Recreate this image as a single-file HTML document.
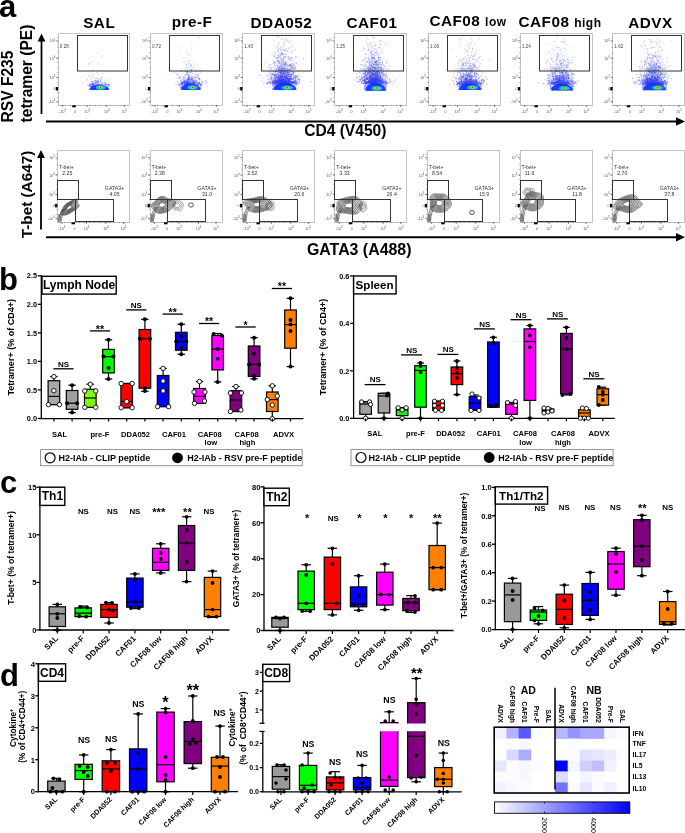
<!DOCTYPE html>
<html><head><meta charset="utf-8"><title>Figure</title>
<style>
html,body{margin:0;padding:0;background:#fff;}
svg{display:block;will-change:transform;}
text{font-family:"Liberation Sans",sans-serif;}
</style></head><body>
<svg width="685" height="833" viewBox="0 0 685 833">
<rect width="685" height="833" fill="#fff"/>
<text x="-1" y="17" font-size="31" text-anchor="start" font-weight="bold" fill="#000">a</text>
<text x="99.2" y="27.6" font-size="15.3" text-anchor="middle" font-weight="bold" fill="#000" letter-spacing="0.5">SAL</text>
<text x="192" y="27.4" font-size="15.3" text-anchor="middle" font-weight="bold" fill="#000" letter-spacing="0.5">pre-F</text>
<text x="281.4" y="27.6" font-size="15.3" text-anchor="middle" font-weight="bold" fill="#000" letter-spacing="0.5">DDA052</text>
<text x="372" y="27.6" font-size="15.3" text-anchor="middle" font-weight="bold" fill="#000" letter-spacing="0.5">CAF01</text>
<text x="468" y="26.2" font-size="15.3" text-anchor="middle" font-weight="bold" fill="#000" letter-spacing="0.5">CAF08 <tspan font-size="12">low</tspan></text>
<text x="560" y="26.5" font-size="15.3" text-anchor="middle" font-weight="bold" fill="#000" letter-spacing="0.5">CAF08 <tspan font-size="12">high</tspan></text>
<text x="650.5" y="27.8" font-size="15.3" text-anchor="middle" font-weight="bold" fill="#000" letter-spacing="0.5">ADVX</text>
<text transform="translate(13.3,86.5) rotate(-90)" font-size="15.6" font-weight="bold" text-anchor="middle">RSV F235</text>
<text transform="translate(31.8,73.5) rotate(-90)" font-size="15.6" font-weight="bold" text-anchor="middle">tetramer (PE)</text>
<text transform="translate(31.6,194.5) rotate(-90)" font-size="15.3" font-weight="bold" text-anchor="middle">T-bet (A647)</text>
<line x1="41.5" y1="40" x2="41.5" y2="114" stroke="#000" stroke-width="1.8"/>
<polygon points="37.6,41.5 45.4,41.5 41.5,33.5" fill="#000"/>
<line x1="46" y1="121.5" x2="678" y2="121.5" stroke="#000" stroke-width="2"/>
<polygon points="676,117.3 685,121.5 676,125.7" fill="#000"/>
<line x1="41" y1="157" x2="41" y2="229.5" stroke="#000" stroke-width="1.8"/>
<polygon points="37.1,158 44.9,158 41,150" fill="#000"/>
<line x1="46" y1="237.3" x2="678" y2="237.3" stroke="#000" stroke-width="2"/>
<polygon points="676,233.1 685,237.3 676,241.5" fill="#000"/>
<text x="345.3" y="136.2" font-size="15.6" text-anchor="middle" font-weight="bold" fill="#000">CD4 (V450)</text>
<text x="359.2" y="254.9" font-size="15.9" text-anchor="middle" font-weight="bold" fill="#000">GATA3 (A488)</text>
<defs><radialGradient id="hot"><stop offset="0" stop-color="#e00000"/><stop offset="0.14" stop-color="#ffb000"/><stop offset="0.26" stop-color="#40e040"/><stop offset="0.42" stop-color="#00c8ff"/><stop offset="0.62" stop-color="#0050ff"/><stop offset="0.85" stop-color="#1020f0" stop-opacity="0.85"/><stop offset="1" stop-color="#3040ff" stop-opacity="0"/></radialGradient><linearGradient id="cbar" x1="0" x2="1" y1="0" y2="0"><stop offset="0" stop-color="#ffffff"/><stop offset="1" stop-color="#0000ff"/></linearGradient></defs>
<defs><filter id="bl" x="-20%" y="-20%" width="140%" height="140%"><feGaussianBlur stdDeviation="0.55"/></filter><filter id="bl2" x="-20%" y="-20%" width="140%" height="140%"><feGaussianBlur stdDeviation="0.35"/></filter></defs>
<rect x="58.5" y="33.5" width="71" height="72" fill="none" stroke="#c4c4c4" stroke-width="1"/>
<line x1="56.2" y1="40.8" x2="58.2" y2="40.8" stroke="#333" stroke-width="0.6"/>
<text x="55.4" y="42.1" font-size="3.6" text-anchor="end" font-weight="normal" fill="#555">10<tspan dy="-1.6" font-size="2.8">5</tspan></text>
<line x1="56.2" y1="58.3" x2="58.2" y2="58.3" stroke="#333" stroke-width="0.6"/>
<text x="55.4" y="59.6" font-size="3.6" text-anchor="end" font-weight="normal" fill="#555">10<tspan dy="-1.6" font-size="2.8">4</tspan></text>
<line x1="56.2" y1="77.6" x2="58.2" y2="77.6" stroke="#333" stroke-width="0.6"/>
<text x="55.4" y="78.9" font-size="3.6" text-anchor="end" font-weight="normal" fill="#555">10<tspan dy="-1.6" font-size="2.8">3</tspan></text>
<line x1="56.2" y1="88.9" x2="58.2" y2="88.9" stroke="#333" stroke-width="0.6"/>
<text x="55.4" y="90.2" font-size="3.6" text-anchor="end" font-weight="normal" fill="#555">0</text>
<line x1="56.2" y1="101.4" x2="58.2" y2="101.4" stroke="#333" stroke-width="0.6"/>
<text x="55.4" y="102.7" font-size="3.6" text-anchor="end" font-weight="normal" fill="#555">-10<tspan dy="-1.6" font-size="2.8">3</tspan></text>
<line x1="57.2" y1="37.5" x2="58.2" y2="37.5" stroke="#555" stroke-width="0.5"/>
<line x1="57.2" y1="42.5" x2="58.2" y2="42.5" stroke="#555" stroke-width="0.5"/>
<line x1="57.2" y1="47.5" x2="58.2" y2="47.5" stroke="#555" stroke-width="0.5"/>
<line x1="57.2" y1="52.5" x2="58.2" y2="52.5" stroke="#555" stroke-width="0.5"/>
<line x1="57.2" y1="57.5" x2="58.2" y2="57.5" stroke="#555" stroke-width="0.5"/>
<line x1="57.2" y1="62.5" x2="58.2" y2="62.5" stroke="#555" stroke-width="0.5"/>
<line x1="57.2" y1="67.5" x2="58.2" y2="67.5" stroke="#555" stroke-width="0.5"/>
<line x1="57.2" y1="72.5" x2="58.2" y2="72.5" stroke="#555" stroke-width="0.5"/>
<line x1="57.2" y1="77.5" x2="58.2" y2="77.5" stroke="#555" stroke-width="0.5"/>
<line x1="57.2" y1="82.5" x2="58.2" y2="82.5" stroke="#555" stroke-width="0.5"/>
<line x1="57.2" y1="87.5" x2="58.2" y2="87.5" stroke="#555" stroke-width="0.5"/>
<line x1="57.2" y1="92.5" x2="58.2" y2="92.5" stroke="#555" stroke-width="0.5"/>
<line x1="57.2" y1="97.5" x2="58.2" y2="97.5" stroke="#555" stroke-width="0.5"/>
<line x1="57.2" y1="102.5" x2="58.2" y2="102.5" stroke="#555" stroke-width="0.5"/>
<rect x="55.8" y="87" width="2.2" height="3.5" fill="#000" stroke="none" stroke-width="0"/>
<line x1="62.7" y1="105" x2="62.7" y2="107" stroke="#333" stroke-width="0.6"/>
<text x="62.7" y="112.5" font-size="3.6" text-anchor="middle" font-weight="normal" fill="#555">-10<tspan dy="-1.6" font-size="2.8">3</tspan></text>
<line x1="75.2" y1="105" x2="75.2" y2="107" stroke="#333" stroke-width="0.6"/>
<text x="75.2" y="112.5" font-size="3.6" text-anchor="middle" font-weight="normal" fill="#555">0</text>
<line x1="87.2" y1="105" x2="87.2" y2="107" stroke="#333" stroke-width="0.6"/>
<text x="87.2" y="112.5" font-size="3.6" text-anchor="middle" font-weight="normal" fill="#555">10<tspan dy="-1.6" font-size="2.8">3</tspan></text>
<line x1="106.7" y1="105" x2="106.7" y2="107" stroke="#333" stroke-width="0.6"/>
<text x="106.7" y="112.5" font-size="3.6" text-anchor="middle" font-weight="normal" fill="#555">10<tspan dy="-1.6" font-size="2.8">4</tspan></text>
<line x1="124.2" y1="105" x2="124.2" y2="107" stroke="#333" stroke-width="0.6"/>
<text x="124.2" y="112.5" font-size="3.6" text-anchor="middle" font-weight="normal" fill="#555">10<tspan dy="-1.6" font-size="2.8">5</tspan></text>
<line x1="60.2" y1="105" x2="60.2" y2="106" stroke="#555" stroke-width="0.5"/>
<line x1="65.2" y1="105" x2="65.2" y2="106" stroke="#555" stroke-width="0.5"/>
<line x1="70.2" y1="105" x2="70.2" y2="106" stroke="#555" stroke-width="0.5"/>
<line x1="75.2" y1="105" x2="75.2" y2="106" stroke="#555" stroke-width="0.5"/>
<line x1="80.2" y1="105" x2="80.2" y2="106" stroke="#555" stroke-width="0.5"/>
<line x1="85.2" y1="105" x2="85.2" y2="106" stroke="#555" stroke-width="0.5"/>
<line x1="90.2" y1="105" x2="90.2" y2="106" stroke="#555" stroke-width="0.5"/>
<line x1="95.2" y1="105" x2="95.2" y2="106" stroke="#555" stroke-width="0.5"/>
<line x1="100.2" y1="105" x2="100.2" y2="106" stroke="#555" stroke-width="0.5"/>
<line x1="105.2" y1="105" x2="105.2" y2="106" stroke="#555" stroke-width="0.5"/>
<line x1="110.2" y1="105" x2="110.2" y2="106" stroke="#555" stroke-width="0.5"/>
<line x1="115.2" y1="105" x2="115.2" y2="106" stroke="#555" stroke-width="0.5"/>
<line x1="120.2" y1="105" x2="120.2" y2="106" stroke="#555" stroke-width="0.5"/>
<line x1="125.2" y1="105" x2="125.2" y2="106" stroke="#555" stroke-width="0.5"/>
<rect x="72.2" y="105.3" width="3.5" height="2" fill="#000" stroke="none" stroke-width="0"/>
<path d="M97.7 81.4h0M99.2 80.7h0M96.3 83.9h0M93.2 74.4h0M95.4 80.9h0M92.7 81.0h0M98.0 84.4h0M104.5 80.1h0M95.2 80.2h0M94.6 80.2h0M100.2 82.2h0M99.5 79.0h0M98.2 78.1h0M93.0 81.9h0M97.6 83.1h0M101.2 77.6h0M90.9 81.8h0M95.4 81.5h0M88.1 84.0h0M91.2 83.5h0M88.4 76.2h0M96.5 81.6h0M91.3 84.4h0M99.1 79.1h0M98.5 82.5h0M96.8 72.6h0M85.0 81.1h0M95.0 80.5h0M97.5 82.7h0M98.3 84.4h0M90.0 62.7h0M95.3 82.6h0M92.8 76.1h0M93.6 83.9h0M103.0 73.4h0M93.6 84.4h0M97.5 81.0h0M102.2 84.1h0M94.8 83.7h0M97.1 78.1h0M98.3 73.8h0M98.0 81.8h0M91.5 78.6h0M98.1 80.1h0M104.5 82.6h0M89.9 75.5h0M102.0 77.1h0M98.3 83.1h0M94.5 81.6h0M107.8 79.9h0M101.5 79.9h0M91.7 84.2h0M98.1 63.1h0M100.6 84.5h0M96.7 78.8h0M101.1 79.3h0M97.4 83.3h0M101.1 81.8h0M105.0 83.0h0M94.3 84.4h0M98.6 64.3h0M97.7 53.2h0M89.0 63.6h0M93.0 61.5h0M88.4 64.3h0M102.1 56.2h0M99.5 86.2h0M99.6 83.7h0M107.5 88.9h0M104.3 87.0h0M100.9 86.0h0M97.7 87.0h0M107.1 88.1h0M97.3 85.9h0M108.1 88.8h0M90.1 89.4h0M97.7 86.0h0M99.6 84.4h0M108.7 88.4h0M94.0 89.9h0M105.6 84.4h0M102.9 88.1h0M103.8 88.8h0M101.9 89.4h0M109.1 84.3h0M95.7 84.1h0M97.1 89.8h0M93.0 84.2h0M89.8 84.6h0M93.2 87.2h0M107.9 86.4h0M106.3 88.3h0M91.1 84.7h0M101.4 89.4h0M98.8 84.9h0M101.2 88.4h0M102.5 83.9h0M95.1 86.5h0M108.9 83.7h0M98.5 85.5h0M101.9 85.5h0M102.0 88.1h0M92.6 86.4h0M90.0 83.9h0M97.3 89.9h0M104.7 89.2h0M105.8 89.4h0M104.0 85.1h0M91.1 86.0h0M107.9 85.0h0M105.5 84.3h0M107.1 83.7h0M99.7 86.7h0M107.9 84.3h0M89.7 84.6h0M89.3 89.0h0M89.1 86.6h0M94.0 84.7h0M93.9 87.8h0M92.6 85.2h0M100.6 86.9h0M89.5 85.3h0M101.1 86.8h0M92.2 87.5h0M102.9 86.9h0M89.1 86.0h0M95.2 88.6h0M108.4 89.1h0M100.0 84.6h0M105.7 84.4h0M102.5 84.2h0M101.5 89.8h0M92.7 89.5h0M100.8 85.0h0M89.5 89.7h0M105.5 84.8h0M108.9 86.7h0M106.6 86.7h0M89.8 89.4h0M95.8 83.8h0M95.4 85.5h0M91.1 87.3h0M101.9 83.9h0M105.4 85.0h0M95.3 86.5h0M106.8 89.1h0M105.4 88.4h0M91.4 88.8h0M104.8 88.4h0M107.2 88.0h0M92.8 88.9h0M100.7 87.9h0M102.1 88.2h0M101.5 85.4h0M90.7 84.6h0M102.6 88.3h0M102.0 84.6h0M106.0 89.4h0M105.6 87.3h0M95.6 85.6h0M103.9 89.5h0M106.9 84.5h0M107.5 86.8h0M92.1 84.1h0M89.3 89.7h0M102.4 87.2h0M93.2 88.6h0M100.5 85.3h0M108.5 88.6h0M96.7 88.0h0M94.0 87.6h0M98.3 89.6h0M102.5 86.3h0M90.8 86.2h0M96.7 87.9h0M91.5 88.8h0M102.6 85.6h0M106.1 87.8h0M96.6 84.8h0M96.5 87.0h0M100.0 88.4h0M93.2 83.9h0M93.9 88.2h0M95.6 83.6h0M98.3 89.6h0M90.4 86.5h0M104.5 86.1h0M100.9 88.1h0M95.0 86.8h0M90.3 88.2h0M104.7 84.0h0M91.5 87.1h0M91.5 87.1h0M91.4 89.5h0M90.4 83.8h0M107.7 86.4h0M94.4 87.5h0M95.1 87.0h0M106.2 84.0h0M101.7 87.3h0M92.6 84.9h0M97.8 84.8h0M107.3 89.1h0M96.6 84.8h0M103.6 86.4h0M90.7 88.3h0M104.0 88.0h0M105.0 87.0h0M106.0 88.7h0M102.9 86.5h0M96.5 87.5h0M90.0 88.7h0M99.6 87.8h0M104.6 87.6h0M92.7 86.1h0M94.3 87.1h0M100.0 86.0h0M104.4 88.3h0M107.5 85.9h0M91.3 86.5h0M92.6 88.3h0M105.5 86.7h0M102.2 85.7h0M103.8 88.8h0M109.6 85.9h0M108.4 88.9h0M106.4 88.5h0M105.0 86.4h0M97.0 88.1h0M102.2 83.7h0M92.6 86.0h0M104.6 89.0h0M104.6 87.2h0M103.8 87.1h0M98.0 87.8h0M96.6 87.8h0" stroke="#2030e8" stroke-width="0.5" stroke-linecap="square" opacity="0.6"/>
<path d="M100.4 81.4h0M93.6 84.5h0M94.1 85.7h0M101.5 85.2h0M93.9 84.5h0M100.7 81.0h0M92.7 70.5h0M91.3 84.8h0M87.8 85.0h0M108.8 85.1h0M96.4 82.7h0M99.6 84.6h0M98.0 85.3h0M99.1 84.9h0M98.5 81.1h0M109.0 85.0h0M92.3 83.4h0M89.4 85.8h0M92.5 85.6h0M90.6 85.4h0M102.4 85.3h0M102.9 85.4h0M92.7 82.2h0M90.3 85.8h0M96.2 85.6h0M106.1 84.8h0M82.2 82.9h0M101.2 86.0h0M92.1 83.9h0M104.1 84.7h0M92.1 85.0h0M96.6 81.0h0M89.7 85.5h0M92.7 84.6h0M106.1 84.7h0M102.9 82.9h0M95.9 82.2h0M93.3 84.7h0M87.5 79.9h0M96.0 82.3h0M98.0 85.2h0M97.7 86.0h0M97.7 81.0h0M91.8 81.9h0M97.8 83.3h0M98.0 85.8h0M105.5 83.0h0M108.8 84.6h0M97.4 85.5h0M93.9 83.2h0M97.8 85.9h0M94.8 77.8h0M94.0 83.4h0M97.9 84.5h0" stroke="#1a22f0" stroke-width="0.6" stroke-linecap="square" opacity="0.75"/>
<g filter="url(#bl)">
<path d="M90.2 89.9 L108.7 89.9 C109.7 87.4 104.7 84.7 99.5 84.7 C93.2 84.7 89.2 86.4 90.2 89.9 Z" fill="#1030ff" opacity="0.92"/>
<ellipse cx="100.6" cy="87.5" rx="4.8" ry="2.2" fill="#00c0ff"/>
<ellipse cx="100.6" cy="87.4" rx="3" ry="1.6" fill="#30e060"/>
<ellipse cx="100.6" cy="87.3" rx="1.7" ry="1.1" fill="#ffd000"/>
<ellipse cx="100.6" cy="87.3" rx="0.8" ry="0.75" fill="#ff2000"/>
</g>
<rect x="77.5" y="35.5" width="50" height="35.5" fill="none" stroke="#333" stroke-width="1"/>
<text x="59.8" y="47.5" font-size="4.6" text-anchor="start" font-weight="normal" fill="#444">0.28</text>
<rect x="150.5" y="33.5" width="72" height="72" fill="none" stroke="#c4c4c4" stroke-width="1"/>
<line x1="148.4" y1="40.8" x2="150.4" y2="40.8" stroke="#333" stroke-width="0.6"/>
<text x="147.6" y="42.1" font-size="3.6" text-anchor="end" font-weight="normal" fill="#555">10<tspan dy="-1.6" font-size="2.8">5</tspan></text>
<line x1="148.4" y1="58.3" x2="150.4" y2="58.3" stroke="#333" stroke-width="0.6"/>
<text x="147.6" y="59.6" font-size="3.6" text-anchor="end" font-weight="normal" fill="#555">10<tspan dy="-1.6" font-size="2.8">4</tspan></text>
<line x1="148.4" y1="77.6" x2="150.4" y2="77.6" stroke="#333" stroke-width="0.6"/>
<text x="147.6" y="78.9" font-size="3.6" text-anchor="end" font-weight="normal" fill="#555">10<tspan dy="-1.6" font-size="2.8">3</tspan></text>
<line x1="148.4" y1="88.9" x2="150.4" y2="88.9" stroke="#333" stroke-width="0.6"/>
<text x="147.6" y="90.2" font-size="3.6" text-anchor="end" font-weight="normal" fill="#555">0</text>
<line x1="148.4" y1="101.4" x2="150.4" y2="101.4" stroke="#333" stroke-width="0.6"/>
<text x="147.6" y="102.7" font-size="3.6" text-anchor="end" font-weight="normal" fill="#555">-10<tspan dy="-1.6" font-size="2.8">3</tspan></text>
<line x1="149.4" y1="37.5" x2="150.4" y2="37.5" stroke="#555" stroke-width="0.5"/>
<line x1="149.4" y1="42.5" x2="150.4" y2="42.5" stroke="#555" stroke-width="0.5"/>
<line x1="149.4" y1="47.5" x2="150.4" y2="47.5" stroke="#555" stroke-width="0.5"/>
<line x1="149.4" y1="52.5" x2="150.4" y2="52.5" stroke="#555" stroke-width="0.5"/>
<line x1="149.4" y1="57.5" x2="150.4" y2="57.5" stroke="#555" stroke-width="0.5"/>
<line x1="149.4" y1="62.5" x2="150.4" y2="62.5" stroke="#555" stroke-width="0.5"/>
<line x1="149.4" y1="67.5" x2="150.4" y2="67.5" stroke="#555" stroke-width="0.5"/>
<line x1="149.4" y1="72.5" x2="150.4" y2="72.5" stroke="#555" stroke-width="0.5"/>
<line x1="149.4" y1="77.5" x2="150.4" y2="77.5" stroke="#555" stroke-width="0.5"/>
<line x1="149.4" y1="82.5" x2="150.4" y2="82.5" stroke="#555" stroke-width="0.5"/>
<line x1="149.4" y1="87.5" x2="150.4" y2="87.5" stroke="#555" stroke-width="0.5"/>
<line x1="149.4" y1="92.5" x2="150.4" y2="92.5" stroke="#555" stroke-width="0.5"/>
<line x1="149.4" y1="97.5" x2="150.4" y2="97.5" stroke="#555" stroke-width="0.5"/>
<line x1="149.4" y1="102.5" x2="150.4" y2="102.5" stroke="#555" stroke-width="0.5"/>
<rect x="148" y="87" width="2.2" height="3.5" fill="#000" stroke="none" stroke-width="0"/>
<line x1="154.9" y1="105" x2="154.9" y2="107" stroke="#333" stroke-width="0.6"/>
<text x="154.9" y="112.5" font-size="3.6" text-anchor="middle" font-weight="normal" fill="#555">-10<tspan dy="-1.6" font-size="2.8">3</tspan></text>
<line x1="167.4" y1="105" x2="167.4" y2="107" stroke="#333" stroke-width="0.6"/>
<text x="167.4" y="112.5" font-size="3.6" text-anchor="middle" font-weight="normal" fill="#555">0</text>
<line x1="179.4" y1="105" x2="179.4" y2="107" stroke="#333" stroke-width="0.6"/>
<text x="179.4" y="112.5" font-size="3.6" text-anchor="middle" font-weight="normal" fill="#555">10<tspan dy="-1.6" font-size="2.8">3</tspan></text>
<line x1="198.9" y1="105" x2="198.9" y2="107" stroke="#333" stroke-width="0.6"/>
<text x="198.9" y="112.5" font-size="3.6" text-anchor="middle" font-weight="normal" fill="#555">10<tspan dy="-1.6" font-size="2.8">4</tspan></text>
<line x1="216.4" y1="105" x2="216.4" y2="107" stroke="#333" stroke-width="0.6"/>
<text x="216.4" y="112.5" font-size="3.6" text-anchor="middle" font-weight="normal" fill="#555">10<tspan dy="-1.6" font-size="2.8">5</tspan></text>
<line x1="152.4" y1="105" x2="152.4" y2="106" stroke="#555" stroke-width="0.5"/>
<line x1="157.4" y1="105" x2="157.4" y2="106" stroke="#555" stroke-width="0.5"/>
<line x1="162.4" y1="105" x2="162.4" y2="106" stroke="#555" stroke-width="0.5"/>
<line x1="167.4" y1="105" x2="167.4" y2="106" stroke="#555" stroke-width="0.5"/>
<line x1="172.4" y1="105" x2="172.4" y2="106" stroke="#555" stroke-width="0.5"/>
<line x1="177.4" y1="105" x2="177.4" y2="106" stroke="#555" stroke-width="0.5"/>
<line x1="182.4" y1="105" x2="182.4" y2="106" stroke="#555" stroke-width="0.5"/>
<line x1="187.4" y1="105" x2="187.4" y2="106" stroke="#555" stroke-width="0.5"/>
<line x1="192.4" y1="105" x2="192.4" y2="106" stroke="#555" stroke-width="0.5"/>
<line x1="197.4" y1="105" x2="197.4" y2="106" stroke="#555" stroke-width="0.5"/>
<line x1="202.4" y1="105" x2="202.4" y2="106" stroke="#555" stroke-width="0.5"/>
<line x1="207.4" y1="105" x2="207.4" y2="106" stroke="#555" stroke-width="0.5"/>
<line x1="212.4" y1="105" x2="212.4" y2="106" stroke="#555" stroke-width="0.5"/>
<line x1="217.4" y1="105" x2="217.4" y2="106" stroke="#555" stroke-width="0.5"/>
<rect x="164.4" y="105.3" width="3.5" height="2" fill="#000" stroke="none" stroke-width="0"/>
<path d="M195.7 70.9h0M187.2 70.8h0M190.5 67.0h0M198.2 73.3h0M197.4 82.4h0M188.6 79.5h0M187.9 79.7h0M182.6 79.5h0M185.6 75.3h0M191.3 78.5h0M191.2 79.9h0M189.7 74.1h0M194.3 80.8h0M185.2 79.3h0M188.9 79.2h0M192.9 78.8h0M192.2 83.2h0M194.7 82.2h0M191.2 83.1h0M187.6 71.7h0M191.0 79.7h0M184.0 77.1h0M180.7 79.1h0M192.1 80.1h0M188.9 80.4h0M190.7 80.3h0M180.4 77.5h0M187.3 75.1h0M186.1 82.0h0M184.7 81.3h0M177.5 82.6h0M187.4 81.9h0M193.8 83.0h0M191.1 69.7h0M186.0 64.1h0M189.1 81.0h0M193.1 77.4h0M174.9 83.2h0M188.5 79.0h0M192.0 70.9h0M192.7 82.5h0M197.9 83.0h0M195.0 79.3h0M190.8 76.1h0M190.7 82.8h0M193.2 80.7h0M186.4 83.0h0M188.9 60.4h0M193.8 82.8h0M199.3 81.6h0M188.3 82.6h0M188.9 71.7h0M190.2 79.8h0M196.1 80.5h0M189.0 75.6h0M196.7 76.7h0M184.2 82.9h0M188.2 79.6h0M188.1 75.2h0M193.2 81.1h0M194.5 80.3h0M181.4 83.2h0M184.4 83.5h0M190.9 83.2h0M185.8 82.3h0M181.3 83.2h0M194.5 78.0h0M191.7 76.2h0M191.7 82.7h0M186.7 83.3h0M194.5 65.8h0M187.9 74.4h0M194.8 83.1h0M184.4 78.3h0M184.7 83.2h0M190.2 80.8h0M185.5 70.2h0M192.6 79.1h0M190.5 81.4h0M184.4 83.4h0M189.5 82.4h0M187.3 83.4h0M193.9 83.2h0M185.9 82.1h0M186.9 83.3h0M195.4 82.6h0M200.7 73.3h0M199.5 79.2h0M189.5 78.2h0M190.3 82.5h0M197.1 81.3h0M188.5 77.3h0M184.1 80.7h0M189.8 72.6h0M191.5 82.7h0M184.9 82.5h0M180.7 80.4h0M181.7 71.5h0M192.6 79.2h0M185.2 83.5h0M188.4 76.9h0M190.2 82.9h0M192.3 82.6h0M187.4 71.9h0M191.7 79.8h0M184.6 74.2h0M187.3 82.9h0M183.9 81.0h0M195.0 83.3h0M189.0 80.2h0M185.3 77.7h0M187.3 81.8h0M188.0 67.8h0M192.8 82.1h0M180.9 80.4h0M183.8 77.8h0M187.2 83.4h0M202.2 82.1h0M194.1 80.7h0M188.6 79.2h0M192.8 67.5h0M199.8 69.2h0M187.9 78.5h0M187.3 82.3h0M195.4 80.8h0M191.7 81.7h0M192.6 80.7h0M186.5 83.4h0M199.1 82.4h0M198.0 74.9h0M192.1 74.1h0M192.7 83.2h0M178.7 78.2h0M192.4 82.1h0M188.1 75.6h0M191.4 72.4h0M192.7 76.3h0M187.4 81.6h0M180.4 83.2h0M191.0 78.8h0M185.3 74.8h0M187.4 81.0h0M186.0 71.7h0M187.4 71.3h0M177.2 81.8h0M195.4 68.4h0M190.5 83.5h0M194.9 77.5h0M199.4 81.2h0M189.3 82.8h0M179.8 77.6h0M184.5 71.2h0M182.9 82.6h0M186.6 79.1h0M189.6 77.8h0M178.8 83.5h0M190.9 81.5h0M181.4 82.7h0M190.7 70.4h0M188.6 79.8h0M187.5 82.9h0M188.8 81.1h0M186.4 67.0h0M186.0 80.2h0M180.5 78.6h0M189.0 68.2h0M198.7 78.7h0M199.4 79.2h0M196.0 77.6h0M192.8 79.4h0M185.7 69.4h0M196.6 80.0h0M188.9 70.0h0M188.8 77.2h0M187.6 80.6h0M189.6 70.6h0M186.9 83.2h0M188.7 75.1h0M183.6 77.6h0M187.2 80.3h0M200.9 83.4h0M188.8 77.9h0M187.9 77.6h0M191.9 79.8h0M192.8 81.9h0M183.4 79.5h0M188.1 78.0h0M193.9 76.0h0M190.5 72.6h0M189.8 80.8h0M197.2 71.7h0M185.7 81.9h0M189.6 72.2h0M186.5 80.2h0M196.8 80.3h0M179.1 77.3h0M185.7 83.0h0M186.4 72.8h0M192.6 80.2h0M192.3 82.1h0M196.3 78.2h0M181.0 70.5h0M193.0 73.1h0M187.6 82.8h0M185.7 83.1h0M191.9 77.3h0M184.4 81.4h0M178.4 78.6h0M187.2 73.8h0M181.4 82.0h0M191.8 43.8h0M185.7 58.4h0M191.3 65.2h0M191.5 71.3h0M187.7 54.0h0M199.2 37.6h0M191.4 64.7h0M198.1 65.2h0M194.2 61.7h0M186.5 65.0h0M187.8 61.1h0M191.7 48.3h0M189.9 61.7h0M189.9 64.1h0M188.3 65.7h0M181.1 70.0h0M188.6 55.5h0M179.2 54.1h0M191.4 69.7h0M186.2 64.1h0M186.3 51.5h0M188.6 63.6h0M190.9 65.8h0M182.9 57.7h0M181.4 47.2h0M191.0 86.6h0M198.7 85.8h0M190.0 87.3h0M189.9 89.6h0M186.0 83.5h0M199.7 89.6h0M186.7 87.4h0M194.8 88.4h0M188.7 87.2h0M200.0 88.9h0M200.3 84.9h0M180.5 87.7h0M201.3 84.5h0M192.9 86.3h0M181.5 87.5h0M190.6 84.0h0M181.0 83.0h0M191.7 88.4h0M183.9 88.5h0M187.8 87.4h0M186.5 84.9h0M192.8 87.4h0M197.6 83.1h0M200.0 87.4h0M187.0 86.8h0M192.1 87.1h0M180.0 85.8h0M187.9 84.2h0M200.6 87.9h0M182.5 85.9h0M198.6 88.0h0M193.9 85.2h0M186.2 83.1h0M196.6 86.5h0M186.1 87.1h0M199.1 89.3h0M181.7 89.1h0M182.5 82.9h0M196.0 88.2h0M189.6 84.4h0M183.1 87.7h0M190.9 85.3h0M186.3 84.9h0M191.7 86.1h0M195.9 86.4h0M198.3 87.6h0M181.2 87.2h0M192.6 87.5h0M201.0 85.3h0M189.8 87.5h0M196.4 85.1h0M182.0 87.0h0M198.7 85.9h0M192.4 86.7h0M199.0 82.6h0M196.8 86.2h0M198.6 84.1h0M181.1 85.4h0M195.3 83.0h0M184.1 87.4h0M185.6 89.1h0M186.9 85.1h0M192.6 83.3h0M193.4 87.1h0M199.9 83.4h0M180.2 89.1h0M184.1 83.4h0M187.7 85.2h0M197.5 86.2h0M191.7 83.4h0M190.9 84.9h0M196.2 84.5h0M194.0 87.8h0M186.1 89.8h0M181.8 85.2h0M189.8 88.4h0M198.8 83.5h0M192.8 86.8h0M181.0 85.7h0M189.4 84.6h0M188.2 88.6h0M192.4 88.0h0M192.5 83.5h0M200.4 84.7h0M187.2 88.6h0M188.7 89.8h0M193.1 87.0h0M199.0 89.0h0M195.1 89.8h0M190.0 88.0h0M197.4 87.3h0M190.3 84.1h0M200.6 85.2h0M186.0 87.1h0M182.6 89.4h0M197.8 84.7h0M186.3 85.4h0M198.1 82.7h0M193.0 87.7h0M190.8 85.8h0M181.8 88.4h0M196.8 84.2h0M181.3 87.4h0M200.7 87.5h0M198.8 85.9h0M186.4 83.9h0M182.6 85.5h0M198.9 88.0h0M190.2 83.9h0M182.6 83.2h0M190.6 85.9h0M185.2 84.2h0M188.7 88.4h0M193.7 88.5h0M199.6 89.5h0M197.1 88.7h0M183.4 87.3h0M190.2 83.9h0M190.5 88.6h0M201.2 87.9h0M181.8 88.0h0M190.9 87.7h0M199.6 88.6h0M188.5 84.7h0M185.5 87.5h0M191.9 86.3h0M186.8 85.0h0M199.8 84.9h0M181.7 83.7h0M184.3 86.1h0M181.7 85.2h0M195.2 85.6h0M186.2 88.8h0M199.3 87.5h0M199.1 87.5h0M200.0 89.8h0M185.4 84.1h0M179.9 86.3h0M188.2 83.2h0M200.6 85.4h0M196.3 89.5h0M181.2 83.1h0M195.0 88.1h0M199.6 88.9h0M200.7 86.3h0M195.3 88.4h0M198.5 85.8h0M198.0 85.1h0M187.6 86.2h0M182.0 83.9h0M195.5 84.8h0M182.8 84.8h0M188.2 89.8h0M201.3 85.0h0M191.9 84.2h0M191.1 89.5h0M200.3 83.5h0M186.0 89.6h0M201.4 88.8h0M199.5 87.3h0M187.7 85.7h0M186.9 84.0h0M182.6 83.3h0M199.6 83.3h0M183.9 85.1h0M180.1 85.5h0M199.0 89.3h0M192.8 86.5h0M194.3 89.8h0M195.7 87.8h0M180.8 83.6h0M181.9 86.6h0M190.6 83.7h0M181.0 82.8h0M190.7 89.5h0M195.7 85.0h0M194.0 83.9h0M193.2 83.3h0M180.9 87.3h0M185.0 85.9h0M199.2 82.6h0M182.5 87.8h0M191.4 84.4h0M181.0 88.3h0M200.1 86.1h0M183.6 86.5h0M188.7 85.9h0M191.7 87.5h0M195.4 89.8h0M200.1 88.4h0M195.7 83.0h0M187.4 86.2h0M181.5 84.2h0M195.1 83.3h0M200.8 83.9h0M180.3 84.3h0M196.6 89.6h0M183.7 88.0h0M189.8 88.8h0M191.1 87.7h0M193.1 84.8h0M201.2 85.4h0M194.7 85.8h0M188.3 84.7h0M195.3 85.6h0M189.9 88.2h0M188.8 83.1h0M187.8 84.5h0M190.5 86.0h0M185.9 87.5h0M185.1 87.3h0M183.1 87.9h0M189.4 83.3h0M186.2 83.8h0M197.9 84.8h0M198.1 84.6h0M187.3 88.1h0M193.2 89.9h0M199.3 87.6h0M187.6 82.7h0" stroke="#2030e8" stroke-width="0.5" stroke-linecap="square" opacity="0.6"/>
<path d="M186.8 83.3h0M194.0 84.1h0M193.4 81.8h0M186.3 81.1h0M184.4 84.4h0M191.3 84.9h0M189.1 83.5h0M195.6 83.1h0M205.1 80.5h0M194.5 82.9h0M189.4 82.3h0M188.7 83.7h0M184.7 83.6h0M184.4 76.9h0M183.8 81.7h0M187.4 84.3h0M187.2 83.6h0M194.0 83.5h0M187.3 84.3h0M188.5 79.9h0M182.6 84.7h0M199.2 83.5h0M192.6 83.5h0M200.0 78.9h0M194.3 83.1h0M198.3 84.2h0M188.2 81.4h0M193.8 78.1h0M205.4 82.8h0M182.5 82.8h0M196.5 84.5h0M199.5 83.0h0M192.1 81.2h0M194.1 84.9h0M197.1 82.2h0M185.8 82.7h0M192.1 79.0h0M184.5 83.3h0M185.6 81.2h0M186.0 84.4h0M188.8 83.1h0M190.5 84.9h0M192.3 84.7h0M181.2 82.0h0M201.4 70.3h0M196.5 82.9h0M194.0 82.1h0M187.5 83.9h0M189.1 84.6h0M192.9 84.9h0M192.1 79.7h0M179.7 84.9h0M194.1 81.9h0M207.0 82.2h0M178.7 85.0h0M195.6 74.8h0M191.8 84.3h0M189.0 82.2h0M197.8 84.0h0M182.6 81.9h0M190.6 84.5h0M198.4 75.2h0M188.5 83.0h0M187.2 83.0h0M190.3 82.7h0M187.0 82.4h0M198.9 83.4h0M184.2 61.8h0M194.9 83.1h0M182.2 84.2h0M193.6 84.7h0M189.0 75.7h0M174.2 72.4h0M189.6 84.3h0M183.3 82.7h0M187.0 81.5h0M198.8 78.7h0M183.0 82.9h0M183.3 83.5h0M198.2 84.7h0M190.3 79.4h0M198.8 77.1h0M191.6 84.8h0M184.4 81.6h0M189.3 78.2h0M197.0 85.0h0M195.3 84.2h0M189.7 76.8h0M189.9 84.3h0M189.0 79.5h0M186.2 71.5h0M201.2 84.7h0M189.7 78.6h0M182.9 77.6h0M186.8 79.6h0M194.0 82.9h0M193.5 80.8h0M188.8 83.9h0M185.7 82.8h0M189.8 84.5h0M179.7 76.2h0M181.9 84.2h0M194.4 83.7h0M186.8 80.8h0M191.9 77.4h0M196.9 82.1h0M193.5 84.7h0M189.8 81.9h0M202.4 81.6h0M193.6 82.4h0M187.5 82.5h0M194.0 83.8h0M192.1 69.7h0M184.5 82.8h0M190.1 77.9h0M188.7 82.9h0M177.9 74.9h0M188.6 77.1h0M188.0 73.0h0M187.0 82.6h0M179.8 84.3h0M187.5 82.9h0M189.4 83.8h0M190.3 84.7h0M182.9 81.2h0M193.4 83.2h0M182.4 83.5h0M188.3 84.8h0M197.4 76.7h0M185.5 84.6h0M186.6 82.4h0M196.1 77.5h0M187.4 79.6h0M187.9 82.2h0M191.0 84.3h0M195.9 82.1h0M176.5 73.9h0M184.7 82.8h0M183.6 82.8h0M183.2 81.2h0M184.6 84.1h0M184.6 81.5h0M191.4 81.1h0M184.4 81.3h0M190.4 83.1h0M192.0 82.7h0M185.3 83.1h0M190.4 83.7h0M199.4 78.8h0M191.6 84.5h0M185.9 84.9h0M189.3 80.6h0M184.2 80.1h0M191.3 84.8h0M194.8 80.9h0M184.8 80.8h0M188.4 82.8h0M196.3 74.8h0M186.7 82.4h0M190.8 84.6h0M183.6 82.4h0M184.8 81.3h0M186.6 74.9h0M202.3 83.0h0M187.3 82.6h0M186.6 72.6h0M186.4 84.1h0M188.7 81.0h0M193.5 84.2h0M190.7 85.0h0M201.6 84.8h0M190.9 83.8h0M198.1 84.6h0M191.3 70.0h0M193.2 81.3h0M181.3 81.3h0M188.9 84.0h0M189.2 83.7h0M188.2 78.2h0M177.2 84.4h0M194.8 81.5h0M187.4 80.4h0M187.1 83.1h0M188.2 78.9h0M188.3 83.3h0M192.0 83.1h0M182.3 83.9h0M184.2 84.6h0M191.3 78.4h0" stroke="#1a22f0" stroke-width="0.6" stroke-linecap="square" opacity="0.75"/>
<g filter="url(#bl)">
<path d="M181.4 89.9 L200.4 89.9 C201.4 87.4 196.4 83.7 190.9 83.7 C184.4 83.7 180.4 86.4 181.4 89.9 Z" fill="#1030ff" opacity="0.92"/>
<ellipse cx="192.5" cy="87.5" rx="4.9" ry="2.2" fill="#00c0ff"/>
<ellipse cx="192.5" cy="87.4" rx="3" ry="1.6" fill="#30e060"/>
<ellipse cx="192.5" cy="87.3" rx="1.7" ry="1.1" fill="#ffd000"/>
<ellipse cx="192.5" cy="87.3" rx="0.9" ry="0.75" fill="#ff2000"/>
</g>
<rect x="169.5" y="35.5" width="50" height="35.5" fill="none" stroke="#333" stroke-width="1"/>
<text x="152" y="47.5" font-size="4.6" text-anchor="start" font-weight="normal" fill="#444">0.72</text>
<rect x="242.5" y="33.5" width="72" height="72" fill="none" stroke="#c4c4c4" stroke-width="1"/>
<line x1="240.6" y1="40.8" x2="242.6" y2="40.8" stroke="#333" stroke-width="0.6"/>
<text x="239.8" y="42.1" font-size="3.6" text-anchor="end" font-weight="normal" fill="#555">10<tspan dy="-1.6" font-size="2.8">5</tspan></text>
<line x1="240.6" y1="58.3" x2="242.6" y2="58.3" stroke="#333" stroke-width="0.6"/>
<text x="239.8" y="59.6" font-size="3.6" text-anchor="end" font-weight="normal" fill="#555">10<tspan dy="-1.6" font-size="2.8">4</tspan></text>
<line x1="240.6" y1="77.6" x2="242.6" y2="77.6" stroke="#333" stroke-width="0.6"/>
<text x="239.8" y="78.9" font-size="3.6" text-anchor="end" font-weight="normal" fill="#555">10<tspan dy="-1.6" font-size="2.8">3</tspan></text>
<line x1="240.6" y1="88.9" x2="242.6" y2="88.9" stroke="#333" stroke-width="0.6"/>
<text x="239.8" y="90.2" font-size="3.6" text-anchor="end" font-weight="normal" fill="#555">0</text>
<line x1="240.6" y1="101.4" x2="242.6" y2="101.4" stroke="#333" stroke-width="0.6"/>
<text x="239.8" y="102.7" font-size="3.6" text-anchor="end" font-weight="normal" fill="#555">-10<tspan dy="-1.6" font-size="2.8">3</tspan></text>
<line x1="241.6" y1="37.5" x2="242.6" y2="37.5" stroke="#555" stroke-width="0.5"/>
<line x1="241.6" y1="42.5" x2="242.6" y2="42.5" stroke="#555" stroke-width="0.5"/>
<line x1="241.6" y1="47.5" x2="242.6" y2="47.5" stroke="#555" stroke-width="0.5"/>
<line x1="241.6" y1="52.5" x2="242.6" y2="52.5" stroke="#555" stroke-width="0.5"/>
<line x1="241.6" y1="57.5" x2="242.6" y2="57.5" stroke="#555" stroke-width="0.5"/>
<line x1="241.6" y1="62.5" x2="242.6" y2="62.5" stroke="#555" stroke-width="0.5"/>
<line x1="241.6" y1="67.5" x2="242.6" y2="67.5" stroke="#555" stroke-width="0.5"/>
<line x1="241.6" y1="72.5" x2="242.6" y2="72.5" stroke="#555" stroke-width="0.5"/>
<line x1="241.6" y1="77.5" x2="242.6" y2="77.5" stroke="#555" stroke-width="0.5"/>
<line x1="241.6" y1="82.5" x2="242.6" y2="82.5" stroke="#555" stroke-width="0.5"/>
<line x1="241.6" y1="87.5" x2="242.6" y2="87.5" stroke="#555" stroke-width="0.5"/>
<line x1="241.6" y1="92.5" x2="242.6" y2="92.5" stroke="#555" stroke-width="0.5"/>
<line x1="241.6" y1="97.5" x2="242.6" y2="97.5" stroke="#555" stroke-width="0.5"/>
<line x1="241.6" y1="102.5" x2="242.6" y2="102.5" stroke="#555" stroke-width="0.5"/>
<rect x="240.2" y="87" width="2.2" height="3.5" fill="#000" stroke="none" stroke-width="0"/>
<line x1="247.1" y1="105" x2="247.1" y2="107" stroke="#333" stroke-width="0.6"/>
<text x="247.1" y="112.5" font-size="3.6" text-anchor="middle" font-weight="normal" fill="#555">-10<tspan dy="-1.6" font-size="2.8">3</tspan></text>
<line x1="259.6" y1="105" x2="259.6" y2="107" stroke="#333" stroke-width="0.6"/>
<text x="259.6" y="112.5" font-size="3.6" text-anchor="middle" font-weight="normal" fill="#555">0</text>
<line x1="271.6" y1="105" x2="271.6" y2="107" stroke="#333" stroke-width="0.6"/>
<text x="271.6" y="112.5" font-size="3.6" text-anchor="middle" font-weight="normal" fill="#555">10<tspan dy="-1.6" font-size="2.8">3</tspan></text>
<line x1="291.1" y1="105" x2="291.1" y2="107" stroke="#333" stroke-width="0.6"/>
<text x="291.1" y="112.5" font-size="3.6" text-anchor="middle" font-weight="normal" fill="#555">10<tspan dy="-1.6" font-size="2.8">4</tspan></text>
<line x1="308.6" y1="105" x2="308.6" y2="107" stroke="#333" stroke-width="0.6"/>
<text x="308.6" y="112.5" font-size="3.6" text-anchor="middle" font-weight="normal" fill="#555">10<tspan dy="-1.6" font-size="2.8">5</tspan></text>
<line x1="244.6" y1="105" x2="244.6" y2="106" stroke="#555" stroke-width="0.5"/>
<line x1="249.6" y1="105" x2="249.6" y2="106" stroke="#555" stroke-width="0.5"/>
<line x1="254.6" y1="105" x2="254.6" y2="106" stroke="#555" stroke-width="0.5"/>
<line x1="259.6" y1="105" x2="259.6" y2="106" stroke="#555" stroke-width="0.5"/>
<line x1="264.6" y1="105" x2="264.6" y2="106" stroke="#555" stroke-width="0.5"/>
<line x1="269.6" y1="105" x2="269.6" y2="106" stroke="#555" stroke-width="0.5"/>
<line x1="274.6" y1="105" x2="274.6" y2="106" stroke="#555" stroke-width="0.5"/>
<line x1="279.6" y1="105" x2="279.6" y2="106" stroke="#555" stroke-width="0.5"/>
<line x1="284.6" y1="105" x2="284.6" y2="106" stroke="#555" stroke-width="0.5"/>
<line x1="289.6" y1="105" x2="289.6" y2="106" stroke="#555" stroke-width="0.5"/>
<line x1="294.6" y1="105" x2="294.6" y2="106" stroke="#555" stroke-width="0.5"/>
<line x1="299.6" y1="105" x2="299.6" y2="106" stroke="#555" stroke-width="0.5"/>
<line x1="304.6" y1="105" x2="304.6" y2="106" stroke="#555" stroke-width="0.5"/>
<line x1="309.6" y1="105" x2="309.6" y2="106" stroke="#555" stroke-width="0.5"/>
<rect x="256.6" y="105.3" width="3.5" height="2" fill="#000" stroke="none" stroke-width="0"/>
<path d="M282.6 82.5h0M289.1 81.8h0M282.7 77.9h0M281.7 76.7h0M295.3 80.4h0M281.4 66.9h0M275.6 71.0h0M278.9 81.9h0M281.3 78.7h0M296.0 75.7h0M284.4 82.2h0M288.8 78.1h0M277.2 58.3h0M285.3 76.8h0M287.2 70.8h0M293.9 65.8h0M279.1 72.6h0M286.8 64.0h0M285.0 79.2h0M277.1 81.8h0M283.1 82.0h0M281.6 71.3h0M269.4 81.3h0M286.8 80.9h0M286.4 77.9h0M280.6 73.3h0M275.2 71.4h0M292.0 81.8h0M284.8 78.8h0M289.3 80.9h0M291.6 82.0h0M280.1 79.9h0M288.0 82.0h0M281.8 74.9h0M282.8 75.5h0M282.7 75.1h0M283.2 80.0h0M289.8 65.2h0M283.9 77.4h0M282.3 68.7h0M281.6 76.1h0M285.2 77.7h0M277.9 79.6h0M280.2 76.7h0M282.9 82.4h0M279.8 81.1h0M282.5 80.4h0M279.6 79.9h0M295.1 72.7h0M291.1 66.2h0M285.9 80.5h0M282.9 80.2h0M296.2 75.5h0M285.1 79.4h0M282.7 81.3h0M285.0 57.8h0M285.0 71.0h0M291.6 70.9h0M283.1 77.4h0M295.7 80.4h0M278.0 75.4h0M287.3 79.6h0M277.2 82.1h0M294.0 77.2h0M281.2 77.3h0M282.9 76.2h0M288.7 65.4h0M290.7 79.0h0M276.6 70.0h0M281.1 73.5h0M274.9 78.2h0M284.0 79.3h0M282.6 69.1h0M281.1 46.8h0M279.1 63.0h0M280.9 62.1h0M278.8 77.2h0M286.3 76.9h0M292.2 79.6h0M271.7 74.7h0M282.5 81.1h0M280.7 69.5h0M286.1 78.0h0M277.5 81.1h0M282.3 79.1h0M277.0 73.2h0M287.3 64.6h0M283.8 74.7h0M282.2 64.7h0M285.4 50.5h0M281.7 80.2h0M274.0 63.2h0M286.7 79.1h0M284.9 74.5h0M282.3 80.0h0M289.1 77.4h0M290.5 76.2h0M276.7 79.0h0M278.6 44.6h0M292.4 67.6h0M291.6 81.7h0M278.8 81.9h0M276.2 82.4h0M279.4 71.0h0M280.2 80.1h0M273.8 57.0h0M283.4 73.1h0M275.6 70.3h0M276.0 81.2h0M288.7 73.9h0M279.1 82.4h0M282.8 62.6h0M286.9 72.8h0M288.0 76.5h0M281.2 81.0h0M283.5 74.1h0M278.3 74.8h0M293.6 75.5h0M287.1 78.8h0M276.6 71.6h0M283.2 73.2h0M287.4 74.4h0M286.1 48.5h0M294.1 69.0h0M291.4 68.3h0M280.0 72.7h0M282.7 54.2h0M275.6 72.6h0M284.7 65.7h0M284.1 81.9h0M299.3 79.7h0M283.8 45.6h0M270.7 81.7h0M279.2 80.9h0M283.9 67.1h0M275.7 71.1h0M278.0 81.1h0M281.0 67.0h0M285.2 70.6h0M282.2 79.1h0M277.9 60.8h0M287.9 80.3h0M280.0 80.8h0M280.2 81.0h0M275.0 73.1h0M278.5 51.5h0M273.6 82.4h0M282.8 82.2h0M287.5 78.1h0M281.0 72.3h0M284.6 76.9h0M276.6 65.0h0M291.0 60.2h0M289.8 63.6h0M284.6 73.1h0M272.8 82.4h0M277.0 81.1h0M289.0 49.1h0M293.4 67.8h0M285.0 79.4h0M290.6 78.2h0M279.6 80.5h0M282.1 68.8h0M283.2 79.5h0M285.7 74.4h0M274.1 79.2h0M288.8 80.8h0M291.1 60.1h0M276.4 75.8h0M275.1 77.8h0M285.3 76.7h0M279.3 74.3h0M269.1 79.8h0M288.0 41.3h0M284.1 81.1h0M280.4 71.8h0M295.8 68.2h0M284.0 73.4h0M278.7 75.7h0M283.8 81.6h0M277.0 81.9h0M278.7 73.8h0M285.5 81.4h0M279.9 75.4h0M280.5 80.2h0M293.1 69.1h0M288.3 79.0h0M288.0 70.1h0M286.3 81.4h0M286.1 75.4h0M291.9 77.1h0M283.1 68.5h0M294.2 69.3h0M277.5 58.0h0M281.7 72.0h0M275.0 79.7h0M281.2 49.9h0M286.3 35.5h0M291.8 53.5h0M279.3 68.0h0M283.2 79.0h0M281.1 71.0h0M278.8 60.7h0M276.1 78.6h0M283.6 73.1h0M272.9 81.2h0M283.9 81.6h0M283.3 76.0h0M279.3 81.5h0M277.2 80.3h0M275.0 78.4h0M294.3 67.2h0M275.2 68.6h0M292.5 66.7h0M286.8 78.1h0M281.0 74.4h0M276.3 80.0h0M289.4 81.9h0M293.5 75.4h0M277.6 80.8h0M281.4 78.4h0M289.5 73.4h0M285.2 63.0h0M295.1 76.6h0M279.8 72.3h0M286.4 72.5h0M275.8 81.5h0M295.7 82.1h0M278.9 77.6h0M270.1 75.6h0M282.5 80.2h0M282.4 80.5h0M294.6 76.6h0M281.2 77.1h0M283.1 39.1h0M286.7 81.7h0M292.6 69.3h0M282.8 66.5h0M289.4 79.5h0M286.3 50.0h0M281.4 75.8h0M283.7 61.7h0M283.4 81.8h0M277.7 78.7h0M290.4 60.5h0M275.0 45.7h0M290.2 79.1h0M288.9 57.0h0M282.6 81.4h0M278.6 82.2h0M281.9 77.3h0M286.0 75.7h0M287.6 68.2h0M284.9 80.8h0M289.1 51.8h0M279.9 56.4h0M284.6 63.8h0M273.9 60.9h0M287.7 77.8h0M284.1 81.4h0M280.7 73.3h0M290.1 81.0h0M287.3 80.1h0M266.4 75.9h0M283.4 71.9h0M274.5 64.7h0M289.5 76.8h0M298.0 71.1h0M280.1 56.4h0M283.6 49.8h0M281.7 70.1h0M285.3 68.5h0M287.0 74.5h0M290.9 72.6h0M277.3 67.9h0M292.6 73.3h0M277.7 80.1h0M284.8 80.9h0M290.1 74.3h0M287.4 50.9h0M277.6 73.1h0M279.0 81.7h0M280.4 65.4h0M282.9 82.1h0M290.0 71.3h0M275.5 71.7h0M286.0 71.9h0M286.8 82.4h0M286.5 82.2h0M286.0 77.0h0M292.2 79.4h0M286.1 76.0h0M288.3 73.7h0M286.6 82.0h0M293.9 80.5h0M271.9 75.5h0M290.8 47.8h0M281.6 80.1h0M281.5 71.1h0M277.4 47.3h0M272.1 80.3h0M280.9 72.5h0M279.1 77.8h0M286.1 69.6h0M274.4 65.5h0M291.7 80.9h0M284.8 69.8h0M281.7 79.1h0M279.0 52.6h0M278.5 81.9h0M276.5 76.3h0M283.2 82.3h0M282.1 75.3h0M274.8 79.0h0M281.6 76.7h0M277.9 81.1h0M284.2 50.0h0M294.3 81.0h0M286.9 72.1h0M273.5 80.2h0M274.8 78.6h0M273.2 67.8h0M287.5 82.3h0M278.6 71.8h0M283.6 78.9h0M279.5 78.8h0M283.7 69.0h0M291.5 81.7h0M279.1 81.3h0M281.2 74.9h0M278.4 57.2h0M288.4 80.8h0M277.1 77.3h0M276.5 82.3h0M274.9 76.6h0M274.8 78.3h0M286.0 66.9h0M298.5 64.8h0M277.3 74.0h0M288.9 48.1h0M284.7 74.0h0M276.6 79.0h0M281.6 76.9h0M281.8 75.4h0M279.1 61.9h0M294.7 66.0h0M271.9 55.7h0M285.5 66.6h0M285.2 81.0h0M279.8 77.6h0M284.1 82.0h0M288.4 59.6h0M284.1 82.2h0M285.7 77.4h0M287.3 72.1h0M292.0 46.5h0M296.8 80.8h0M289.0 77.2h0M289.2 76.8h0M274.8 81.0h0M282.5 66.0h0M278.4 69.6h0M279.7 75.5h0M289.0 58.5h0M278.4 77.3h0M282.4 73.7h0M271.8 71.1h0M282.3 79.5h0M283.7 79.0h0M279.0 76.6h0M278.9 78.1h0M294.4 81.1h0M276.0 71.2h0M276.9 80.2h0M278.4 74.6h0M290.3 81.6h0M295.7 69.4h0M285.2 71.0h0M278.9 60.5h0M280.7 74.6h0M289.5 42.9h0M277.8 81.8h0M291.8 74.3h0M291.6 76.0h0M283.6 76.8h0M287.0 74.9h0M287.7 56.8h0M292.5 73.5h0M276.9 77.6h0M290.2 75.8h0M281.0 76.4h0M278.6 82.3h0M283.8 76.0h0M281.9 52.3h0M277.3 46.5h0M273.7 61.6h0M277.6 76.5h0M291.8 58.1h0M294.9 76.2h0M287.1 72.7h0M290.3 74.3h0M280.1 80.5h0M282.7 54.0h0M284.9 71.5h0M276.8 61.4h0M277.3 80.6h0M283.8 50.9h0M281.3 67.2h0M276.9 80.8h0M285.5 81.3h0M281.6 61.7h0M289.3 78.9h0M283.2 80.9h0M281.4 34.9h0M284.0 79.1h0M282.2 60.8h0M279.2 66.5h0M280.8 70.7h0M287.7 74.8h0M287.0 79.6h0M290.9 71.2h0M273.1 73.1h0M280.9 61.7h0M280.7 79.5h0M280.5 70.8h0M280.1 58.4h0M287.9 66.3h0M284.3 72.7h0M276.3 75.4h0M291.1 70.5h0M289.1 81.7h0M279.8 82.1h0M288.1 79.1h0M278.8 76.4h0M289.9 82.4h0M281.9 80.1h0M278.4 80.4h0M281.0 47.4h0M278.6 72.7h0M284.3 76.3h0M284.2 68.0h0M283.4 73.3h0M279.9 49.0h0M261.4 80.6h0M283.8 68.5h0M271.9 81.7h0M284.7 82.4h0M289.9 66.5h0M284.8 81.6h0M280.9 78.0h0M282.1 79.6h0M282.4 80.6h0M279.9 79.8h0M279.7 63.0h0M277.7 76.6h0M290.3 79.1h0M283.1 77.2h0M288.9 79.1h0M281.7 80.3h0M283.6 70.2h0M282.2 73.8h0M286.0 76.3h0M288.1 65.5h0M284.6 81.8h0M279.2 75.6h0M278.6 55.2h0M293.1 80.0h0M281.5 82.4h0M281.5 80.9h0M291.9 68.7h0M289.7 81.8h0M286.4 81.8h0M280.8 71.8h0M297.2 82.3h0M285.5 81.9h0M286.5 72.6h0M282.2 74.9h0M274.8 82.2h0M275.3 58.2h0M285.6 80.6h0M285.5 76.3h0M281.8 74.6h0M276.2 81.0h0M274.6 74.8h0M281.2 66.9h0M274.5 63.7h0M288.6 80.1h0M290.1 64.9h0M300.0 76.9h0M288.4 69.8h0M279.7 73.5h0M278.0 79.6h0M262.7 78.1h0M279.7 70.2h0M282.1 78.8h0M289.0 65.7h0M286.8 65.9h0M286.7 75.8h0M284.5 76.7h0M287.1 72.5h0M291.8 65.8h0M276.9 81.3h0M280.5 81.7h0M274.9 52.8h0M292.8 75.1h0M290.9 79.1h0M287.7 75.6h0M276.1 78.3h0M284.2 81.1h0M281.8 79.5h0M283.7 80.9h0M282.1 64.7h0M286.3 81.8h0M280.8 78.1h0M288.3 78.5h0M284.6 77.5h0M281.5 81.2h0M282.5 67.1h0M280.6 76.2h0M288.0 78.9h0M281.6 71.8h0M285.0 65.6h0M280.9 55.7h0M274.4 56.3h0M288.6 80.6h0M276.9 79.5h0M287.2 77.5h0M285.7 65.6h0M273.3 74.5h0M277.6 65.1h0M280.1 49.8h0M278.3 58.3h0M276.2 69.1h0M287.6 80.4h0M281.8 78.9h0M285.5 73.3h0M285.0 63.3h0M278.7 73.0h0M283.0 72.6h0M286.7 75.1h0M283.5 75.2h0M280.5 81.3h0M276.7 73.5h0M284.2 82.3h0M285.3 72.1h0M281.7 54.5h0M278.6 80.7h0M286.4 70.3h0M298.0 75.0h0M281.4 79.3h0M285.2 72.0h0M285.4 81.3h0M267.9 75.4h0M283.9 58.4h0M279.0 61.6h0M291.4 78.3h0M281.7 75.6h0M278.6 74.6h0M281.9 82.3h0M284.2 78.0h0M279.9 68.1h0M282.9 77.4h0M275.1 81.9h0M281.9 67.2h0M287.8 70.2h0M294.9 76.5h0M287.4 73.4h0M284.8 75.5h0M290.2 65.8h0M289.3 70.0h0M293.1 82.5h0M289.6 72.4h0M282.5 80.5h0M284.7 77.2h0M284.3 74.1h0M285.0 67.6h0M284.4 63.5h0M278.5 77.7h0M270.7 64.4h0M279.2 57.1h0M271.1 78.1h0M283.6 69.1h0M283.2 81.2h0M273.2 82.4h0M287.3 62.1h0M288.4 74.4h0M283.8 77.3h0M293.1 77.9h0M294.3 82.0h0M276.0 65.5h0M289.4 80.2h0M285.8 39.2h0M285.7 78.2h0M288.8 74.2h0M278.9 56.8h0M279.7 81.9h0M278.3 67.8h0M278.7 79.2h0M282.6 76.5h0M274.6 62.5h0M277.0 73.1h0M286.6 82.1h0M282.8 78.8h0M285.5 81.5h0M272.0 82.3h0M278.5 76.8h0M279.9 79.1h0M283.4 70.6h0M279.7 77.2h0M288.8 81.2h0M282.9 53.4h0M283.3 80.7h0M283.3 73.4h0M287.4 78.6h0M280.4 81.0h0M289.9 76.5h0M285.9 77.1h0M284.1 82.5h0M283.4 58.8h0M286.3 63.4h0M289.2 78.8h0M288.8 76.6h0M285.4 64.5h0M288.4 56.7h0M283.9 44.2h0M290.7 75.7h0M283.0 68.9h0M270.8 69.3h0M291.2 57.6h0M283.8 77.7h0M276.2 70.9h0M282.0 68.5h0M277.9 51.0h0M295.7 79.4h0M286.2 75.4h0M273.9 61.3h0M286.5 75.7h0M280.8 71.7h0M294.6 80.0h0M276.9 78.6h0M269.8 81.9h0M283.6 60.1h0M281.1 81.1h0M280.7 77.5h0M270.5 77.7h0M285.7 79.1h0M293.2 82.1h0M271.8 77.4h0M290.2 78.1h0M279.8 80.8h0M297.2 78.8h0M285.8 75.6h0M282.1 77.5h0M289.8 64.5h0M286.3 81.5h0M279.7 54.4h0M287.4 74.7h0M280.2 64.7h0M272.6 73.8h0M295.3 77.5h0M281.1 49.0h0M279.6 62.1h0M285.2 62.6h0M273.9 40.5h0M275.1 75.1h0M280.2 80.2h0M280.1 79.7h0M283.6 68.6h0M289.9 69.1h0M280.4 81.0h0M286.1 72.8h0M286.8 70.0h0M276.7 81.0h0M277.6 56.1h0M289.5 59.6h0M285.9 80.0h0M283.3 76.5h0M275.2 78.5h0M283.9 81.9h0M278.6 77.3h0M287.4 80.8h0M282.5 70.5h0M278.4 77.2h0M288.7 69.0h0M287.5 78.5h0M279.7 75.5h0M290.1 64.7h0M281.4 77.1h0M281.4 50.2h0M283.9 76.9h0M278.7 70.9h0M280.6 80.6h0M282.2 81.9h0M292.3 63.5h0M292.1 58.2h0M281.7 52.7h0M292.8 71.7h0M282.9 60.4h0M285.5 54.4h0M288.5 75.0h0M284.9 80.9h0M297.6 76.5h0M284.6 80.1h0M276.1 62.5h0M291.0 75.9h0M280.7 76.8h0M281.4 68.2h0M265.4 63.0h0M289.2 57.8h0M288.1 59.5h0M288.0 74.8h0M293.3 72.8h0M283.2 63.2h0M282.7 62.4h0M289.2 67.2h0M281.2 69.3h0M283.0 64.4h0M283.7 63.9h0M284.3 50.2h0M282.8 71.3h0M289.2 70.3h0M283.7 61.2h0M284.6 63.5h0M278.2 67.6h0M279.2 61.8h0M278.0 65.3h0M284.8 51.1h0M279.8 67.4h0M277.9 49.9h0M285.0 42.9h0M286.6 69.8h0M274.1 69.5h0M292.9 61.9h0M283.9 54.4h0M283.1 66.8h0M289.5 69.4h0M280.4 59.0h0M295.7 49.8h0M277.8 63.2h0M283.2 55.2h0M277.9 62.2h0M285.8 61.9h0M296.8 62.6h0M278.8 48.5h0M283.4 56.7h0M287.3 70.0h0M284.1 68.6h0M277.1 46.4h0M285.9 68.8h0M284.3 67.5h0M286.1 62.7h0M289.9 64.5h0M289.2 66.1h0M285.9 62.4h0M285.4 68.4h0M277.7 36.9h0M283.0 70.7h0M284.9 62.6h0M281.5 65.2h0M284.2 56.7h0M292.1 64.0h0M295.4 57.2h0M281.6 66.8h0M285.9 70.9h0M286.1 53.4h0M284.1 69.5h0M282.5 69.7h0M284.4 65.8h0M278.2 66.4h0M287.4 65.1h0M279.8 68.4h0M286.6 38.3h0M284.4 70.6h0M289.7 69.6h0M283.6 41.8h0M289.3 62.6h0M278.7 42.6h0M287.0 66.6h0M282.5 64.6h0M284.8 63.9h0M284.1 69.6h0M285.5 61.7h0M275.5 53.6h0M290.3 36.7h0M272.9 63.7h0M278.2 60.8h0M274.6 66.0h0M292.6 45.0h0M276.7 59.0h0M284.3 67.4h0M280.8 68.4h0M273.9 55.7h0M281.9 54.8h0M287.3 51.5h0M282.7 62.6h0M288.8 69.1h0M281.7 61.1h0M283.7 65.8h0M281.6 68.1h0M285.6 56.9h0M294.1 50.1h0M285.7 71.4h0M284.8 40.0h0M280.3 70.1h0M279.6 69.2h0M291.7 65.4h0M277.6 49.6h0M278.7 70.2h0M283.2 60.0h0M281.4 63.7h0M294.4 59.9h0M270.8 68.7h0M285.7 71.7h0M287.6 40.8h0M277.6 66.7h0M280.2 67.5h0M286.1 55.7h0M292.6 67.3h0M278.7 61.9h0M275.1 56.3h0M289.0 65.8h0M292.0 51.0h0M281.9 66.8h0M271.6 69.1h0M291.6 66.2h0M282.6 62.8h0M289.8 58.0h0M283.5 59.8h0M281.7 57.8h0M281.2 58.9h0M291.7 52.6h0M291.5 67.4h0M272.0 67.1h0M278.6 36.7h0M293.4 65.1h0M281.7 39.3h0M276.3 68.2h0M283.7 46.2h0M283.2 57.2h0M281.1 53.6h0M281.2 69.6h0M285.5 68.6h0M279.3 70.2h0M282.1 69.2h0M282.9 53.3h0M290.8 41.6h0M285.7 69.3h0M283.1 69.3h0M286.6 64.3h0M285.9 54.4h0M283.0 87.8h0M293.0 82.4h0M285.1 85.1h0M286.9 82.1h0M275.0 81.6h0M273.9 84.7h0M295.9 84.0h0M280.9 89.0h0M295.8 81.6h0M280.6 87.1h0M288.2 87.8h0M288.7 85.1h0M274.5 85.8h0M274.1 83.6h0M283.3 83.7h0M275.5 82.0h0M279.6 89.3h0M277.2 81.7h0M280.1 82.7h0M283.6 87.7h0M280.0 85.4h0M280.6 85.9h0M284.4 84.0h0M289.2 82.9h0M273.3 88.4h0M297.0 82.6h0M283.0 84.0h0M295.2 88.0h0M272.5 84.1h0M273.7 89.7h0M274.8 83.0h0M294.9 86.0h0M282.5 86.1h0M293.3 85.8h0M289.5 88.2h0M274.5 81.9h0M281.3 86.2h0M280.5 88.3h0M283.5 81.9h0M291.0 86.2h0M274.4 85.3h0M295.3 85.0h0M284.1 86.1h0M281.4 86.9h0M289.6 87.6h0M279.2 89.2h0M290.0 87.1h0M282.6 90.1h0M284.2 87.2h0M277.0 83.8h0M277.3 82.8h0M293.7 82.1h0M286.6 83.8h0M282.8 82.5h0M291.5 87.4h0M294.9 87.4h0M276.2 86.8h0M297.1 84.8h0M272.7 85.5h0M287.5 83.7h0M278.8 89.4h0M278.6 81.6h0M284.6 84.3h0M287.3 86.4h0M283.1 83.1h0M290.0 88.8h0M295.9 85.6h0M276.5 84.7h0M278.2 82.0h0M287.4 83.9h0M282.5 86.6h0M280.1 83.9h0M284.8 81.9h0M289.6 86.5h0M294.8 84.1h0M295.6 88.8h0M292.6 87.4h0M280.9 87.7h0M294.2 89.2h0M289.9 88.5h0M276.6 84.3h0M295.9 86.4h0M278.4 83.7h0M289.2 83.2h0M289.5 83.3h0M294.8 82.5h0M288.8 83.6h0M296.7 83.4h0M273.8 87.3h0M273.2 83.7h0M277.2 81.9h0M286.6 85.1h0M282.8 83.2h0M274.3 87.4h0M277.3 83.4h0M286.7 86.3h0M282.3 83.0h0M291.2 85.6h0M283.9 89.0h0M294.1 84.1h0M291.1 86.0h0M284.6 85.3h0M281.2 82.1h0M277.6 81.7h0M279.5 88.7h0M281.1 84.4h0M281.3 87.4h0M276.7 85.0h0M284.0 88.7h0M275.1 83.2h0M293.8 85.7h0M285.9 86.2h0M274.7 88.3h0M280.4 81.8h0M278.6 84.6h0M276.2 85.6h0M284.2 86.6h0M276.8 82.7h0M276.1 86.2h0M289.7 87.5h0M283.0 87.8h0M289.0 83.4h0M284.0 85.3h0M284.8 84.1h0M280.0 84.8h0M282.9 84.6h0M284.2 89.6h0M280.8 81.6h0M292.8 89.7h0M278.4 81.8h0M277.8 82.2h0M280.8 83.3h0M291.8 84.0h0M293.3 88.9h0M286.3 88.7h0M281.2 89.5h0M288.4 84.9h0M292.8 81.6h0M278.3 86.9h0M288.9 89.2h0M289.9 82.4h0M282.0 88.6h0M275.9 81.5h0M287.4 87.8h0M277.5 85.7h0M281.4 89.3h0M285.8 89.0h0M296.2 81.9h0M275.9 85.8h0M274.1 83.6h0M285.7 85.3h0M295.7 82.1h0M273.4 84.6h0M288.2 85.0h0M273.0 81.5h0M286.0 85.6h0M275.3 89.2h0M288.6 82.0h0M281.3 89.6h0M288.5 85.7h0M278.7 83.3h0M274.2 89.8h0M276.8 85.6h0M279.1 85.3h0M276.4 84.7h0M277.2 89.1h0M285.8 82.6h0M283.2 83.3h0M292.8 83.9h0M284.6 82.0h0M285.7 88.8h0M289.9 85.7h0M293.5 86.7h0M286.8 89.1h0M273.2 85.8h0M283.7 83.9h0M273.1 86.1h0M287.3 85.8h0M273.9 84.1h0M285.7 83.5h0M276.0 84.6h0M293.5 87.8h0M274.6 82.9h0M288.7 90.1h0M289.8 83.5h0M279.1 83.8h0M287.0 82.6h0M280.5 84.9h0M278.7 84.7h0M278.7 87.4h0M272.7 89.2h0M289.0 83.6h0M274.1 88.5h0M277.2 84.2h0M274.5 85.0h0M292.2 82.6h0M285.4 89.2h0M283.9 84.7h0M286.8 87.5h0M292.3 81.7h0M287.8 87.5h0M285.0 83.4h0M280.1 85.4h0M285.1 87.3h0M296.8 83.0h0M286.4 86.0h0M284.1 88.7h0M294.3 82.9h0M273.7 85.5h0M273.9 83.1h0M291.9 82.7h0M295.7 85.7h0M273.6 85.4h0M272.9 87.0h0M272.5 88.9h0M286.6 87.6h0M275.7 84.4h0M286.2 85.7h0M288.8 87.3h0M272.7 88.7h0M293.9 87.4h0M278.6 85.8h0M286.0 82.6h0M281.1 89.0h0M280.8 83.9h0M282.3 85.0h0M272.4 89.1h0M282.9 83.3h0M278.9 89.4h0M281.2 83.5h0M276.3 82.3h0M280.6 85.9h0M289.6 88.3h0M296.7 85.0h0M277.2 88.7h0M293.8 84.9h0M287.5 88.5h0M274.8 82.5h0M272.7 83.9h0M294.2 82.6h0M278.1 87.9h0M274.9 85.5h0M288.6 87.1h0M289.8 83.6h0M294.5 87.8h0M284.7 90.0h0M280.0 82.2h0M280.2 84.2h0M277.4 89.0h0M288.1 88.8h0M295.7 89.0h0M274.4 83.4h0M281.9 86.3h0M281.0 82.2h0M274.3 85.2h0M287.1 86.5h0M296.7 83.7h0M279.2 85.1h0M290.3 84.6h0M294.6 82.2h0M279.0 82.1h0M295.1 88.2h0M290.9 81.5h0M288.3 90.0h0M277.1 89.2h0M279.2 90.0h0M274.8 88.3h0M294.5 81.5h0M292.4 82.5h0M274.4 84.2h0M285.5 83.1h0M277.6 82.0h0M291.3 89.4h0M286.5 89.3h0M295.7 88.1h0M290.3 83.7h0M274.8 88.8h0M281.5 88.5h0M286.6 84.3h0M294.9 82.6h0M281.5 82.7h0M277.0 85.0h0M279.3 88.7h0M278.5 82.2h0M276.1 85.2h0M280.8 84.5h0M278.5 89.2h0M285.0 82.8h0M294.5 87.1h0M296.0 84.3h0M276.3 87.1h0M286.4 88.6h0M289.0 88.6h0M276.1 88.8h0M285.5 84.0h0M277.3 83.9h0M281.3 82.6h0M280.3 83.7h0M292.5 82.5h0M278.1 88.2h0M285.7 81.9h0M286.8 83.1h0M280.5 88.3h0M295.3 88.1h0M280.5 89.9h0M280.4 84.8h0M289.5 81.9h0M284.4 88.5h0M290.3 84.0h0M276.1 88.1h0M276.0 81.7h0M290.6 81.8h0M281.9 86.6h0M293.6 87.4h0M278.1 86.3h0M278.3 86.1h0M293.7 86.6h0M281.3 82.6h0M275.0 82.0h0M277.8 84.5h0M291.4 86.2h0M278.9 83.6h0M286.1 83.0h0M293.0 85.3h0M287.4 85.0h0M291.0 83.8h0M296.5 89.5h0M279.7 89.6h0M294.0 81.9h0M286.0 85.6h0M277.3 83.5h0M275.6 84.4h0M280.4 81.7h0M275.7 82.2h0M291.4 81.8h0M286.1 82.6h0M273.4 87.1h0M294.1 82.2h0M287.1 89.1h0M283.3 88.4h0M275.8 83.8h0M284.0 87.4h0M295.0 89.7h0M286.8 82.5h0M283.7 86.3h0M287.4 85.5h0M286.0 84.2h0M287.8 84.0h0M277.2 82.2h0M276.0 87.1h0M272.6 83.2h0M292.9 85.1h0M272.4 89.5h0M278.7 84.5h0M286.8 84.2h0M284.7 89.5h0M294.7 86.5h0M277.6 86.4h0M275.1 83.4h0M276.3 87.0h0M284.6 84.8h0M279.5 86.2h0M283.6 84.9h0M289.4 82.2h0M280.3 89.0h0M288.8 87.4h0M272.8 89.7h0M285.8 84.1h0M294.8 83.9h0M295.5 82.7h0M286.5 84.1h0M296.7 84.3h0M278.1 83.1h0M279.7 83.8h0M283.4 84.0h0M284.9 88.9h0M292.6 85.3h0M283.4 88.6h0M273.5 81.9h0M289.7 83.1h0M277.8 89.7h0M294.2 81.9h0M277.6 82.1h0M279.6 86.0h0M275.7 84.0h0M279.8 83.2h0M287.2 86.7h0M278.9 86.7h0M273.5 83.1h0M286.8 86.1h0" stroke="#2030e8" stroke-width="0.5" stroke-linecap="square" opacity="0.6"/>
<path d="M290.8 82.4h0M280.1 81.0h0M279.2 80.0h0M293.6 72.4h0M288.6 82.3h0M284.8 74.7h0M288.4 83.8h0M289.2 82.8h0M274.2 71.2h0M282.7 70.7h0M275.4 83.5h0M284.1 78.8h0M278.8 77.4h0M292.4 83.3h0M286.8 82.9h0M277.9 77.4h0M283.2 83.5h0M275.2 79.0h0M283.6 83.9h0M287.0 80.2h0M285.1 81.8h0M270.4 83.7h0M281.1 63.9h0M286.7 80.3h0M285.4 79.3h0M291.1 81.8h0M274.7 76.2h0M286.8 76.1h0M279.0 78.1h0M284.6 76.7h0M286.0 82.3h0M287.9 84.0h0M279.5 75.5h0M284.6 73.6h0M275.5 75.4h0M273.9 77.6h0M287.0 83.1h0M283.0 78.2h0M272.5 81.7h0M277.6 83.7h0M283.4 83.8h0M293.7 78.2h0M290.3 79.3h0M288.7 81.7h0M271.4 77.9h0M282.7 74.0h0M286.5 75.6h0M285.9 82.5h0M286.1 73.4h0M281.7 78.4h0M295.1 77.4h0M293.2 83.5h0M282.7 81.7h0M276.8 82.3h0M297.1 80.6h0M279.6 75.4h0M291.3 78.3h0M296.1 63.3h0M277.0 57.5h0M285.3 78.2h0M281.0 80.2h0M286.8 77.8h0M285.5 64.0h0M296.3 82.1h0M287.3 82.6h0M283.2 81.0h0M290.8 66.8h0M281.5 76.3h0M280.9 74.6h0M298.3 83.2h0M277.8 78.1h0M280.0 83.5h0M283.6 72.1h0M276.2 83.7h0M269.2 71.2h0M290.4 83.6h0M278.1 84.0h0M279.7 77.8h0M280.8 83.6h0M276.7 76.4h0M276.1 83.9h0M284.4 73.5h0M299.4 80.2h0M288.2 78.3h0M288.3 84.0h0M273.2 83.6h0M283.1 83.2h0M275.4 81.7h0M288.5 80.9h0M281.8 60.7h0M283.6 77.5h0M282.7 75.5h0M279.4 80.3h0M273.1 82.3h0M287.2 70.2h0M274.0 71.9h0M275.4 80.5h0M281.3 79.2h0M278.6 68.4h0M285.1 82.4h0M290.1 83.2h0M285.0 70.4h0M284.6 82.7h0M283.5 83.4h0M289.1 82.6h0M270.9 82.9h0M285.8 74.9h0M277.1 81.3h0M275.0 80.6h0M283.3 82.1h0M280.7 54.7h0M287.2 80.5h0M290.7 64.9h0M267.7 79.1h0M282.8 76.9h0M296.4 83.3h0M289.1 83.6h0M293.0 81.5h0M284.0 70.6h0M273.7 80.9h0M275.8 75.6h0M288.1 83.2h0M289.7 83.7h0M278.4 82.0h0M281.5 76.4h0M285.1 82.3h0M271.6 78.4h0M281.0 83.2h0M294.1 72.0h0M297.9 76.5h0M282.6 73.6h0M295.6 83.0h0M279.8 78.7h0M277.9 74.5h0M268.3 82.3h0M289.7 81.7h0M280.8 73.4h0M299.0 83.1h0M285.5 82.4h0M284.6 76.6h0M271.2 79.9h0M293.4 77.9h0M280.9 81.5h0M282.2 80.0h0M268.5 82.2h0M289.5 82.6h0M289.9 78.7h0M279.3 81.9h0M283.9 83.1h0M285.9 80.5h0M289.8 81.6h0M284.0 82.5h0M294.9 83.5h0M281.7 77.4h0M279.3 67.0h0M280.2 66.1h0M266.3 83.4h0M277.9 78.6h0M290.1 69.7h0M285.1 77.2h0M277.8 78.8h0M285.7 82.1h0M269.8 82.3h0M281.4 79.6h0M286.8 81.2h0M288.0 72.1h0M278.1 82.4h0M289.4 79.2h0M295.9 79.1h0M280.5 76.8h0M288.3 79.0h0M272.9 79.3h0M270.2 72.9h0M287.4 78.5h0M283.6 81.1h0M284.7 74.7h0M279.4 70.2h0M281.4 81.8h0M288.8 80.7h0M294.9 81.1h0M281.9 58.9h0M272.3 77.5h0M291.9 75.7h0M287.4 79.9h0M287.9 81.3h0M284.6 76.9h0M298.9 79.5h0M283.9 79.1h0M286.8 76.6h0M270.9 76.3h0M279.5 79.4h0M278.8 72.5h0M283.2 78.4h0M285.7 83.3h0M278.3 76.4h0M295.0 68.4h0M276.2 81.5h0M280.3 73.2h0M285.0 81.9h0M275.0 80.7h0M287.2 83.0h0M287.6 84.0h0M281.4 82.7h0M296.1 76.6h0M283.9 68.8h0M285.2 79.1h0M276.9 75.8h0M272.1 80.8h0M279.1 81.0h0M281.2 78.7h0M280.3 82.4h0M288.5 72.2h0M267.4 83.9h0M275.8 79.9h0M271.1 78.9h0M292.3 79.5h0M279.6 81.7h0M279.9 80.5h0M276.0 74.5h0M289.4 79.6h0M280.6 74.0h0M284.8 64.4h0M269.7 65.1h0M291.2 79.1h0M286.0 83.0h0M287.1 76.5h0M291.6 81.6h0M282.1 79.4h0M282.2 79.5h0M288.2 83.2h0M286.2 72.2h0M281.7 83.9h0M283.7 80.8h0M280.0 80.9h0M288.2 83.9h0M289.6 82.5h0M283.4 73.2h0M296.0 77.1h0M273.1 83.9h0M281.8 80.7h0M294.8 78.4h0M280.5 82.5h0M272.6 81.9h0M292.7 83.3h0M287.0 82.8h0M275.4 75.4h0M288.6 80.2h0M276.5 80.5h0M274.4 82.6h0M282.4 79.8h0M280.2 83.1h0M276.0 81.1h0M280.9 75.5h0M276.6 83.0h0M283.8 79.8h0M283.2 83.9h0M288.4 76.7h0M280.3 81.6h0M274.4 77.2h0M274.5 83.2h0M281.7 83.5h0M293.7 65.1h0M289.1 74.0h0M279.1 81.7h0M289.7 79.3h0M275.6 82.7h0M290.2 80.3h0M280.8 75.7h0M288.5 78.7h0M287.6 79.5h0M281.5 68.4h0M285.6 81.3h0M276.2 82.8h0M282.9 83.7h0M290.7 78.4h0M310.9 81.5h0M288.1 74.5h0M284.0 83.3h0M276.6 69.0h0M290.5 81.3h0M272.3 74.7h0M278.0 83.2h0M285.8 82.1h0M275.3 82.9h0M293.7 79.7h0M290.7 76.7h0M279.6 82.2h0M279.7 80.0h0M274.5 82.9h0M274.0 73.3h0M286.4 81.7h0M287.6 80.1h0M285.8 82.5h0M285.2 80.5h0M279.6 77.8h0M285.8 81.2h0M273.5 74.7h0M283.4 81.3h0M293.3 81.9h0M292.3 78.8h0M280.3 70.2h0M281.1 76.3h0M292.6 71.9h0M295.4 81.3h0M273.3 79.2h0M280.5 80.9h0M285.0 56.6h0M291.6 66.7h0M277.8 81.3h0M287.7 78.4h0M281.4 79.4h0M299.4 81.6h0M286.3 83.2h0M282.5 76.7h0M281.1 83.9h0M290.5 69.4h0M288.0 83.2h0M276.1 77.9h0M284.9 83.8h0M274.4 75.5h0M278.3 70.8h0M274.7 82.3h0M274.5 74.7h0M278.8 81.8h0M276.8 82.2h0M286.9 72.6h0M288.8 83.2h0M281.8 71.3h0M275.9 81.4h0M288.8 74.5h0M269.8 79.5h0M270.4 83.1h0M288.3 82.4h0M287.8 82.8h0M290.0 78.0h0M281.9 72.1h0M274.9 83.0h0M280.0 83.7h0M287.2 82.2h0M278.2 83.9h0M278.7 78.4h0M274.0 83.0h0M275.6 75.5h0M289.1 82.0h0M286.5 77.4h0M275.6 79.7h0M276.1 74.6h0M279.6 63.4h0M287.1 74.0h0M275.5 78.0h0M282.3 82.1h0M269.0 73.7h0M274.9 81.3h0M286.2 78.4h0M289.4 81.4h0M275.6 62.6h0M278.2 80.1h0M288.8 75.7h0M280.8 83.7h0M279.8 83.4h0M286.9 69.2h0M284.7 81.2h0M290.9 83.2h0M288.7 83.9h0M279.5 82.8h0M282.6 83.7h0M283.0 83.7h0M274.3 80.8h0M276.9 80.8h0M289.9 83.8h0M272.7 82.0h0M290.1 83.7h0M285.3 81.7h0M282.5 75.5h0M287.0 76.5h0M286.6 82.5h0M291.5 78.8h0M280.7 78.1h0M281.9 82.8h0M281.8 83.5h0M296.1 56.9h0M289.8 77.7h0M277.2 60.4h0M281.2 82.4h0M278.7 69.5h0M283.5 70.3h0M284.9 82.7h0M298.8 79.5h0M271.2 73.9h0M290.3 76.6h0M286.4 77.5h0M278.7 82.2h0M282.4 79.5h0M280.1 81.9h0M283.8 82.5h0M290.2 83.8h0M273.2 83.1h0M292.3 83.6h0M280.9 83.3h0M293.5 77.6h0M286.2 81.0h0M291.7 79.0h0M287.2 83.2h0M290.7 58.4h0M283.8 83.6h0M277.9 70.4h0M288.0 79.8h0M288.2 81.9h0M297.6 78.5h0M270.0 81.9h0M282.1 81.7h0M290.6 80.0h0M275.1 82.0h0M281.9 82.5h0M297.7 82.1h0M293.0 81.2h0M277.6 83.0h0M293.0 82.2h0M291.4 74.3h0M288.7 82.0h0M286.0 81.0h0M285.1 80.9h0M277.6 79.8h0M280.0 80.1h0M288.4 82.9h0M284.4 81.0h0M295.9 77.5h0M281.3 73.1h0M267.4 83.3h0M281.3 83.9h0M285.4 78.1h0M286.1 81.5h0M284.0 83.4h0M278.0 55.3h0M293.5 82.3h0M279.1 79.2h0M288.3 72.7h0M281.6 69.3h0M275.5 83.5h0M293.0 82.6h0M266.7 82.1h0M277.8 82.9h0M286.4 70.7h0M281.1 79.4h0M288.6 82.8h0M282.9 82.0h0M280.5 78.7h0M298.0 76.7h0M282.1 84.0h0M282.5 70.5h0M276.3 82.8h0M278.5 82.0h0M287.9 83.0h0M287.3 77.7h0M283.6 78.1h0M278.9 80.5h0M288.2 81.8h0M272.1 73.6h0M281.3 53.1h0M281.9 79.7h0M277.9 81.4h0M284.6 80.8h0M279.1 82.1h0M278.2 81.2h0M295.7 83.0h0M288.6 80.2h0M291.6 74.3h0M283.9 75.0h0M290.1 82.7h0M288.8 75.3h0M291.7 83.9h0M299.5 79.2h0M282.1 83.8h0M285.4 83.5h0M283.3 81.7h0M260.1 75.4h0M274.3 80.6h0M283.8 82.5h0M287.9 78.6h0M279.8 82.6h0M291.3 82.7h0M292.2 82.5h0M280.9 80.8h0M293.2 73.2h0M295.4 81.8h0M286.8 81.5h0M277.1 83.9h0M293.5 74.7h0M282.6 83.5h0M281.1 79.9h0M284.5 74.1h0M280.1 82.7h0M290.9 74.6h0M288.9 79.7h0M291.9 83.9h0M287.6 82.8h0M278.4 76.4h0M282.6 83.4h0M289.6 83.4h0M281.0 82.5h0M303.3 58.6h0M282.1 81.6h0M279.8 81.6h0M291.4 77.0h0M288.7 79.4h0M283.5 78.9h0M282.2 82.8h0M286.6 76.8h0M289.3 72.3h0M288.8 80.4h0M281.7 79.4h0M286.6 77.6h0M289.4 80.2h0M288.8 84.0h0M263.0 83.0h0M277.7 70.9h0M278.5 76.7h0M282.2 72.8h0M284.9 72.9h0M289.9 78.7h0M287.8 71.8h0M282.8 82.2h0M283.9 79.9h0M295.5 80.1h0M279.6 77.9h0M285.7 76.7h0M294.2 83.4h0M286.0 78.0h0M270.0 67.8h0M286.2 74.1h0M281.1 80.8h0M282.9 72.8h0M290.7 81.6h0M286.8 79.3h0M281.9 82.0h0M289.7 69.0h0M286.6 80.5h0M284.4 79.6h0M285.7 80.7h0M285.4 79.6h0M281.4 73.4h0M280.6 76.6h0M283.9 75.8h0M277.3 71.4h0M275.3 76.3h0M292.4 74.3h0M282.1 80.6h0M283.5 82.8h0M282.8 82.7h0M283.9 70.9h0M283.9 82.1h0M284.1 79.2h0M278.3 82.8h0M289.9 72.7h0M279.1 68.9h0M290.6 74.8h0M270.9 83.5h0M276.6 80.4h0M290.3 80.8h0M282.7 79.3h0M279.2 82.5h0M286.2 81.2h0M276.7 76.8h0M284.2 64.5h0M268.9 77.1h0M280.7 72.2h0M279.3 81.2h0M287.3 79.3h0M289.6 69.9h0M278.0 83.9h0M294.5 82.7h0M279.7 84.0h0M269.9 83.5h0M267.8 83.4h0M294.0 82.4h0M283.1 81.6h0M279.4 80.1h0M278.7 79.9h0M276.4 78.0h0M292.8 68.4h0M283.1 80.5h0M295.7 75.0h0M282.4 83.9h0M268.0 67.1h0M289.4 78.7h0M281.2 72.4h0M282.1 82.9h0M294.2 63.8h0M281.9 81.9h0M291.5 83.3h0M283.7 80.5h0M278.7 80.1h0M287.1 82.8h0M279.7 75.6h0M291.9 82.0h0M290.1 81.2h0M284.1 83.6h0M287.8 82.6h0M287.5 68.4h0M281.9 80.2h0M289.7 79.8h0M282.2 76.6h0M287.8 81.8h0M277.3 84.0h0M284.4 83.2h0M286.5 83.1h0M278.4 80.0h0M280.9 82.5h0M280.1 80.6h0M288.6 83.9h0M278.9 82.6h0M286.7 83.5h0M293.9 78.5h0M286.1 78.6h0M272.9 75.1h0M284.6 83.6h0M290.7 76.3h0M281.8 76.0h0M291.2 64.6h0M287.9 82.8h0M286.6 80.4h0M282.0 82.9h0M280.3 77.2h0M282.0 80.0h0M284.2 81.7h0M287.3 74.9h0M286.6 83.2h0M281.7 83.0h0M284.2 82.0h0M286.4 76.9h0M272.9 82.4h0M278.6 82.2h0M278.4 82.6h0M282.4 83.4h0M281.9 78.6h0M282.1 83.9h0M277.9 83.1h0M288.3 82.0h0M285.7 78.2h0M272.8 80.9h0M283.9 82.3h0M276.3 81.6h0M295.2 67.2h0M280.7 77.3h0M281.2 70.2h0M284.4 83.3h0M282.5 81.1h0M283.4 81.2h0" stroke="#1a22f0" stroke-width="0.6" stroke-linecap="square" opacity="0.75"/>
<g filter="url(#bl)">
<path d="M273.8 90.1 L296.1 90.1 C297.1 87.6 292.1 82.7 285 82.7 C276.8 82.7 272.8 86.6 273.8 90.1 Z" fill="#1030ff" opacity="0.92"/>
<ellipse cx="287.2" cy="87.7" rx="5.8" ry="2.2" fill="#00c0ff"/>
<ellipse cx="287.2" cy="87.6" rx="3.6" ry="1.6" fill="#30e060"/>
<ellipse cx="287.2" cy="87.5" rx="2" ry="1.1" fill="#ffd000"/>
<ellipse cx="287.2" cy="87.5" rx="1" ry="0.75" fill="#ff2000"/>
</g>
<rect x="261.5" y="35.5" width="50" height="35.5" fill="none" stroke="#333" stroke-width="1"/>
<text x="244.2" y="47.5" font-size="4.6" text-anchor="start" font-weight="normal" fill="#444">1.43</text>
<rect x="334.5" y="33.5" width="72" height="72" fill="none" stroke="#c4c4c4" stroke-width="1"/>
<line x1="332.6" y1="40.8" x2="334.6" y2="40.8" stroke="#333" stroke-width="0.6"/>
<text x="331.8" y="42.1" font-size="3.6" text-anchor="end" font-weight="normal" fill="#555">10<tspan dy="-1.6" font-size="2.8">5</tspan></text>
<line x1="332.6" y1="58.3" x2="334.6" y2="58.3" stroke="#333" stroke-width="0.6"/>
<text x="331.8" y="59.6" font-size="3.6" text-anchor="end" font-weight="normal" fill="#555">10<tspan dy="-1.6" font-size="2.8">4</tspan></text>
<line x1="332.6" y1="77.6" x2="334.6" y2="77.6" stroke="#333" stroke-width="0.6"/>
<text x="331.8" y="78.9" font-size="3.6" text-anchor="end" font-weight="normal" fill="#555">10<tspan dy="-1.6" font-size="2.8">3</tspan></text>
<line x1="332.6" y1="88.9" x2="334.6" y2="88.9" stroke="#333" stroke-width="0.6"/>
<text x="331.8" y="90.2" font-size="3.6" text-anchor="end" font-weight="normal" fill="#555">0</text>
<line x1="332.6" y1="101.4" x2="334.6" y2="101.4" stroke="#333" stroke-width="0.6"/>
<text x="331.8" y="102.7" font-size="3.6" text-anchor="end" font-weight="normal" fill="#555">-10<tspan dy="-1.6" font-size="2.8">3</tspan></text>
<line x1="333.6" y1="37.5" x2="334.6" y2="37.5" stroke="#555" stroke-width="0.5"/>
<line x1="333.6" y1="42.5" x2="334.6" y2="42.5" stroke="#555" stroke-width="0.5"/>
<line x1="333.6" y1="47.5" x2="334.6" y2="47.5" stroke="#555" stroke-width="0.5"/>
<line x1="333.6" y1="52.5" x2="334.6" y2="52.5" stroke="#555" stroke-width="0.5"/>
<line x1="333.6" y1="57.5" x2="334.6" y2="57.5" stroke="#555" stroke-width="0.5"/>
<line x1="333.6" y1="62.5" x2="334.6" y2="62.5" stroke="#555" stroke-width="0.5"/>
<line x1="333.6" y1="67.5" x2="334.6" y2="67.5" stroke="#555" stroke-width="0.5"/>
<line x1="333.6" y1="72.5" x2="334.6" y2="72.5" stroke="#555" stroke-width="0.5"/>
<line x1="333.6" y1="77.5" x2="334.6" y2="77.5" stroke="#555" stroke-width="0.5"/>
<line x1="333.6" y1="82.5" x2="334.6" y2="82.5" stroke="#555" stroke-width="0.5"/>
<line x1="333.6" y1="87.5" x2="334.6" y2="87.5" stroke="#555" stroke-width="0.5"/>
<line x1="333.6" y1="92.5" x2="334.6" y2="92.5" stroke="#555" stroke-width="0.5"/>
<line x1="333.6" y1="97.5" x2="334.6" y2="97.5" stroke="#555" stroke-width="0.5"/>
<line x1="333.6" y1="102.5" x2="334.6" y2="102.5" stroke="#555" stroke-width="0.5"/>
<rect x="332.2" y="87" width="2.2" height="3.5" fill="#000" stroke="none" stroke-width="0"/>
<line x1="339.1" y1="105" x2="339.1" y2="107" stroke="#333" stroke-width="0.6"/>
<text x="339.1" y="112.5" font-size="3.6" text-anchor="middle" font-weight="normal" fill="#555">-10<tspan dy="-1.6" font-size="2.8">3</tspan></text>
<line x1="351.6" y1="105" x2="351.6" y2="107" stroke="#333" stroke-width="0.6"/>
<text x="351.6" y="112.5" font-size="3.6" text-anchor="middle" font-weight="normal" fill="#555">0</text>
<line x1="363.6" y1="105" x2="363.6" y2="107" stroke="#333" stroke-width="0.6"/>
<text x="363.6" y="112.5" font-size="3.6" text-anchor="middle" font-weight="normal" fill="#555">10<tspan dy="-1.6" font-size="2.8">3</tspan></text>
<line x1="383.1" y1="105" x2="383.1" y2="107" stroke="#333" stroke-width="0.6"/>
<text x="383.1" y="112.5" font-size="3.6" text-anchor="middle" font-weight="normal" fill="#555">10<tspan dy="-1.6" font-size="2.8">4</tspan></text>
<line x1="400.6" y1="105" x2="400.6" y2="107" stroke="#333" stroke-width="0.6"/>
<text x="400.6" y="112.5" font-size="3.6" text-anchor="middle" font-weight="normal" fill="#555">10<tspan dy="-1.6" font-size="2.8">5</tspan></text>
<line x1="336.6" y1="105" x2="336.6" y2="106" stroke="#555" stroke-width="0.5"/>
<line x1="341.6" y1="105" x2="341.6" y2="106" stroke="#555" stroke-width="0.5"/>
<line x1="346.6" y1="105" x2="346.6" y2="106" stroke="#555" stroke-width="0.5"/>
<line x1="351.6" y1="105" x2="351.6" y2="106" stroke="#555" stroke-width="0.5"/>
<line x1="356.6" y1="105" x2="356.6" y2="106" stroke="#555" stroke-width="0.5"/>
<line x1="361.6" y1="105" x2="361.6" y2="106" stroke="#555" stroke-width="0.5"/>
<line x1="366.6" y1="105" x2="366.6" y2="106" stroke="#555" stroke-width="0.5"/>
<line x1="371.6" y1="105" x2="371.6" y2="106" stroke="#555" stroke-width="0.5"/>
<line x1="376.6" y1="105" x2="376.6" y2="106" stroke="#555" stroke-width="0.5"/>
<line x1="381.6" y1="105" x2="381.6" y2="106" stroke="#555" stroke-width="0.5"/>
<line x1="386.6" y1="105" x2="386.6" y2="106" stroke="#555" stroke-width="0.5"/>
<line x1="391.6" y1="105" x2="391.6" y2="106" stroke="#555" stroke-width="0.5"/>
<line x1="396.6" y1="105" x2="396.6" y2="106" stroke="#555" stroke-width="0.5"/>
<line x1="401.6" y1="105" x2="401.6" y2="106" stroke="#555" stroke-width="0.5"/>
<rect x="348.6" y="105.3" width="3.5" height="2" fill="#000" stroke="none" stroke-width="0"/>
<path d="M370.3 77.3h0M371.2 76.6h0M374.0 80.7h0M380.3 81.3h0M364.8 67.0h0M374.6 71.8h0M362.0 61.1h0M368.3 81.1h0M371.2 56.0h0M361.8 50.5h0M363.9 72.8h0M374.7 59.5h0M374.3 79.7h0M373.3 67.4h0M369.6 80.6h0M385.5 65.8h0M373.0 75.0h0M369.3 70.6h0M382.9 80.2h0M377.2 53.7h0M371.9 78.1h0M380.3 81.2h0M374.7 72.5h0M377.4 74.0h0M375.2 81.7h0M368.4 69.3h0M379.1 72.7h0M374.8 78.3h0M368.5 78.7h0M369.8 70.2h0M379.0 81.2h0M371.9 70.7h0M374.1 82.0h0M377.4 74.8h0M374.6 80.6h0M365.7 73.6h0M377.3 74.4h0M378.9 61.7h0M378.6 78.9h0M382.6 72.8h0M375.9 80.7h0M378.1 79.2h0M382.4 77.9h0M372.3 61.4h0M383.2 75.1h0M383.2 68.6h0M378.1 57.5h0M383.8 58.2h0M378.5 79.3h0M369.2 81.0h0M380.0 74.5h0M375.7 73.6h0M376.1 80.1h0M374.7 69.0h0M381.2 72.2h0M376.9 77.3h0M370.2 65.6h0M376.5 71.6h0M377.8 74.3h0M370.0 65.5h0M371.6 57.1h0M371.8 77.4h0M370.6 79.3h0M375.8 73.3h0M379.4 47.7h0M384.1 79.2h0M380.3 73.0h0M379.4 77.2h0M380.0 75.7h0M381.1 79.1h0M371.9 71.2h0M377.6 66.2h0M375.6 68.8h0M373.2 81.4h0M371.5 81.5h0M371.2 58.9h0M372.5 73.5h0M367.3 74.4h0M376.7 76.7h0M373.8 67.4h0M374.5 80.5h0M375.7 48.7h0M377.8 73.2h0M370.7 50.5h0M373.3 79.2h0M365.3 81.6h0M362.0 71.4h0M363.5 77.8h0M382.2 67.6h0M364.1 70.4h0M376.4 79.6h0M381.8 67.0h0M371.4 80.5h0M382.7 53.3h0M383.8 75.3h0M379.0 73.3h0M386.7 45.6h0M377.2 81.8h0M370.0 71.0h0M376.7 80.6h0M371.5 74.2h0M367.1 71.7h0M386.4 74.7h0M371.0 65.9h0M373.8 70.9h0M370.4 77.9h0M374.7 79.8h0M371.7 68.4h0M367.4 73.1h0M366.4 75.2h0M370.0 65.4h0M375.5 65.6h0M385.1 82.0h0M379.6 72.7h0M383.8 66.1h0M376.6 78.9h0M373.5 78.1h0M366.9 66.1h0M374.0 67.3h0M362.5 73.5h0M372.4 70.5h0M382.7 77.2h0M375.8 69.5h0M380.1 77.8h0M371.9 77.3h0M366.6 65.6h0M371.4 52.8h0M371.9 79.6h0M384.6 66.7h0M370.0 76.9h0M372.1 74.0h0M373.2 62.7h0M372.1 78.1h0M367.3 44.0h0M374.5 72.1h0M376.0 79.8h0M376.1 61.8h0M367.5 71.7h0M373.4 80.9h0M364.7 69.8h0M378.9 74.1h0M368.6 81.8h0M372.6 80.4h0M371.6 69.1h0M370.9 74.4h0M368.4 68.6h0M364.5 70.6h0M383.4 71.5h0M375.4 72.6h0M375.5 76.2h0M385.3 70.9h0M373.5 81.6h0M377.0 80.2h0M374.2 74.3h0M380.4 59.4h0M376.8 71.6h0M375.8 79.4h0M372.7 72.8h0M375.6 45.0h0M380.3 76.1h0M362.9 64.6h0M373.4 75.5h0M371.8 73.7h0M372.5 66.9h0M363.4 70.0h0M378.0 80.7h0M369.5 80.5h0M372.9 45.9h0M371.4 53.9h0M365.1 80.0h0M371.7 80.4h0M364.2 74.3h0M369.0 78.4h0M372.4 57.3h0M374.1 79.6h0M374.4 62.5h0M373.3 57.9h0M385.6 75.8h0M376.4 77.3h0M367.5 79.2h0M370.8 71.5h0M370.5 73.9h0M373.1 80.6h0M370.8 81.1h0M369.5 72.9h0M382.9 65.1h0M374.3 76.4h0M372.3 81.6h0M372.7 60.1h0M372.9 76.5h0M381.6 70.8h0M376.7 79.0h0M380.1 52.8h0M357.3 81.7h0M375.8 79.3h0M379.8 76.0h0M384.7 80.3h0M374.2 79.4h0M364.9 81.8h0M377.3 76.4h0M370.9 65.1h0M364.5 79.5h0M370.8 79.1h0M379.8 69.5h0M380.6 72.6h0M378.0 74.8h0M368.5 81.0h0M387.6 79.1h0M367.8 74.2h0M373.7 79.6h0M366.3 75.4h0M381.2 67.4h0M376.5 67.9h0M378.9 78.9h0M374.6 63.9h0M373.7 70.2h0M375.0 75.3h0M364.0 69.3h0M379.5 63.9h0M372.0 74.7h0M374.0 76.8h0M375.7 59.5h0M382.6 80.6h0M376.4 78.1h0M374.3 80.7h0M371.4 80.2h0M366.0 76.5h0M370.9 67.5h0M374.5 81.7h0M372.8 77.5h0M374.5 78.2h0M378.1 75.4h0M376.5 60.8h0M375.6 67.6h0M377.7 77.5h0M375.1 80.0h0M374.0 71.6h0M376.7 80.9h0M364.9 78.9h0M380.9 80.0h0M367.2 82.1h0M378.6 76.8h0M374.2 74.5h0M380.1 74.6h0M374.3 43.1h0M369.1 73.7h0M379.9 70.8h0M375.2 75.2h0M374.8 76.8h0M374.6 58.2h0M379.5 79.9h0M378.6 78.7h0M375.4 70.3h0M365.8 74.0h0M372.0 71.3h0M374.7 75.1h0M383.8 64.6h0M376.2 79.5h0M373.7 75.5h0M380.6 68.4h0M373.6 79.7h0M374.0 64.9h0M375.0 45.8h0M366.1 79.0h0M379.3 62.8h0M376.5 67.5h0M368.1 69.0h0M375.3 68.0h0M381.7 64.2h0M370.7 72.8h0M368.5 63.3h0M376.5 51.1h0M365.6 76.3h0M362.3 80.3h0M371.8 80.6h0M370.5 69.6h0M372.7 78.4h0M371.2 82.2h0M376.0 75.8h0M373.0 76.6h0M371.0 74.5h0M371.7 75.8h0M377.6 70.6h0M379.4 78.7h0M379.1 77.7h0M378.0 75.1h0M356.5 74.2h0M368.8 77.3h0M372.5 70.5h0M375.3 70.0h0M365.5 77.6h0M381.9 80.8h0M375.8 81.8h0M370.9 80.6h0M375.1 76.4h0M370.1 80.7h0M376.9 80.5h0M371.8 75.0h0M366.6 79.5h0M370.8 80.4h0M373.6 69.4h0M368.4 76.5h0M381.0 80.7h0M368.4 66.5h0M383.7 74.6h0M379.0 66.9h0M369.2 68.3h0M374.9 81.6h0M380.6 77.2h0M373.2 74.7h0M367.8 50.6h0M374.8 76.8h0M384.9 82.0h0M366.2 78.7h0M377.2 79.6h0M374.3 68.2h0M373.6 79.9h0M372.2 73.1h0M372.5 74.5h0M379.8 59.7h0M377.5 77.7h0M368.9 80.4h0M382.6 63.3h0M367.3 76.8h0M375.3 79.6h0M380.7 40.5h0M376.2 78.0h0M380.0 73.5h0M374.1 64.7h0M379.5 80.8h0M376.1 80.5h0M385.8 80.0h0M370.5 72.4h0M380.7 49.4h0M376.8 77.2h0M375.2 81.9h0M371.2 82.1h0M376.7 81.7h0M366.4 75.0h0M366.9 54.4h0M378.1 79.5h0M365.9 66.8h0M382.0 68.8h0M372.8 79.4h0M375.6 81.1h0M374.7 76.5h0M376.6 65.3h0M372.8 62.9h0M372.3 73.1h0M373.6 78.3h0M379.9 59.8h0M380.4 77.8h0M381.2 76.3h0M376.3 76.1h0M373.2 80.1h0M365.3 77.1h0M377.8 74.5h0M378.8 78.1h0M372.1 80.4h0M378.6 81.1h0M381.2 79.3h0M374.8 70.5h0M380.0 81.0h0M376.0 75.7h0M365.0 74.6h0M371.8 68.2h0M372.1 80.3h0M377.2 69.2h0M369.7 81.8h0M372.0 72.1h0M369.1 68.7h0M374.1 79.4h0M374.7 80.7h0M379.6 81.6h0M378.6 70.8h0M375.2 81.4h0M375.6 73.0h0M374.9 67.6h0M374.9 78.6h0M382.6 81.8h0M360.9 78.2h0M373.4 64.5h0M376.0 62.3h0M380.4 79.0h0M368.4 69.2h0M376.2 61.5h0M378.9 71.3h0M371.9 73.1h0M364.1 66.0h0M372.4 66.3h0M367.9 73.7h0M377.8 74.0h0M369.7 78.8h0M383.9 81.1h0M375.1 77.5h0M370.0 81.5h0M371.6 65.6h0M368.4 72.7h0M376.4 61.5h0M382.3 77.4h0M373.2 80.4h0M379.3 65.9h0M369.2 60.6h0M376.0 61.6h0M386.7 62.0h0M366.8 58.3h0M380.9 69.6h0M380.6 72.3h0M364.2 66.2h0M366.6 80.2h0M369.1 69.9h0M379.5 67.8h0M372.0 73.5h0M373.4 74.1h0M378.1 70.7h0M374.9 64.8h0M375.5 62.3h0M372.6 75.1h0M380.4 70.2h0M370.1 81.7h0M383.3 78.8h0M372.5 79.6h0M370.0 77.4h0M377.8 68.2h0M376.7 60.4h0M363.7 78.6h0M375.5 76.7h0M367.0 68.9h0M369.8 81.4h0M378.5 79.2h0M369.7 75.4h0M376.2 79.7h0M372.3 70.7h0M384.7 43.5h0M373.8 79.9h0M368.0 82.0h0M368.4 81.1h0M369.4 78.1h0M375.0 67.7h0M374.3 81.9h0M379.5 79.7h0M375.2 76.2h0M375.0 55.4h0M376.0 61.6h0M373.6 80.5h0M375.8 80.3h0M378.5 75.6h0M378.5 64.7h0M371.3 71.6h0M364.8 48.5h0M369.9 51.2h0M375.8 76.7h0M360.9 69.4h0M371.7 65.2h0M376.7 65.8h0M371.2 64.4h0M368.2 47.6h0M383.7 79.9h0M381.7 74.3h0M372.8 80.5h0M381.3 78.3h0M381.2 68.7h0M368.2 78.2h0M388.6 68.1h0M369.2 81.1h0M372.8 67.2h0M368.3 81.7h0M374.6 68.2h0M367.1 75.0h0M374.2 76.8h0M380.0 81.3h0M375.3 61.6h0M372.8 75.4h0M382.5 79.4h0M369.4 77.7h0M379.4 78.1h0M372.6 78.9h0M375.3 75.1h0M374.4 62.4h0M374.9 68.5h0M373.9 81.1h0M370.0 71.8h0M371.1 72.2h0M376.5 76.1h0M373.6 78.6h0M367.9 79.8h0M370.4 81.9h0M370.4 78.4h0M373.9 78.3h0M375.1 78.4h0M374.6 68.3h0M370.6 78.9h0M374.2 81.2h0M366.8 78.1h0M358.6 81.8h0M373.8 54.6h0M365.2 79.4h0M369.0 80.4h0M367.6 79.7h0M377.5 73.4h0M367.6 78.0h0M375.6 79.1h0M371.5 79.5h0M367.4 78.0h0M365.6 74.8h0M376.5 75.0h0M376.1 81.8h0M378.2 67.9h0M383.9 80.4h0M375.5 66.2h0M375.5 79.1h0M373.4 66.2h0M374.6 81.7h0M372.1 70.6h0M384.7 81.5h0M364.0 81.1h0M375.4 81.8h0M376.4 76.6h0M374.8 81.5h0M368.8 57.8h0M372.9 78.1h0M371.5 65.0h0M368.2 69.3h0M373.7 73.3h0M371.8 78.6h0M371.0 69.0h0M377.6 81.7h0M368.2 59.4h0M376.3 70.6h0M370.6 77.4h0M376.2 77.0h0M374.3 78.9h0M375.2 78.2h0M368.6 80.6h0M369.7 72.3h0M369.3 80.1h0M374.8 70.8h0M377.9 80.8h0M379.7 70.7h0M371.2 79.9h0M374.3 63.7h0M365.2 58.9h0M362.0 64.8h0M369.2 80.9h0M370.3 61.8h0M365.5 54.1h0M364.3 73.1h0M376.7 79.5h0M369.5 70.8h0M364.8 71.0h0M386.3 72.2h0M374.8 80.5h0M372.1 74.1h0M377.5 80.3h0M369.7 80.7h0M382.3 79.5h0M365.6 54.1h0M366.8 76.3h0M373.1 80.4h0M369.7 77.7h0M381.3 77.9h0M365.2 57.1h0M369.9 81.3h0M375.0 78.6h0M376.8 78.1h0M379.1 72.8h0M375.6 78.3h0M385.6 74.3h0M371.2 74.1h0M374.7 68.9h0M378.3 58.5h0M372.0 71.8h0M372.2 46.4h0M371.2 76.4h0M370.3 75.2h0M367.7 72.1h0M370.7 76.1h0M365.4 64.1h0M375.7 78.7h0M365.2 81.6h0M384.8 74.7h0M382.8 75.0h0M379.6 64.9h0M372.5 79.0h0M370.5 68.9h0M380.2 79.6h0M374.6 80.0h0M376.7 74.7h0M369.8 64.3h0M379.4 72.8h0M369.4 54.0h0M374.2 61.5h0M364.4 75.0h0M370.1 78.1h0M376.3 61.7h0M371.2 52.6h0M371.3 79.8h0M377.9 54.8h0M373.2 70.8h0M380.3 78.9h0M360.7 68.3h0M376.7 79.1h0M376.3 81.3h0M365.4 74.5h0M366.7 79.7h0M378.3 80.6h0M367.9 39.5h0M370.2 67.3h0M376.8 55.1h0M371.8 58.2h0M376.2 81.3h0M369.0 72.7h0M375.2 72.1h0M379.4 41.9h0M375.4 65.4h0M361.9 78.8h0M377.1 74.9h0M373.9 81.1h0M368.8 81.1h0M381.1 64.7h0M364.3 82.2h0M383.6 80.3h0M370.2 79.4h0M382.0 68.1h0M373.4 73.0h0M366.5 76.5h0M374.1 73.7h0M375.4 64.1h0M376.5 75.6h0M379.3 80.8h0M368.8 58.8h0M376.2 78.1h0M377.6 60.3h0M372.2 78.4h0M368.6 81.6h0M368.5 76.7h0M377.6 68.5h0M377.9 76.2h0M369.2 81.8h0M366.4 61.8h0M380.2 74.0h0M365.3 72.2h0M374.5 79.9h0M369.3 80.4h0M364.2 80.4h0M374.3 79.3h0M372.6 78.6h0M381.3 69.8h0M385.8 70.3h0M372.6 82.0h0M379.1 81.0h0M379.2 77.1h0M370.8 75.6h0M369.0 79.9h0M382.2 73.6h0M371.6 63.5h0M373.5 77.1h0M372.0 78.1h0M372.9 78.7h0M370.4 69.9h0M377.6 79.8h0M380.3 78.3h0M371.6 77.9h0M366.2 68.7h0M373.9 71.5h0M365.6 71.5h0M370.2 79.3h0M380.2 80.1h0M386.0 74.0h0M375.6 80.3h0M367.9 66.8h0M377.8 65.8h0M361.6 76.5h0M369.9 70.0h0M381.7 79.0h0M377.6 74.3h0M366.2 70.8h0M364.7 79.9h0M378.2 80.5h0M373.3 81.6h0M370.4 69.1h0M375.8 73.5h0M370.5 73.9h0M363.3 48.0h0M377.9 62.6h0M370.1 65.2h0M368.2 75.5h0M366.5 71.2h0M374.9 81.9h0M369.3 74.3h0M376.9 81.1h0M372.2 81.1h0M379.4 62.5h0M371.5 76.0h0M370.1 60.8h0M363.1 79.2h0M367.7 72.2h0M389.9 78.3h0M366.9 72.9h0M368.0 69.1h0M375.4 72.4h0M376.2 80.8h0M370.0 72.9h0M374.0 76.2h0M365.0 77.1h0M372.0 69.2h0M378.4 58.0h0M382.3 73.0h0M372.7 70.8h0M372.2 54.0h0M376.0 80.4h0M382.5 62.5h0M369.7 67.1h0M372.4 54.7h0M369.1 60.0h0M367.8 62.4h0M380.0 40.1h0M378.8 66.5h0M376.6 61.8h0M363.7 59.2h0M371.0 68.6h0M377.9 71.8h0M367.4 37.6h0M373.1 58.5h0M373.7 68.8h0M378.6 47.9h0M375.6 67.6h0M375.6 69.8h0M372.1 59.1h0M374.3 64.4h0M373.6 37.8h0M377.8 52.4h0M373.4 71.2h0M379.3 55.3h0M366.0 71.7h0M380.1 44.5h0M373.4 58.9h0M379.7 57.7h0M374.7 55.3h0M378.4 62.5h0M381.5 51.3h0M371.5 56.4h0M374.6 69.9h0M373.4 35.8h0M375.3 52.9h0M366.4 70.5h0M373.4 57.4h0M373.0 54.8h0M370.4 61.6h0M366.7 68.1h0M381.0 62.1h0M376.4 52.0h0M383.4 71.5h0M370.0 71.2h0M368.6 71.9h0M375.6 52.7h0M366.1 62.1h0M375.3 52.2h0M370.8 67.4h0M372.6 57.5h0M375.5 60.9h0M374.5 59.4h0M377.3 69.7h0M367.9 68.7h0M379.0 67.0h0M367.7 61.1h0M370.2 42.9h0M380.6 63.1h0M371.5 65.8h0M371.1 48.0h0M371.5 55.5h0M372.7 70.0h0M381.2 69.6h0M368.5 70.0h0M368.2 50.2h0M377.0 63.5h0M366.5 41.8h0M372.4 63.4h0M379.7 47.6h0M374.2 57.3h0M371.9 67.9h0M370.8 68.7h0M369.7 68.2h0M371.3 64.2h0M374.9 38.1h0M378.9 71.5h0M371.4 60.6h0M370.6 53.1h0M377.6 68.6h0M365.3 58.0h0M372.0 51.0h0M368.8 56.0h0M369.3 65.3h0M375.9 69.5h0M366.1 64.9h0M369.7 71.6h0M371.0 42.8h0M374.5 70.5h0M367.5 44.7h0M379.4 67.2h0M372.6 36.3h0M372.9 57.5h0M372.4 60.6h0M370.8 52.9h0M369.3 64.4h0M379.7 60.5h0M375.1 57.0h0M373.6 48.0h0M378.9 60.5h0M370.6 70.6h0M377.2 63.8h0M374.2 64.1h0M369.8 45.5h0M377.8 71.8h0M366.8 61.0h0M377.2 60.7h0M369.8 44.7h0M376.1 68.0h0M380.8 44.8h0M376.8 65.0h0M371.1 58.5h0M373.9 70.4h0M372.3 51.0h0M368.4 67.4h0M368.7 49.8h0M374.3 58.2h0M376.6 66.1h0M365.5 61.1h0M373.7 60.7h0M376.5 71.9h0M374.5 49.3h0M369.1 60.9h0M368.1 58.1h0M377.1 71.7h0M381.8 58.1h0M364.1 50.0h0M375.2 68.2h0M375.5 71.4h0M375.1 62.3h0M370.3 62.6h0M372.5 69.0h0M367.2 71.5h0M374.6 66.2h0M376.6 54.0h0M370.7 62.1h0M369.5 58.4h0M371.7 62.5h0M373.9 56.4h0M373.4 71.4h0M374.3 68.8h0M367.6 62.5h0M360.7 64.6h0M376.9 64.7h0M380.8 57.3h0M367.1 67.8h0M370.7 71.5h0M375.4 61.9h0M378.5 64.4h0M377.1 67.1h0M380.1 57.5h0M373.7 65.1h0M375.9 45.3h0M375.9 62.5h0M371.8 61.3h0M379.7 68.4h0M376.9 49.8h0M372.0 50.7h0M378.9 35.8h0M368.8 48.3h0M375.8 68.5h0M361.3 65.4h0M381.6 84.2h0M367.2 83.0h0M379.1 86.7h0M371.4 82.1h0M384.8 83.6h0M372.1 82.8h0M371.4 87.9h0M370.3 83.9h0M376.3 82.1h0M385.5 89.0h0M376.3 85.4h0M380.8 88.8h0M375.9 84.2h0M366.1 84.5h0M377.3 86.5h0M377.5 81.9h0M377.6 90.5h0M370.9 82.5h0M370.2 89.9h0M371.6 87.5h0M364.9 88.5h0M367.8 83.2h0M370.6 89.7h0M375.7 86.3h0M384.6 85.1h0M379.9 83.0h0M375.8 82.8h0M380.3 89.4h0M374.2 90.4h0M365.3 85.2h0M379.6 88.1h0M380.0 87.8h0M378.9 85.9h0M383.3 85.8h0M381.7 86.5h0M382.8 84.5h0M365.2 88.3h0M386.6 85.2h0M377.4 86.0h0M377.5 82.9h0M377.9 90.5h0M370.2 81.9h0M371.0 88.0h0M383.8 87.5h0M377.6 84.5h0M385.7 90.5h0M368.9 81.5h0M377.3 83.8h0M377.6 84.4h0M365.0 87.3h0M378.2 86.8h0M372.8 88.0h0M373.8 89.4h0M368.4 81.4h0M377.5 86.5h0M379.3 85.0h0M384.2 87.7h0M383.1 86.2h0M386.2 84.5h0M386.1 81.3h0M379.9 84.2h0M370.5 85.4h0M376.3 84.4h0M366.1 84.8h0M376.9 87.4h0M371.0 84.4h0M376.2 89.3h0M381.0 84.6h0M365.6 85.3h0M383.8 85.3h0M365.0 89.8h0M375.2 86.9h0M369.1 90.4h0M365.1 81.2h0M374.9 90.3h0M370.1 83.1h0M366.0 89.7h0M382.7 81.6h0M369.7 89.3h0M385.2 87.2h0M377.8 87.7h0M372.2 84.9h0M365.6 84.9h0M383.4 82.7h0M366.6 82.5h0M381.6 87.1h0M376.0 84.4h0M374.4 81.5h0M366.0 82.8h0M373.6 82.8h0M364.6 83.0h0M381.3 85.5h0M380.0 89.8h0M367.2 86.7h0M375.6 88.2h0M368.2 82.2h0M380.1 87.8h0M368.4 89.4h0M368.1 90.6h0M370.6 88.0h0M386.0 87.0h0M382.5 90.3h0M373.2 82.4h0M382.0 88.7h0M372.3 88.0h0M368.4 88.1h0M384.3 84.6h0M365.0 82.0h0M382.0 82.5h0M385.7 87.6h0M366.1 84.2h0M383.4 90.2h0M381.7 82.4h0M365.1 88.9h0M374.1 85.7h0M370.0 84.0h0M372.8 83.6h0M372.8 84.6h0M373.0 84.7h0M364.4 83.3h0M370.3 83.3h0M370.7 90.4h0M378.7 85.2h0M379.8 87.1h0M381.0 87.9h0M378.5 84.4h0M384.2 90.1h0M376.7 84.0h0M371.2 83.0h0M365.1 81.6h0M380.5 83.7h0M376.8 81.8h0M367.9 87.2h0M375.7 86.7h0M385.4 81.4h0M377.8 90.2h0M371.1 88.1h0M382.3 86.4h0M373.0 90.2h0M364.5 86.2h0M366.0 82.9h0M385.7 88.6h0M366.3 90.3h0M381.7 81.8h0M364.9 86.0h0M373.7 83.4h0M370.5 89.8h0M371.9 82.1h0M366.2 88.9h0M373.2 83.2h0M381.2 87.3h0M376.0 87.8h0M367.2 88.4h0M382.2 81.7h0M383.7 85.8h0M374.4 82.4h0M372.2 82.4h0M364.6 82.7h0M365.8 82.6h0M372.6 90.1h0M366.7 86.5h0M385.9 83.6h0M378.6 85.8h0M371.2 81.7h0M377.3 83.3h0M368.0 87.2h0M384.7 87.8h0M375.4 87.0h0M379.9 90.6h0M368.3 90.5h0M374.8 89.1h0M380.2 85.6h0M372.9 88.4h0M365.7 83.6h0M374.7 89.4h0M382.7 83.5h0M374.6 90.6h0M386.1 81.3h0M376.7 88.8h0M384.0 86.0h0M364.9 89.0h0M378.3 86.2h0M375.6 89.1h0M372.2 87.9h0M384.4 87.3h0M366.3 90.2h0M375.1 82.3h0M371.1 90.0h0M385.7 86.2h0M381.7 87.9h0M368.7 87.5h0M367.1 84.9h0M364.7 86.2h0M368.2 90.4h0M385.0 85.8h0M383.8 89.9h0M382.1 81.3h0M373.2 86.7h0M375.0 87.7h0M377.1 85.0h0M382.3 82.0h0M364.3 88.7h0M368.3 88.4h0M377.2 84.8h0M367.4 82.1h0M385.2 89.2h0M365.2 88.6h0M386.0 89.1h0M369.0 89.0h0M368.5 83.7h0M373.7 87.1h0M378.5 85.6h0M386.1 84.9h0M374.9 85.1h0M384.3 87.6h0M384.1 90.7h0M386.3 85.7h0M372.3 84.7h0M374.8 87.2h0M364.7 87.2h0M372.8 85.1h0M372.1 87.3h0M367.0 87.4h0M382.8 88.3h0M370.5 82.8h0M367.1 87.4h0M366.8 85.2h0M364.7 89.6h0M381.1 87.1h0M376.1 88.9h0M375.9 88.9h0M373.5 83.2h0M385.8 81.9h0M372.7 88.4h0M374.8 81.7h0M379.7 90.2h0M385.0 87.8h0M383.4 85.2h0M383.9 87.6h0M368.3 82.5h0M385.4 87.3h0M382.7 89.9h0M371.6 81.2h0M382.2 90.1h0M385.5 84.2h0M380.9 85.0h0M380.7 90.1h0M383.0 88.8h0M383.9 84.9h0M381.7 90.5h0M365.9 81.5h0M368.9 87.5h0M366.9 86.0h0M374.6 89.6h0M365.7 81.4h0M376.5 84.3h0M384.9 85.7h0M386.2 81.9h0M365.0 87.3h0M379.5 89.3h0M367.4 89.8h0M383.5 82.6h0M364.9 86.0h0M366.5 90.6h0M371.4 81.9h0M364.3 87.9h0M379.0 83.9h0M368.8 89.8h0M380.3 87.0h0M385.5 89.7h0M374.7 81.7h0M374.7 87.0h0M386.5 85.2h0M371.2 82.2h0M384.0 85.1h0M380.2 88.2h0M364.4 86.7h0M370.9 86.8h0M380.4 83.9h0M365.2 86.0h0M383.4 85.4h0M384.6 89.8h0M381.2 89.5h0M382.4 85.4h0M377.6 86.0h0M382.3 84.0h0M374.7 86.6h0M373.3 82.4h0M379.9 90.4h0M374.6 85.1h0M371.2 81.3h0M370.1 84.0h0M374.0 90.2h0M372.8 84.1h0M381.1 84.9h0M381.8 90.5h0M382.1 88.7h0M383.1 84.6h0M372.3 82.8h0M372.5 84.9h0M383.0 84.7h0M368.2 89.7h0M379.9 86.3h0M376.0 90.0h0M379.1 90.6h0M379.8 89.5h0M379.2 85.1h0M369.5 84.9h0M364.7 86.4h0M385.5 87.7h0M384.3 89.3h0M375.5 89.0h0M379.0 84.2h0M366.2 88.2h0M374.5 84.8h0M377.4 88.6h0M379.9 81.3h0M369.1 89.3h0M366.3 87.8h0M385.7 82.6h0M383.2 83.6h0M368.2 84.2h0M382.6 86.1h0M382.4 89.8h0M368.3 90.4h0M382.2 86.9h0M372.8 82.2h0M371.7 90.5h0M367.8 90.3h0M377.4 82.0h0M377.9 87.5h0M375.7 87.5h0M366.4 87.5h0M382.0 88.1h0M371.3 81.2h0M370.1 84.1h0M378.6 84.4h0M368.3 87.4h0M384.6 82.1h0M378.7 83.8h0M381.9 82.9h0M371.8 81.6h0M373.8 85.7h0M369.8 83.1h0M369.8 85.8h0M373.5 83.2h0M381.8 88.7h0M375.5 82.3h0M382.9 88.5h0M366.7 87.4h0M370.7 82.7h0M365.0 84.8h0M384.7 84.8h0M365.6 85.5h0M376.3 87.6h0M379.3 81.3h0M368.8 82.8h0M386.2 87.8h0M386.2 82.1h0M369.5 89.2h0M367.3 84.7h0M378.8 81.5h0M375.7 88.5h0M377.7 83.5h0M378.0 90.7h0M385.6 90.0h0M381.4 89.6h0M371.2 89.6h0M380.9 81.9h0M374.3 81.5h0M386.1 85.0h0M374.9 85.2h0M364.4 85.1h0M384.7 86.9h0M370.4 88.6h0M382.6 88.7h0M377.9 90.0h0M380.9 87.6h0M380.7 89.5h0M384.5 82.1h0M382.9 81.4h0M378.7 85.5h0M371.5 89.6h0M375.3 84.9h0M370.4 82.3h0M371.7 82.4h0M374.5 83.4h0M373.7 89.4h0M370.7 84.4h0M371.0 89.4h0" stroke="#2030e8" stroke-width="0.5" stroke-linecap="square" opacity="0.6"/>
<path d="M377.4 79.6h0M376.0 64.1h0M376.2 79.1h0M375.0 82.4h0M380.8 65.2h0M365.2 78.8h0M373.0 69.4h0M378.4 76.2h0M369.7 62.9h0M374.0 74.7h0M370.5 81.6h0M377.1 81.5h0M379.6 81.1h0M383.0 81.2h0M377.5 75.4h0M370.4 82.9h0M376.0 83.2h0M377.9 82.2h0M382.7 81.9h0M362.2 79.5h0M376.7 61.8h0M364.0 73.9h0M378.7 69.7h0M377.1 76.2h0M377.4 79.4h0M379.7 82.6h0M376.8 72.3h0M370.8 82.4h0M376.6 82.3h0M381.5 82.9h0M373.9 80.7h0M374.7 83.6h0M367.6 81.8h0M381.3 81.1h0M371.6 66.5h0M370.3 72.2h0M372.0 80.6h0M369.6 63.0h0M373.1 80.1h0M381.9 80.8h0M379.1 78.2h0M382.8 82.4h0M383.1 73.9h0M369.4 82.5h0M377.3 78.4h0M383.2 69.7h0M387.8 83.4h0M366.4 83.6h0M366.3 78.8h0M377.3 65.3h0M372.6 73.2h0M368.8 76.7h0M376.8 81.5h0M370.0 82.6h0M361.5 83.0h0M374.4 83.4h0M375.3 77.0h0M378.2 82.1h0M380.0 78.0h0M375.6 77.1h0M373.2 81.6h0M370.7 77.4h0M365.0 75.7h0M372.0 83.0h0M380.3 80.7h0M378.3 60.2h0M386.4 62.9h0M373.7 75.3h0M364.2 80.7h0M379.3 75.4h0M380.5 83.2h0M367.8 78.8h0M365.2 71.8h0M375.4 62.5h0M378.6 57.1h0M368.1 82.2h0M372.6 81.8h0M370.0 76.6h0M367.7 78.6h0M366.9 75.7h0M375.3 83.1h0M372.4 72.6h0M370.6 76.8h0M359.5 76.5h0M384.6 75.5h0M369.1 81.2h0M373.7 71.2h0M367.9 74.6h0M376.7 83.4h0M365.8 82.4h0M375.0 77.8h0M373.4 83.0h0M379.8 83.3h0M368.2 70.1h0M370.7 68.0h0M373.1 71.9h0M386.6 83.5h0M366.0 81.8h0M376.2 73.5h0M370.7 75.7h0M376.3 63.9h0M378.3 79.4h0M375.3 78.7h0M376.0 76.0h0M376.1 83.4h0M371.1 79.5h0M373.2 74.5h0M364.9 80.9h0M372.4 73.2h0M370.0 82.8h0M373.0 78.7h0M378.7 83.1h0M376.7 82.2h0M377.2 72.1h0M380.8 79.4h0M360.7 79.6h0M376.9 82.3h0M374.3 81.2h0M373.9 81.6h0M366.9 77.8h0M377.6 81.8h0M381.1 80.7h0M380.4 82.0h0M373.9 80.0h0M378.1 82.5h0M379.8 80.6h0M385.0 83.4h0M381.5 81.5h0M375.3 74.6h0M375.0 76.4h0M375.4 80.9h0M375.7 82.5h0M371.6 78.4h0M378.9 80.9h0M370.4 75.8h0M369.8 80.0h0M376.5 81.8h0M371.1 83.3h0M373.0 70.7h0M362.4 78.2h0M379.0 80.2h0M374.4 82.0h0M373.7 67.3h0M377.1 76.6h0M375.6 77.9h0M370.4 82.5h0M386.0 81.6h0M371.8 80.7h0M380.0 82.1h0M385.0 82.0h0M370.8 80.5h0M375.0 74.4h0M369.7 74.0h0M380.5 76.0h0M372.5 80.0h0M368.1 78.7h0M382.0 81.6h0M379.7 81.9h0M369.3 71.0h0M381.2 69.7h0M375.5 73.2h0M390.1 81.7h0M384.3 80.9h0M371.2 83.7h0M372.9 69.1h0M369.4 71.7h0M375.2 82.7h0M374.7 80.5h0M378.7 81.2h0M374.9 83.3h0M365.9 76.8h0M369.7 78.5h0M382.6 83.6h0M381.1 80.2h0M373.5 73.3h0M373.6 80.8h0M373.4 83.5h0M374.5 75.0h0M364.7 77.2h0M379.6 79.8h0M370.6 76.1h0M375.3 68.4h0M359.8 81.1h0M375.8 61.6h0M382.1 75.8h0M361.5 82.9h0M383.2 73.9h0M377.1 73.9h0M370.2 82.3h0M365.2 79.3h0M381.1 82.1h0M375.9 81.0h0M377.8 78.1h0M372.8 80.4h0M369.8 76.1h0M379.4 82.6h0M368.9 83.3h0M379.6 83.1h0M364.7 83.4h0M369.1 79.5h0M366.0 75.5h0M382.0 72.3h0M364.3 77.2h0M367.8 77.4h0M378.2 81.2h0M375.7 76.7h0M387.1 83.3h0M385.0 68.4h0M378.0 76.6h0M378.4 71.8h0M363.8 80.6h0M369.3 80.9h0M372.5 83.2h0M373.4 82.1h0M366.4 81.6h0M369.0 73.3h0M369.5 78.1h0M380.5 83.5h0M376.9 72.0h0M372.5 81.9h0M372.8 83.4h0M376.1 80.3h0M370.4 82.7h0M372.9 82.8h0M364.4 80.8h0M378.3 72.7h0M380.0 81.1h0M376.5 78.7h0M377.2 77.0h0M376.5 81.0h0M386.2 77.4h0M375.6 80.8h0M366.7 83.0h0M368.3 81.5h0M378.5 83.5h0M380.6 77.7h0M378.9 82.1h0M379.3 72.9h0M375.5 72.7h0M365.8 80.8h0M370.3 78.3h0M363.9 73.8h0M372.1 82.1h0M366.5 81.7h0M374.9 81.7h0M373.4 73.7h0M363.1 76.4h0M378.6 76.5h0M378.8 78.6h0M366.3 83.3h0M375.2 82.0h0M378.5 57.4h0M372.7 67.1h0M379.3 79.8h0M375.5 81.8h0M380.6 76.8h0M375.4 83.4h0M373.4 79.8h0M377.3 81.1h0M378.9 83.2h0M375.8 80.1h0M371.7 80.3h0M369.8 79.1h0M372.2 74.6h0M371.0 78.5h0M375.5 74.3h0M375.3 82.1h0M373.8 77.9h0M374.3 83.1h0M375.3 77.3h0M383.4 79.4h0M381.3 82.4h0M371.0 81.2h0M376.8 73.6h0M372.4 79.5h0M373.8 79.6h0M372.9 83.1h0M370.7 78.8h0M366.4 83.2h0M360.0 79.5h0M375.5 82.0h0M381.2 81.6h0M369.0 80.4h0M377.3 78.3h0M372.1 80.1h0M375.9 80.3h0M369.6 75.0h0M372.9 80.7h0M373.7 79.1h0M360.4 80.5h0M375.5 81.3h0M373.5 82.7h0M359.8 79.5h0M378.1 80.6h0M374.1 82.5h0M375.5 83.1h0M376.4 72.7h0M371.8 83.7h0M368.0 75.2h0M371.7 83.0h0M371.8 76.2h0M387.2 76.7h0M385.0 79.1h0M371.4 75.9h0M371.8 70.2h0M376.1 79.4h0M377.6 78.5h0M370.2 81.0h0M368.4 81.8h0M385.6 77.7h0M380.4 82.3h0M365.2 73.1h0M363.9 80.3h0M369.4 68.2h0M375.5 81.4h0M377.4 70.1h0M372.2 80.9h0M364.8 73.6h0M375.5 71.2h0M377.8 83.5h0M374.2 81.7h0M371.3 83.3h0M377.6 78.2h0M373.9 80.3h0M367.7 73.5h0M374.8 67.4h0M366.6 78.6h0M379.9 76.5h0M377.0 82.0h0M368.4 82.3h0M375.5 83.5h0M381.6 73.0h0M361.6 78.3h0M373.4 83.5h0M383.9 73.0h0M365.1 71.5h0M373.2 80.2h0M365.8 79.4h0M373.8 74.7h0M360.1 72.2h0M364.7 79.1h0M371.0 76.0h0M375.0 79.8h0M376.4 78.4h0M376.7 81.9h0M381.0 83.3h0M378.3 79.7h0M378.6 67.5h0M368.4 72.8h0M373.3 81.4h0M393.0 83.4h0M387.6 69.8h0M379.1 82.4h0M378.6 71.4h0M380.1 81.1h0M371.8 83.4h0M385.8 83.3h0M372.0 83.2h0M373.7 77.5h0M387.1 80.8h0M361.9 81.5h0M376.4 75.9h0M364.0 68.6h0M370.3 81.4h0M373.7 82.8h0M372.1 75.8h0M375.3 78.6h0M369.7 82.9h0M373.6 81.1h0M367.2 82.7h0M371.9 83.0h0M366.0 83.1h0M378.1 79.0h0M366.5 83.0h0M378.3 68.2h0M371.8 80.0h0M372.4 75.2h0M381.2 70.0h0M374.9 79.2h0M362.9 77.2h0M377.2 75.2h0M356.9 77.7h0M375.8 79.8h0M371.8 81.4h0M365.9 83.1h0M374.7 82.6h0M372.4 81.9h0M386.2 75.0h0M371.6 79.1h0M385.8 82.8h0M382.5 81.5h0M370.6 82.5h0M369.3 82.7h0M382.1 83.5h0M373.4 79.3h0M375.2 82.6h0M372.7 66.8h0M367.0 72.2h0M372.0 74.0h0M368.5 82.8h0M365.0 80.2h0M372.5 80.5h0M384.9 82.6h0M383.9 76.9h0M373.8 77.6h0M375.0 80.5h0M377.3 74.2h0M382.4 81.4h0M376.1 78.3h0M371.4 80.8h0M371.9 83.6h0M381.0 76.0h0M389.9 82.6h0M370.5 69.6h0M361.9 82.2h0M379.1 80.7h0M373.8 81.9h0M375.1 82.3h0M381.7 78.8h0M374.6 78.7h0M366.2 83.7h0M362.4 83.3h0M373.9 58.1h0M367.3 79.5h0M376.0 76.5h0M366.6 82.4h0M372.1 82.0h0M365.4 83.5h0M372.0 76.9h0M371.5 82.1h0M377.8 74.4h0M382.3 81.1h0M373.1 78.6h0M369.0 72.8h0M386.0 82.8h0M376.4 79.1h0M377.9 64.2h0M377.9 77.2h0M383.0 70.2h0M380.3 79.2h0M378.3 81.5h0M378.9 83.6h0M369.1 82.1h0M370.6 80.0h0M373.6 82.8h0M374.8 81.9h0M374.4 80.3h0M376.1 81.2h0M374.4 82.5h0M371.7 82.6h0M364.4 80.6h0M379.3 82.6h0M377.8 83.4h0M368.9 70.3h0M377.2 80.7h0M376.6 80.2h0M374.7 82.7h0M363.1 60.6h0M367.0 78.3h0M370.6 82.8h0M384.0 82.8h0M369.1 77.0h0M372.2 83.6h0M367.5 73.9h0M371.3 72.8h0M376.3 78.4h0M361.7 70.3h0M357.1 82.1h0M378.2 83.7h0M374.5 79.4h0M370.6 79.2h0M380.1 81.1h0M380.1 78.0h0M361.6 77.7h0M373.2 82.5h0M380.9 82.0h0M370.2 83.5h0M372.3 77.5h0M380.0 81.2h0M372.6 81.1h0M367.0 82.1h0M370.1 76.3h0M366.2 83.2h0M377.6 72.1h0M363.8 76.8h0M380.3 81.5h0M364.3 82.2h0M374.5 82.2h0M365.4 83.1h0M372.3 57.7h0M380.4 77.4h0M381.0 64.0h0M382.1 82.5h0M373.7 78.4h0M374.9 80.2h0M375.6 82.0h0M378.0 76.0h0M371.8 75.8h0M380.9 80.4h0M376.2 83.6h0M381.2 67.1h0M377.1 83.1h0M378.3 77.9h0M369.8 80.5h0M371.7 80.2h0M366.4 82.5h0M372.5 80.8h0M373.2 82.0h0M379.3 80.7h0M366.6 78.0h0M393.8 81.2h0M373.5 75.6h0M381.8 81.2h0M380.5 68.4h0M359.0 81.5h0M372.7 78.3h0M383.2 83.5h0M359.6 72.2h0M378.9 83.5h0M368.7 70.5h0M371.4 83.1h0M375.6 75.1h0M363.0 82.9h0M375.4 83.3h0M370.3 78.1h0M369.7 74.4h0M378.5 78.2h0M395.4 80.0h0M376.3 82.8h0M377.6 83.5h0M373.9 74.1h0M369.9 76.5h0M375.8 81.4h0M383.4 82.1h0M375.4 83.2h0M379.6 74.4h0M372.9 81.6h0M389.5 79.2h0M364.3 76.7h0M377.8 80.7h0M377.5 83.4h0M375.8 73.4h0M367.5 82.8h0M367.3 83.6h0M372.8 59.0h0M374.8 81.5h0M366.9 83.1h0M367.8 79.5h0M377.6 82.8h0M380.4 80.8h0M370.8 82.7h0M370.0 80.1h0M369.8 83.6h0M389.2 65.7h0M377.2 79.5h0M373.8 81.5h0M380.3 81.8h0M388.1 82.7h0M381.3 82.7h0M365.5 72.7h0M373.7 81.7h0M371.7 76.9h0M372.1 77.5h0M366.8 82.2h0M371.8 79.0h0M367.6 83.5h0M376.2 68.5h0M374.4 79.4h0M365.6 82.9h0M363.8 80.6h0M371.3 79.9h0M378.1 78.6h0M377.2 73.4h0M373.8 75.3h0M354.1 80.1h0M371.2 79.6h0M369.7 81.8h0M372.1 83.0h0M366.8 78.1h0M371.5 81.2h0M370.1 73.7h0M390.6 81.0h0M378.4 76.0h0M373.0 78.2h0M373.9 64.0h0M373.4 82.5h0M375.3 80.2h0M371.7 79.7h0M374.1 75.6h0M380.4 76.0h0M379.2 73.2h0M376.0 83.6h0M382.2 78.9h0M375.5 79.8h0M368.2 82.0h0M363.6 83.5h0M369.9 77.2h0M373.8 72.6h0M376.6 71.4h0M380.7 83.1h0M370.7 82.2h0M369.3 67.1h0M378.8 71.5h0M381.3 82.3h0M371.3 79.9h0M376.2 78.2h0M382.5 82.7h0M376.1 81.4h0M373.8 77.6h0M361.5 74.9h0M382.2 61.6h0M378.1 79.1h0M374.9 74.1h0M371.3 80.9h0M366.6 81.9h0M373.6 83.1h0M373.5 74.5h0M380.8 81.6h0M366.8 82.5h0M382.9 82.6h0M374.4 82.7h0M381.4 82.5h0M368.3 82.0h0M376.3 73.9h0M381.6 78.9h0M374.9 80.6h0M365.2 83.6h0M372.2 64.3h0M377.4 70.8h0M365.7 69.6h0M365.4 75.2h0M375.6 80.4h0M368.4 83.1h0M378.3 78.4h0M367.0 83.0h0M363.0 80.5h0M369.5 81.3h0M383.2 81.9h0M368.9 82.7h0M374.1 78.1h0M375.7 82.2h0M368.4 83.6h0M380.8 82.7h0M375.2 81.4h0M376.9 79.4h0M364.0 81.4h0M363.6 83.6h0M357.5 77.8h0" stroke="#1a22f0" stroke-width="0.6" stroke-linecap="square" opacity="0.75"/>
<g filter="url(#bl)">
<path d="M365.7 90.7 L385.6 90.7 C386.6 88.2 381.6 82.4 375.7 82.4 C368.7 82.4 364.7 87.2 365.7 90.7 Z" fill="#1030ff" opacity="0.92"/>
<ellipse cx="376.9" cy="88.3" rx="5.2" ry="2.2" fill="#00c0ff"/>
<ellipse cx="376.9" cy="88.2" rx="3.2" ry="1.6" fill="#30e060"/>
<ellipse cx="376.9" cy="88.1" rx="1.8" ry="1.1" fill="#ffd000"/>
<ellipse cx="376.9" cy="88.1" rx="0.9" ry="0.75" fill="#ff2000"/>
</g>
<rect x="353.5" y="35.5" width="50" height="35.5" fill="none" stroke="#333" stroke-width="1"/>
<text x="336.2" y="47.5" font-size="4.6" text-anchor="start" font-weight="normal" fill="#444">1.25</text>
<rect x="428.5" y="33.5" width="72" height="72" fill="none" stroke="#c4c4c4" stroke-width="1"/>
<line x1="426.5" y1="40.8" x2="428.5" y2="40.8" stroke="#333" stroke-width="0.6"/>
<text x="425.7" y="42.1" font-size="3.6" text-anchor="end" font-weight="normal" fill="#555">10<tspan dy="-1.6" font-size="2.8">5</tspan></text>
<line x1="426.5" y1="58.3" x2="428.5" y2="58.3" stroke="#333" stroke-width="0.6"/>
<text x="425.7" y="59.6" font-size="3.6" text-anchor="end" font-weight="normal" fill="#555">10<tspan dy="-1.6" font-size="2.8">4</tspan></text>
<line x1="426.5" y1="77.6" x2="428.5" y2="77.6" stroke="#333" stroke-width="0.6"/>
<text x="425.7" y="78.9" font-size="3.6" text-anchor="end" font-weight="normal" fill="#555">10<tspan dy="-1.6" font-size="2.8">3</tspan></text>
<line x1="426.5" y1="88.9" x2="428.5" y2="88.9" stroke="#333" stroke-width="0.6"/>
<text x="425.7" y="90.2" font-size="3.6" text-anchor="end" font-weight="normal" fill="#555">0</text>
<line x1="426.5" y1="101.4" x2="428.5" y2="101.4" stroke="#333" stroke-width="0.6"/>
<text x="425.7" y="102.7" font-size="3.6" text-anchor="end" font-weight="normal" fill="#555">-10<tspan dy="-1.6" font-size="2.8">3</tspan></text>
<line x1="427.5" y1="37.5" x2="428.5" y2="37.5" stroke="#555" stroke-width="0.5"/>
<line x1="427.5" y1="42.5" x2="428.5" y2="42.5" stroke="#555" stroke-width="0.5"/>
<line x1="427.5" y1="47.5" x2="428.5" y2="47.5" stroke="#555" stroke-width="0.5"/>
<line x1="427.5" y1="52.5" x2="428.5" y2="52.5" stroke="#555" stroke-width="0.5"/>
<line x1="427.5" y1="57.5" x2="428.5" y2="57.5" stroke="#555" stroke-width="0.5"/>
<line x1="427.5" y1="62.5" x2="428.5" y2="62.5" stroke="#555" stroke-width="0.5"/>
<line x1="427.5" y1="67.5" x2="428.5" y2="67.5" stroke="#555" stroke-width="0.5"/>
<line x1="427.5" y1="72.5" x2="428.5" y2="72.5" stroke="#555" stroke-width="0.5"/>
<line x1="427.5" y1="77.5" x2="428.5" y2="77.5" stroke="#555" stroke-width="0.5"/>
<line x1="427.5" y1="82.5" x2="428.5" y2="82.5" stroke="#555" stroke-width="0.5"/>
<line x1="427.5" y1="87.5" x2="428.5" y2="87.5" stroke="#555" stroke-width="0.5"/>
<line x1="427.5" y1="92.5" x2="428.5" y2="92.5" stroke="#555" stroke-width="0.5"/>
<line x1="427.5" y1="97.5" x2="428.5" y2="97.5" stroke="#555" stroke-width="0.5"/>
<line x1="427.5" y1="102.5" x2="428.5" y2="102.5" stroke="#555" stroke-width="0.5"/>
<rect x="426.1" y="87" width="2.2" height="3.5" fill="#000" stroke="none" stroke-width="0"/>
<line x1="433" y1="105" x2="433" y2="107" stroke="#333" stroke-width="0.6"/>
<text x="433" y="112.5" font-size="3.6" text-anchor="middle" font-weight="normal" fill="#555">-10<tspan dy="-1.6" font-size="2.8">3</tspan></text>
<line x1="445.5" y1="105" x2="445.5" y2="107" stroke="#333" stroke-width="0.6"/>
<text x="445.5" y="112.5" font-size="3.6" text-anchor="middle" font-weight="normal" fill="#555">0</text>
<line x1="457.5" y1="105" x2="457.5" y2="107" stroke="#333" stroke-width="0.6"/>
<text x="457.5" y="112.5" font-size="3.6" text-anchor="middle" font-weight="normal" fill="#555">10<tspan dy="-1.6" font-size="2.8">3</tspan></text>
<line x1="477" y1="105" x2="477" y2="107" stroke="#333" stroke-width="0.6"/>
<text x="477" y="112.5" font-size="3.6" text-anchor="middle" font-weight="normal" fill="#555">10<tspan dy="-1.6" font-size="2.8">4</tspan></text>
<line x1="494.5" y1="105" x2="494.5" y2="107" stroke="#333" stroke-width="0.6"/>
<text x="494.5" y="112.5" font-size="3.6" text-anchor="middle" font-weight="normal" fill="#555">10<tspan dy="-1.6" font-size="2.8">5</tspan></text>
<line x1="430.5" y1="105" x2="430.5" y2="106" stroke="#555" stroke-width="0.5"/>
<line x1="435.5" y1="105" x2="435.5" y2="106" stroke="#555" stroke-width="0.5"/>
<line x1="440.5" y1="105" x2="440.5" y2="106" stroke="#555" stroke-width="0.5"/>
<line x1="445.5" y1="105" x2="445.5" y2="106" stroke="#555" stroke-width="0.5"/>
<line x1="450.5" y1="105" x2="450.5" y2="106" stroke="#555" stroke-width="0.5"/>
<line x1="455.5" y1="105" x2="455.5" y2="106" stroke="#555" stroke-width="0.5"/>
<line x1="460.5" y1="105" x2="460.5" y2="106" stroke="#555" stroke-width="0.5"/>
<line x1="465.5" y1="105" x2="465.5" y2="106" stroke="#555" stroke-width="0.5"/>
<line x1="470.5" y1="105" x2="470.5" y2="106" stroke="#555" stroke-width="0.5"/>
<line x1="475.5" y1="105" x2="475.5" y2="106" stroke="#555" stroke-width="0.5"/>
<line x1="480.5" y1="105" x2="480.5" y2="106" stroke="#555" stroke-width="0.5"/>
<line x1="485.5" y1="105" x2="485.5" y2="106" stroke="#555" stroke-width="0.5"/>
<line x1="490.5" y1="105" x2="490.5" y2="106" stroke="#555" stroke-width="0.5"/>
<line x1="495.5" y1="105" x2="495.5" y2="106" stroke="#555" stroke-width="0.5"/>
<rect x="442.5" y="105.3" width="3.5" height="2" fill="#000" stroke="none" stroke-width="0"/>
<path d="M474.4 81.3h0M476.0 81.8h0M461.4 65.8h0M463.2 79.8h0M472.4 68.0h0M467.1 76.8h0M478.8 77.3h0M470.1 66.8h0M469.9 82.2h0M471.4 79.9h0M467.2 83.2h0M469.5 74.7h0M464.9 58.8h0M468.6 81.5h0M466.0 67.7h0M470.3 79.4h0M460.6 76.7h0M460.1 72.6h0M471.5 81.4h0M470.2 79.5h0M463.2 82.2h0M467.5 74.5h0M462.7 69.9h0M480.7 71.1h0M459.7 78.9h0M478.8 78.2h0M464.0 65.4h0M471.3 78.4h0M467.3 79.0h0M466.6 81.8h0M474.3 80.6h0M473.6 83.3h0M467.2 75.5h0M463.6 70.4h0M480.9 63.5h0M477.0 76.9h0M469.7 83.2h0M467.1 78.2h0M470.6 79.1h0M469.3 76.9h0M475.8 83.2h0M463.2 81.7h0M469.0 75.9h0M464.3 69.6h0M476.5 80.4h0M479.4 83.3h0M468.3 71.3h0M472.0 72.8h0M477.1 79.4h0M467.1 76.1h0M463.4 64.2h0M474.9 79.9h0M471.8 78.8h0M467.7 82.8h0M477.4 82.6h0M470.3 81.1h0M458.5 82.9h0M470.9 74.0h0M468.5 81.5h0M479.8 71.5h0M468.8 79.6h0M467.7 83.1h0M471.4 82.0h0M470.3 73.2h0M460.7 79.0h0M469.6 82.8h0M467.0 83.4h0M477.1 83.2h0M482.9 79.8h0M462.4 69.9h0M463.3 63.7h0M464.0 82.2h0M465.1 68.9h0M464.9 79.4h0M469.2 82.8h0M475.2 80.8h0M461.3 75.1h0M459.9 77.7h0M458.1 82.1h0M475.3 66.8h0M476.6 81.1h0M459.9 61.0h0M459.4 80.6h0M469.7 48.4h0M475.3 83.0h0M474.8 83.2h0M470.0 76.8h0M472.9 77.0h0M470.8 75.0h0M465.7 78.7h0M480.0 56.5h0M468.9 75.7h0M462.4 62.5h0M466.2 77.6h0M459.9 72.7h0M469.0 82.3h0M475.3 77.2h0M461.5 82.5h0M475.5 82.2h0M481.1 75.2h0M471.1 71.4h0M462.1 81.2h0M463.9 81.0h0M466.9 78.3h0M461.4 74.4h0M461.6 80.0h0M467.4 83.4h0M467.8 75.6h0M472.4 76.0h0M461.9 81.5h0M479.8 82.0h0M475.1 77.5h0M474.1 73.8h0M465.1 81.4h0M479.1 80.2h0M466.9 80.2h0M479.5 78.0h0M475.2 81.2h0M463.7 59.5h0M466.3 79.4h0M479.8 65.5h0M474.7 72.3h0M468.0 77.5h0M470.1 81.6h0M470.1 76.4h0M464.4 73.8h0M467.7 61.8h0M465.1 82.5h0M466.4 71.1h0M471.6 80.9h0M463.3 81.1h0M473.1 82.0h0M469.5 73.9h0M473.4 82.4h0M474.1 81.9h0M476.2 82.4h0M472.6 49.3h0M473.0 56.4h0M467.9 80.2h0M472.2 71.9h0M463.6 80.1h0M467.5 63.5h0M473.3 65.8h0M468.6 74.2h0M471.5 66.2h0M462.7 64.4h0M476.9 82.0h0M465.5 78.7h0M471.2 72.6h0M468.8 74.8h0M474.4 76.3h0M466.7 78.6h0M463.1 74.6h0M457.8 71.2h0M467.1 71.0h0M461.9 68.4h0M472.0 82.0h0M477.3 73.6h0M455.9 78.5h0M461.4 69.7h0M470.7 82.5h0M476.1 82.9h0M470.7 81.7h0M470.8 82.7h0M471.9 82.9h0M472.3 78.7h0M478.5 78.0h0M472.5 78.4h0M461.6 79.9h0M466.1 79.3h0M470.1 82.6h0M464.2 79.4h0M467.4 68.5h0M465.8 79.1h0M464.8 75.9h0M473.0 83.4h0M466.6 77.4h0M462.5 77.4h0M464.7 81.3h0M469.1 79.0h0M481.3 82.1h0M470.4 76.6h0M477.6 82.8h0M471.8 82.1h0M456.3 81.0h0M471.1 80.6h0M463.9 66.1h0M461.0 79.7h0M462.6 68.3h0M479.4 57.7h0M459.6 73.4h0M465.3 83.0h0M475.7 83.1h0M472.8 59.5h0M458.9 81.9h0M468.2 73.7h0M465.9 81.2h0M467.7 70.3h0M473.3 81.3h0M465.5 75.9h0M467.0 82.6h0M477.5 79.9h0M458.1 79.2h0M466.7 65.4h0M471.6 77.1h0M461.6 83.2h0M465.2 75.4h0M461.2 82.4h0M469.8 76.7h0M465.2 77.2h0M473.5 79.3h0M474.9 81.0h0M469.2 73.9h0M466.7 82.9h0M470.4 82.5h0M469.2 74.3h0M461.7 71.3h0M475.2 79.7h0M470.2 73.3h0M473.5 70.2h0M460.9 82.8h0M474.0 62.9h0M481.3 80.1h0M472.5 80.8h0M460.4 79.5h0M469.1 69.7h0M468.5 81.2h0M470.2 80.0h0M467.5 82.7h0M471.8 75.8h0M466.1 81.6h0M470.2 81.5h0M464.8 79.9h0M469.5 80.5h0M474.7 82.1h0M466.0 79.8h0M472.8 83.3h0M463.6 77.7h0M466.7 82.2h0M467.5 82.1h0M476.2 75.8h0M464.4 49.1h0M476.0 82.0h0M460.2 61.2h0M467.9 75.6h0M474.2 82.0h0M472.9 82.2h0M462.9 70.0h0M461.7 60.9h0M474.0 73.2h0M461.4 75.8h0M472.3 75.6h0M465.8 64.2h0M468.8 72.4h0M482.5 72.9h0M478.0 60.5h0M473.8 64.7h0M460.7 68.9h0M470.7 83.4h0M469.2 81.5h0M468.3 68.5h0M476.7 76.9h0M458.7 82.5h0M470.7 76.9h0M469.6 72.7h0M464.4 82.4h0M479.0 82.9h0M461.4 71.6h0M469.0 66.2h0M469.3 77.0h0M455.9 77.2h0M460.4 81.2h0M463.1 72.2h0M473.5 79.9h0M474.4 78.8h0M472.3 80.1h0M470.2 77.5h0M455.9 79.3h0M470.1 69.4h0M465.8 70.3h0M475.7 65.5h0M476.8 81.4h0M482.0 81.6h0M473.0 69.8h0M473.6 66.4h0M462.7 76.5h0M469.3 62.8h0M461.5 80.5h0M474.1 80.4h0M461.8 79.5h0M467.5 82.0h0M464.0 82.8h0M466.0 83.1h0M471.5 81.0h0M465.5 80.9h0M470.1 83.1h0M462.9 83.0h0M477.1 73.1h0M465.0 81.0h0M474.8 74.7h0M481.4 76.0h0M454.4 83.5h0M462.9 78.6h0M467.6 78.6h0M475.7 76.5h0M465.9 81.0h0M471.0 80.5h0M464.5 81.1h0M472.1 79.9h0M461.6 67.8h0M473.7 76.3h0M451.1 49.2h0M457.6 74.3h0M479.6 70.7h0M469.8 83.4h0M463.5 77.4h0M481.8 60.0h0M475.0 82.7h0M475.5 78.0h0M466.3 66.4h0M472.5 73.2h0M471.8 83.5h0M458.9 82.9h0M472.3 79.0h0M467.7 83.4h0M476.4 60.3h0M476.5 74.2h0M465.0 82.4h0M465.2 81.1h0M469.9 79.3h0M472.7 70.2h0M466.3 79.2h0M468.1 80.1h0M472.4 70.3h0M471.3 77.8h0M475.7 72.8h0M470.2 77.0h0M463.5 58.9h0M458.3 82.4h0M473.6 68.6h0M466.8 74.0h0M466.7 59.4h0M467.0 79.8h0M466.4 82.6h0M453.2 80.6h0M466.4 77.5h0M463.4 73.6h0M479.7 83.1h0M471.4 55.1h0M467.5 75.2h0M469.7 80.4h0M473.1 76.7h0M464.2 81.7h0M467.4 77.2h0M466.6 80.8h0M483.6 82.3h0M469.2 76.6h0M457.0 68.4h0M473.5 80.6h0M484.2 77.9h0M463.0 70.2h0M489.5 60.7h0M468.4 73.1h0M474.7 71.4h0M465.4 70.9h0M467.1 78.7h0M461.4 82.6h0M462.4 65.5h0M455.9 69.6h0M475.6 74.8h0M461.8 74.2h0M470.9 82.5h0M470.7 82.5h0M464.8 81.7h0M469.0 82.1h0M468.2 81.9h0M465.7 71.6h0M469.0 69.9h0M469.0 69.1h0M462.6 62.5h0M460.9 75.5h0M463.6 75.0h0M469.4 83.2h0M477.0 82.6h0M470.6 80.6h0M474.4 64.8h0M469.4 65.7h0M475.3 75.7h0M469.5 83.0h0M471.1 73.9h0M467.0 72.3h0M468.7 81.5h0M480.1 77.1h0M461.5 79.6h0M468.7 73.2h0M465.1 57.0h0M474.5 74.4h0M479.6 81.8h0M466.8 81.5h0M452.0 80.3h0M472.4 64.3h0M472.4 82.6h0M458.5 63.1h0M467.2 61.1h0M468.3 75.6h0M454.7 73.6h0M472.8 80.2h0M471.3 69.3h0M470.1 82.8h0M462.3 68.3h0M464.4 81.3h0M464.9 77.4h0M471.6 38.6h0M462.7 82.4h0M477.5 81.7h0M471.0 67.7h0M455.5 65.2h0M478.8 82.1h0M469.6 79.1h0M465.3 74.3h0M469.3 82.6h0M457.6 75.3h0M469.8 80.2h0M453.8 82.0h0M462.5 76.8h0M476.8 80.4h0M476.3 68.2h0M466.6 77.5h0M470.5 65.5h0M476.0 53.9h0M469.6 43.2h0M478.8 58.2h0M464.2 70.7h0M471.8 71.6h0M478.4 62.6h0M475.9 69.2h0M470.7 63.4h0M464.0 65.4h0M468.0 55.3h0M467.5 68.9h0M460.9 70.8h0M464.8 71.0h0M471.7 55.2h0M473.4 64.0h0M461.2 38.2h0M466.9 68.4h0M459.7 45.9h0M465.8 63.6h0M488.2 36.1h0M469.2 57.1h0M465.6 69.1h0M462.2 69.2h0M458.7 69.2h0M468.6 58.7h0M467.3 50.5h0M476.9 59.0h0M459.9 39.2h0M471.2 69.1h0M476.2 51.7h0M458.2 64.9h0M472.4 70.6h0M460.0 40.0h0M471.7 68.4h0M476.9 68.0h0M468.8 67.3h0M470.4 70.1h0M465.1 62.7h0M470.4 66.8h0M475.0 66.7h0M467.9 68.2h0M468.1 46.8h0M471.0 69.4h0M473.3 56.5h0M459.9 68.4h0M469.2 60.2h0M465.1 62.2h0M471.6 42.4h0M474.5 44.5h0M470.6 63.1h0M475.9 61.8h0M463.4 68.1h0M466.6 60.8h0M463.4 64.3h0M469.2 70.5h0M469.4 61.3h0M462.2 58.7h0M468.4 64.1h0M466.5 50.4h0M472.2 51.6h0M467.4 52.0h0M475.2 53.9h0M470.1 64.8h0M458.7 52.6h0M461.0 43.5h0M474.2 59.6h0M476.7 67.9h0M468.7 55.3h0M471.3 65.6h0M460.9 64.1h0M456.6 56.9h0M465.8 65.1h0M467.5 44.5h0M460.6 59.4h0M469.4 66.7h0M470.6 67.5h0M472.4 49.0h0M477.3 69.9h0M473.3 59.2h0M469.4 45.9h0M472.1 58.0h0M463.1 64.1h0M476.1 71.1h0M473.8 64.1h0M467.6 63.5h0M465.4 51.9h0M489.7 66.1h0M473.5 55.8h0M474.0 67.3h0M478.7 69.7h0M474.2 55.5h0M470.0 68.7h0M472.7 48.1h0M463.9 63.3h0M472.8 63.9h0M460.4 70.3h0M471.2 52.6h0M471.9 71.4h0M460.3 67.7h0M479.4 38.5h0M462.6 65.5h0M474.6 69.4h0M466.0 62.4h0M471.1 83.3h0M480.9 85.1h0M463.5 89.5h0M459.9 85.9h0M476.1 89.1h0M472.7 84.2h0M466.2 88.3h0M467.2 83.1h0M465.7 89.5h0M473.8 89.6h0M478.7 87.6h0M465.0 84.0h0M479.8 88.1h0M467.9 88.5h0M469.6 87.3h0M463.9 88.2h0M459.8 84.4h0M462.6 88.3h0M463.8 84.2h0M468.3 86.2h0M469.7 85.4h0M478.2 84.1h0M466.4 84.4h0M476.3 89.0h0M463.9 83.0h0M469.3 86.1h0M459.6 86.1h0M479.4 83.3h0M466.3 83.1h0M473.3 85.7h0M471.4 85.2h0M469.6 84.4h0M463.5 84.4h0M477.7 84.2h0M469.2 87.2h0M460.9 89.7h0M460.1 84.8h0M469.9 85.5h0M471.4 87.7h0M464.4 84.8h0M463.4 83.4h0M477.9 87.3h0M474.3 85.1h0M461.2 82.5h0M477.3 84.9h0M459.1 89.0h0M478.2 82.9h0M478.0 89.1h0M460.7 87.0h0M481.8 88.7h0M479.6 86.7h0M462.0 87.8h0M473.6 89.1h0M469.0 83.8h0M461.2 83.3h0M462.7 86.7h0M462.7 86.0h0M474.0 86.4h0M471.6 85.2h0M481.3 89.8h0M465.1 87.0h0M469.4 87.0h0M466.7 82.7h0M467.0 84.5h0M471.9 84.6h0M476.8 89.8h0M474.3 83.5h0M460.5 86.2h0M464.4 87.9h0M472.9 87.1h0M476.2 88.1h0M478.8 85.2h0M466.5 83.7h0M468.8 84.2h0M458.9 86.6h0M470.3 86.3h0M465.1 85.5h0M470.5 89.3h0M472.3 85.5h0M461.9 84.1h0M459.5 86.9h0M475.0 86.8h0M475.2 88.3h0M481.7 86.6h0M469.9 82.6h0M459.3 86.1h0M459.6 83.9h0M481.3 84.2h0M475.6 88.2h0M461.7 89.6h0M468.0 89.0h0M462.5 84.2h0M476.6 85.7h0M475.5 88.9h0M480.2 88.7h0M473.7 82.9h0M467.5 84.6h0M479.9 86.9h0M467.0 83.9h0M475.6 82.7h0M463.0 84.1h0M464.4 86.5h0M472.4 87.8h0M464.8 88.0h0M478.6 86.7h0M470.3 86.9h0M480.3 86.4h0M472.3 88.4h0M471.7 87.3h0M470.0 87.6h0M462.4 89.2h0M466.2 83.4h0M479.5 82.8h0M474.2 86.4h0M476.4 85.8h0M467.8 89.2h0M462.6 84.8h0M477.0 87.5h0M467.8 87.6h0M476.6 84.3h0M459.3 82.6h0M466.3 85.6h0M473.5 84.0h0M480.3 83.9h0M462.6 85.9h0M481.6 83.8h0M474.1 86.6h0M462.6 87.1h0M458.1 86.0h0M480.3 86.7h0M474.1 84.0h0M475.3 86.8h0M467.7 88.8h0M459.8 88.8h0M469.3 83.3h0M473.3 84.9h0M464.4 87.8h0M481.0 86.9h0M476.5 85.4h0M458.2 88.7h0M464.9 89.1h0M479.6 86.7h0M475.9 84.3h0M477.2 89.6h0M462.3 86.1h0M479.1 85.1h0M473.7 83.4h0M467.5 89.5h0M474.3 87.6h0M463.6 83.0h0M479.5 83.8h0M459.6 89.3h0M464.2 83.1h0M475.2 87.5h0M467.9 86.7h0M479.2 86.2h0M477.8 87.6h0M474.2 85.0h0M466.5 87.1h0M468.4 89.0h0M465.7 86.7h0M465.3 86.4h0M458.0 87.0h0M464.0 83.9h0M474.6 85.0h0M470.9 87.8h0M465.7 86.7h0M465.6 83.4h0M462.1 88.9h0M459.6 85.5h0M461.5 84.3h0M472.8 83.6h0M480.3 89.3h0M474.4 87.9h0M466.1 84.8h0M471.4 83.9h0M460.9 88.8h0M459.7 83.6h0M459.2 86.4h0M471.5 87.4h0M471.9 89.4h0M461.5 87.6h0M480.6 83.3h0M461.1 86.3h0M470.1 89.2h0M473.5 84.5h0M458.5 83.2h0M464.3 82.9h0M470.6 88.7h0M474.2 89.4h0M474.3 85.9h0M473.8 84.8h0M459.5 85.4h0M459.1 83.8h0M478.6 85.7h0M461.3 86.0h0M466.5 86.4h0M478.1 83.3h0M458.8 89.7h0M478.5 87.1h0M473.6 86.7h0M467.1 88.6h0M463.5 82.9h0M470.4 86.8h0M477.7 85.2h0M462.6 87.2h0M463.7 89.4h0M469.8 83.0h0M477.4 83.8h0M467.8 85.1h0M467.7 86.5h0M481.1 88.6h0M470.7 87.9h0M476.8 86.6h0M474.1 83.9h0M471.0 86.2h0M468.2 85.8h0M473.6 83.3h0M477.9 89.3h0M461.2 88.7h0M464.3 87.0h0M462.8 84.3h0M477.4 86.8h0M465.6 84.9h0M468.6 87.3h0M470.2 82.8h0M481.0 87.0h0M457.8 86.6h0M462.2 89.3h0M478.8 86.7h0M468.8 88.3h0M466.6 84.1h0M480.6 86.6h0M460.3 84.9h0M458.1 89.8h0M479.7 89.6h0M477.6 84.3h0M470.8 87.1h0M464.2 83.0h0M476.6 86.6h0M461.5 89.8h0M468.1 83.5h0M461.9 87.9h0M467.6 86.3h0M457.8 89.9h0M468.9 85.5h0M468.7 88.6h0M481.6 86.9h0M466.9 88.4h0M470.6 88.8h0M461.4 87.3h0M464.6 85.1h0M463.3 86.9h0M481.4 88.3h0M460.8 88.6h0M473.3 87.2h0M477.9 85.9h0M480.6 83.1h0M474.8 83.4h0M462.1 87.3h0M480.1 85.4h0M470.2 87.5h0M470.5 86.4h0M479.4 85.5h0M458.1 84.0h0M475.2 88.8h0M476.2 84.5h0M474.0 87.2h0M462.4 83.3h0M479.9 89.6h0M463.5 83.6h0M465.6 86.2h0M478.0 88.5h0M480.1 84.2h0M464.1 87.3h0M469.3 85.5h0M478.4 89.6h0M470.8 83.5h0M463.2 83.9h0M466.7 86.5h0M473.1 87.5h0M475.3 86.8h0M465.2 83.9h0M462.3 86.1h0M476.7 83.0h0M465.1 87.5h0M463.7 84.9h0M464.7 89.6h0M463.3 85.5h0M460.9 82.9h0M467.1 82.6h0M462.3 84.9h0M473.4 84.4h0" stroke="#2030e8" stroke-width="0.5" stroke-linecap="square" opacity="0.6"/>
<path d="M475.2 80.8h0M472.1 69.4h0M473.7 84.9h0M468.4 74.2h0M460.7 83.9h0M459.4 84.4h0M481.7 80.4h0M471.4 78.0h0M471.8 84.3h0M467.8 81.8h0M465.8 82.5h0M487.7 79.4h0M461.5 77.2h0M468.4 78.1h0M468.5 84.2h0M461.4 81.7h0M460.5 82.6h0M464.2 81.5h0M466.6 73.7h0M465.7 83.3h0M474.2 84.9h0M461.1 80.8h0M471.5 76.5h0M478.5 83.7h0M474.7 82.7h0M461.4 83.9h0M449.5 85.0h0M474.4 82.8h0M472.1 68.1h0M465.0 83.3h0M477.3 82.0h0M466.2 84.8h0M469.6 84.9h0M462.0 77.3h0M470.9 82.0h0M466.0 81.8h0M465.5 69.7h0M475.9 81.6h0M470.3 80.0h0M459.0 70.8h0M473.4 67.1h0M474.3 84.7h0M463.4 76.8h0M466.3 72.6h0M469.2 68.0h0M467.2 84.9h0M469.7 84.6h0M473.1 83.0h0M465.6 82.6h0M482.5 79.1h0M464.2 83.5h0M465.3 85.0h0M481.8 81.6h0M484.5 80.1h0M469.1 82.7h0M467.6 83.1h0M461.8 78.2h0M476.3 81.1h0M470.0 83.0h0M463.3 84.5h0M471.5 81.2h0M477.8 71.7h0M473.3 82.1h0M483.3 83.2h0M476.5 80.9h0M471.7 82.9h0M468.6 83.9h0M472.5 84.0h0M476.8 83.8h0M474.5 81.5h0M475.8 82.1h0M470.3 70.9h0M473.9 84.3h0M476.8 84.3h0M467.8 84.3h0M460.3 78.1h0M480.2 83.3h0M472.7 83.6h0M466.0 83.3h0M470.4 83.0h0M467.2 82.0h0M457.7 84.3h0M467.6 80.5h0M459.5 84.6h0M470.2 75.7h0M468.1 75.7h0M476.3 83.2h0M468.1 81.3h0M471.3 84.8h0M466.9 83.8h0M466.4 78.5h0M459.7 83.6h0M475.3 79.6h0M470.0 78.4h0M465.0 83.3h0M470.2 78.5h0M466.1 84.2h0M464.1 84.9h0M470.5 74.4h0M476.8 83.0h0M467.1 83.1h0M459.5 82.2h0M464.8 82.2h0M480.6 83.7h0M463.5 84.2h0M476.6 84.7h0M467.3 83.6h0M473.7 83.6h0M468.2 84.0h0M458.5 83.1h0M466.1 82.6h0M482.7 84.8h0M468.0 68.3h0M472.6 84.9h0M466.6 77.7h0M468.0 81.4h0M471.0 70.5h0M472.0 81.8h0M483.4 80.7h0M468.8 79.9h0M467.7 76.3h0M464.5 83.4h0M460.2 81.7h0M458.3 83.6h0M473.2 81.6h0M456.6 84.4h0M478.1 83.1h0M474.5 85.0h0M466.9 82.6h0M461.3 80.3h0M469.0 82.2h0M469.0 76.6h0M476.3 84.1h0M464.0 82.0h0M466.4 84.3h0M468.5 83.0h0M467.0 84.3h0M464.8 78.0h0M457.6 84.6h0M458.1 72.5h0M464.4 82.6h0M467.4 83.5h0M475.4 82.5h0M484.0 81.3h0M480.1 84.4h0M471.5 72.0h0M481.2 80.4h0M468.1 84.6h0M465.4 84.5h0M484.0 80.8h0M461.9 84.4h0M466.2 83.4h0M467.1 70.9h0M478.4 84.7h0M465.0 76.2h0M474.0 65.7h0M466.2 83.8h0M460.9 76.2h0M470.4 71.6h0M470.0 76.6h0M461.3 81.6h0M463.2 80.8h0M463.7 82.5h0M475.2 83.7h0M471.9 83.8h0M470.4 83.4h0M472.1 81.8h0M465.8 82.9h0M472.0 83.4h0M464.9 83.7h0M460.1 84.9h0M464.3 82.0h0M470.3 84.1h0M469.5 75.9h0M475.8 83.0h0M457.8 83.6h0M467.4 79.4h0M471.5 81.3h0M462.6 84.9h0M470.5 84.3h0M466.2 82.6h0M461.5 78.4h0M476.2 77.2h0M459.8 84.0h0M475.5 83.3h0M466.2 84.9h0M462.7 84.1h0M463.1 75.7h0M464.1 78.6h0M463.3 76.7h0M470.7 80.9h0M456.6 81.5h0M477.0 84.8h0M474.4 72.8h0M478.0 82.4h0M462.5 84.3h0M453.7 76.9h0M464.8 79.1h0M467.8 84.5h0M470.9 76.4h0M465.5 75.0h0M468.4 83.1h0M469.9 84.2h0M458.7 79.0h0M480.8 83.4h0M461.5 82.3h0M470.6 84.2h0M476.0 84.4h0M463.8 74.2h0M468.9 82.8h0M479.6 81.3h0M467.1 75.3h0M475.8 82.1h0M470.8 82.6h0M470.4 84.8h0M473.6 81.1h0M467.4 77.6h0M467.5 80.4h0M475.2 66.2h0M470.6 80.9h0M472.2 81.6h0M461.1 82.3h0M469.0 81.4h0M476.9 81.9h0M474.8 82.3h0M471.2 83.4h0M465.5 83.4h0M464.9 82.4h0M471.8 75.6h0M478.2 75.3h0M469.2 84.3h0M477.5 83.9h0M467.0 83.0h0M476.8 80.0h0M462.4 84.0h0M470.2 82.0h0M462.0 81.6h0M473.3 80.9h0M472.7 84.8h0M462.7 78.0h0M464.1 68.2h0M466.0 83.1h0M459.2 79.0h0M462.9 83.1h0M463.3 73.1h0M474.1 83.8h0M478.0 82.8h0M466.0 79.0h0M467.1 81.0h0M470.4 78.2h0M465.5 80.0h0M467.1 82.4h0M474.4 74.8h0M470.5 81.5h0M468.4 84.4h0M465.2 83.3h0M478.6 84.1h0M464.9 81.9h0M469.7 57.5h0M462.2 84.7h0M465.1 80.4h0M469.6 79.8h0M466.4 80.6h0M472.4 83.4h0M469.4 84.2h0M459.9 75.7h0M453.8 84.9h0M475.5 82.8h0M465.1 78.8h0M478.6 75.2h0M469.0 80.5h0M463.9 76.2h0M472.6 84.6h0M467.2 80.7h0M469.0 75.1h0M462.9 84.0h0M473.1 80.2h0M476.1 79.6h0M465.5 78.7h0M480.6 84.9h0M465.2 74.5h0M470.6 79.2h0M458.2 82.8h0M456.3 78.3h0M482.7 82.2h0M478.3 84.2h0M476.5 84.9h0M457.8 84.4h0M470.4 81.4h0M471.7 81.3h0M469.5 84.6h0M470.9 84.0h0M462.9 83.4h0M467.9 80.7h0M461.5 85.0h0M466.6 81.5h0M471.4 79.9h0M463.8 70.6h0M467.1 75.9h0M466.1 79.6h0M469.0 84.6h0M475.0 73.7h0M470.5 82.5h0M471.5 79.5h0M459.5 78.1h0M466.5 84.6h0M474.3 82.2h0M463.3 81.5h0M466.1 80.6h0M462.6 76.9h0M477.7 84.8h0M466.0 74.6h0M464.1 83.0h0M473.0 84.6h0M476.1 80.4h0M472.2 75.9h0M475.3 84.9h0M470.3 84.3h0M468.1 81.7h0M466.0 78.7h0M465.6 79.4h0M465.0 80.0h0M471.3 83.3h0M468.2 79.8h0M469.5 84.6h0M472.9 83.4h0M468.6 84.1h0M459.9 84.1h0M463.7 79.6h0M461.6 81.4h0M456.4 81.8h0M469.6 79.4h0M461.0 80.8h0M460.5 73.3h0M461.8 82.2h0M474.6 83.1h0M466.9 84.8h0M475.4 84.5h0M468.3 82.4h0M466.0 81.8h0M472.6 80.6h0M472.8 82.5h0M469.6 81.8h0M462.1 83.7h0M465.9 83.2h0M461.1 78.6h0M467.2 75.1h0M469.5 84.3h0M478.6 82.2h0M478.1 78.7h0M473.3 84.9h0M475.1 82.4h0M470.4 84.1h0M487.0 84.3h0M478.9 67.5h0M486.2 76.9h0M471.4 84.7h0M471.6 78.8h0M475.8 81.0h0M470.1 82.2h0M470.9 83.1h0M462.4 83.5h0M475.0 83.4h0M469.8 82.5h0M474.2 80.0h0M467.4 84.3h0M457.2 84.7h0M472.2 77.2h0M476.5 73.5h0M460.5 85.0h0M462.5 76.9h0M466.9 79.1h0M467.2 84.8h0M457.7 82.7h0M480.4 83.4h0M475.5 81.8h0M464.8 84.5h0M457.0 83.8h0M471.2 81.0h0M481.9 79.7h0M474.3 76.3h0M476.4 84.5h0M462.7 84.2h0M470.4 83.0h0M459.0 82.1h0M481.8 83.1h0M472.6 84.6h0" stroke="#1a22f0" stroke-width="0.6" stroke-linecap="square" opacity="0.75"/>
<g filter="url(#bl)">
<path d="M459.2 89.9 L481 89.9 C482 87.4 477 83.7 470.1 83.7 C462.2 83.7 458.2 86.4 459.2 89.9 Z" fill="#1030ff" opacity="0.92"/>
<ellipse cx="472.6" cy="87.5" rx="5.7" ry="2.2" fill="#00c0ff"/>
<ellipse cx="472.6" cy="87.4" rx="3.5" ry="1.6" fill="#30e060"/>
<ellipse cx="472.6" cy="87.3" rx="2" ry="1.1" fill="#ffd000"/>
<ellipse cx="472.6" cy="87.3" rx="1" ry="0.75" fill="#ff2000"/>
</g>
<rect x="447.5" y="35.5" width="50" height="35.5" fill="none" stroke="#333" stroke-width="1"/>
<text x="430.1" y="47.5" font-size="4.6" text-anchor="start" font-weight="normal" fill="#444">1.06</text>
<rect x="520.5" y="33.5" width="72" height="72" fill="none" stroke="#c4c4c4" stroke-width="1"/>
<line x1="518.3" y1="40.8" x2="520.3" y2="40.8" stroke="#333" stroke-width="0.6"/>
<text x="517.5" y="42.1" font-size="3.6" text-anchor="end" font-weight="normal" fill="#555">10<tspan dy="-1.6" font-size="2.8">5</tspan></text>
<line x1="518.3" y1="58.3" x2="520.3" y2="58.3" stroke="#333" stroke-width="0.6"/>
<text x="517.5" y="59.6" font-size="3.6" text-anchor="end" font-weight="normal" fill="#555">10<tspan dy="-1.6" font-size="2.8">4</tspan></text>
<line x1="518.3" y1="77.6" x2="520.3" y2="77.6" stroke="#333" stroke-width="0.6"/>
<text x="517.5" y="78.9" font-size="3.6" text-anchor="end" font-weight="normal" fill="#555">10<tspan dy="-1.6" font-size="2.8">3</tspan></text>
<line x1="518.3" y1="88.9" x2="520.3" y2="88.9" stroke="#333" stroke-width="0.6"/>
<text x="517.5" y="90.2" font-size="3.6" text-anchor="end" font-weight="normal" fill="#555">0</text>
<line x1="518.3" y1="101.4" x2="520.3" y2="101.4" stroke="#333" stroke-width="0.6"/>
<text x="517.5" y="102.7" font-size="3.6" text-anchor="end" font-weight="normal" fill="#555">-10<tspan dy="-1.6" font-size="2.8">3</tspan></text>
<line x1="519.3" y1="37.5" x2="520.3" y2="37.5" stroke="#555" stroke-width="0.5"/>
<line x1="519.3" y1="42.5" x2="520.3" y2="42.5" stroke="#555" stroke-width="0.5"/>
<line x1="519.3" y1="47.5" x2="520.3" y2="47.5" stroke="#555" stroke-width="0.5"/>
<line x1="519.3" y1="52.5" x2="520.3" y2="52.5" stroke="#555" stroke-width="0.5"/>
<line x1="519.3" y1="57.5" x2="520.3" y2="57.5" stroke="#555" stroke-width="0.5"/>
<line x1="519.3" y1="62.5" x2="520.3" y2="62.5" stroke="#555" stroke-width="0.5"/>
<line x1="519.3" y1="67.5" x2="520.3" y2="67.5" stroke="#555" stroke-width="0.5"/>
<line x1="519.3" y1="72.5" x2="520.3" y2="72.5" stroke="#555" stroke-width="0.5"/>
<line x1="519.3" y1="77.5" x2="520.3" y2="77.5" stroke="#555" stroke-width="0.5"/>
<line x1="519.3" y1="82.5" x2="520.3" y2="82.5" stroke="#555" stroke-width="0.5"/>
<line x1="519.3" y1="87.5" x2="520.3" y2="87.5" stroke="#555" stroke-width="0.5"/>
<line x1="519.3" y1="92.5" x2="520.3" y2="92.5" stroke="#555" stroke-width="0.5"/>
<line x1="519.3" y1="97.5" x2="520.3" y2="97.5" stroke="#555" stroke-width="0.5"/>
<line x1="519.3" y1="102.5" x2="520.3" y2="102.5" stroke="#555" stroke-width="0.5"/>
<rect x="517.9" y="87" width="2.2" height="3.5" fill="#000" stroke="none" stroke-width="0"/>
<line x1="524.8" y1="105" x2="524.8" y2="107" stroke="#333" stroke-width="0.6"/>
<text x="524.8" y="112.5" font-size="3.6" text-anchor="middle" font-weight="normal" fill="#555">-10<tspan dy="-1.6" font-size="2.8">3</tspan></text>
<line x1="537.3" y1="105" x2="537.3" y2="107" stroke="#333" stroke-width="0.6"/>
<text x="537.3" y="112.5" font-size="3.6" text-anchor="middle" font-weight="normal" fill="#555">0</text>
<line x1="549.3" y1="105" x2="549.3" y2="107" stroke="#333" stroke-width="0.6"/>
<text x="549.3" y="112.5" font-size="3.6" text-anchor="middle" font-weight="normal" fill="#555">10<tspan dy="-1.6" font-size="2.8">3</tspan></text>
<line x1="568.8" y1="105" x2="568.8" y2="107" stroke="#333" stroke-width="0.6"/>
<text x="568.8" y="112.5" font-size="3.6" text-anchor="middle" font-weight="normal" fill="#555">10<tspan dy="-1.6" font-size="2.8">4</tspan></text>
<line x1="586.3" y1="105" x2="586.3" y2="107" stroke="#333" stroke-width="0.6"/>
<text x="586.3" y="112.5" font-size="3.6" text-anchor="middle" font-weight="normal" fill="#555">10<tspan dy="-1.6" font-size="2.8">5</tspan></text>
<line x1="522.3" y1="105" x2="522.3" y2="106" stroke="#555" stroke-width="0.5"/>
<line x1="527.3" y1="105" x2="527.3" y2="106" stroke="#555" stroke-width="0.5"/>
<line x1="532.3" y1="105" x2="532.3" y2="106" stroke="#555" stroke-width="0.5"/>
<line x1="537.3" y1="105" x2="537.3" y2="106" stroke="#555" stroke-width="0.5"/>
<line x1="542.3" y1="105" x2="542.3" y2="106" stroke="#555" stroke-width="0.5"/>
<line x1="547.3" y1="105" x2="547.3" y2="106" stroke="#555" stroke-width="0.5"/>
<line x1="552.3" y1="105" x2="552.3" y2="106" stroke="#555" stroke-width="0.5"/>
<line x1="557.3" y1="105" x2="557.3" y2="106" stroke="#555" stroke-width="0.5"/>
<line x1="562.3" y1="105" x2="562.3" y2="106" stroke="#555" stroke-width="0.5"/>
<line x1="567.3" y1="105" x2="567.3" y2="106" stroke="#555" stroke-width="0.5"/>
<line x1="572.3" y1="105" x2="572.3" y2="106" stroke="#555" stroke-width="0.5"/>
<line x1="577.3" y1="105" x2="577.3" y2="106" stroke="#555" stroke-width="0.5"/>
<line x1="582.3" y1="105" x2="582.3" y2="106" stroke="#555" stroke-width="0.5"/>
<line x1="587.3" y1="105" x2="587.3" y2="106" stroke="#555" stroke-width="0.5"/>
<rect x="534.3" y="105.3" width="3.5" height="2" fill="#000" stroke="none" stroke-width="0"/>
<path d="M557.5 80.7h0M567.8 75.4h0M560.4 79.3h0M565.9 45.0h0M570.3 69.5h0M548.0 59.6h0M573.0 73.6h0M562.1 70.0h0M558.3 80.8h0M548.9 78.1h0M558.4 79.1h0M546.7 80.9h0M560.7 78.2h0M559.2 76.3h0M570.9 72.7h0M558.3 78.6h0M566.5 77.0h0M567.1 74.2h0M572.4 73.8h0M558.8 83.4h0M564.7 78.9h0M551.3 54.8h0M553.7 72.4h0M558.6 80.1h0M560.1 81.4h0M553.1 70.5h0M557.8 64.3h0M564.4 74.9h0M557.5 77.3h0M559.3 69.1h0M555.0 79.3h0M568.4 60.3h0M570.7 63.4h0M561.5 76.3h0M559.6 68.8h0M570.1 47.8h0M563.1 66.5h0M556.3 79.6h0M552.3 61.7h0M556.8 70.9h0M573.2 57.5h0M556.8 81.6h0M577.3 80.7h0M560.3 64.0h0M559.0 71.8h0M568.1 82.5h0M558.8 80.7h0M562.5 77.6h0M554.1 76.5h0M552.9 80.4h0M555.9 77.2h0M561.6 77.9h0M556.3 69.4h0M548.7 81.0h0M563.1 72.7h0M559.3 74.0h0M558.6 79.8h0M556.7 75.6h0M547.0 80.1h0M569.7 78.0h0M557.4 82.5h0M563.4 77.7h0M568.5 80.1h0M567.0 68.0h0M561.5 70.0h0M560.3 81.9h0M562.1 80.3h0M565.6 83.2h0M563.7 80.2h0M557.6 72.8h0M562.9 56.7h0M562.5 76.9h0M564.4 82.5h0M561.5 80.2h0M568.4 73.2h0M561.5 80.8h0M565.5 70.1h0M560.5 81.7h0M556.9 75.8h0M554.7 73.0h0M559.4 77.4h0M563.5 82.2h0M567.8 76.0h0M559.8 77.6h0M557.2 57.5h0M557.3 82.8h0M567.9 74.7h0M560.9 60.3h0M557.3 80.1h0M564.7 51.8h0M552.5 82.7h0M561.0 63.6h0M560.0 78.5h0M559.5 77.1h0M553.5 72.9h0M566.1 75.9h0M570.2 69.9h0M552.5 70.2h0M561.0 81.2h0M564.1 76.7h0M573.6 82.7h0M557.8 72.9h0M554.7 83.0h0M560.3 65.7h0M572.2 81.7h0M560.7 54.0h0M561.9 72.7h0M570.8 76.2h0M547.7 75.3h0M547.5 78.4h0M565.7 73.8h0M564.9 76.8h0M552.1 82.1h0M563.4 73.4h0M560.5 76.0h0M561.6 77.5h0M555.5 80.6h0M557.6 71.2h0M555.1 71.3h0M560.6 65.3h0M558.9 79.0h0M570.2 82.5h0M564.0 76.7h0M551.0 74.3h0M562.8 79.7h0M568.8 62.8h0M562.0 77.2h0M566.7 78.3h0M560.1 78.5h0M564.5 81.9h0M554.8 82.9h0M564.9 60.4h0M552.2 68.0h0M567.9 81.7h0M551.4 59.3h0M547.8 75.0h0M563.4 76.5h0M559.3 82.0h0M561.0 81.7h0M562.8 76.4h0M560.1 82.5h0M555.1 64.9h0M561.5 77.5h0M562.4 81.0h0M563.2 79.2h0M572.0 78.4h0M556.0 81.8h0M560.7 82.1h0M563.6 81.1h0M557.7 64.2h0M553.2 73.7h0M556.9 53.6h0M566.6 72.7h0M558.7 76.7h0M563.9 80.8h0M556.0 82.6h0M562.9 62.4h0M556.3 71.0h0M555.3 71.3h0M561.0 71.1h0M560.6 82.2h0M569.0 78.6h0M550.7 75.0h0M563.3 83.1h0M569.8 82.3h0M568.3 75.6h0M558.0 82.0h0M556.3 80.4h0M557.4 81.8h0M562.1 75.6h0M561.4 76.7h0M562.4 58.5h0M563.8 78.3h0M554.0 69.1h0M553.6 76.7h0M553.1 78.5h0M552.4 74.5h0M559.7 78.3h0M562.1 80.4h0M575.3 82.5h0M563.5 82.6h0M560.4 74.0h0M568.7 82.7h0M556.0 80.9h0M562.3 73.9h0M566.1 76.7h0M564.9 79.1h0M562.7 78.0h0M558.2 78.9h0M553.0 82.8h0M559.4 82.5h0M556.8 71.1h0M564.4 74.2h0M559.5 75.7h0M563.6 82.2h0M550.8 79.6h0M566.0 67.6h0M555.3 72.1h0M551.1 79.8h0M552.2 66.3h0M556.6 76.3h0M566.9 63.0h0M564.5 81.4h0M553.4 75.6h0M560.8 57.8h0M559.7 75.6h0M551.0 82.7h0M554.4 69.8h0M548.3 80.8h0M555.2 79.7h0M544.6 69.2h0M555.6 67.1h0M554.8 82.1h0M555.6 75.1h0M555.4 61.2h0M567.1 70.9h0M558.2 76.0h0M561.7 74.0h0M564.8 71.5h0M565.6 82.8h0M564.3 78.5h0M557.0 53.4h0M553.8 79.3h0M555.7 72.9h0M557.5 82.1h0M560.3 82.8h0M559.8 68.0h0M566.8 81.2h0M559.7 78.0h0M570.9 81.2h0M566.4 56.8h0M557.5 83.2h0M565.4 83.0h0M543.3 36.0h0M568.4 82.5h0M562.7 81.2h0M562.6 75.3h0M550.4 67.1h0M575.2 68.7h0M558.8 77.3h0M559.5 61.2h0M566.9 65.8h0M559.2 76.4h0M555.3 81.2h0M564.2 79.0h0M554.3 81.3h0M564.7 69.7h0M561.1 41.7h0M566.9 79.8h0M553.2 79.8h0M567.6 82.9h0M562.0 83.1h0M571.9 80.3h0M556.5 79.2h0M571.2 73.2h0M564.4 80.1h0M564.9 72.1h0M556.0 79.6h0M563.6 79.0h0M564.2 71.0h0M555.4 70.0h0M553.5 80.1h0M555.7 75.3h0M568.9 75.0h0M561.2 79.4h0M565.8 77.5h0M562.0 80.6h0M561.0 74.9h0M561.6 51.0h0M557.9 79.8h0M567.5 75.4h0M561.3 78.4h0M561.6 82.0h0M552.1 76.9h0M562.1 81.6h0M556.3 82.4h0M557.3 76.3h0M566.4 82.5h0M553.9 77.2h0M559.1 47.2h0M564.0 80.6h0M567.1 76.5h0M557.2 64.1h0M562.2 67.4h0M562.0 78.2h0M553.7 82.7h0M547.7 77.5h0M548.9 78.2h0M563.8 82.4h0M560.9 68.0h0M552.4 82.4h0M556.5 78.6h0M557.9 55.1h0M558.2 78.6h0M560.1 78.7h0M573.3 77.3h0M555.7 77.5h0M561.1 79.9h0M555.8 83.2h0M556.6 80.9h0M555.1 73.9h0M558.9 71.5h0M557.0 83.4h0M562.4 76.3h0M561.5 68.8h0M555.0 78.2h0M571.6 82.1h0M553.4 75.8h0M562.4 76.0h0M573.1 81.3h0M556.1 75.1h0M568.1 72.7h0M568.6 75.9h0M562.3 65.9h0M549.4 75.3h0M568.7 83.0h0M560.8 81.2h0M557.1 82.6h0M567.8 74.3h0M556.0 75.8h0M566.6 70.1h0M557.1 64.4h0M563.4 73.4h0M554.0 81.8h0M558.0 80.2h0M554.9 82.7h0M556.1 75.9h0M561.4 72.7h0M559.3 82.3h0M561.4 72.4h0M567.8 80.0h0M559.6 73.9h0M549.4 75.4h0M558.6 77.2h0M560.8 75.3h0M566.3 76.3h0M566.4 78.6h0M565.9 73.0h0M559.0 78.5h0M564.1 78.4h0M551.8 83.1h0M567.9 75.9h0M562.9 82.1h0M563.3 77.6h0M558.1 66.0h0M560.6 76.9h0M556.4 82.0h0M563.6 82.1h0M552.5 75.3h0M566.0 79.9h0M563.5 74.2h0M572.2 62.5h0M560.1 70.3h0M559.7 80.1h0M561.4 82.3h0M560.5 76.9h0M559.7 81.8h0M553.8 76.5h0M553.8 81.7h0M557.0 70.0h0M558.6 69.7h0M553.3 61.6h0M553.5 74.0h0M558.6 77.4h0M564.7 82.6h0M559.2 82.6h0M564.3 77.5h0M566.0 74.6h0M564.8 78.4h0M557.8 79.3h0M557.9 75.8h0M549.3 78.2h0M556.3 75.5h0M563.1 81.8h0M553.9 80.4h0M568.3 62.1h0M568.7 78.1h0M558.1 67.4h0M565.7 83.3h0M552.0 74.2h0M554.1 82.4h0M558.1 82.6h0M560.4 81.0h0M559.2 62.7h0M555.2 80.3h0M571.9 75.7h0M562.0 77.3h0M562.0 82.3h0M564.3 81.5h0M561.3 78.7h0M558.9 80.3h0M557.0 83.1h0M550.7 78.4h0M569.1 83.4h0M554.9 71.1h0M550.5 77.1h0M555.5 74.1h0M550.9 81.1h0M572.0 79.1h0M562.4 78.0h0M568.6 82.7h0M568.9 80.2h0M563.6 76.7h0M563.7 42.6h0M556.1 78.2h0M559.8 68.1h0M556.7 81.4h0M560.6 80.9h0M556.2 79.5h0M567.7 77.4h0M564.8 77.9h0M559.7 75.0h0M550.5 64.4h0M564.3 82.3h0M565.5 82.5h0M559.9 77.2h0M552.9 79.0h0M562.8 70.1h0M566.5 73.8h0M549.0 81.7h0M563.6 78.8h0M549.6 68.7h0M560.8 80.5h0M570.6 62.3h0M560.8 75.8h0M563.1 72.5h0M558.4 80.6h0M560.3 81.4h0M574.1 81.2h0M568.1 77.7h0M558.5 82.8h0M558.1 75.5h0M560.4 79.1h0M573.2 83.0h0M561.5 82.1h0M566.8 69.8h0M558.2 81.8h0M552.8 80.9h0M568.1 81.6h0M559.9 59.9h0M555.7 67.5h0M556.2 77.5h0M556.4 74.8h0M556.7 79.1h0M551.3 58.4h0M567.4 81.4h0M562.5 82.8h0M566.0 64.5h0M558.3 75.9h0M562.3 78.2h0M561.3 81.5h0M567.2 65.8h0M565.1 81.8h0M562.4 74.9h0M556.5 71.6h0M553.3 82.0h0M555.6 63.6h0M556.6 78.4h0M557.1 77.5h0M553.1 77.2h0M559.8 69.9h0M563.4 63.2h0M556.7 57.9h0M563.8 62.8h0M567.7 64.6h0M549.3 63.4h0M561.7 66.4h0M555.8 65.9h0M562.2 64.1h0M558.9 70.8h0M562.9 60.6h0M567.2 59.8h0M565.6 61.6h0M555.1 50.1h0M548.3 52.9h0M549.9 51.7h0M557.1 56.8h0M561.8 63.1h0M557.7 56.4h0M558.1 70.8h0M552.8 58.8h0M552.5 49.6h0M552.1 68.5h0M564.4 60.0h0M550.8 66.4h0M564.7 48.2h0M556.4 62.2h0M563.9 69.8h0M562.3 54.8h0M565.0 43.7h0M567.3 61.8h0M556.9 68.0h0M555.9 55.6h0M558.7 54.7h0M556.9 38.4h0M564.4 71.9h0M560.3 64.7h0M561.0 48.4h0M558.4 54.0h0M566.7 71.3h0M551.2 57.3h0M562.1 67.8h0M563.5 69.1h0M556.8 60.2h0M557.2 59.0h0M565.6 41.2h0M559.2 71.6h0M553.8 53.9h0M566.1 65.8h0M556.2 59.3h0M567.7 59.1h0M568.0 67.3h0M559.8 62.1h0M563.7 42.1h0M556.5 60.9h0M558.7 66.2h0M557.1 34.7h0M563.9 70.2h0M554.1 70.2h0M560.1 50.5h0M561.1 67.1h0M563.5 64.8h0M549.6 70.6h0M551.4 70.7h0M556.2 69.7h0M559.6 66.7h0M561.5 62.3h0M561.8 70.4h0M571.4 59.4h0M564.2 60.6h0M563.8 65.1h0M558.2 48.1h0M564.9 66.1h0M564.4 68.0h0M564.3 65.2h0M560.2 60.8h0M564.0 55.6h0M568.7 64.6h0M556.6 67.6h0M549.4 44.0h0M565.0 68.6h0M564.6 38.9h0M559.5 71.3h0M558.4 69.1h0M575.2 64.9h0M558.3 55.4h0M554.3 67.3h0M558.2 70.8h0M563.4 70.7h0M557.5 47.5h0M558.7 57.0h0M562.3 41.9h0M561.4 63.3h0M560.5 60.2h0M555.1 47.2h0M561.1 63.0h0M554.6 41.8h0M565.6 49.3h0M555.8 71.6h0M551.2 67.4h0M558.4 59.0h0M554.2 68.1h0M568.5 63.0h0M560.1 67.6h0M568.3 85.9h0M564.1 85.9h0M564.7 86.7h0M572.0 88.3h0M556.3 88.3h0M560.6 82.7h0M570.9 90.1h0M560.8 85.4h0M564.0 86.1h0M561.9 86.7h0M573.2 89.9h0M566.1 82.8h0M568.4 89.3h0M550.6 88.0h0M559.3 86.8h0M567.7 85.8h0M553.8 86.8h0M568.5 88.2h0M571.9 86.2h0M568.1 90.0h0M567.2 87.1h0M556.4 86.2h0M552.7 89.9h0M572.3 82.7h0M559.9 89.8h0M571.4 86.4h0M565.8 83.6h0M572.2 88.1h0M550.4 84.5h0M569.0 86.4h0M567.5 86.9h0M563.3 90.4h0M553.7 88.0h0M554.7 86.2h0M572.1 87.8h0M559.2 87.8h0M567.9 83.7h0M573.2 85.6h0M555.3 83.9h0M551.4 83.5h0M550.7 85.2h0M560.2 82.8h0M569.6 84.0h0M569.0 84.0h0M564.0 86.9h0M549.9 86.0h0M555.7 83.4h0M553.4 90.6h0M553.6 88.6h0M553.0 88.1h0M550.6 87.7h0M561.9 88.4h0M558.0 84.1h0M558.3 88.4h0M556.4 85.5h0M568.8 84.1h0M556.8 84.9h0M553.6 89.2h0M556.6 85.8h0M555.8 89.6h0M558.1 90.6h0M558.9 90.1h0M555.3 86.4h0M564.9 87.1h0M553.5 87.4h0M571.6 83.2h0M571.0 88.6h0M561.6 89.0h0M567.3 84.1h0M554.9 85.3h0M556.8 87.6h0M571.6 90.2h0M561.2 85.4h0M567.6 89.6h0M569.3 83.1h0M566.6 87.0h0M560.7 84.9h0M558.9 89.5h0M551.2 84.0h0M570.6 83.3h0M566.4 85.6h0M551.3 88.6h0M569.8 88.5h0M556.6 85.3h0M570.2 88.4h0M553.4 83.7h0M550.3 86.1h0M570.4 89.6h0M571.1 83.8h0M561.6 84.5h0M571.7 85.4h0M551.9 84.2h0M553.4 86.8h0M573.1 85.9h0M572.3 87.3h0M566.5 82.7h0M557.8 89.1h0M566.9 85.7h0M549.8 83.1h0M558.3 87.5h0M570.3 83.9h0M555.3 84.2h0M552.9 88.6h0M561.6 83.1h0M566.0 90.2h0M557.3 84.5h0M569.4 87.4h0M571.6 83.5h0M555.0 90.6h0M559.0 90.2h0M569.8 87.8h0M561.9 84.7h0M567.7 85.4h0M557.3 87.2h0M569.4 84.8h0M569.8 87.3h0M568.4 89.8h0M570.9 83.7h0M559.2 84.7h0M562.2 90.3h0M569.2 89.5h0M567.1 82.8h0M562.7 83.3h0M550.6 87.7h0M555.0 89.3h0M560.7 90.4h0M567.9 83.6h0M571.5 86.3h0M573.5 86.7h0M559.0 89.4h0M573.0 86.4h0M559.0 82.8h0M554.2 83.1h0M572.1 86.6h0M552.3 83.6h0M561.2 86.7h0M568.4 87.3h0M564.8 86.6h0M570.2 87.2h0M562.5 82.6h0M560.5 88.1h0M557.9 82.8h0M564.8 86.6h0M563.3 83.7h0M562.0 85.8h0M566.1 89.0h0M561.9 89.3h0M566.5 89.7h0M561.8 88.1h0M568.4 86.8h0M554.7 89.0h0M558.4 83.1h0M557.1 82.8h0M570.9 89.6h0M563.7 88.4h0M572.4 86.0h0M563.2 84.6h0M572.3 90.4h0M567.5 84.2h0M571.3 84.6h0M557.0 90.1h0M573.7 88.7h0M557.0 89.4h0M567.8 90.1h0M564.7 90.3h0M558.3 85.7h0M552.3 84.5h0M550.9 87.1h0M550.1 85.6h0M563.0 85.2h0M563.3 87.2h0M552.4 89.7h0M550.7 86.9h0M550.3 85.2h0M563.7 84.0h0M567.9 89.2h0M571.4 87.7h0M561.1 84.3h0M567.6 89.1h0M555.5 83.1h0M551.0 83.2h0M563.6 84.9h0M557.6 88.9h0M559.4 86.8h0M552.6 88.1h0M566.4 89.8h0M571.0 90.5h0M567.6 89.3h0M553.1 86.0h0M556.3 86.9h0M554.5 82.5h0M573.6 83.1h0M559.1 86.0h0M553.3 85.1h0M569.3 86.7h0M554.9 82.5h0M551.7 90.2h0M558.7 86.4h0M550.7 83.8h0M560.8 87.7h0M560.3 87.2h0M557.3 88.2h0M563.2 90.5h0M568.7 86.1h0M558.0 82.5h0M556.3 84.1h0M565.1 85.8h0M559.9 84.5h0M556.0 86.4h0M572.5 87.6h0M554.8 86.7h0M559.4 82.9h0M556.8 82.7h0M569.2 82.7h0M565.7 88.0h0M571.6 85.8h0M556.3 87.0h0M569.6 85.7h0M565.8 88.1h0M552.5 90.5h0M555.8 87.5h0M569.9 84.2h0M560.2 88.4h0M553.7 84.2h0M552.9 88.1h0M556.8 87.1h0M565.3 82.6h0M553.0 84.0h0M553.6 84.3h0M570.3 85.6h0M556.1 89.7h0M566.2 88.3h0M569.8 86.4h0M567.7 85.8h0M564.9 82.7h0M560.6 84.3h0M566.7 89.6h0M558.6 85.6h0M568.1 84.7h0M566.6 90.1h0M552.5 84.3h0M550.0 89.0h0M565.7 85.6h0M561.2 85.5h0M564.4 85.2h0M565.8 84.7h0M561.0 84.6h0M553.0 84.8h0M563.7 86.3h0M556.8 86.1h0M561.8 82.7h0M550.5 85.7h0M572.8 89.1h0M554.2 88.6h0M573.6 83.5h0M568.8 84.2h0M559.1 87.6h0M563.4 87.6h0M555.1 82.9h0M550.1 85.0h0M561.7 86.6h0M551.5 88.0h0M554.1 87.1h0M551.4 87.7h0M563.1 89.7h0M565.8 89.6h0M572.9 84.1h0M555.6 89.5h0M569.9 84.2h0M563.9 82.5h0M550.1 88.8h0M558.6 89.8h0M573.3 83.3h0M567.4 88.6h0M565.9 83.2h0M566.6 89.9h0M572.8 86.3h0M562.7 86.4h0M553.1 89.9h0M551.0 85.0h0M563.4 86.9h0M554.1 83.3h0M572.2 83.9h0M573.2 86.8h0M563.3 89.5h0M564.5 85.5h0M552.9 82.5h0M569.3 84.4h0M560.0 86.5h0M567.9 83.0h0M560.1 83.7h0M569.1 84.3h0M552.7 89.3h0M573.2 86.0h0M566.2 83.6h0M558.1 86.9h0M559.7 87.2h0M555.0 87.5h0M562.0 88.5h0M571.3 87.1h0M561.2 82.9h0M557.8 87.3h0M560.9 87.4h0" stroke="#2030e8" stroke-width="0.5" stroke-linecap="square" opacity="0.6"/>
<path d="M560.6 84.3h0M559.1 84.4h0M568.7 77.4h0M561.0 85.0h0M559.3 84.7h0M566.6 76.6h0M559.0 80.2h0M566.3 82.7h0M560.9 82.4h0M566.0 73.2h0M564.8 79.5h0M565.8 72.5h0M554.7 78.9h0M572.6 78.1h0M559.9 80.6h0M571.8 71.8h0M557.2 81.5h0M559.2 77.6h0M559.3 80.4h0M568.1 77.7h0M558.3 84.9h0M563.5 84.3h0M551.2 70.2h0M557.9 83.5h0M562.3 84.4h0M560.3 84.9h0M549.3 80.7h0M564.0 83.1h0M554.9 84.7h0M573.0 74.3h0M559.7 75.2h0M575.0 82.8h0M565.1 82.5h0M563.8 75.6h0M557.9 83.7h0M560.2 81.5h0M563.7 81.7h0M548.8 82.3h0M567.1 84.7h0M553.6 83.5h0M559.3 83.8h0M543.9 83.5h0M563.8 81.2h0M565.6 82.8h0M562.7 82.9h0M562.9 80.7h0M558.6 83.4h0M561.9 83.0h0M568.5 77.4h0M558.3 82.2h0M564.1 69.9h0M565.5 83.9h0M559.5 79.4h0M562.4 80.1h0M562.3 77.9h0M557.8 82.3h0M576.1 82.2h0M558.2 81.5h0M571.6 79.5h0M567.6 80.5h0M548.2 83.2h0M562.5 83.5h0M567.4 78.7h0M566.0 84.4h0M555.3 76.3h0M562.5 80.1h0M553.4 83.7h0M554.4 80.2h0M559.4 81.3h0M562.1 80.8h0M571.0 77.3h0M563.2 59.8h0M567.6 84.0h0M553.4 83.5h0M553.7 82.6h0M557.9 77.6h0M571.9 82.2h0M552.5 74.9h0M551.0 69.7h0M560.4 80.4h0M568.4 83.4h0M550.7 83.0h0M559.3 84.0h0M552.4 82.2h0M570.0 80.6h0M565.3 82.6h0M562.6 81.2h0M560.6 80.1h0M559.4 80.3h0M561.8 78.2h0M556.8 79.2h0M555.3 79.2h0M553.9 83.9h0M561.0 64.0h0M555.9 79.2h0M566.4 81.8h0M547.7 68.7h0M564.5 78.8h0M564.2 75.0h0M568.5 83.6h0M559.3 83.4h0M551.4 82.2h0M555.1 84.0h0M568.0 82.4h0M559.0 80.5h0M558.3 84.6h0M557.2 79.3h0M560.5 72.7h0M559.4 80.8h0M551.1 81.1h0M557.1 77.4h0M567.2 81.6h0M570.0 84.3h0M560.1 82.8h0M557.6 79.3h0M569.4 81.1h0M559.8 81.5h0M553.4 76.5h0M560.1 82.7h0M565.3 84.2h0M570.7 84.5h0M557.8 80.3h0M564.3 80.3h0M558.8 81.5h0M568.1 83.1h0M562.5 74.8h0M562.5 72.6h0M554.7 73.0h0M558.9 70.9h0M558.8 80.3h0M538.2 82.9h0M566.3 81.4h0M560.8 84.5h0M559.5 83.4h0M558.6 79.9h0M561.0 83.0h0M562.4 72.7h0M552.6 71.8h0M561.6 83.9h0M561.6 83.8h0M561.0 69.9h0M551.5 83.8h0M560.0 82.9h0M552.8 82.6h0M563.1 82.6h0M569.2 80.1h0M566.3 84.0h0M558.7 83.6h0M557.4 81.9h0M557.3 84.2h0M563.1 82.8h0M556.7 70.7h0M557.5 82.6h0M545.0 79.8h0M555.5 77.5h0M555.9 84.7h0M557.5 80.7h0M568.5 75.8h0M552.3 82.4h0M552.5 80.8h0M564.6 84.0h0M554.7 82.7h0M559.8 72.5h0M561.9 84.0h0M560.9 84.7h0M556.0 83.3h0M566.6 83.9h0M570.3 80.1h0M554.5 83.2h0M559.1 80.6h0M566.8 84.1h0M559.5 76.6h0M554.5 82.4h0M558.1 81.9h0M566.1 84.8h0M554.6 84.2h0M562.4 73.9h0M563.2 79.3h0M556.7 84.2h0M564.4 84.0h0M565.0 82.2h0M567.1 80.1h0M566.7 78.3h0M551.5 82.0h0M566.5 82.2h0M564.5 81.2h0M567.0 84.1h0M555.5 68.9h0M566.5 84.4h0M563.2 83.7h0M553.5 68.0h0M568.9 82.0h0M555.9 84.8h0M554.5 78.3h0M563.3 83.0h0M557.0 68.5h0M563.1 70.7h0M559.3 81.9h0M562.6 84.0h0M566.0 74.9h0M560.6 81.3h0M566.3 81.7h0M566.2 83.2h0M555.6 83.6h0M566.2 77.7h0M564.7 83.4h0M561.7 72.0h0M567.9 74.5h0M571.3 74.6h0M565.6 84.7h0M551.6 83.6h0M563.7 84.1h0M560.0 78.6h0M559.2 82.2h0M563.0 73.1h0M558.8 80.8h0M571.1 81.3h0M562.6 81.9h0M561.0 73.9h0M565.8 74.6h0M565.9 82.0h0M568.3 82.0h0M564.9 82.8h0M560.7 78.5h0M561.7 81.8h0M547.3 84.8h0M551.7 80.2h0M567.4 84.2h0M558.8 84.8h0M572.3 84.7h0M572.2 81.9h0M553.0 78.9h0M562.8 76.8h0M579.0 81.1h0M556.0 84.6h0M563.4 78.5h0M559.5 84.4h0M559.4 78.7h0M559.1 84.7h0M560.8 82.7h0M565.7 82.8h0M555.9 84.6h0M564.1 76.1h0M556.5 78.6h0M564.2 83.5h0M562.9 84.5h0M556.0 84.3h0M561.8 79.4h0M556.3 82.6h0M555.6 71.1h0M568.3 75.4h0M549.5 81.4h0M564.4 77.9h0M565.3 83.6h0M557.2 83.9h0M567.8 81.5h0M566.6 71.3h0M552.8 83.9h0M564.2 84.0h0M563.8 85.0h0M556.3 79.0h0M564.5 83.8h0M565.6 84.7h0M556.4 78.2h0M548.4 80.3h0M563.4 76.4h0M556.2 78.6h0M550.1 82.5h0M558.5 82.5h0M545.9 63.1h0M558.8 82.5h0M570.3 80.9h0M543.0 83.6h0M563.8 82.8h0M555.1 81.5h0M558.3 81.7h0M555.2 84.1h0M564.9 75.4h0M560.8 76.9h0M556.0 69.8h0M552.7 84.1h0M558.2 79.1h0M568.2 74.9h0M553.3 83.9h0M563.5 75.6h0M563.0 83.4h0M548.3 83.8h0M567.9 82.1h0M560.7 83.5h0M575.0 81.6h0M571.9 81.4h0M559.3 83.7h0M559.9 83.9h0M554.6 73.8h0M552.2 82.8h0M565.9 84.0h0M559.3 84.9h0M558.4 84.2h0M559.8 84.2h0M565.2 84.7h0M566.9 77.0h0M560.9 84.0h0M559.7 79.8h0M561.6 83.1h0M574.0 74.2h0M547.8 83.7h0M553.6 83.3h0M563.9 78.0h0M561.9 82.4h0M568.7 78.4h0M569.2 79.0h0M573.5 84.3h0M555.9 82.0h0M564.8 79.8h0M559.4 81.5h0M567.1 83.7h0M562.1 83.1h0M566.5 65.4h0M556.2 83.9h0M562.0 79.5h0M557.7 82.5h0M559.3 77.3h0M558.1 68.4h0M554.4 83.8h0M568.0 67.2h0M562.8 81.2h0M567.9 82.8h0M554.6 80.0h0M548.5 74.9h0M556.8 84.1h0M560.0 84.9h0M566.0 84.2h0M567.7 84.0h0M568.7 82.7h0M570.7 84.2h0M565.6 84.8h0M561.7 83.9h0M556.1 76.6h0M565.3 78.8h0M557.8 84.0h0M555.9 75.5h0M564.7 84.5h0M562.4 84.6h0M566.4 80.7h0M556.4 81.6h0M568.4 78.6h0M563.2 80.4h0M559.9 82.3h0M556.1 81.8h0M554.1 83.7h0M552.3 72.7h0M569.9 83.2h0M551.9 73.4h0M565.0 79.4h0M559.4 82.9h0M557.3 75.8h0M558.0 83.9h0M560.4 80.5h0M566.7 67.4h0M564.5 82.8h0M561.0 77.8h0M552.2 76.6h0M549.6 76.7h0M572.8 80.9h0M554.6 82.3h0M551.0 71.2h0M568.1 80.8h0M551.4 82.1h0M565.7 81.0h0M566.9 79.9h0M562.5 70.9h0M567.1 72.8h0M552.1 81.1h0M553.2 78.4h0M559.7 84.8h0M560.9 76.0h0M560.4 83.8h0M563.9 78.2h0M556.3 81.9h0M547.4 61.3h0M563.5 80.2h0M559.5 79.1h0M566.1 80.1h0M574.2 82.9h0M561.5 77.2h0M564.6 81.1h0M555.3 82.6h0M566.7 84.0h0M563.1 82.5h0M562.5 83.9h0M566.8 82.5h0M553.7 79.3h0M564.5 81.8h0M563.9 76.5h0M571.1 81.6h0M549.5 83.5h0M560.4 84.0h0M574.9 83.6h0M558.3 78.8h0M558.2 83.7h0M572.3 80.6h0M576.9 84.1h0M561.7 84.1h0M556.4 80.1h0M557.2 82.5h0M558.4 80.9h0M555.6 83.1h0M555.8 82.5h0M562.0 84.6h0M561.2 80.9h0M564.0 81.0h0M561.1 84.2h0M553.2 82.7h0M565.6 72.6h0" stroke="#1a22f0" stroke-width="0.6" stroke-linecap="square" opacity="0.75"/>
<g filter="url(#bl)">
<path d="M551.3 90.6 L572.8 90.6 C573.8 88.1 568.8 83.7 562 83.7 C554.3 83.7 550.3 87.1 551.3 90.6 Z" fill="#1030ff" opacity="0.92"/>
<ellipse cx="564.3" cy="88.2" rx="5.6" ry="2.2" fill="#00c0ff"/>
<ellipse cx="564.3" cy="88.1" rx="3.4" ry="1.6" fill="#30e060"/>
<ellipse cx="564.3" cy="88" rx="1.9" ry="1.1" fill="#ffd000"/>
<ellipse cx="564.3" cy="88" rx="1" ry="0.75" fill="#ff2000"/>
</g>
<rect x="539.5" y="35.5" width="50" height="35.5" fill="none" stroke="#333" stroke-width="1"/>
<text x="521.9" y="47.5" font-size="4.6" text-anchor="start" font-weight="normal" fill="#444">1.24</text>
<rect x="612.5" y="33.5" width="72" height="72" fill="none" stroke="#c4c4c4" stroke-width="1"/>
<line x1="610.7" y1="40.8" x2="612.7" y2="40.8" stroke="#333" stroke-width="0.6"/>
<text x="609.9" y="42.1" font-size="3.6" text-anchor="end" font-weight="normal" fill="#555">10<tspan dy="-1.6" font-size="2.8">5</tspan></text>
<line x1="610.7" y1="58.3" x2="612.7" y2="58.3" stroke="#333" stroke-width="0.6"/>
<text x="609.9" y="59.6" font-size="3.6" text-anchor="end" font-weight="normal" fill="#555">10<tspan dy="-1.6" font-size="2.8">4</tspan></text>
<line x1="610.7" y1="77.6" x2="612.7" y2="77.6" stroke="#333" stroke-width="0.6"/>
<text x="609.9" y="78.9" font-size="3.6" text-anchor="end" font-weight="normal" fill="#555">10<tspan dy="-1.6" font-size="2.8">3</tspan></text>
<line x1="610.7" y1="88.9" x2="612.7" y2="88.9" stroke="#333" stroke-width="0.6"/>
<text x="609.9" y="90.2" font-size="3.6" text-anchor="end" font-weight="normal" fill="#555">0</text>
<line x1="610.7" y1="101.4" x2="612.7" y2="101.4" stroke="#333" stroke-width="0.6"/>
<text x="609.9" y="102.7" font-size="3.6" text-anchor="end" font-weight="normal" fill="#555">-10<tspan dy="-1.6" font-size="2.8">3</tspan></text>
<line x1="611.7" y1="37.5" x2="612.7" y2="37.5" stroke="#555" stroke-width="0.5"/>
<line x1="611.7" y1="42.5" x2="612.7" y2="42.5" stroke="#555" stroke-width="0.5"/>
<line x1="611.7" y1="47.5" x2="612.7" y2="47.5" stroke="#555" stroke-width="0.5"/>
<line x1="611.7" y1="52.5" x2="612.7" y2="52.5" stroke="#555" stroke-width="0.5"/>
<line x1="611.7" y1="57.5" x2="612.7" y2="57.5" stroke="#555" stroke-width="0.5"/>
<line x1="611.7" y1="62.5" x2="612.7" y2="62.5" stroke="#555" stroke-width="0.5"/>
<line x1="611.7" y1="67.5" x2="612.7" y2="67.5" stroke="#555" stroke-width="0.5"/>
<line x1="611.7" y1="72.5" x2="612.7" y2="72.5" stroke="#555" stroke-width="0.5"/>
<line x1="611.7" y1="77.5" x2="612.7" y2="77.5" stroke="#555" stroke-width="0.5"/>
<line x1="611.7" y1="82.5" x2="612.7" y2="82.5" stroke="#555" stroke-width="0.5"/>
<line x1="611.7" y1="87.5" x2="612.7" y2="87.5" stroke="#555" stroke-width="0.5"/>
<line x1="611.7" y1="92.5" x2="612.7" y2="92.5" stroke="#555" stroke-width="0.5"/>
<line x1="611.7" y1="97.5" x2="612.7" y2="97.5" stroke="#555" stroke-width="0.5"/>
<line x1="611.7" y1="102.5" x2="612.7" y2="102.5" stroke="#555" stroke-width="0.5"/>
<rect x="610.3" y="87" width="2.2" height="3.5" fill="#000" stroke="none" stroke-width="0"/>
<line x1="617.2" y1="105" x2="617.2" y2="107" stroke="#333" stroke-width="0.6"/>
<text x="617.2" y="112.5" font-size="3.6" text-anchor="middle" font-weight="normal" fill="#555">-10<tspan dy="-1.6" font-size="2.8">3</tspan></text>
<line x1="629.7" y1="105" x2="629.7" y2="107" stroke="#333" stroke-width="0.6"/>
<text x="629.7" y="112.5" font-size="3.6" text-anchor="middle" font-weight="normal" fill="#555">0</text>
<line x1="641.7" y1="105" x2="641.7" y2="107" stroke="#333" stroke-width="0.6"/>
<text x="641.7" y="112.5" font-size="3.6" text-anchor="middle" font-weight="normal" fill="#555">10<tspan dy="-1.6" font-size="2.8">3</tspan></text>
<line x1="661.2" y1="105" x2="661.2" y2="107" stroke="#333" stroke-width="0.6"/>
<text x="661.2" y="112.5" font-size="3.6" text-anchor="middle" font-weight="normal" fill="#555">10<tspan dy="-1.6" font-size="2.8">4</tspan></text>
<line x1="678.7" y1="105" x2="678.7" y2="107" stroke="#333" stroke-width="0.6"/>
<text x="678.7" y="112.5" font-size="3.6" text-anchor="middle" font-weight="normal" fill="#555">10<tspan dy="-1.6" font-size="2.8">5</tspan></text>
<line x1="614.7" y1="105" x2="614.7" y2="106" stroke="#555" stroke-width="0.5"/>
<line x1="619.7" y1="105" x2="619.7" y2="106" stroke="#555" stroke-width="0.5"/>
<line x1="624.7" y1="105" x2="624.7" y2="106" stroke="#555" stroke-width="0.5"/>
<line x1="629.7" y1="105" x2="629.7" y2="106" stroke="#555" stroke-width="0.5"/>
<line x1="634.7" y1="105" x2="634.7" y2="106" stroke="#555" stroke-width="0.5"/>
<line x1="639.7" y1="105" x2="639.7" y2="106" stroke="#555" stroke-width="0.5"/>
<line x1="644.7" y1="105" x2="644.7" y2="106" stroke="#555" stroke-width="0.5"/>
<line x1="649.7" y1="105" x2="649.7" y2="106" stroke="#555" stroke-width="0.5"/>
<line x1="654.7" y1="105" x2="654.7" y2="106" stroke="#555" stroke-width="0.5"/>
<line x1="659.7" y1="105" x2="659.7" y2="106" stroke="#555" stroke-width="0.5"/>
<line x1="664.7" y1="105" x2="664.7" y2="106" stroke="#555" stroke-width="0.5"/>
<line x1="669.7" y1="105" x2="669.7" y2="106" stroke="#555" stroke-width="0.5"/>
<line x1="674.7" y1="105" x2="674.7" y2="106" stroke="#555" stroke-width="0.5"/>
<line x1="679.7" y1="105" x2="679.7" y2="106" stroke="#555" stroke-width="0.5"/>
<rect x="626.7" y="105.3" width="3.5" height="2" fill="#000" stroke="none" stroke-width="0"/>
<path d="M652.9 74.5h0M659.1 71.7h0M646.9 81.1h0M645.6 81.8h0M648.3 77.6h0M659.0 65.9h0M650.9 79.1h0M664.2 64.8h0M634.4 80.2h0M648.5 82.7h0M650.1 79.3h0M654.4 81.6h0M660.8 79.1h0M651.7 76.0h0M646.7 78.5h0M657.8 71.8h0M662.0 62.0h0M637.6 81.9h0M656.3 82.7h0M654.6 81.4h0M647.8 82.4h0M650.0 80.7h0M654.5 80.1h0M653.0 66.6h0M651.3 72.4h0M645.8 75.1h0M654.5 79.6h0M648.8 55.5h0M653.3 73.2h0M649.3 82.6h0M654.0 80.3h0M657.3 83.0h0M654.2 80.7h0M656.7 78.5h0M644.5 65.1h0M655.6 73.9h0M654.5 78.7h0M649.1 79.5h0M651.8 58.3h0M636.1 80.4h0M653.3 66.1h0M650.3 75.0h0M639.3 80.5h0M655.8 68.8h0M649.0 79.4h0M654.4 77.0h0M651.4 68.5h0M655.7 82.5h0M653.3 64.8h0M651.1 71.9h0M655.7 82.3h0M657.7 77.6h0M639.3 70.3h0M652.9 65.5h0M649.2 81.0h0M646.2 63.5h0M660.6 75.8h0M658.5 75.8h0M646.6 80.9h0M646.1 48.5h0M657.6 66.3h0M649.0 71.4h0M650.8 71.7h0M641.0 81.9h0M652.0 71.9h0M659.5 77.3h0M650.0 81.2h0M652.1 76.1h0M663.2 69.5h0M658.0 80.1h0M661.2 80.1h0M656.5 79.2h0M659.9 66.9h0M642.8 69.0h0M647.9 82.0h0M642.9 74.9h0M666.0 68.9h0M653.8 78.0h0M652.0 69.8h0M648.3 63.4h0M646.7 74.4h0M636.1 77.3h0M666.1 73.4h0M652.3 73.2h0M653.1 75.4h0M644.4 78.3h0M652.4 70.9h0M655.0 63.7h0M652.3 79.0h0M656.4 82.9h0M647.8 79.3h0M654.7 80.8h0M658.1 78.0h0M656.1 78.5h0M655.0 76.1h0M652.1 47.6h0M646.9 79.5h0M656.0 72.6h0M650.4 61.0h0M647.1 70.5h0M657.3 80.7h0M643.2 76.9h0M649.4 72.5h0M657.4 80.5h0M658.4 69.4h0M650.5 82.3h0M653.1 70.4h0M656.0 76.9h0M652.3 81.2h0M648.2 82.5h0M655.3 73.1h0M653.7 81.0h0M653.4 79.1h0M659.4 77.4h0M654.6 72.9h0M650.0 71.9h0M653.7 78.0h0M664.3 73.8h0M648.5 68.7h0M651.2 76.9h0M648.0 82.3h0M654.9 69.9h0M645.2 74.9h0M655.4 77.4h0M657.3 82.2h0M648.1 81.4h0M647.7 76.8h0M643.9 74.7h0M653.0 77.7h0M646.1 74.8h0M649.0 71.8h0M650.3 68.9h0M648.7 63.4h0M657.7 69.7h0M662.3 49.9h0M640.1 81.8h0M647.9 81.1h0M654.2 82.6h0M646.5 78.3h0M649.6 77.1h0M654.0 68.0h0M661.0 82.5h0M659.7 81.5h0M651.0 43.8h0M653.5 80.8h0M650.6 82.8h0M651.7 73.6h0M645.8 74.8h0M642.2 80.3h0M650.6 64.4h0M658.6 67.6h0M657.3 66.5h0M641.7 47.4h0M651.6 67.3h0M649.0 75.8h0M654.5 81.8h0M646.2 80.7h0M658.2 39.1h0M651.5 80.7h0M656.2 78.2h0M658.0 79.4h0M641.2 45.2h0M651.5 79.3h0M661.8 78.8h0M652.9 76.1h0M659.0 79.7h0M655.3 52.4h0M649.8 65.8h0M654.4 62.4h0M659.0 82.8h0M660.4 74.1h0M661.4 78.9h0M646.2 77.4h0M657.7 75.8h0M644.6 72.5h0M652.0 81.2h0M651.5 82.9h0M656.5 67.8h0M654.6 78.9h0M660.2 63.7h0M649.1 79.2h0M657.8 82.2h0M655.1 82.6h0M652.8 73.1h0M645.6 68.2h0M656.2 74.7h0M654.7 56.1h0M657.5 80.8h0M652.5 82.7h0M651.3 72.7h0M655.1 54.8h0M655.5 72.1h0M656.9 76.0h0M664.0 68.1h0M649.1 79.6h0M664.7 68.2h0M635.2 82.7h0M658.5 80.6h0M647.9 74.1h0M664.7 82.4h0M647.5 67.1h0M659.1 62.9h0M646.9 68.6h0M646.1 77.5h0M657.6 68.0h0M657.9 77.8h0M648.6 74.3h0M667.1 83.0h0M650.9 78.7h0M662.1 81.4h0M646.8 77.7h0M647.1 57.3h0M653.3 69.6h0M646.8 78.7h0M655.5 52.6h0M640.0 74.0h0M653.8 73.1h0M649.4 76.0h0M647.1 73.8h0M654.0 75.6h0M651.5 65.1h0M650.1 74.0h0M657.6 81.0h0M654.5 76.9h0M655.0 78.6h0M660.7 75.7h0M652.4 74.5h0M657.8 69.2h0M650.3 78.0h0M656.4 81.5h0M655.9 78.4h0M649.5 73.0h0M643.8 74.9h0M645.2 80.1h0M647.2 77.0h0M656.1 77.2h0M652.0 80.2h0M651.0 80.5h0M655.6 79.5h0M657.1 55.9h0M661.1 65.5h0M649.3 74.8h0M656.0 75.5h0M657.0 77.0h0M647.1 79.6h0M653.5 80.7h0M647.4 57.3h0M651.5 78.3h0M655.3 75.5h0M642.7 82.3h0M647.6 80.1h0M648.0 68.2h0M653.3 58.9h0M648.4 79.0h0M655.0 78.0h0M647.7 80.6h0M649.7 64.0h0M656.4 74.5h0M654.7 82.6h0M653.7 56.1h0M652.6 71.1h0M658.7 81.7h0M660.9 77.6h0M650.6 54.1h0M648.5 79.3h0M646.6 80.2h0M663.1 69.8h0M647.5 82.8h0M645.0 46.0h0M654.4 75.7h0M659.0 71.4h0M645.5 78.7h0M652.1 78.1h0M644.3 81.6h0M648.7 82.9h0M662.4 77.5h0M653.8 82.0h0M651.2 81.8h0M653.2 81.8h0M654.5 73.3h0M652.2 72.5h0M645.8 78.3h0M645.8 82.9h0M664.7 82.5h0M648.3 81.2h0M659.9 78.5h0M648.5 82.5h0M660.5 75.6h0M656.9 79.5h0M651.5 81.7h0M664.7 79.9h0M647.3 82.7h0M651.4 73.4h0M647.7 75.6h0M648.2 83.0h0M650.6 78.6h0M647.1 75.5h0M650.9 80.4h0M662.1 67.5h0M642.5 78.2h0M645.4 79.6h0M647.2 68.4h0M650.0 79.3h0M658.8 74.8h0M657.1 69.4h0M655.6 75.3h0M654.0 60.9h0M667.0 79.9h0M646.1 83.0h0M646.0 76.6h0M652.6 71.3h0M654.0 83.0h0M651.4 62.5h0M647.8 51.7h0M645.1 62.7h0M651.2 72.2h0M648.6 71.5h0M649.9 81.3h0M646.4 82.8h0M660.7 72.3h0M655.5 77.8h0M663.7 58.3h0M649.7 74.3h0M653.1 73.9h0M651.3 78.1h0M652.9 57.2h0M651.3 81.8h0M651.8 75.2h0M641.1 75.5h0M651.2 73.2h0M656.9 80.6h0M641.3 77.7h0M650.7 82.8h0M656.2 80.3h0M660.3 35.4h0M652.3 77.1h0M655.5 68.8h0M663.2 82.9h0M660.5 65.1h0M650.1 81.2h0M649.2 81.1h0M658.8 82.0h0M654.1 69.6h0M649.6 68.3h0M651.4 81.1h0M654.7 64.9h0M651.6 75.8h0M651.3 79.0h0M651.4 61.6h0M644.0 80.1h0M663.1 82.9h0M660.0 78.4h0M661.7 81.3h0M652.0 62.0h0M653.5 81.1h0M656.2 83.0h0M657.6 73.8h0M642.0 81.4h0M654.9 77.5h0M646.9 73.1h0M652.4 82.9h0M648.9 71.5h0M662.9 75.0h0M656.0 79.7h0M652.6 81.8h0M661.0 79.4h0M652.4 82.2h0M648.5 80.6h0M651.7 67.9h0M650.6 75.3h0M653.1 82.3h0M657.8 60.8h0M652.1 69.3h0M652.4 72.7h0M658.8 76.7h0M654.5 67.3h0M658.4 65.9h0M653.6 64.0h0M645.1 70.7h0M643.0 81.4h0M659.5 81.9h0M655.2 78.2h0M650.0 82.2h0M647.0 80.6h0M654.9 74.0h0M652.0 76.7h0M654.7 68.0h0M647.8 82.1h0M646.3 82.8h0M662.1 82.5h0M647.2 78.7h0M652.7 79.2h0M660.7 82.3h0M642.0 58.9h0M656.9 79.5h0M653.2 64.8h0M651.9 80.0h0M654.4 79.4h0M645.8 77.7h0M639.7 66.6h0M663.9 74.4h0M651.1 68.2h0M658.1 82.9h0M659.3 76.6h0M654.5 74.9h0M655.5 81.0h0M657.0 63.8h0M662.1 73.4h0M655.7 69.4h0M660.2 68.2h0M651.1 71.9h0M650.3 81.6h0M653.3 74.6h0M655.2 73.0h0M656.0 73.2h0M664.3 69.2h0M657.8 69.1h0M653.2 65.0h0M664.5 80.6h0M654.7 55.4h0M654.9 82.7h0M655.7 71.8h0M650.9 79.3h0M646.4 80.2h0M653.6 81.3h0M651.0 79.5h0M647.7 78.5h0M653.5 82.6h0M651.6 65.6h0M649.3 76.6h0M642.3 82.1h0M651.8 71.7h0M663.2 79.1h0M658.0 72.6h0M659.2 76.8h0M652.7 73.4h0M659.0 77.1h0M648.9 72.2h0M650.1 81.4h0M655.9 76.1h0M644.4 80.7h0M653.1 82.5h0M654.6 79.7h0M662.7 64.9h0M648.7 80.4h0M655.3 67.6h0M649.0 74.6h0M649.6 77.5h0M636.9 66.2h0M647.3 74.4h0M659.6 75.5h0M655.9 76.3h0M653.7 79.8h0M667.3 74.3h0M656.0 79.6h0M645.5 81.2h0M651.6 82.4h0M652.5 77.3h0M662.3 82.9h0M647.5 82.6h0M655.3 71.9h0M658.6 52.1h0M648.1 82.8h0M653.3 72.6h0M641.0 69.2h0M653.4 68.9h0M639.9 58.6h0M650.6 74.7h0M663.0 62.5h0M655.2 80.5h0M653.1 74.1h0M653.7 70.3h0M665.5 67.9h0M656.1 82.4h0M659.0 83.0h0M650.3 68.3h0M650.3 63.8h0M646.7 82.1h0M651.8 82.5h0M648.7 68.3h0M658.6 78.2h0M656.6 80.3h0M652.1 68.7h0M649.6 80.2h0M635.8 82.6h0M649.3 78.3h0M654.6 71.9h0M656.7 82.5h0M634.7 82.7h0M638.7 79.2h0M653.8 82.6h0M646.8 79.2h0M651.6 80.7h0M650.0 79.1h0M656.3 78.0h0M641.9 76.3h0M649.5 82.8h0M658.4 74.6h0M654.0 74.0h0M648.0 80.0h0M655.5 81.2h0M654.5 78.4h0M647.6 81.3h0M656.9 81.0h0M656.8 72.5h0M652.1 69.7h0M658.4 70.2h0M645.9 60.5h0M657.3 79.6h0M651.7 78.4h0M647.3 82.9h0M649.3 78.3h0M659.7 82.8h0M649.6 81.8h0M650.8 42.3h0M649.0 72.1h0M648.2 78.3h0M658.5 78.6h0M665.9 75.3h0M660.7 71.0h0M655.8 70.1h0M657.3 79.5h0M650.8 82.9h0M649.9 71.3h0M645.9 61.6h0M661.3 68.4h0M650.8 73.8h0M648.6 75.4h0M649.1 79.0h0M654.0 82.0h0M649.6 58.5h0M652.9 80.0h0M653.8 71.5h0M660.7 80.1h0M645.5 77.4h0M654.6 65.5h0M648.8 64.3h0M650.3 78.7h0M662.4 60.4h0M656.5 63.3h0M650.6 41.6h0M655.7 72.8h0M652.7 55.5h0M659.4 70.4h0M650.0 82.7h0M655.7 57.9h0M651.6 77.0h0M652.9 80.8h0M651.9 77.8h0M649.2 55.0h0M653.5 64.3h0M658.6 72.3h0M649.3 70.0h0M650.6 79.2h0M655.0 73.2h0M648.4 71.7h0M658.0 70.6h0M657.0 58.4h0M639.4 80.6h0M649.0 79.4h0M646.5 65.9h0M657.7 82.4h0M658.4 79.9h0M645.8 77.8h0M648.8 79.9h0M652.4 82.7h0M650.7 73.8h0M657.1 82.6h0M658.6 73.8h0M656.3 64.5h0M659.3 73.0h0M658.4 66.9h0M652.4 82.7h0M650.3 65.0h0M648.5 70.0h0M657.7 70.5h0M658.1 70.7h0M658.8 60.1h0M650.9 82.5h0M650.6 82.2h0M660.2 76.6h0M655.0 69.2h0M654.2 73.9h0M648.0 81.2h0M655.5 78.1h0M656.0 79.0h0M647.3 81.2h0M663.2 72.6h0M647.5 77.6h0M658.3 66.1h0M651.7 78.8h0M653.8 70.1h0M648.3 79.6h0M649.6 82.1h0M657.0 63.4h0M651.7 80.4h0M650.9 46.8h0M658.1 74.1h0M661.4 58.7h0M647.2 69.8h0M646.9 68.0h0M656.5 71.3h0M651.9 59.0h0M651.0 62.4h0M652.6 70.0h0M647.7 69.9h0M651.9 67.6h0M654.2 61.8h0M648.2 60.0h0M653.1 64.2h0M656.0 66.4h0M648.4 54.6h0M659.4 41.5h0M647.1 68.9h0M652.5 68.6h0M655.2 41.8h0M670.7 65.7h0M643.8 42.7h0M654.9 56.6h0M667.1 61.4h0M650.1 65.7h0M659.3 62.8h0M654.5 71.5h0M645.5 62.2h0M655.5 71.2h0M648.5 70.0h0M653.8 62.9h0M645.1 62.3h0M657.3 51.7h0M640.1 68.6h0M652.4 55.8h0M660.3 68.1h0M656.1 69.4h0M651.4 71.1h0M652.0 66.5h0M651.0 67.7h0M668.1 67.2h0M653.0 47.5h0M653.2 71.1h0M649.3 39.5h0M650.7 66.2h0M656.6 69.5h0M650.0 35.4h0M648.9 62.8h0M650.3 69.2h0M651.4 60.9h0M654.3 70.1h0M649.2 71.1h0M660.1 70.4h0M653.8 56.9h0M651.6 58.4h0M654.9 64.3h0M653.1 41.9h0M644.8 62.9h0M652.3 62.5h0M662.3 50.8h0M659.7 55.7h0M649.6 52.9h0M645.2 45.9h0M649.5 57.7h0M660.7 63.7h0M647.8 70.8h0M649.0 63.7h0M659.3 71.9h0M651.9 66.5h0M652.2 66.4h0M655.4 68.5h0M651.6 59.9h0M654.7 62.8h0M649.4 57.4h0M653.1 71.1h0M656.9 62.9h0M647.5 53.1h0M652.1 54.6h0M647.1 67.7h0M657.4 61.2h0M656.7 54.0h0M658.4 61.3h0M658.9 67.1h0M657.2 57.6h0M649.1 54.3h0M658.4 50.1h0M654.9 47.1h0M656.5 45.2h0M646.6 63.3h0M659.2 57.3h0M659.7 68.2h0M644.7 64.6h0M650.3 58.3h0M650.7 70.6h0M649.8 69.9h0M660.8 47.4h0M665.1 65.8h0M647.5 49.5h0M659.0 66.1h0M651.9 62.1h0M660.8 55.3h0M639.9 67.0h0M650.9 70.3h0M659.9 68.0h0M649.1 64.4h0M659.8 69.5h0M650.5 65.4h0M659.5 47.5h0M656.5 42.4h0M651.0 40.3h0M649.1 70.5h0M652.4 57.6h0M653.2 60.5h0M649.7 69.6h0M671.4 40.2h0M644.7 64.6h0M652.0 58.0h0M656.2 60.6h0M647.6 71.1h0M653.2 67.5h0M651.0 49.0h0M645.2 58.4h0M655.8 65.4h0M647.1 61.3h0M649.2 57.3h0M660.0 70.1h0M647.2 58.7h0M656.6 59.7h0M659.7 57.3h0M658.7 62.9h0M655.8 69.6h0M652.0 66.7h0M654.1 66.3h0M655.7 63.5h0M650.5 63.8h0M647.9 49.3h0M658.0 43.4h0M647.5 70.3h0M655.7 67.2h0M650.6 70.0h0M644.1 40.7h0M662.1 68.3h0M659.0 88.7h0M643.8 87.4h0M663.9 84.5h0M661.0 89.2h0M662.8 85.8h0M666.2 83.9h0M658.0 88.7h0M663.8 89.5h0M666.6 83.2h0M644.2 89.8h0M643.1 83.4h0M660.3 87.6h0M656.4 86.0h0M648.0 89.1h0M658.7 90.1h0M658.3 82.8h0M650.4 85.7h0M643.2 89.1h0M666.4 85.3h0M655.3 83.4h0M644.3 86.0h0M661.7 82.4h0M663.6 83.5h0M651.2 89.0h0M661.6 88.8h0M643.6 88.6h0M659.3 82.5h0M666.1 87.3h0M660.5 85.7h0M648.6 87.5h0M651.7 84.8h0M658.5 84.4h0M652.7 89.6h0M666.5 87.7h0M661.3 87.2h0M652.6 86.2h0M659.3 84.4h0M643.6 85.6h0M650.2 89.3h0M642.9 89.0h0M650.4 82.8h0M646.3 88.5h0M654.0 87.5h0M650.1 87.4h0M643.4 84.6h0M645.9 89.7h0M652.1 86.6h0M656.8 88.9h0M648.5 82.7h0M651.8 86.1h0M665.4 84.0h0M652.1 85.4h0M653.9 84.7h0M654.2 86.6h0M664.9 83.1h0M646.0 85.7h0M653.5 84.6h0M662.0 87.6h0M655.1 84.0h0M650.2 84.8h0M651.2 84.1h0M646.8 89.7h0M658.5 82.8h0M662.8 83.5h0M660.0 89.2h0M643.1 85.1h0M661.4 88.2h0M660.4 82.7h0M651.3 83.2h0M649.0 86.9h0M665.7 83.4h0M645.3 84.0h0M661.5 85.0h0M648.6 87.1h0M655.4 83.4h0M659.3 82.5h0M664.6 85.2h0M661.1 87.5h0M643.9 88.6h0M663.4 86.7h0M666.0 84.6h0M642.8 89.6h0M649.2 84.6h0M663.8 88.3h0M655.1 88.2h0M642.1 87.4h0M661.0 86.3h0M666.4 83.7h0M645.6 86.7h0M663.4 82.1h0M657.3 89.8h0M657.0 86.3h0M643.1 85.9h0M666.0 89.8h0M666.7 89.0h0M645.1 84.4h0M662.2 89.7h0M650.6 89.5h0M642.6 83.4h0M654.8 85.5h0M662.8 85.2h0M656.3 86.6h0M643.3 87.3h0M663.3 85.3h0M652.6 87.4h0M655.8 87.1h0M652.0 86.1h0M665.8 82.2h0M655.3 84.2h0M662.2 85.1h0M665.4 87.9h0M656.6 85.0h0M663.0 84.1h0M647.1 82.3h0M646.7 87.8h0M660.3 85.0h0M658.7 86.3h0M665.6 89.2h0M650.8 87.4h0M646.4 84.0h0M652.3 84.3h0M664.0 87.1h0M655.5 88.8h0M649.7 83.5h0M654.3 85.4h0M660.0 83.7h0M644.5 83.0h0M659.3 87.7h0M652.7 85.3h0M663.7 85.4h0M661.8 88.9h0M660.9 82.1h0M643.1 83.9h0M655.2 82.4h0M643.2 82.2h0M650.7 86.4h0M646.2 84.7h0M654.1 87.6h0M647.2 83.6h0M649.7 83.1h0M660.5 88.0h0M661.1 82.4h0M660.6 86.5h0M660.0 82.4h0M650.7 89.7h0M642.9 89.3h0M643.4 82.5h0M656.3 89.7h0M665.8 86.6h0M654.6 88.1h0M653.4 88.9h0M663.3 85.7h0M651.2 85.8h0M647.5 84.7h0M665.5 87.0h0M642.0 82.3h0M655.1 87.6h0M646.3 88.0h0M648.1 87.7h0M665.2 87.1h0M658.6 84.6h0M655.5 87.6h0M644.5 85.2h0M664.9 87.3h0M652.7 84.1h0M644.4 84.2h0M655.5 87.3h0M644.0 83.4h0M663.0 88.8h0M652.0 88.7h0M649.1 86.5h0M648.2 84.1h0M647.1 84.8h0M646.7 83.2h0M656.8 88.1h0M646.1 89.8h0M655.4 83.0h0M663.6 82.6h0M660.2 85.6h0M655.3 90.0h0M652.6 83.7h0M650.5 83.7h0M648.2 85.3h0M652.3 84.7h0M666.4 84.2h0M655.5 86.7h0M649.1 82.9h0M648.6 82.7h0M652.9 86.0h0M653.1 89.8h0M650.5 83.6h0M655.5 83.9h0M660.3 83.9h0M659.3 82.7h0M659.9 82.8h0M654.9 84.6h0M662.5 84.3h0M644.0 86.8h0M656.3 83.3h0M662.5 89.5h0M660.1 86.7h0M665.6 88.6h0M645.4 83.0h0M658.2 88.7h0M661.4 85.3h0M651.9 84.7h0M648.1 89.2h0M652.9 85.6h0M662.3 84.4h0M647.5 85.3h0M661.4 86.8h0M660.4 84.0h0M655.5 86.1h0M654.7 84.7h0M665.3 83.0h0M645.2 82.2h0M643.5 88.8h0M654.8 89.4h0M644.0 84.3h0M648.3 88.3h0M645.2 85.3h0M665.4 84.9h0M654.5 84.4h0M648.3 84.7h0M650.0 84.9h0M646.5 83.0h0M651.0 88.7h0M646.4 85.5h0M662.7 83.6h0M655.8 85.4h0M644.6 85.9h0M663.0 88.1h0M653.1 83.3h0M642.7 86.1h0M660.7 88.3h0M658.3 88.7h0M654.3 83.2h0M652.2 85.0h0M660.0 87.8h0M666.1 84.8h0M654.3 87.4h0M664.1 84.2h0M655.5 84.7h0M647.8 82.6h0M659.6 87.3h0M661.4 84.4h0M645.0 82.7h0M647.2 84.2h0M644.8 83.5h0M642.8 85.1h0M650.3 89.8h0M654.1 89.5h0M656.3 88.9h0M654.2 88.6h0M662.4 89.4h0M646.3 83.4h0M665.6 86.1h0M660.7 88.4h0M643.2 89.7h0M643.3 87.0h0M644.6 83.1h0M657.1 84.9h0M655.9 83.5h0M648.2 88.3h0M658.6 88.6h0M650.3 85.2h0M661.4 82.0h0M660.0 89.6h0M647.7 89.2h0M643.6 89.6h0M657.1 88.1h0M644.0 90.1h0M656.0 84.2h0M658.5 83.0h0M645.6 88.8h0M661.0 88.7h0M651.9 84.2h0M657.5 86.9h0M654.7 82.8h0M659.6 83.2h0M654.1 90.0h0M654.8 89.2h0M653.6 83.4h0M645.8 87.4h0M657.5 87.8h0M642.5 86.3h0M652.3 86.1h0M661.2 87.6h0M663.1 82.2h0M662.8 89.9h0M660.3 87.0h0M665.9 85.9h0M666.4 84.3h0M651.9 84.2h0M658.6 87.1h0M645.8 83.6h0M657.5 87.7h0M650.1 82.7h0M663.6 85.2h0M645.2 84.3h0M645.9 82.0h0M657.9 87.7h0M655.8 89.3h0M657.3 85.2h0M656.6 84.0h0M643.1 87.4h0M656.7 82.9h0M652.8 89.0h0M646.8 86.1h0M662.4 87.6h0M660.1 84.5h0M658.1 86.3h0M652.2 86.6h0M645.8 87.1h0M641.9 88.5h0M663.5 85.5h0M653.6 85.5h0M653.9 85.5h0M649.2 82.3h0M652.3 85.0h0M657.4 89.6h0M652.9 87.6h0M662.2 85.1h0M646.7 88.7h0M644.9 84.2h0M663.1 85.4h0M646.8 84.4h0M649.5 85.3h0M660.2 83.1h0M642.6 86.7h0M654.8 83.2h0M649.9 85.7h0M665.2 88.2h0M655.0 89.4h0M654.7 87.4h0M657.9 85.1h0M661.8 83.7h0M649.1 84.3h0M642.5 84.2h0M656.5 87.5h0M653.0 88.3h0M647.1 83.2h0M659.7 85.7h0M660.1 88.2h0M666.2 87.7h0M665.4 82.9h0M647.7 86.7h0M651.4 89.7h0M660.4 89.0h0M642.4 83.9h0" stroke="#2030e8" stroke-width="0.5" stroke-linecap="square" opacity="0.6"/>
<path d="M643.6 83.8h0M644.8 74.9h0M650.0 83.6h0M660.4 82.8h0M658.6 77.5h0M657.1 83.9h0M655.3 79.7h0M661.9 83.9h0M641.5 76.1h0M655.2 80.7h0M662.7 69.6h0M646.4 81.2h0M655.5 71.0h0M661.4 79.5h0M661.6 84.0h0M652.5 80.8h0M665.6 80.6h0M656.7 78.1h0M660.4 84.1h0M646.4 79.1h0M648.5 82.4h0M648.4 81.8h0M664.9 80.6h0M638.2 80.9h0M641.4 79.0h0M658.6 82.6h0M654.4 67.0h0M634.1 82.1h0M650.8 81.8h0M651.4 76.1h0M661.3 84.0h0M640.9 84.3h0M649.9 83.6h0M660.3 75.0h0M658.4 73.3h0M647.4 83.6h0M651.5 84.4h0M643.8 82.8h0M662.3 81.7h0M650.6 83.7h0M661.7 81.3h0M658.6 77.8h0M647.6 82.5h0M652.5 68.4h0M657.6 70.5h0M656.3 83.6h0M663.4 83.2h0M660.7 81.2h0M655.5 84.5h0M657.9 81.9h0M648.8 75.4h0M649.6 78.0h0M657.4 73.8h0M655.6 66.8h0M646.2 83.6h0M652.9 75.9h0M648.3 74.8h0M649.8 84.2h0M661.9 72.2h0M647.3 83.4h0M649.2 82.4h0M657.1 79.1h0M654.0 81.5h0M654.6 80.7h0M644.1 69.2h0M653.3 79.9h0M651.1 83.8h0M648.2 84.5h0M649.8 82.3h0M651.6 84.0h0M658.9 83.6h0M665.7 72.7h0M654.2 84.3h0M663.1 83.3h0M654.2 83.1h0M643.9 84.2h0M653.9 80.8h0M661.8 74.1h0M662.6 74.4h0M647.8 82.7h0M668.0 78.2h0M648.7 71.2h0M648.8 83.3h0M650.1 84.3h0M662.9 82.7h0M656.1 83.7h0M659.4 79.8h0M639.1 77.7h0M653.2 81.4h0M652.8 76.9h0M658.1 83.7h0M650.5 78.6h0M661.3 83.0h0M649.1 82.5h0M644.5 76.3h0M642.9 80.5h0M661.8 84.4h0M658.5 67.2h0M648.5 74.3h0M660.7 83.6h0M652.5 83.8h0M652.8 76.6h0M644.1 81.8h0M650.0 83.5h0M654.3 82.5h0M654.9 77.0h0M650.0 81.0h0M660.0 83.3h0M662.9 83.8h0M648.4 82.1h0M656.2 79.4h0M643.7 79.9h0M656.3 79.3h0M647.4 80.5h0M652.6 83.8h0M654.7 81.4h0M652.0 82.7h0M660.4 83.6h0M648.6 82.8h0M650.6 79.4h0M655.7 73.6h0M653.4 80.3h0M655.3 83.6h0M652.3 75.7h0M648.4 83.1h0M657.9 76.1h0M654.1 83.9h0M659.5 81.2h0M662.3 80.7h0M651.4 83.0h0M648.9 82.5h0M650.7 80.2h0M649.4 82.4h0M640.8 82.3h0M664.3 83.4h0M656.3 74.7h0M668.7 76.0h0M650.0 77.9h0M657.5 82.9h0M655.4 78.7h0M653.2 84.0h0M660.0 74.4h0M653.7 82.3h0M653.2 77.2h0M654.7 77.8h0M639.2 84.1h0M649.0 65.8h0M648.9 78.7h0M664.3 81.8h0M657.5 82.3h0M658.7 82.7h0M657.7 79.6h0M652.4 83.3h0M664.3 80.6h0M652.3 84.1h0M644.6 82.7h0M657.7 83.4h0M661.3 81.8h0M654.4 67.9h0M656.0 81.7h0M659.9 82.4h0M663.6 78.2h0M657.5 77.7h0M664.5 76.7h0M655.6 56.3h0M667.2 58.0h0M644.8 82.7h0M659.8 81.2h0M655.6 82.9h0M654.5 79.7h0M645.5 81.3h0M660.6 84.0h0M652.5 81.9h0M647.3 76.0h0M649.6 81.1h0M652.2 82.5h0M654.4 77.9h0M647.9 82.1h0M647.8 78.3h0M656.4 77.2h0M653.3 83.3h0M666.4 81.9h0M651.0 81.9h0M658.5 76.6h0M664.9 77.0h0M652.4 83.6h0M660.1 68.2h0M655.7 84.1h0M654.1 81.2h0M664.1 83.9h0M647.3 59.4h0M649.8 72.2h0M642.3 80.3h0M652.9 81.7h0M660.1 83.6h0M652.1 72.9h0M659.0 77.5h0M648.8 84.0h0M661.1 81.6h0M653.0 76.1h0M650.6 82.6h0M664.3 81.6h0M653.6 81.1h0M657.4 76.0h0M654.5 83.3h0M658.2 70.2h0M654.5 77.5h0M646.0 76.9h0M655.5 76.8h0M656.8 81.6h0M656.2 68.5h0M652.2 82.0h0M665.4 74.9h0M649.0 83.8h0M654.5 81.1h0M655.1 83.9h0M646.7 76.4h0M646.0 69.5h0M658.0 80.7h0M658.0 83.9h0M654.6 75.5h0M643.4 83.8h0M651.8 82.4h0M655.2 77.4h0M657.7 83.6h0M661.3 78.5h0M656.6 82.5h0M659.9 83.1h0M664.4 74.9h0M638.7 84.3h0M660.1 79.0h0M650.9 83.3h0M656.8 82.8h0M655.0 82.4h0M647.1 80.0h0M647.9 74.5h0M656.5 80.3h0M652.5 76.4h0M658.4 81.1h0M651.2 79.4h0M667.5 81.9h0M652.0 80.5h0M667.0 84.2h0M648.8 81.9h0M657.3 82.1h0M660.9 72.0h0M645.3 75.6h0M647.5 80.7h0M656.3 82.6h0M661.0 56.7h0M662.4 84.4h0M657.2 83.6h0M660.4 83.7h0M646.2 78.9h0M650.9 82.7h0M662.9 83.6h0M650.1 80.3h0M652.1 83.5h0M642.5 66.9h0M652.4 81.7h0M643.4 83.8h0M656.0 70.4h0M663.1 83.9h0M655.7 81.2h0M654.7 83.3h0M651.1 83.1h0M657.2 75.0h0M646.5 84.0h0M650.7 79.2h0M667.5 82.5h0M645.3 79.1h0M650.0 80.9h0M644.7 80.0h0M661.5 83.5h0M652.1 80.0h0M645.5 82.5h0M645.6 84.3h0M660.7 74.3h0M657.9 56.3h0M658.7 81.7h0M653.2 81.0h0M659.4 78.9h0M662.0 79.6h0M657.9 79.0h0M643.3 78.9h0M640.9 83.4h0M644.2 83.4h0M655.3 82.0h0M643.9 78.8h0M646.6 79.5h0M653.8 79.5h0M647.9 81.2h0M645.3 81.4h0M659.7 66.4h0M656.7 65.3h0M658.6 82.6h0M659.4 81.3h0M662.7 84.2h0M653.2 70.5h0M652.3 78.1h0M642.2 84.4h0M651.9 77.7h0M649.6 72.1h0M660.1 83.0h0M657.7 82.3h0M662.9 83.5h0M660.4 67.5h0M661.0 75.4h0M656.8 83.8h0M654.3 84.0h0M650.9 69.7h0M653.3 80.8h0M647.2 82.1h0M655.9 79.9h0M652.8 84.2h0M640.3 80.2h0M636.0 82.4h0M648.7 70.2h0M650.3 82.0h0M651.4 82.4h0M661.6 83.3h0M649.3 82.6h0M645.1 82.7h0M655.8 83.5h0M659.7 82.4h0M663.9 81.4h0M646.8 72.2h0M651.7 80.4h0M650.6 83.7h0M663.0 81.4h0M657.8 83.3h0M653.4 81.6h0M657.9 75.4h0M651.0 80.1h0M652.0 81.3h0M653.0 69.8h0M650.1 78.7h0M651.6 81.9h0M655.5 72.9h0M654.8 82.9h0M662.8 84.3h0M658.8 82.8h0M652.8 78.9h0M639.2 80.0h0M643.7 80.9h0M650.0 73.3h0M650.8 82.9h0M644.8 81.7h0M650.8 84.4h0M653.9 80.5h0M649.1 83.7h0M652.3 80.3h0M652.6 81.1h0M648.7 82.4h0M647.6 84.3h0M652.3 84.0h0M654.9 78.1h0M646.5 82.8h0M640.1 70.6h0M647.0 80.0h0M656.4 80.1h0M642.8 80.1h0M659.1 60.1h0M649.4 84.5h0M653.9 83.7h0M648.2 84.4h0M656.8 79.0h0M653.4 76.7h0M655.5 78.2h0M640.7 74.1h0M657.7 76.9h0M642.4 83.9h0M651.0 84.3h0M656.4 82.3h0M651.9 81.4h0M656.3 82.8h0M654.2 73.0h0M653.7 71.2h0M647.9 84.1h0M659.5 77.1h0M660.2 72.5h0M649.7 67.7h0M647.4 78.3h0M654.4 78.5h0M648.3 81.4h0M654.0 83.2h0M658.3 83.3h0M657.3 82.5h0M662.5 83.7h0M656.0 82.7h0M646.4 81.8h0M647.6 79.6h0M656.5 71.9h0M665.2 82.5h0M650.8 79.1h0M647.3 83.7h0M661.9 81.2h0M652.3 84.3h0M657.5 75.7h0M659.9 81.1h0M646.8 84.3h0M650.8 78.2h0M649.5 83.7h0M656.4 82.3h0M657.2 84.4h0M649.9 67.9h0M656.6 79.9h0M641.8 81.6h0M655.3 83.5h0M655.2 70.1h0M653.1 73.0h0M643.9 76.7h0M652.4 83.9h0M646.3 84.2h0M662.2 74.9h0M651.2 83.3h0M651.7 75.0h0M652.3 79.7h0M656.5 64.2h0M653.5 79.4h0M656.4 67.4h0M647.2 81.7h0M660.0 67.5h0M649.9 84.4h0M657.8 79.3h0M654.5 80.9h0M659.8 83.7h0M652.6 80.4h0M643.8 76.4h0M645.8 84.0h0M651.6 79.9h0M661.8 81.9h0M650.4 82.4h0M653.4 72.2h0M660.9 83.7h0M649.5 83.3h0M655.0 81.1h0M654.8 65.0h0M649.3 83.9h0M654.5 84.3h0M659.6 83.7h0M659.6 80.2h0M650.9 82.0h0M671.4 78.6h0M655.2 84.2h0M651.3 72.0h0M648.5 79.1h0M646.9 77.5h0M658.2 82.3h0M634.9 83.9h0M652.1 75.8h0M644.4 61.4h0M652.0 77.2h0M652.8 80.6h0M644.8 81.8h0M646.8 84.2h0M661.0 73.5h0M649.6 79.0h0M653.0 77.2h0M651.1 83.4h0M658.3 76.4h0M660.7 84.1h0M658.8 78.4h0M656.5 82.5h0M656.6 80.8h0M645.6 80.4h0M661.3 81.4h0M649.5 77.1h0M647.5 81.6h0M650.7 82.9h0M648.0 79.6h0M655.6 80.4h0M657.6 82.4h0M661.1 77.2h0M652.4 84.4h0M649.3 70.9h0M651.3 76.2h0M645.7 82.2h0M648.4 80.1h0M665.6 81.6h0M648.2 84.4h0M650.2 80.7h0M657.0 83.7h0M654.7 72.5h0M657.9 80.7h0M647.6 82.8h0M646.3 83.7h0M661.3 80.6h0M648.8 84.4h0M652.4 83.6h0M654.4 81.9h0M641.4 61.9h0M651.8 83.8h0M649.0 84.1h0M656.3 81.9h0M651.1 82.0h0M638.9 77.5h0M658.0 83.3h0M637.0 74.7h0M650.5 78.6h0M648.7 84.5h0M649.2 80.9h0M653.0 82.8h0M659.0 84.3h0M647.6 81.8h0M649.2 83.6h0M657.7 80.3h0M656.2 83.8h0M657.5 74.0h0M655.1 78.9h0M651.5 72.1h0M650.0 80.1h0M650.1 77.1h0M658.7 83.0h0M662.4 77.4h0M665.5 83.0h0M646.5 83.3h0M651.5 83.3h0M653.1 83.9h0M652.0 78.3h0M645.9 75.7h0M666.8 77.6h0M662.6 84.4h0M652.0 77.0h0M650.2 81.7h0M653.0 83.9h0M645.4 80.1h0M650.9 84.4h0M657.9 79.6h0M663.5 81.7h0M658.7 84.0h0M661.2 82.9h0M646.4 84.3h0M632.6 78.4h0M661.7 73.5h0M654.2 82.1h0M652.5 83.4h0M663.6 76.9h0M647.0 84.5h0M647.0 80.0h0" stroke="#1a22f0" stroke-width="0.6" stroke-linecap="square" opacity="0.75"/>
<g filter="url(#bl)">
<path d="M643.4 90.2 L665.7 90.2 C666.7 87.7 661.7 83.2 654.6 83.2 C646.4 83.2 642.4 86.7 643.4 90.2 Z" fill="#1030ff" opacity="0.92"/>
<ellipse cx="657.6" cy="87.8" rx="5.8" ry="2.2" fill="#00c0ff"/>
<ellipse cx="657.6" cy="87.7" rx="3.6" ry="1.6" fill="#30e060"/>
<ellipse cx="657.6" cy="87.6" rx="2" ry="1.1" fill="#ffd000"/>
<ellipse cx="657.6" cy="87.6" rx="1" ry="0.75" fill="#ff2000"/>
</g>
<rect x="631.5" y="35.5" width="50" height="35.5" fill="none" stroke="#333" stroke-width="1"/>
<text x="614.3" y="47.5" font-size="4.6" text-anchor="start" font-weight="normal" fill="#444">1.62</text>
<rect x="57.5" y="150.5" width="72" height="72" fill="none" stroke="#c4c4c4" stroke-width="1"/>
<line x1="55.5" y1="157.7" x2="57.5" y2="157.7" stroke="#333" stroke-width="0.6"/>
<text x="54.7" y="159" font-size="3.6" text-anchor="end" font-weight="normal" fill="#555">10<tspan dy="-1.6" font-size="2.8">5</tspan></text>
<line x1="55.5" y1="175.2" x2="57.5" y2="175.2" stroke="#333" stroke-width="0.6"/>
<text x="54.7" y="176.5" font-size="3.6" text-anchor="end" font-weight="normal" fill="#555">10<tspan dy="-1.6" font-size="2.8">4</tspan></text>
<line x1="55.5" y1="194.5" x2="57.5" y2="194.5" stroke="#333" stroke-width="0.6"/>
<text x="54.7" y="195.8" font-size="3.6" text-anchor="end" font-weight="normal" fill="#555">10<tspan dy="-1.6" font-size="2.8">3</tspan></text>
<line x1="55.5" y1="205.8" x2="57.5" y2="205.8" stroke="#333" stroke-width="0.6"/>
<text x="54.7" y="207.1" font-size="3.6" text-anchor="end" font-weight="normal" fill="#555">0</text>
<line x1="55.5" y1="218.3" x2="57.5" y2="218.3" stroke="#333" stroke-width="0.6"/>
<text x="54.7" y="219.6" font-size="3.6" text-anchor="end" font-weight="normal" fill="#555">-10<tspan dy="-1.6" font-size="2.8">3</tspan></text>
<line x1="56.5" y1="154.4" x2="57.5" y2="154.4" stroke="#555" stroke-width="0.5"/>
<line x1="56.5" y1="159.4" x2="57.5" y2="159.4" stroke="#555" stroke-width="0.5"/>
<line x1="56.5" y1="164.4" x2="57.5" y2="164.4" stroke="#555" stroke-width="0.5"/>
<line x1="56.5" y1="169.4" x2="57.5" y2="169.4" stroke="#555" stroke-width="0.5"/>
<line x1="56.5" y1="174.4" x2="57.5" y2="174.4" stroke="#555" stroke-width="0.5"/>
<line x1="56.5" y1="179.4" x2="57.5" y2="179.4" stroke="#555" stroke-width="0.5"/>
<line x1="56.5" y1="184.4" x2="57.5" y2="184.4" stroke="#555" stroke-width="0.5"/>
<line x1="56.5" y1="189.4" x2="57.5" y2="189.4" stroke="#555" stroke-width="0.5"/>
<line x1="56.5" y1="194.4" x2="57.5" y2="194.4" stroke="#555" stroke-width="0.5"/>
<line x1="56.5" y1="199.4" x2="57.5" y2="199.4" stroke="#555" stroke-width="0.5"/>
<line x1="56.5" y1="204.4" x2="57.5" y2="204.4" stroke="#555" stroke-width="0.5"/>
<line x1="56.5" y1="209.4" x2="57.5" y2="209.4" stroke="#555" stroke-width="0.5"/>
<line x1="56.5" y1="214.4" x2="57.5" y2="214.4" stroke="#555" stroke-width="0.5"/>
<line x1="56.5" y1="219.4" x2="57.5" y2="219.4" stroke="#555" stroke-width="0.5"/>
<rect x="55.1" y="203.9" width="2.2" height="3.5" fill="#000" stroke="none" stroke-width="0"/>
<line x1="62" y1="222" x2="62" y2="224" stroke="#333" stroke-width="0.6"/>
<text x="62" y="229.5" font-size="3.6" text-anchor="middle" font-weight="normal" fill="#555">-10<tspan dy="-1.6" font-size="2.8">3</tspan></text>
<line x1="74.5" y1="222" x2="74.5" y2="224" stroke="#333" stroke-width="0.6"/>
<text x="74.5" y="229.5" font-size="3.6" text-anchor="middle" font-weight="normal" fill="#555">0</text>
<line x1="86.5" y1="222" x2="86.5" y2="224" stroke="#333" stroke-width="0.6"/>
<text x="86.5" y="229.5" font-size="3.6" text-anchor="middle" font-weight="normal" fill="#555">10<tspan dy="-1.6" font-size="2.8">3</tspan></text>
<line x1="106" y1="222" x2="106" y2="224" stroke="#333" stroke-width="0.6"/>
<text x="106" y="229.5" font-size="3.6" text-anchor="middle" font-weight="normal" fill="#555">10<tspan dy="-1.6" font-size="2.8">4</tspan></text>
<line x1="123.5" y1="222" x2="123.5" y2="224" stroke="#333" stroke-width="0.6"/>
<text x="123.5" y="229.5" font-size="3.6" text-anchor="middle" font-weight="normal" fill="#555">10<tspan dy="-1.6" font-size="2.8">5</tspan></text>
<line x1="59.5" y1="222" x2="59.5" y2="223" stroke="#555" stroke-width="0.5"/>
<line x1="64.5" y1="222" x2="64.5" y2="223" stroke="#555" stroke-width="0.5"/>
<line x1="69.5" y1="222" x2="69.5" y2="223" stroke="#555" stroke-width="0.5"/>
<line x1="74.5" y1="222" x2="74.5" y2="223" stroke="#555" stroke-width="0.5"/>
<line x1="79.5" y1="222" x2="79.5" y2="223" stroke="#555" stroke-width="0.5"/>
<line x1="84.5" y1="222" x2="84.5" y2="223" stroke="#555" stroke-width="0.5"/>
<line x1="89.5" y1="222" x2="89.5" y2="223" stroke="#555" stroke-width="0.5"/>
<line x1="94.5" y1="222" x2="94.5" y2="223" stroke="#555" stroke-width="0.5"/>
<line x1="99.5" y1="222" x2="99.5" y2="223" stroke="#555" stroke-width="0.5"/>
<line x1="104.5" y1="222" x2="104.5" y2="223" stroke="#555" stroke-width="0.5"/>
<line x1="109.5" y1="222" x2="109.5" y2="223" stroke="#555" stroke-width="0.5"/>
<line x1="114.5" y1="222" x2="114.5" y2="223" stroke="#555" stroke-width="0.5"/>
<line x1="119.5" y1="222" x2="119.5" y2="223" stroke="#555" stroke-width="0.5"/>
<line x1="124.5" y1="222" x2="124.5" y2="223" stroke="#555" stroke-width="0.5"/>
<rect x="71.5" y="222.3" width="3.5" height="2" fill="#000" stroke="none" stroke-width="0"/>
<g fill="none" stroke="#1a1a1a" stroke-width="0.7" stroke-linejoin="round">
<path d="M71.4 206.0L71.4 206.3L71.5 206.4L71.7 206.6L71.8 206.8L71.8 207.1L71.6 207.5L71.3 207.8L70.8 208.1L70.4 208.4L70.0 208.6L69.7 208.8L69.3 209.0L68.9 209.3L68.5 209.5L68.1 209.6L67.8 209.7L67.4 209.7L67.1 209.6L66.8 209.5L66.7 209.3L66.7 209.0L66.8 208.7L66.9 208.4L67.1 208.1L67.2 207.8L67.3 207.5L67.5 207.2L67.7 206.9L68.1 206.6L68.5 206.3L68.8 206.1L69.2 205.9L69.6 205.7L70.1 205.4L70.5 205.2L71.0 205.1L71.3 205.2L71.4 205.4L71.4 205.7Z" opacity="0.93"/>
<path d="M72.2 205.5L72.3 205.8L72.4 206.0L72.7 206.2L72.9 206.5L72.9 207.0L72.6 207.5L72.1 207.9L71.5 208.3L70.9 208.7L70.4 209.0L69.9 209.3L69.4 209.6L68.9 209.9L68.4 210.2L67.8 210.4L67.3 210.5L66.8 210.5L66.4 210.4L66.0 210.3L65.8 210.0L65.8 209.6L65.9 209.2L66.2 208.7L66.4 208.3L66.6 207.9L66.7 207.5L66.9 207.1L67.3 206.7L67.7 206.2L68.3 205.9L68.8 205.6L69.3 205.3L69.9 205.0L70.5 204.7L71.1 204.4L71.7 204.3L72.1 204.4L72.3 204.7L72.3 205.1Z" opacity="0.90"/>
<path d="M73.1 205.0L73.1 205.3L73.4 205.6L73.7 205.9L73.9 206.3L73.9 206.8L73.5 207.4L72.9 208.1L72.2 208.6L71.4 209.0L70.8 209.4L70.2 209.8L69.6 210.2L68.9 210.6L68.2 210.9L67.5 211.1L66.8 211.3L66.2 211.3L65.7 211.2L65.2 211.0L65.0 210.7L65.0 210.2L65.1 209.6L65.4 209.1L65.7 208.5L65.9 208.0L66.1 207.5L66.4 207.0L66.8 206.4L67.4 205.9L68.1 205.5L68.7 205.1L69.4 204.7L70.1 204.3L70.8 203.9L71.6 203.5L72.4 203.4L72.9 203.5L73.2 203.9L73.2 204.5Z" opacity="0.88"/>
<path d="M74.0 204.4L74.0 204.9L74.3 205.2L74.7 205.6L75.0 206.0L74.9 206.7L74.5 207.4L73.7 208.2L72.8 208.8L72.0 209.3L71.2 209.8L70.4 210.2L69.7 210.8L68.9 211.2L68.0 211.6L67.2 211.9L66.4 212.1L65.6 212.1L65.0 212.0L64.4 211.7L64.1 211.3L64.1 210.7L64.3 210.1L64.6 209.4L65.0 208.8L65.2 208.2L65.5 207.6L65.8 206.9L66.3 206.2L67.0 205.6L67.9 205.0L68.7 204.6L69.5 204.1L70.3 203.7L71.2 203.1L72.2 202.7L73.1 202.5L73.8 202.7L74.1 203.2L74.1 203.8Z" opacity="0.85"/>
<path d="M74.9 203.9L74.9 204.4L75.2 204.8L75.7 205.2L76.0 205.8L76.0 206.5L75.5 207.4L74.6 208.3L73.5 209.0L72.5 209.6L71.6 210.2L70.7 210.7L69.8 211.3L68.9 211.9L67.9 212.4L66.9 212.7L65.9 212.8L65.0 212.9L64.2 212.8L63.6 212.5L63.3 212.0L63.2 211.3L63.5 210.5L63.9 209.7L64.3 209.0L64.6 208.3L64.9 207.6L65.3 206.8L65.9 206.0L66.7 205.2L67.7 204.6L68.6 204.1L69.6 203.5L70.6 203.0L71.6 202.4L72.8 201.9L73.8 201.7L74.6 201.8L74.9 202.4L75.0 203.2Z" opacity="0.83"/>
<path d="M75.7 203.3L75.8 204.0L76.1 204.4L76.7 204.9L77.1 205.5L77.0 206.4L76.4 207.4L75.4 208.4L74.2 209.2L73.0 209.9L71.9 210.6L70.9 211.2L69.9 211.9L68.8 212.5L67.7 213.1L66.5 213.4L65.5 213.6L64.4 213.7L63.5 213.6L62.8 213.2L62.4 212.7L62.4 211.9L62.7 211.0L63.1 210.0L63.6 209.2L63.9 208.4L64.3 207.6L64.7 206.7L65.4 205.8L66.4 204.9L67.5 204.2L68.6 203.5L69.7 203.0L70.8 202.3L72.0 201.6L73.3 201.0L74.5 200.8L75.4 201.0L75.8 201.6L75.8 202.5Z" opacity="0.80"/>
<path d="M76.6 202.8L76.7 203.5L77.1 204.0L77.7 204.5L78.1 205.3L78.0 206.3L77.4 207.4L76.2 208.5L74.8 209.5L73.5 210.3L72.3 211.0L71.2 211.7L70.0 212.5L68.8 213.2L67.5 213.8L66.2 214.2L65.0 214.4L63.9 214.5L62.8 214.4L62.0 214.0L61.6 213.3L61.5 212.4L61.8 211.4L62.3 210.4L62.9 209.4L63.3 208.5L63.7 207.6L64.2 206.6L65.0 205.5L66.0 204.6L67.3 203.7L68.5 203.0L69.7 202.4L71.0 201.6L72.4 200.9L73.9 200.2L75.3 199.9L76.2 200.2L76.7 200.9L76.7 201.9Z" opacity="0.78"/>
<path d="M77.5 202.3L77.5 203.1L78.0 203.6L78.6 204.2L79.1 205.0L79.1 206.1L78.3 207.4L77.0 208.6L75.5 209.7L74.0 210.6L72.7 211.4L71.5 212.2L70.2 213.0L68.8 213.8L67.3 214.5L65.9 215.0L64.5 215.2L63.3 215.3L62.1 215.1L61.2 214.7L60.7 214.0L60.7 213.0L61.0 211.9L61.6 210.7L62.2 209.6L62.6 208.6L63.0 207.6L63.6 206.5L64.5 205.3L65.7 204.2L67.1 203.3L68.5 202.5L69.8 201.8L71.2 201.0L72.8 200.1L74.4 199.4L76.0 199.0L77.1 199.3L77.6 200.1L77.6 201.2Z" opacity="0.75"/>
<path d="M62.5 209.5 Q58.5 215.5 58.5 221.6" opacity="0.7"/>
<path d="M64 209.5 Q60 215.5 59.7 221.6" opacity="0.7"/>
<path d="M65.5 209.5 Q61.5 215.5 60.9 221.6" opacity="0.7"/>
</g>
<rect x="57.8" y="214" width="3.5" height="7.8" fill="#555" stroke="none" stroke-width="0" opacity="0.5" filter="url(#bl)"/>
<rect x="57.5" y="180.5" width="21" height="19" fill="none" stroke="#333" stroke-width="1"/>
<rect x="75.5" y="199.5" width="38" height="22" fill="none" stroke="#333" stroke-width="1"/>
<text x="59" y="168.6" font-size="5.2" text-anchor="start" font-weight="normal" fill="#333">T-bet+</text>
<text x="62.3" y="174.8" font-size="5.2" text-anchor="start" font-weight="normal" fill="#333">2.25</text>
<text x="114.5" y="189.8" font-size="5.2" text-anchor="middle" font-weight="normal" fill="#333">GATA3+</text>
<text x="114.5" y="196" font-size="5.2" text-anchor="middle" font-weight="normal" fill="#333">4.05</text>
<rect x="150.5" y="150.5" width="72" height="72" fill="none" stroke="#c4c4c4" stroke-width="1"/>
<line x1="148" y1="157.7" x2="150" y2="157.7" stroke="#333" stroke-width="0.6"/>
<text x="147.2" y="159" font-size="3.6" text-anchor="end" font-weight="normal" fill="#555">10<tspan dy="-1.6" font-size="2.8">5</tspan></text>
<line x1="148" y1="175.2" x2="150" y2="175.2" stroke="#333" stroke-width="0.6"/>
<text x="147.2" y="176.5" font-size="3.6" text-anchor="end" font-weight="normal" fill="#555">10<tspan dy="-1.6" font-size="2.8">4</tspan></text>
<line x1="148" y1="194.5" x2="150" y2="194.5" stroke="#333" stroke-width="0.6"/>
<text x="147.2" y="195.8" font-size="3.6" text-anchor="end" font-weight="normal" fill="#555">10<tspan dy="-1.6" font-size="2.8">3</tspan></text>
<line x1="148" y1="205.8" x2="150" y2="205.8" stroke="#333" stroke-width="0.6"/>
<text x="147.2" y="207.1" font-size="3.6" text-anchor="end" font-weight="normal" fill="#555">0</text>
<line x1="148" y1="218.3" x2="150" y2="218.3" stroke="#333" stroke-width="0.6"/>
<text x="147.2" y="219.6" font-size="3.6" text-anchor="end" font-weight="normal" fill="#555">-10<tspan dy="-1.6" font-size="2.8">3</tspan></text>
<line x1="149" y1="154.4" x2="150" y2="154.4" stroke="#555" stroke-width="0.5"/>
<line x1="149" y1="159.4" x2="150" y2="159.4" stroke="#555" stroke-width="0.5"/>
<line x1="149" y1="164.4" x2="150" y2="164.4" stroke="#555" stroke-width="0.5"/>
<line x1="149" y1="169.4" x2="150" y2="169.4" stroke="#555" stroke-width="0.5"/>
<line x1="149" y1="174.4" x2="150" y2="174.4" stroke="#555" stroke-width="0.5"/>
<line x1="149" y1="179.4" x2="150" y2="179.4" stroke="#555" stroke-width="0.5"/>
<line x1="149" y1="184.4" x2="150" y2="184.4" stroke="#555" stroke-width="0.5"/>
<line x1="149" y1="189.4" x2="150" y2="189.4" stroke="#555" stroke-width="0.5"/>
<line x1="149" y1="194.4" x2="150" y2="194.4" stroke="#555" stroke-width="0.5"/>
<line x1="149" y1="199.4" x2="150" y2="199.4" stroke="#555" stroke-width="0.5"/>
<line x1="149" y1="204.4" x2="150" y2="204.4" stroke="#555" stroke-width="0.5"/>
<line x1="149" y1="209.4" x2="150" y2="209.4" stroke="#555" stroke-width="0.5"/>
<line x1="149" y1="214.4" x2="150" y2="214.4" stroke="#555" stroke-width="0.5"/>
<line x1="149" y1="219.4" x2="150" y2="219.4" stroke="#555" stroke-width="0.5"/>
<rect x="147.6" y="203.9" width="2.2" height="3.5" fill="#000" stroke="none" stroke-width="0"/>
<line x1="154.5" y1="222" x2="154.5" y2="224" stroke="#333" stroke-width="0.6"/>
<text x="154.5" y="229.5" font-size="3.6" text-anchor="middle" font-weight="normal" fill="#555">-10<tspan dy="-1.6" font-size="2.8">3</tspan></text>
<line x1="167" y1="222" x2="167" y2="224" stroke="#333" stroke-width="0.6"/>
<text x="167" y="229.5" font-size="3.6" text-anchor="middle" font-weight="normal" fill="#555">0</text>
<line x1="179" y1="222" x2="179" y2="224" stroke="#333" stroke-width="0.6"/>
<text x="179" y="229.5" font-size="3.6" text-anchor="middle" font-weight="normal" fill="#555">10<tspan dy="-1.6" font-size="2.8">3</tspan></text>
<line x1="198.5" y1="222" x2="198.5" y2="224" stroke="#333" stroke-width="0.6"/>
<text x="198.5" y="229.5" font-size="3.6" text-anchor="middle" font-weight="normal" fill="#555">10<tspan dy="-1.6" font-size="2.8">4</tspan></text>
<line x1="216" y1="222" x2="216" y2="224" stroke="#333" stroke-width="0.6"/>
<text x="216" y="229.5" font-size="3.6" text-anchor="middle" font-weight="normal" fill="#555">10<tspan dy="-1.6" font-size="2.8">5</tspan></text>
<line x1="152" y1="222" x2="152" y2="223" stroke="#555" stroke-width="0.5"/>
<line x1="157" y1="222" x2="157" y2="223" stroke="#555" stroke-width="0.5"/>
<line x1="162" y1="222" x2="162" y2="223" stroke="#555" stroke-width="0.5"/>
<line x1="167" y1="222" x2="167" y2="223" stroke="#555" stroke-width="0.5"/>
<line x1="172" y1="222" x2="172" y2="223" stroke="#555" stroke-width="0.5"/>
<line x1="177" y1="222" x2="177" y2="223" stroke="#555" stroke-width="0.5"/>
<line x1="182" y1="222" x2="182" y2="223" stroke="#555" stroke-width="0.5"/>
<line x1="187" y1="222" x2="187" y2="223" stroke="#555" stroke-width="0.5"/>
<line x1="192" y1="222" x2="192" y2="223" stroke="#555" stroke-width="0.5"/>
<line x1="197" y1="222" x2="197" y2="223" stroke="#555" stroke-width="0.5"/>
<line x1="202" y1="222" x2="202" y2="223" stroke="#555" stroke-width="0.5"/>
<line x1="207" y1="222" x2="207" y2="223" stroke="#555" stroke-width="0.5"/>
<line x1="212" y1="222" x2="212" y2="223" stroke="#555" stroke-width="0.5"/>
<line x1="217" y1="222" x2="217" y2="223" stroke="#555" stroke-width="0.5"/>
<rect x="164" y="222.3" width="3.5" height="2" fill="#000" stroke="none" stroke-width="0"/>
<g fill="none" stroke="#1a1a1a" stroke-width="0.7" stroke-linejoin="round">
<path d="M165.7 204.5L165.5 204.9L165.3 205.2L165.1 205.5L164.9 205.8L164.7 206.1L164.4 206.4L164.0 206.6L163.6 206.8L163.1 207.0L162.6 207.2L162.0 207.3L161.4 207.3L160.9 207.3L160.4 207.1L160.1 206.8L159.9 206.5L159.7 206.3L159.4 206.0L159.1 205.8L158.9 205.5L158.9 205.1L159.0 204.8L159.3 204.5L159.7 204.2L160.0 204.0L160.3 203.7L160.5 203.4L160.9 203.0L161.3 202.7L161.9 202.6L162.5 202.7L163.0 202.9L163.4 203.1L163.8 203.3L164.2 203.4L164.7 203.4L165.3 203.6L165.6 203.8L165.8 204.1Z" opacity="0.93"/>
<path d="M167.1 204.3L166.8 204.8L166.5 205.2L166.2 205.6L165.9 206.0L165.7 206.5L165.3 206.9L164.8 207.2L164.2 207.5L163.5 207.8L162.8 208.0L162.0 208.2L161.2 208.2L160.5 208.1L159.9 207.9L159.4 207.5L159.1 207.1L158.8 206.7L158.5 206.4L158.1 206.0L157.8 205.6L157.7 205.2L157.9 204.7L158.4 204.3L158.9 204.0L159.3 203.6L159.6 203.2L160.0 202.8L160.4 202.3L161.1 201.9L161.9 201.7L162.7 201.8L163.4 202.1L164.0 202.4L164.5 202.6L165.1 202.7L165.8 202.9L166.4 203.0L167.0 203.4L167.2 203.8Z" opacity="0.90"/>
<path d="M168.5 204.2L168.1 204.8L167.7 205.3L167.3 205.8L167.0 206.3L166.6 206.8L166.1 207.3L165.5 207.8L164.8 208.2L163.9 208.5L163.0 208.8L162.0 209.0L161.0 209.1L160.1 209.0L159.3 208.6L158.7 208.2L158.3 207.7L157.9 207.2L157.5 206.8L157.0 206.3L156.7 205.8L156.6 205.2L156.8 204.7L157.4 204.1L158.0 203.7L158.6 203.3L159.0 202.8L159.4 202.2L160.0 201.5L160.9 201.0L161.9 200.8L162.9 200.9L163.8 201.3L164.5 201.7L165.1 202.0L165.9 202.1L166.8 202.3L167.6 202.5L168.3 202.9L168.6 203.5Z" opacity="0.88"/>
<path d="M169.9 204.0L169.4 204.7L168.9 205.4L168.5 206.0L168.1 206.6L167.6 207.2L167.0 207.8L166.3 208.4L165.3 208.9L164.3 209.3L163.2 209.6L162.1 209.9L160.8 209.9L159.7 209.8L158.7 209.4L158.0 208.8L157.5 208.2L157.1 207.6L156.6 207.1L156.0 206.6L155.5 206.0L155.4 205.3L155.7 204.6L156.4 203.9L157.2 203.4L157.8 202.9L158.3 202.3L158.9 201.6L159.6 200.8L160.6 200.2L161.9 199.9L163.1 200.1L164.2 200.5L165.0 201.0L165.8 201.3L166.7 201.5L167.8 201.7L168.8 202.0L169.6 202.5L170.0 203.2Z" opacity="0.85"/>
<path d="M171.2 203.8L170.7 204.7L170.1 205.5L169.6 206.2L169.1 206.9L168.6 207.6L167.9 208.3L167.0 209.0L165.9 209.5L164.7 210.0L163.5 210.4L162.1 210.7L160.6 210.8L159.3 210.6L158.2 210.2L157.3 209.5L156.8 208.8L156.2 208.1L155.6 207.5L154.9 206.9L154.4 206.2L154.3 205.3L154.6 204.5L155.4 203.8L156.3 203.1L157.1 202.5L157.7 201.8L158.3 201.0L159.2 200.1L160.4 199.4L161.9 199.1L163.3 199.2L164.6 199.7L165.6 200.3L166.5 200.7L167.5 200.9L168.8 201.1L170.0 201.5L171.0 202.1L171.4 202.9Z" opacity="0.83"/>
<path d="M172.6 203.6L172.0 204.6L171.3 205.5L170.7 206.3L170.2 207.2L169.6 208.0L168.8 208.8L167.7 209.6L166.5 210.2L165.1 210.8L163.7 211.2L162.1 211.6L160.4 211.7L158.9 211.5L157.6 210.9L156.6 210.2L156.0 209.3L155.4 208.6L154.7 207.9L153.9 207.2L153.3 206.3L153.1 205.4L153.5 204.4L154.4 203.6L155.5 202.8L156.4 202.1L157.1 201.3L157.8 200.4L158.8 199.3L160.2 198.5L161.8 198.2L163.5 198.4L164.9 198.9L166.1 199.6L167.1 200.0L168.4 200.3L169.8 200.6L171.2 200.9L172.3 201.6L172.8 202.6Z" opacity="0.80"/>
<path d="M174.0 203.4L173.3 204.6L172.5 205.6L171.8 206.5L171.2 207.5L170.6 208.4L169.7 209.3L168.5 210.2L167.1 210.9L165.6 211.5L163.9 212.0L162.1 212.4L160.2 212.5L158.5 212.3L157.0 211.7L156.0 210.8L155.2 209.9L154.5 209.0L153.7 208.3L152.8 207.4L152.1 206.5L152.0 205.4L152.5 204.4L153.5 203.4L154.6 202.6L155.6 201.8L156.4 200.9L157.2 199.7L158.3 198.6L159.9 197.7L161.8 197.3L163.7 197.5L165.3 198.1L166.6 198.9L167.8 199.4L169.2 199.7L170.8 200.0L172.4 200.4L173.7 201.2L174.2 202.3Z" opacity="0.78"/>
<path d="M175.4 203.3L174.6 204.5L173.7 205.7L173.0 206.7L172.3 207.7L171.5 208.8L170.5 209.8L169.2 210.8L167.7 211.6L166.0 212.2L164.1 212.8L162.1 213.2L160.0 213.4L158.1 213.1L156.5 212.5L155.3 211.5L154.4 210.5L153.6 209.5L152.8 208.6L151.8 207.7L151.0 206.7L150.8 205.5L151.4 204.3L152.5 203.2L153.8 202.3L154.9 201.4L155.8 200.4L156.7 199.1L157.9 197.9L159.7 196.9L161.8 196.4L163.9 196.7L165.7 197.4L167.1 198.2L168.5 198.8L170.0 199.1L171.8 199.4L173.6 199.9L175.0 200.8L175.6 201.9Z" opacity="0.75"/>
<path d="M179.8 205.5L179.7 205.9L179.5 206.2L179.5 206.6L179.4 207.0L179.2 207.4L178.9 207.7L178.6 207.9L178.1 207.8L177.8 207.7L177.4 207.5L177.2 207.5L176.9 207.5L176.5 207.6L176.1 207.5L175.8 207.4L175.5 207.0L175.4 206.7L175.3 206.3L175.2 205.9L175.1 205.5L175.1 205.1L175.1 204.7L175.3 204.3L175.6 204.0L175.9 203.8L176.2 203.6L176.5 203.4L176.8 203.2L177.1 203.0L177.4 203.0L177.8 203.1L178.1 203.3L178.4 203.5L178.6 203.7L178.9 203.9L179.2 204.1L179.6 204.3L179.8 204.7L179.9 205.1Z" opacity="0.62"/>
<path d="M181.5 205.5L181.3 206.1L181.1 206.7L181.0 207.3L180.8 208.0L180.6 208.6L180.1 209.1L179.5 209.3L178.8 209.3L178.2 209.0L177.7 208.8L177.3 208.7L176.8 208.8L176.2 208.8L175.6 208.8L175.0 208.5L174.6 208.0L174.4 207.4L174.2 206.8L174.1 206.1L173.9 205.5L173.9 204.8L174.0 204.2L174.3 203.6L174.8 203.1L175.2 202.8L175.7 202.5L176.2 202.1L176.6 201.8L177.1 201.5L177.7 201.4L178.3 201.6L178.8 201.9L179.2 202.3L179.6 202.6L180.1 202.9L180.6 203.2L181.1 203.6L181.5 204.2L181.6 204.8Z" opacity="0.57"/>
<path d="M183.2 205.5L182.9 206.4L182.7 207.2L182.5 208.0L182.3 208.9L181.9 209.8L181.3 210.5L180.5 210.8L179.5 210.7L178.7 210.4L178.0 210.0L177.4 209.9L176.7 210.0L175.9 210.1L175.0 210.0L174.2 209.6L173.7 208.9L173.3 208.1L173.1 207.2L172.9 206.4L172.8 205.5L172.7 204.6L172.9 203.7L173.3 202.9L173.9 202.2L174.6 201.7L175.2 201.3L175.8 200.8L176.5 200.4L177.2 200.0L178.0 199.9L178.8 200.1L179.5 200.5L180.0 201.1L180.6 201.5L181.3 201.9L182.0 202.3L182.7 202.9L183.2 203.6L183.4 204.6Z" opacity="0.52"/>
<path d="M155 207 Q151 213 151 221.6" opacity="0.7"/>
<path d="M156.5 207 Q152.5 213 152.2 221.6" opacity="0.7"/>
<path d="M158 207 Q154 213 153.4 221.6" opacity="0.7"/>
<ellipse cx="191" cy="205" rx="2.4" ry="2.1"/>
</g>
<rect x="150.3" y="214" width="3.5" height="7.8" fill="#555" stroke="none" stroke-width="0" opacity="0.5" filter="url(#bl)"/>
<rect x="150.5" y="180.5" width="21" height="19" fill="none" stroke="#333" stroke-width="1"/>
<rect x="167.5" y="199.5" width="38" height="22" fill="none" stroke="#333" stroke-width="1"/>
<text x="151.5" y="168.6" font-size="5.2" text-anchor="start" font-weight="normal" fill="#333">T-bet+</text>
<text x="154.8" y="174.8" font-size="5.2" text-anchor="start" font-weight="normal" fill="#333">2.38</text>
<text x="207" y="189.8" font-size="5.2" text-anchor="middle" font-weight="normal" fill="#333">GATA3+</text>
<text x="207" y="196" font-size="5.2" text-anchor="middle" font-weight="normal" fill="#333">31.0</text>
<rect x="242.5" y="150.5" width="72" height="72" fill="none" stroke="#c4c4c4" stroke-width="1"/>
<line x1="240.4" y1="157.7" x2="242.4" y2="157.7" stroke="#333" stroke-width="0.6"/>
<text x="239.6" y="159" font-size="3.6" text-anchor="end" font-weight="normal" fill="#555">10<tspan dy="-1.6" font-size="2.8">5</tspan></text>
<line x1="240.4" y1="175.2" x2="242.4" y2="175.2" stroke="#333" stroke-width="0.6"/>
<text x="239.6" y="176.5" font-size="3.6" text-anchor="end" font-weight="normal" fill="#555">10<tspan dy="-1.6" font-size="2.8">4</tspan></text>
<line x1="240.4" y1="194.5" x2="242.4" y2="194.5" stroke="#333" stroke-width="0.6"/>
<text x="239.6" y="195.8" font-size="3.6" text-anchor="end" font-weight="normal" fill="#555">10<tspan dy="-1.6" font-size="2.8">3</tspan></text>
<line x1="240.4" y1="205.8" x2="242.4" y2="205.8" stroke="#333" stroke-width="0.6"/>
<text x="239.6" y="207.1" font-size="3.6" text-anchor="end" font-weight="normal" fill="#555">0</text>
<line x1="240.4" y1="218.3" x2="242.4" y2="218.3" stroke="#333" stroke-width="0.6"/>
<text x="239.6" y="219.6" font-size="3.6" text-anchor="end" font-weight="normal" fill="#555">-10<tspan dy="-1.6" font-size="2.8">3</tspan></text>
<line x1="241.4" y1="154.4" x2="242.4" y2="154.4" stroke="#555" stroke-width="0.5"/>
<line x1="241.4" y1="159.4" x2="242.4" y2="159.4" stroke="#555" stroke-width="0.5"/>
<line x1="241.4" y1="164.4" x2="242.4" y2="164.4" stroke="#555" stroke-width="0.5"/>
<line x1="241.4" y1="169.4" x2="242.4" y2="169.4" stroke="#555" stroke-width="0.5"/>
<line x1="241.4" y1="174.4" x2="242.4" y2="174.4" stroke="#555" stroke-width="0.5"/>
<line x1="241.4" y1="179.4" x2="242.4" y2="179.4" stroke="#555" stroke-width="0.5"/>
<line x1="241.4" y1="184.4" x2="242.4" y2="184.4" stroke="#555" stroke-width="0.5"/>
<line x1="241.4" y1="189.4" x2="242.4" y2="189.4" stroke="#555" stroke-width="0.5"/>
<line x1="241.4" y1="194.4" x2="242.4" y2="194.4" stroke="#555" stroke-width="0.5"/>
<line x1="241.4" y1="199.4" x2="242.4" y2="199.4" stroke="#555" stroke-width="0.5"/>
<line x1="241.4" y1="204.4" x2="242.4" y2="204.4" stroke="#555" stroke-width="0.5"/>
<line x1="241.4" y1="209.4" x2="242.4" y2="209.4" stroke="#555" stroke-width="0.5"/>
<line x1="241.4" y1="214.4" x2="242.4" y2="214.4" stroke="#555" stroke-width="0.5"/>
<line x1="241.4" y1="219.4" x2="242.4" y2="219.4" stroke="#555" stroke-width="0.5"/>
<rect x="240" y="203.9" width="2.2" height="3.5" fill="#000" stroke="none" stroke-width="0"/>
<line x1="246.9" y1="222" x2="246.9" y2="224" stroke="#333" stroke-width="0.6"/>
<text x="246.9" y="229.5" font-size="3.6" text-anchor="middle" font-weight="normal" fill="#555">-10<tspan dy="-1.6" font-size="2.8">3</tspan></text>
<line x1="259.4" y1="222" x2="259.4" y2="224" stroke="#333" stroke-width="0.6"/>
<text x="259.4" y="229.5" font-size="3.6" text-anchor="middle" font-weight="normal" fill="#555">0</text>
<line x1="271.4" y1="222" x2="271.4" y2="224" stroke="#333" stroke-width="0.6"/>
<text x="271.4" y="229.5" font-size="3.6" text-anchor="middle" font-weight="normal" fill="#555">10<tspan dy="-1.6" font-size="2.8">3</tspan></text>
<line x1="290.9" y1="222" x2="290.9" y2="224" stroke="#333" stroke-width="0.6"/>
<text x="290.9" y="229.5" font-size="3.6" text-anchor="middle" font-weight="normal" fill="#555">10<tspan dy="-1.6" font-size="2.8">4</tspan></text>
<line x1="308.4" y1="222" x2="308.4" y2="224" stroke="#333" stroke-width="0.6"/>
<text x="308.4" y="229.5" font-size="3.6" text-anchor="middle" font-weight="normal" fill="#555">10<tspan dy="-1.6" font-size="2.8">5</tspan></text>
<line x1="244.4" y1="222" x2="244.4" y2="223" stroke="#555" stroke-width="0.5"/>
<line x1="249.4" y1="222" x2="249.4" y2="223" stroke="#555" stroke-width="0.5"/>
<line x1="254.4" y1="222" x2="254.4" y2="223" stroke="#555" stroke-width="0.5"/>
<line x1="259.4" y1="222" x2="259.4" y2="223" stroke="#555" stroke-width="0.5"/>
<line x1="264.4" y1="222" x2="264.4" y2="223" stroke="#555" stroke-width="0.5"/>
<line x1="269.4" y1="222" x2="269.4" y2="223" stroke="#555" stroke-width="0.5"/>
<line x1="274.4" y1="222" x2="274.4" y2="223" stroke="#555" stroke-width="0.5"/>
<line x1="279.4" y1="222" x2="279.4" y2="223" stroke="#555" stroke-width="0.5"/>
<line x1="284.4" y1="222" x2="284.4" y2="223" stroke="#555" stroke-width="0.5"/>
<line x1="289.4" y1="222" x2="289.4" y2="223" stroke="#555" stroke-width="0.5"/>
<line x1="294.4" y1="222" x2="294.4" y2="223" stroke="#555" stroke-width="0.5"/>
<line x1="299.4" y1="222" x2="299.4" y2="223" stroke="#555" stroke-width="0.5"/>
<line x1="304.4" y1="222" x2="304.4" y2="223" stroke="#555" stroke-width="0.5"/>
<line x1="309.4" y1="222" x2="309.4" y2="223" stroke="#555" stroke-width="0.5"/>
<rect x="256.4" y="222.3" width="3.5" height="2" fill="#000" stroke="none" stroke-width="0"/>
<g fill="none" stroke="#1a1a1a" stroke-width="0.7" stroke-linejoin="round">
<path d="M261.2 204.2L261.2 204.5L261.1 204.9L260.8 205.3L260.5 205.6L260.0 205.9L259.6 206.1L259.1 206.3L258.5 206.5L258.0 206.6L257.5 206.7L256.9 206.7L256.4 206.7L255.8 206.6L255.3 206.5L254.9 206.3L254.6 206.0L254.4 205.7L254.2 205.4L254.0 205.1L253.7 204.8L253.4 204.5L253.2 204.1L253.3 203.6L253.7 203.3L254.3 203.0L255.0 202.9L255.6 202.8L256.1 202.7L256.6 202.6L257.1 202.4L257.6 202.3L258.2 202.3L258.7 202.4L259.2 202.6L259.6 202.8L259.9 203.0L260.3 203.3L260.6 203.5L261.0 203.8Z" opacity="0.93"/>
<path d="M262.7 204.0L262.8 204.6L262.6 205.1L262.2 205.6L261.7 206.0L261.1 206.4L260.5 206.7L259.8 207.0L259.1 207.2L258.4 207.3L257.6 207.4L256.9 207.5L256.1 207.5L255.4 207.4L254.7 207.2L254.2 206.9L253.8 206.5L253.5 206.1L253.2 205.7L252.9 205.3L252.4 204.9L252.0 204.4L251.8 203.9L252.0 203.3L252.5 202.8L253.3 202.5L254.2 202.3L255.1 202.2L255.8 202.0L256.5 201.9L257.1 201.7L257.9 201.5L258.6 201.5L259.4 201.6L260.0 201.8L260.5 202.2L261.0 202.5L261.5 202.8L262.0 203.2L262.4 203.6Z" opacity="0.90"/>
<path d="M264.3 203.9L264.3 204.6L264.1 205.2L263.7 205.9L263.0 206.4L262.2 206.9L261.4 207.3L260.6 207.6L259.7 207.9L258.8 208.1L257.8 208.2L256.8 208.3L255.9 208.3L254.9 208.2L254.1 207.9L253.4 207.5L252.9 207.0L252.6 206.5L252.2 206.0L251.8 205.6L251.2 205.0L250.7 204.4L250.4 203.7L250.6 203.0L251.3 202.4L252.3 201.9L253.5 201.7L254.5 201.5L255.5 201.4L256.3 201.2L257.2 200.9L258.1 200.7L259.1 200.7L260.0 200.8L260.8 201.1L261.5 201.5L262.1 201.9L262.7 202.4L263.3 202.8L263.9 203.3Z" opacity="0.88"/>
<path d="M265.8 203.8L265.9 204.6L265.6 205.4L265.1 206.1L264.3 206.8L263.4 207.4L262.4 207.9L261.3 208.3L260.2 208.6L259.1 208.9L258.0 209.0L256.8 209.1L255.6 209.1L254.5 209.0L253.4 208.7L252.6 208.2L252.0 207.6L251.6 207.0L251.2 206.4L250.7 205.8L250.0 205.2L249.4 204.4L249.0 203.6L249.3 202.7L250.1 201.9L251.3 201.4L252.7 201.1L254.0 200.9L255.2 200.7L256.2 200.5L257.2 200.2L258.3 199.9L259.5 199.9L260.7 200.1L261.6 200.4L262.4 200.9L263.2 201.4L263.9 201.9L264.6 202.4L265.3 203.1Z" opacity="0.85"/>
<path d="M267.3 203.7L267.5 204.6L267.1 205.5L266.5 206.4L265.5 207.2L264.5 207.9L263.3 208.5L262.1 208.9L260.8 209.3L259.5 209.6L258.2 209.8L256.8 209.9L255.4 210.0L254.0 209.8L252.8 209.4L251.9 208.8L251.2 208.1L250.7 207.4L250.2 206.7L249.5 206.0L248.8 205.3L248.0 204.4L247.7 203.4L247.9 202.4L248.9 201.5L250.3 200.8L252.0 200.5L253.5 200.3L254.8 200.1L256.0 199.8L257.2 199.4L258.6 199.1L260.0 199.1L261.3 199.3L262.4 199.7L263.4 200.3L264.2 200.9L265.1 201.4L266.0 202.1L266.8 202.8Z" opacity="0.83"/>
<path d="M268.9 203.5L269.0 204.6L268.7 205.7L267.9 206.7L266.8 207.6L265.6 208.4L264.2 209.1L262.8 209.6L261.4 210.0L259.9 210.4L258.3 210.6L256.8 210.8L255.2 210.8L253.6 210.6L252.2 210.1L251.1 209.5L250.3 208.7L249.7 207.8L249.2 207.0L248.4 206.2L247.5 205.4L246.7 204.4L246.3 203.2L246.6 202.0L247.7 201.0L249.3 200.3L251.2 199.9L253.0 199.6L254.5 199.4L255.9 199.1L257.3 198.7L258.8 198.3L260.4 198.3L261.9 198.5L263.2 199.0L264.3 199.6L265.3 200.3L266.3 201.0L267.3 201.7L268.2 202.6Z" opacity="0.80"/>
<path d="M270.4 203.4L270.6 204.6L270.2 205.9L269.3 207.0L268.1 208.0L266.7 208.9L265.2 209.6L263.6 210.3L261.9 210.8L260.2 211.1L258.5 211.4L256.7 211.6L254.9 211.6L253.2 211.4L251.6 210.9L250.3 210.1L249.4 209.2L248.8 208.3L248.2 207.4L247.3 206.5L246.3 205.5L245.4 204.4L244.9 203.1L245.2 201.7L246.5 200.5L248.4 199.7L250.5 199.3L252.5 199.0L254.2 198.7L255.7 198.4L257.3 197.9L259.1 197.5L260.9 197.5L262.6 197.7L264.1 198.3L265.3 199.0L266.4 199.8L267.5 200.5L268.7 201.4L269.7 202.3Z" opacity="0.78"/>
<path d="M271.9 203.3L272.1 204.6L271.7 206.0L270.7 207.3L269.3 208.4L267.8 209.4L266.1 210.2L264.3 210.9L262.5 211.5L260.6 211.9L258.7 212.2L256.7 212.4L254.7 212.4L252.7 212.1L251.0 211.6L249.6 210.8L248.6 209.7L247.8 208.7L247.1 207.7L246.2 206.7L245.1 205.6L244.0 204.4L243.5 202.9L243.9 201.4L245.3 200.1L247.4 199.2L249.7 198.7L251.9 198.4L253.9 198.1L255.6 197.7L257.4 197.2L259.3 196.7L261.3 196.6L263.2 196.9L264.9 197.6L266.2 198.4L267.5 199.2L268.7 200.1L270.0 201.0L271.2 202.0Z" opacity="0.75"/>
<path d="M271.2 206.0L271.3 206.3L271.3 206.7L271.3 207.1L271.3 207.5L271.0 207.7L270.7 207.9L270.3 207.9L270.0 207.9L269.7 207.9L269.4 208.0L269.2 208.1L268.8 208.1L268.5 208.1L268.1 208.0L267.9 207.8L267.6 207.5L267.5 207.1L267.4 206.7L267.4 206.4L267.4 206.0L267.5 205.7L267.6 205.3L267.8 205.1L268.0 204.8L268.1 204.5L268.3 204.3L268.6 204.1L268.8 203.9L269.1 203.8L269.4 203.7L269.8 203.7L270.1 203.8L270.4 203.9L270.7 204.0L271.0 204.3L271.2 204.6L271.3 205.0L271.3 205.3L271.3 205.7Z" opacity="0.62"/>
<path d="M272.6 206.0L272.7 206.5L272.8 207.1L272.8 207.7L272.6 208.3L272.3 208.8L271.7 209.1L271.2 209.1L270.6 209.1L270.2 209.1L269.7 209.2L269.3 209.3L268.7 209.5L268.1 209.5L267.6 209.3L267.1 208.9L266.8 208.3L266.6 207.8L266.5 207.2L266.4 206.6L266.5 206.0L266.6 205.4L266.8 204.9L267.0 204.5L267.3 204.1L267.6 203.6L267.9 203.2L268.3 202.9L268.7 202.6L269.2 202.4L269.7 202.3L270.2 202.3L270.8 202.4L271.3 202.6L271.8 202.8L272.3 203.2L272.6 203.7L272.7 204.3L272.7 204.9L272.6 205.5Z" opacity="0.57"/>
<path d="M274.0 206.0L274.1 206.7L274.2 207.5L274.2 208.4L274.0 209.2L273.5 209.9L272.8 210.2L272.0 210.3L271.2 210.3L270.6 210.2L270.0 210.4L269.3 210.6L268.6 210.8L267.8 210.8L267.1 210.5L266.4 209.9L266.0 209.2L265.7 208.4L265.5 207.6L265.5 206.8L265.5 206.0L265.7 205.2L265.9 204.5L266.3 203.9L266.7 203.3L267.1 202.8L267.5 202.2L268.0 201.7L268.6 201.3L269.3 201.0L270.0 200.9L270.7 200.9L271.4 201.0L272.2 201.2L272.9 201.6L273.5 202.1L273.9 202.8L274.1 203.7L274.1 204.5L274.0 205.3Z" opacity="0.52"/>
<path d="M247.4 206.5 Q243.4 212.5 243.4 221.6" opacity="0.7"/>
<path d="M248.9 206.5 Q244.9 212.5 244.6 221.6" opacity="0.7"/>
<path d="M250.4 206.5 Q246.4 212.5 245.8 221.6" opacity="0.7"/>
</g>
<rect x="242.7" y="214" width="3.5" height="7.8" fill="#555" stroke="none" stroke-width="0" opacity="0.5" filter="url(#bl)"/>
<rect x="242.5" y="180.5" width="21" height="19" fill="none" stroke="#333" stroke-width="1"/>
<rect x="259.5" y="199.5" width="38" height="22" fill="none" stroke="#333" stroke-width="1"/>
<text x="243.9" y="168.6" font-size="5.2" text-anchor="start" font-weight="normal" fill="#333">T-bet+</text>
<text x="247.2" y="174.8" font-size="5.2" text-anchor="start" font-weight="normal" fill="#333">2.52</text>
<text x="299.4" y="189.8" font-size="5.2" text-anchor="middle" font-weight="normal" fill="#333">GATA3+</text>
<text x="299.4" y="196" font-size="5.2" text-anchor="middle" font-weight="normal" fill="#333">20.6</text>
<rect x="334.5" y="150.5" width="72" height="72" fill="none" stroke="#c4c4c4" stroke-width="1"/>
<line x1="332.8" y1="157.7" x2="334.8" y2="157.7" stroke="#333" stroke-width="0.6"/>
<text x="332" y="159" font-size="3.6" text-anchor="end" font-weight="normal" fill="#555">10<tspan dy="-1.6" font-size="2.8">5</tspan></text>
<line x1="332.8" y1="175.2" x2="334.8" y2="175.2" stroke="#333" stroke-width="0.6"/>
<text x="332" y="176.5" font-size="3.6" text-anchor="end" font-weight="normal" fill="#555">10<tspan dy="-1.6" font-size="2.8">4</tspan></text>
<line x1="332.8" y1="194.5" x2="334.8" y2="194.5" stroke="#333" stroke-width="0.6"/>
<text x="332" y="195.8" font-size="3.6" text-anchor="end" font-weight="normal" fill="#555">10<tspan dy="-1.6" font-size="2.8">3</tspan></text>
<line x1="332.8" y1="205.8" x2="334.8" y2="205.8" stroke="#333" stroke-width="0.6"/>
<text x="332" y="207.1" font-size="3.6" text-anchor="end" font-weight="normal" fill="#555">0</text>
<line x1="332.8" y1="218.3" x2="334.8" y2="218.3" stroke="#333" stroke-width="0.6"/>
<text x="332" y="219.6" font-size="3.6" text-anchor="end" font-weight="normal" fill="#555">-10<tspan dy="-1.6" font-size="2.8">3</tspan></text>
<line x1="333.8" y1="154.4" x2="334.8" y2="154.4" stroke="#555" stroke-width="0.5"/>
<line x1="333.8" y1="159.4" x2="334.8" y2="159.4" stroke="#555" stroke-width="0.5"/>
<line x1="333.8" y1="164.4" x2="334.8" y2="164.4" stroke="#555" stroke-width="0.5"/>
<line x1="333.8" y1="169.4" x2="334.8" y2="169.4" stroke="#555" stroke-width="0.5"/>
<line x1="333.8" y1="174.4" x2="334.8" y2="174.4" stroke="#555" stroke-width="0.5"/>
<line x1="333.8" y1="179.4" x2="334.8" y2="179.4" stroke="#555" stroke-width="0.5"/>
<line x1="333.8" y1="184.4" x2="334.8" y2="184.4" stroke="#555" stroke-width="0.5"/>
<line x1="333.8" y1="189.4" x2="334.8" y2="189.4" stroke="#555" stroke-width="0.5"/>
<line x1="333.8" y1="194.4" x2="334.8" y2="194.4" stroke="#555" stroke-width="0.5"/>
<line x1="333.8" y1="199.4" x2="334.8" y2="199.4" stroke="#555" stroke-width="0.5"/>
<line x1="333.8" y1="204.4" x2="334.8" y2="204.4" stroke="#555" stroke-width="0.5"/>
<line x1="333.8" y1="209.4" x2="334.8" y2="209.4" stroke="#555" stroke-width="0.5"/>
<line x1="333.8" y1="214.4" x2="334.8" y2="214.4" stroke="#555" stroke-width="0.5"/>
<line x1="333.8" y1="219.4" x2="334.8" y2="219.4" stroke="#555" stroke-width="0.5"/>
<rect x="332.4" y="203.9" width="2.2" height="3.5" fill="#000" stroke="none" stroke-width="0"/>
<line x1="339.3" y1="222" x2="339.3" y2="224" stroke="#333" stroke-width="0.6"/>
<text x="339.3" y="229.5" font-size="3.6" text-anchor="middle" font-weight="normal" fill="#555">-10<tspan dy="-1.6" font-size="2.8">3</tspan></text>
<line x1="351.8" y1="222" x2="351.8" y2="224" stroke="#333" stroke-width="0.6"/>
<text x="351.8" y="229.5" font-size="3.6" text-anchor="middle" font-weight="normal" fill="#555">0</text>
<line x1="363.8" y1="222" x2="363.8" y2="224" stroke="#333" stroke-width="0.6"/>
<text x="363.8" y="229.5" font-size="3.6" text-anchor="middle" font-weight="normal" fill="#555">10<tspan dy="-1.6" font-size="2.8">3</tspan></text>
<line x1="383.3" y1="222" x2="383.3" y2="224" stroke="#333" stroke-width="0.6"/>
<text x="383.3" y="229.5" font-size="3.6" text-anchor="middle" font-weight="normal" fill="#555">10<tspan dy="-1.6" font-size="2.8">4</tspan></text>
<line x1="400.8" y1="222" x2="400.8" y2="224" stroke="#333" stroke-width="0.6"/>
<text x="400.8" y="229.5" font-size="3.6" text-anchor="middle" font-weight="normal" fill="#555">10<tspan dy="-1.6" font-size="2.8">5</tspan></text>
<line x1="336.8" y1="222" x2="336.8" y2="223" stroke="#555" stroke-width="0.5"/>
<line x1="341.8" y1="222" x2="341.8" y2="223" stroke="#555" stroke-width="0.5"/>
<line x1="346.8" y1="222" x2="346.8" y2="223" stroke="#555" stroke-width="0.5"/>
<line x1="351.8" y1="222" x2="351.8" y2="223" stroke="#555" stroke-width="0.5"/>
<line x1="356.8" y1="222" x2="356.8" y2="223" stroke="#555" stroke-width="0.5"/>
<line x1="361.8" y1="222" x2="361.8" y2="223" stroke="#555" stroke-width="0.5"/>
<line x1="366.8" y1="222" x2="366.8" y2="223" stroke="#555" stroke-width="0.5"/>
<line x1="371.8" y1="222" x2="371.8" y2="223" stroke="#555" stroke-width="0.5"/>
<line x1="376.8" y1="222" x2="376.8" y2="223" stroke="#555" stroke-width="0.5"/>
<line x1="381.8" y1="222" x2="381.8" y2="223" stroke="#555" stroke-width="0.5"/>
<line x1="386.8" y1="222" x2="386.8" y2="223" stroke="#555" stroke-width="0.5"/>
<line x1="391.8" y1="222" x2="391.8" y2="223" stroke="#555" stroke-width="0.5"/>
<line x1="396.8" y1="222" x2="396.8" y2="223" stroke="#555" stroke-width="0.5"/>
<line x1="401.8" y1="222" x2="401.8" y2="223" stroke="#555" stroke-width="0.5"/>
<rect x="348.8" y="222.3" width="3.5" height="2" fill="#000" stroke="none" stroke-width="0"/>
<g fill="none" stroke="#1a1a1a" stroke-width="0.7" stroke-linejoin="round">
<path d="M352.5 205.3L352.5 205.7L352.3 206.0L352.2 206.3L352.0 206.7L351.8 207.1L351.5 207.5L351.0 207.8L350.3 207.9L349.7 207.9L349.0 207.9L348.4 207.7L347.9 207.7L347.3 207.6L346.7 207.6L346.0 207.4L345.5 207.2L345.2 206.8L345.1 206.4L345.2 206.0L345.3 205.7L345.4 205.3L345.4 205.0L345.4 204.6L345.6 204.2L345.9 203.9L346.4 203.7L347.0 203.5L347.6 203.4L348.2 203.2L348.8 203.1L349.4 203.0L350.1 203.0L350.7 203.1L351.2 203.3L351.7 203.6L351.9 204.0L352.2 204.3L352.3 204.6L352.5 205.0Z" opacity="0.93"/>
<path d="M353.9 205.2L353.9 205.7L353.7 206.2L353.5 206.6L353.3 207.1L353.0 207.7L352.5 208.2L351.9 208.6L351.0 208.8L350.0 208.8L349.2 208.7L348.4 208.6L347.6 208.4L346.8 208.4L345.9 208.3L345.1 208.2L344.4 207.8L344.0 207.3L343.9 206.8L344.0 206.2L344.1 205.8L344.2 205.3L344.2 204.8L344.2 204.3L344.5 203.8L345.0 203.3L345.6 203.0L346.4 202.8L347.2 202.6L348.0 202.4L348.8 202.2L349.7 202.1L350.6 202.0L351.5 202.2L352.2 202.5L352.8 202.9L353.2 203.4L353.5 203.8L353.7 204.3L353.9 204.8Z" opacity="0.90"/>
<path d="M355.4 205.2L355.3 205.8L355.1 206.4L354.9 207.0L354.6 207.6L354.2 208.2L353.6 208.9L352.7 209.4L351.6 209.7L350.4 209.7L349.3 209.6L348.3 209.4L347.3 209.2L346.3 209.2L345.2 209.1L344.1 208.9L343.2 208.5L342.7 207.8L342.6 207.1L342.8 206.4L342.9 205.8L343.0 205.2L343.0 204.6L343.1 204.0L343.4 203.3L344.0 202.8L344.9 202.3L345.9 202.0L346.8 201.8L347.8 201.6L348.9 201.3L350.0 201.1L351.2 201.1L352.3 201.3L353.2 201.7L353.9 202.2L354.4 202.8L354.8 203.4L355.1 204.0L355.3 204.6Z" opacity="0.88"/>
<path d="M356.8 205.1L356.7 205.8L356.5 206.5L356.2 207.3L355.8 208.0L355.4 208.8L354.7 209.6L353.6 210.2L352.3 210.6L350.8 210.6L349.4 210.5L348.2 210.2L347.1 210.0L345.8 209.9L344.5 209.8L343.2 209.6L342.1 209.1L341.5 208.3L341.3 207.5L341.5 206.6L341.7 205.9L341.8 205.2L341.8 204.4L341.9 203.7L342.2 202.9L343.0 202.2L344.1 201.7L345.3 201.3L346.5 201.0L347.7 200.7L348.9 200.4L350.3 200.2L351.7 200.2L353.0 200.4L354.2 200.9L355.0 201.5L355.6 202.2L356.1 203.0L356.5 203.7L356.7 204.4Z" opacity="0.85"/>
<path d="M358.2 205.0L358.1 205.9L357.8 206.7L357.5 207.6L357.1 208.5L356.6 209.4L355.7 210.3L354.5 211.1L352.9 211.5L351.2 211.5L349.6 211.3L348.2 211.0L346.8 210.8L345.4 210.7L343.8 210.6L342.3 210.3L341.0 209.7L340.2 208.8L340.1 207.8L340.3 206.8L340.5 206.0L340.7 205.1L340.6 204.3L340.7 203.3L341.1 202.4L342.0 201.6L343.3 201.0L344.7 200.6L346.1 200.2L347.5 199.9L349.0 199.5L350.6 199.3L352.2 199.2L353.8 199.5L355.1 200.1L356.1 200.8L356.9 201.7L357.4 202.5L357.8 203.3L358.1 204.2Z" opacity="0.83"/>
<path d="M359.7 205.0L359.5 205.9L359.2 206.9L358.8 207.9L358.4 208.9L357.7 210.0L356.8 211.0L355.4 211.9L353.6 212.4L351.6 212.4L349.7 212.2L348.1 211.9L346.5 211.6L344.9 211.5L343.1 211.4L341.3 211.0L339.8 210.3L339.0 209.3L338.8 208.2L339.0 207.0L339.3 206.0L339.5 205.1L339.5 204.1L339.5 203.0L340.0 201.9L341.0 201.0L342.5 200.3L344.1 199.8L345.7 199.4L347.3 199.1L349.0 198.7L350.9 198.3L352.8 198.3L354.6 198.6L356.1 199.3L357.3 200.1L358.1 201.1L358.7 202.1L359.2 203.0L359.6 204.0Z" opacity="0.80"/>
<path d="M361.1 204.9L361.0 206.0L360.6 207.1L360.2 208.2L359.6 209.4L358.9 210.6L357.8 211.8L356.2 212.7L354.2 213.3L352.0 213.3L349.9 213.1L348.0 212.7L346.3 212.4L344.4 212.3L342.4 212.1L340.4 211.7L338.7 210.9L337.8 209.8L337.5 208.5L337.8 207.2L338.1 206.1L338.3 205.0L338.3 203.9L338.4 202.7L338.9 201.5L340.1 200.4L341.7 199.6L343.5 199.1L345.4 198.7L347.2 198.2L349.1 197.8L351.2 197.4L353.3 197.4L355.4 197.7L357.1 198.5L358.4 199.4L359.3 200.5L360.0 201.6L360.6 202.7L361.0 203.8Z" opacity="0.78"/>
<path d="M362.5 204.8L362.4 206.1L362.0 207.3L361.5 208.5L360.9 209.8L360.1 211.2L358.9 212.5L357.1 213.5L354.8 214.2L352.4 214.2L350.0 213.9L348.0 213.5L346.0 213.2L343.9 213.0L341.7 212.9L339.4 212.4L337.6 211.6L336.5 210.3L336.3 208.9L336.6 207.4L336.9 206.2L337.1 205.0L337.1 203.7L337.2 202.4L337.8 201.0L339.1 199.8L340.9 199.0L342.9 198.4L345.0 197.9L347.0 197.4L349.1 196.9L351.5 196.5L353.9 196.4L356.1 196.8L358.1 197.6L359.5 198.8L360.5 200.0L361.3 201.2L362.0 202.4L362.4 203.6Z" opacity="0.75"/>
<path d="M364.1 206.5L364.1 206.8L364.1 207.2L364.1 207.5L363.9 207.9L363.7 208.1L363.5 208.3L363.3 208.5L363.0 208.7L362.8 208.9L362.4 209.0L362.1 209.0L361.9 208.8L361.6 208.5L361.5 208.2L361.3 207.9L361.2 207.6L361.0 207.4L360.8 207.2L360.6 206.9L360.5 206.5L360.6 206.1L360.7 205.8L360.9 205.5L361.1 205.3L361.3 205.0L361.4 204.8L361.6 204.5L361.9 204.3L362.1 204.1L362.4 204.0L362.8 204.1L363.0 204.2L363.3 204.4L363.5 204.6L363.7 204.9L363.8 205.2L363.9 205.6L364.0 205.9L364.0 206.2Z" opacity="0.62"/>
<path d="M365.4 206.5L365.5 207.0L365.5 207.6L365.3 208.2L365.1 208.7L364.8 209.1L364.4 209.5L364.1 209.8L363.7 210.1L363.2 210.4L362.7 210.5L362.2 210.5L361.8 210.2L361.4 209.7L361.2 209.2L360.9 208.7L360.7 208.3L360.4 208.0L360.0 207.6L359.8 207.1L359.6 206.5L359.7 205.9L359.9 205.4L360.2 204.9L360.5 204.5L360.8 204.1L361.1 203.7L361.4 203.3L361.8 202.9L362.2 202.6L362.7 202.6L363.2 202.6L363.7 202.8L364.1 203.1L364.5 203.5L364.8 203.9L365.0 204.5L365.1 205.0L365.2 205.5L365.3 206.0Z" opacity="0.57"/>
<path d="M366.7 206.5L366.8 207.2L366.8 208.0L366.6 208.8L366.3 209.5L365.9 210.1L365.4 210.6L364.9 211.1L364.3 211.5L363.7 211.9L363.0 212.1L362.3 212.0L361.7 211.6L361.2 210.9L360.8 210.2L360.5 209.6L360.2 209.0L359.8 208.6L359.3 208.0L358.9 207.3L358.7 206.5L358.8 205.7L359.1 204.9L359.6 204.3L360.0 203.8L360.4 203.2L360.8 202.6L361.2 202.1L361.7 201.5L362.3 201.2L363.0 201.1L363.7 201.1L364.3 201.4L364.9 201.8L365.4 202.3L365.8 203.0L366.1 203.7L366.3 204.4L366.4 205.1L366.5 205.8Z" opacity="0.52"/>
<path d="M339.8 207.5 Q335.8 213.5 335.8 221.6" opacity="0.7"/>
<path d="M341.3 207.5 Q337.3 213.5 337 221.6" opacity="0.7"/>
<path d="M342.8 207.5 Q338.8 213.5 338.2 221.6" opacity="0.7"/>
</g>
<rect x="335.1" y="214" width="3.5" height="7.8" fill="#555" stroke="none" stroke-width="0" opacity="0.5" filter="url(#bl)"/>
<rect x="334.5" y="180.5" width="21" height="19" fill="none" stroke="#333" stroke-width="1"/>
<rect x="352.5" y="199.5" width="38" height="22" fill="none" stroke="#333" stroke-width="1"/>
<text x="336.3" y="168.6" font-size="5.2" text-anchor="start" font-weight="normal" fill="#333">T-bet+</text>
<text x="339.6" y="174.8" font-size="5.2" text-anchor="start" font-weight="normal" fill="#333">3.33</text>
<text x="391.8" y="189.8" font-size="5.2" text-anchor="middle" font-weight="normal" fill="#333">GATA3+</text>
<text x="391.8" y="196" font-size="5.2" text-anchor="middle" font-weight="normal" fill="#333">26.4</text>
<rect x="427.5" y="150.5" width="72" height="72" fill="none" stroke="#c4c4c4" stroke-width="1"/>
<line x1="425.2" y1="157.7" x2="427.2" y2="157.7" stroke="#333" stroke-width="0.6"/>
<text x="424.4" y="159" font-size="3.6" text-anchor="end" font-weight="normal" fill="#555">10<tspan dy="-1.6" font-size="2.8">5</tspan></text>
<line x1="425.2" y1="175.2" x2="427.2" y2="175.2" stroke="#333" stroke-width="0.6"/>
<text x="424.4" y="176.5" font-size="3.6" text-anchor="end" font-weight="normal" fill="#555">10<tspan dy="-1.6" font-size="2.8">4</tspan></text>
<line x1="425.2" y1="194.5" x2="427.2" y2="194.5" stroke="#333" stroke-width="0.6"/>
<text x="424.4" y="195.8" font-size="3.6" text-anchor="end" font-weight="normal" fill="#555">10<tspan dy="-1.6" font-size="2.8">3</tspan></text>
<line x1="425.2" y1="205.8" x2="427.2" y2="205.8" stroke="#333" stroke-width="0.6"/>
<text x="424.4" y="207.1" font-size="3.6" text-anchor="end" font-weight="normal" fill="#555">0</text>
<line x1="425.2" y1="218.3" x2="427.2" y2="218.3" stroke="#333" stroke-width="0.6"/>
<text x="424.4" y="219.6" font-size="3.6" text-anchor="end" font-weight="normal" fill="#555">-10<tspan dy="-1.6" font-size="2.8">3</tspan></text>
<line x1="426.2" y1="154.4" x2="427.2" y2="154.4" stroke="#555" stroke-width="0.5"/>
<line x1="426.2" y1="159.4" x2="427.2" y2="159.4" stroke="#555" stroke-width="0.5"/>
<line x1="426.2" y1="164.4" x2="427.2" y2="164.4" stroke="#555" stroke-width="0.5"/>
<line x1="426.2" y1="169.4" x2="427.2" y2="169.4" stroke="#555" stroke-width="0.5"/>
<line x1="426.2" y1="174.4" x2="427.2" y2="174.4" stroke="#555" stroke-width="0.5"/>
<line x1="426.2" y1="179.4" x2="427.2" y2="179.4" stroke="#555" stroke-width="0.5"/>
<line x1="426.2" y1="184.4" x2="427.2" y2="184.4" stroke="#555" stroke-width="0.5"/>
<line x1="426.2" y1="189.4" x2="427.2" y2="189.4" stroke="#555" stroke-width="0.5"/>
<line x1="426.2" y1="194.4" x2="427.2" y2="194.4" stroke="#555" stroke-width="0.5"/>
<line x1="426.2" y1="199.4" x2="427.2" y2="199.4" stroke="#555" stroke-width="0.5"/>
<line x1="426.2" y1="204.4" x2="427.2" y2="204.4" stroke="#555" stroke-width="0.5"/>
<line x1="426.2" y1="209.4" x2="427.2" y2="209.4" stroke="#555" stroke-width="0.5"/>
<line x1="426.2" y1="214.4" x2="427.2" y2="214.4" stroke="#555" stroke-width="0.5"/>
<line x1="426.2" y1="219.4" x2="427.2" y2="219.4" stroke="#555" stroke-width="0.5"/>
<rect x="424.8" y="203.9" width="2.2" height="3.5" fill="#000" stroke="none" stroke-width="0"/>
<line x1="431.7" y1="222" x2="431.7" y2="224" stroke="#333" stroke-width="0.6"/>
<text x="431.7" y="229.5" font-size="3.6" text-anchor="middle" font-weight="normal" fill="#555">-10<tspan dy="-1.6" font-size="2.8">3</tspan></text>
<line x1="444.2" y1="222" x2="444.2" y2="224" stroke="#333" stroke-width="0.6"/>
<text x="444.2" y="229.5" font-size="3.6" text-anchor="middle" font-weight="normal" fill="#555">0</text>
<line x1="456.2" y1="222" x2="456.2" y2="224" stroke="#333" stroke-width="0.6"/>
<text x="456.2" y="229.5" font-size="3.6" text-anchor="middle" font-weight="normal" fill="#555">10<tspan dy="-1.6" font-size="2.8">3</tspan></text>
<line x1="475.7" y1="222" x2="475.7" y2="224" stroke="#333" stroke-width="0.6"/>
<text x="475.7" y="229.5" font-size="3.6" text-anchor="middle" font-weight="normal" fill="#555">10<tspan dy="-1.6" font-size="2.8">4</tspan></text>
<line x1="493.2" y1="222" x2="493.2" y2="224" stroke="#333" stroke-width="0.6"/>
<text x="493.2" y="229.5" font-size="3.6" text-anchor="middle" font-weight="normal" fill="#555">10<tspan dy="-1.6" font-size="2.8">5</tspan></text>
<line x1="429.2" y1="222" x2="429.2" y2="223" stroke="#555" stroke-width="0.5"/>
<line x1="434.2" y1="222" x2="434.2" y2="223" stroke="#555" stroke-width="0.5"/>
<line x1="439.2" y1="222" x2="439.2" y2="223" stroke="#555" stroke-width="0.5"/>
<line x1="444.2" y1="222" x2="444.2" y2="223" stroke="#555" stroke-width="0.5"/>
<line x1="449.2" y1="222" x2="449.2" y2="223" stroke="#555" stroke-width="0.5"/>
<line x1="454.2" y1="222" x2="454.2" y2="223" stroke="#555" stroke-width="0.5"/>
<line x1="459.2" y1="222" x2="459.2" y2="223" stroke="#555" stroke-width="0.5"/>
<line x1="464.2" y1="222" x2="464.2" y2="223" stroke="#555" stroke-width="0.5"/>
<line x1="469.2" y1="222" x2="469.2" y2="223" stroke="#555" stroke-width="0.5"/>
<line x1="474.2" y1="222" x2="474.2" y2="223" stroke="#555" stroke-width="0.5"/>
<line x1="479.2" y1="222" x2="479.2" y2="223" stroke="#555" stroke-width="0.5"/>
<line x1="484.2" y1="222" x2="484.2" y2="223" stroke="#555" stroke-width="0.5"/>
<line x1="489.2" y1="222" x2="489.2" y2="223" stroke="#555" stroke-width="0.5"/>
<line x1="494.2" y1="222" x2="494.2" y2="223" stroke="#555" stroke-width="0.5"/>
<rect x="441.2" y="222.3" width="3.5" height="2" fill="#000" stroke="none" stroke-width="0"/>
<g fill="none" stroke="#1a1a1a" stroke-width="0.7" stroke-linejoin="round">
<path d="M442.4 203.0L442.4 203.5L442.3 203.9L442.0 204.3L441.7 204.7L441.3 205.0L441.0 205.2L440.6 205.4L440.2 205.6L439.7 205.6L439.3 205.6L438.8 205.6L438.4 205.6L437.9 205.5L437.5 205.4L437.1 205.1L436.7 204.8L436.6 204.3L436.5 203.8L436.6 203.4L436.6 203.0L436.6 202.6L436.5 202.1L436.5 201.6L436.6 201.1L436.9 200.7L437.4 200.5L437.9 200.4L438.4 200.4L438.9 200.5L439.3 200.5L439.7 200.5L440.1 200.5L440.6 200.6L441.0 200.8L441.3 201.1L441.6 201.4L441.9 201.7L442.1 202.1L442.3 202.5Z" opacity="0.93"/>
<path d="M443.7 203.0L443.7 203.7L443.5 204.3L443.1 204.8L442.7 205.3L442.2 205.7L441.7 206.0L441.1 206.3L440.6 206.5L440.0 206.6L439.4 206.6L438.8 206.6L438.2 206.5L437.6 206.4L436.9 206.2L436.3 205.9L435.9 205.4L435.7 204.8L435.6 204.2L435.7 203.6L435.7 203.0L435.7 202.4L435.6 201.8L435.6 201.1L435.7 200.5L436.1 199.9L436.8 199.6L437.5 199.5L438.2 199.5L438.8 199.5L439.4 199.6L440.0 199.5L440.6 199.6L441.2 199.7L441.7 200.0L442.2 200.3L442.6 200.8L442.9 201.3L443.3 201.8L443.5 202.4Z" opacity="0.90"/>
<path d="M445.0 203.0L445.0 203.8L444.7 204.6L444.2 205.3L443.7 205.9L443.1 206.4L442.4 206.8L441.7 207.2L441.0 207.4L440.2 207.5L439.5 207.6L438.7 207.5L438.0 207.4L437.2 207.3L436.4 207.1L435.6 206.7L435.1 206.1L434.8 205.3L434.7 204.5L434.8 203.7L434.9 203.0L434.8 202.3L434.7 201.5L434.6 200.6L434.8 199.8L435.4 199.1L436.2 198.7L437.1 198.5L438.0 198.5L438.8 198.6L439.5 198.6L440.2 198.6L441.0 198.6L441.7 198.8L442.4 199.1L443.0 199.6L443.5 200.2L444.0 200.8L444.4 201.5L444.8 202.2Z" opacity="0.88"/>
<path d="M446.2 203.0L446.2 204.0L445.9 205.0L445.4 205.8L444.7 206.5L443.9 207.1L443.1 207.7L442.3 208.1L441.4 208.4L440.5 208.5L439.6 208.5L438.7 208.5L437.8 208.4L436.8 208.2L435.8 208.0L434.9 207.5L434.2 206.7L433.9 205.8L433.8 204.8L433.9 203.9L434.0 203.0L433.9 202.1L433.8 201.2L433.7 200.1L434.0 199.1L434.6 198.2L435.6 197.7L436.7 197.6L437.7 197.6L438.7 197.7L439.6 197.7L440.5 197.7L441.4 197.7L442.3 197.9L443.1 198.3L443.9 198.9L444.5 199.6L445.0 200.4L445.5 201.2L446.0 202.0Z" opacity="0.85"/>
<path d="M447.5 203.0L447.5 204.2L447.1 205.3L446.5 206.3L445.7 207.1L444.8 207.9L443.9 208.5L442.9 209.0L441.8 209.3L440.8 209.5L439.7 209.5L438.6 209.4L437.5 209.3L436.4 209.2L435.2 208.8L434.2 208.2L433.4 207.4L433.0 206.2L432.9 205.1L433.1 204.0L433.1 203.0L433.0 202.0L432.8 200.9L432.8 199.6L433.1 198.4L433.8 197.4L435.0 196.8L436.3 196.6L437.5 196.7L438.7 196.8L439.7 196.8L440.7 196.8L441.8 196.8L442.9 197.0L443.9 197.5L444.7 198.2L445.4 199.0L446.1 199.9L446.7 200.8L447.2 201.9Z" opacity="0.83"/>
<path d="M448.8 203.0L448.7 204.3L448.3 205.6L447.6 206.8L446.7 207.7L445.6 208.6L444.6 209.3L443.5 209.9L442.3 210.2L441.0 210.4L439.8 210.5L438.6 210.4L437.3 210.3L436.0 210.1L434.7 209.7L433.5 209.0L432.6 208.0L432.1 206.7L432.0 205.4L432.2 204.1L432.3 203.0L432.1 201.8L431.9 200.6L431.8 199.1L432.2 197.7L433.1 196.6L434.4 195.9L435.9 195.7L437.3 195.7L438.6 195.8L439.8 195.9L441.0 195.8L442.2 195.9L443.5 196.1L444.6 196.7L445.6 197.5L446.4 198.4L447.1 199.4L447.8 200.5L448.4 201.7Z" opacity="0.80"/>
<path d="M450.0 203.0L450.0 204.5L449.5 206.0L448.7 207.3L447.6 208.4L446.5 209.3L445.3 210.1L444.0 210.7L442.7 211.2L441.3 211.4L439.9 211.4L438.5 211.3L437.1 211.2L435.6 211.0L434.1 210.6L432.8 209.8L431.7 208.6L431.2 207.2L431.1 205.7L431.3 204.3L431.4 203.0L431.3 201.7L431.0 200.2L430.9 198.6L431.3 197.1L432.3 195.8L433.8 195.0L435.5 194.7L437.1 194.8L438.5 194.9L439.9 194.9L441.2 194.9L442.6 195.0L444.0 195.3L445.3 195.9L446.4 196.8L447.4 197.8L448.2 199.0L449.0 200.2L449.6 201.5Z" opacity="0.78"/>
<path d="M451.3 203.0L451.3 204.7L450.7 206.3L449.8 207.8L448.6 209.0L447.4 210.0L446.0 210.9L444.6 211.6L443.1 212.1L441.6 212.4L440.0 212.4L438.5 212.3L436.9 212.1L435.2 211.9L433.6 211.4L432.0 210.6L430.9 209.3L430.3 207.7L430.2 206.0L430.4 204.4L430.5 203.0L430.4 201.5L430.1 199.9L430.0 198.1L430.4 196.4L431.5 194.9L433.2 194.0L435.1 193.7L436.9 193.8L438.5 194.0L440.0 194.0L441.5 194.0L443.1 194.0L444.6 194.4L446.0 195.1L447.3 196.1L448.3 197.3L449.2 198.5L450.1 199.9L450.9 201.4Z" opacity="0.75"/>
<path d="M432.2 205 Q428.2 211 428.2 221.6" opacity="0.7"/>
<path d="M433.7 205 Q429.7 211 429.4 221.6" opacity="0.7"/>
<path d="M435.2 205 Q431.2 211 430.6 221.6" opacity="0.7"/>
<ellipse cx="472" cy="212.5" rx="2.4" ry="2.1"/>
</g>
<rect x="427.5" y="214" width="3.5" height="7.8" fill="#555" stroke="none" stroke-width="0" opacity="0.5" filter="url(#bl)"/>
<rect x="427.5" y="180.5" width="21" height="19" fill="none" stroke="#333" stroke-width="1"/>
<rect x="444.5" y="199.5" width="38" height="22" fill="none" stroke="#333" stroke-width="1"/>
<text x="428.7" y="168.6" font-size="5.2" text-anchor="start" font-weight="normal" fill="#333">T-bet+</text>
<text x="432" y="174.8" font-size="5.2" text-anchor="start" font-weight="normal" fill="#333">8.54</text>
<text x="484.2" y="189.8" font-size="5.2" text-anchor="middle" font-weight="normal" fill="#333">GATA3+</text>
<text x="484.2" y="196" font-size="5.2" text-anchor="middle" font-weight="normal" fill="#333">15.9</text>
<rect x="520.5" y="150.5" width="72" height="72" fill="none" stroke="#c4c4c4" stroke-width="1"/>
<line x1="518" y1="157.7" x2="520" y2="157.7" stroke="#333" stroke-width="0.6"/>
<text x="517.2" y="159" font-size="3.6" text-anchor="end" font-weight="normal" fill="#555">10<tspan dy="-1.6" font-size="2.8">5</tspan></text>
<line x1="518" y1="175.2" x2="520" y2="175.2" stroke="#333" stroke-width="0.6"/>
<text x="517.2" y="176.5" font-size="3.6" text-anchor="end" font-weight="normal" fill="#555">10<tspan dy="-1.6" font-size="2.8">4</tspan></text>
<line x1="518" y1="194.5" x2="520" y2="194.5" stroke="#333" stroke-width="0.6"/>
<text x="517.2" y="195.8" font-size="3.6" text-anchor="end" font-weight="normal" fill="#555">10<tspan dy="-1.6" font-size="2.8">3</tspan></text>
<line x1="518" y1="205.8" x2="520" y2="205.8" stroke="#333" stroke-width="0.6"/>
<text x="517.2" y="207.1" font-size="3.6" text-anchor="end" font-weight="normal" fill="#555">0</text>
<line x1="518" y1="218.3" x2="520" y2="218.3" stroke="#333" stroke-width="0.6"/>
<text x="517.2" y="219.6" font-size="3.6" text-anchor="end" font-weight="normal" fill="#555">-10<tspan dy="-1.6" font-size="2.8">3</tspan></text>
<line x1="519" y1="154.4" x2="520" y2="154.4" stroke="#555" stroke-width="0.5"/>
<line x1="519" y1="159.4" x2="520" y2="159.4" stroke="#555" stroke-width="0.5"/>
<line x1="519" y1="164.4" x2="520" y2="164.4" stroke="#555" stroke-width="0.5"/>
<line x1="519" y1="169.4" x2="520" y2="169.4" stroke="#555" stroke-width="0.5"/>
<line x1="519" y1="174.4" x2="520" y2="174.4" stroke="#555" stroke-width="0.5"/>
<line x1="519" y1="179.4" x2="520" y2="179.4" stroke="#555" stroke-width="0.5"/>
<line x1="519" y1="184.4" x2="520" y2="184.4" stroke="#555" stroke-width="0.5"/>
<line x1="519" y1="189.4" x2="520" y2="189.4" stroke="#555" stroke-width="0.5"/>
<line x1="519" y1="194.4" x2="520" y2="194.4" stroke="#555" stroke-width="0.5"/>
<line x1="519" y1="199.4" x2="520" y2="199.4" stroke="#555" stroke-width="0.5"/>
<line x1="519" y1="204.4" x2="520" y2="204.4" stroke="#555" stroke-width="0.5"/>
<line x1="519" y1="209.4" x2="520" y2="209.4" stroke="#555" stroke-width="0.5"/>
<line x1="519" y1="214.4" x2="520" y2="214.4" stroke="#555" stroke-width="0.5"/>
<line x1="519" y1="219.4" x2="520" y2="219.4" stroke="#555" stroke-width="0.5"/>
<rect x="517.6" y="203.9" width="2.2" height="3.5" fill="#000" stroke="none" stroke-width="0"/>
<line x1="524.5" y1="222" x2="524.5" y2="224" stroke="#333" stroke-width="0.6"/>
<text x="524.5" y="229.5" font-size="3.6" text-anchor="middle" font-weight="normal" fill="#555">-10<tspan dy="-1.6" font-size="2.8">3</tspan></text>
<line x1="537" y1="222" x2="537" y2="224" stroke="#333" stroke-width="0.6"/>
<text x="537" y="229.5" font-size="3.6" text-anchor="middle" font-weight="normal" fill="#555">0</text>
<line x1="549" y1="222" x2="549" y2="224" stroke="#333" stroke-width="0.6"/>
<text x="549" y="229.5" font-size="3.6" text-anchor="middle" font-weight="normal" fill="#555">10<tspan dy="-1.6" font-size="2.8">3</tspan></text>
<line x1="568.5" y1="222" x2="568.5" y2="224" stroke="#333" stroke-width="0.6"/>
<text x="568.5" y="229.5" font-size="3.6" text-anchor="middle" font-weight="normal" fill="#555">10<tspan dy="-1.6" font-size="2.8">4</tspan></text>
<line x1="586" y1="222" x2="586" y2="224" stroke="#333" stroke-width="0.6"/>
<text x="586" y="229.5" font-size="3.6" text-anchor="middle" font-weight="normal" fill="#555">10<tspan dy="-1.6" font-size="2.8">5</tspan></text>
<line x1="522" y1="222" x2="522" y2="223" stroke="#555" stroke-width="0.5"/>
<line x1="527" y1="222" x2="527" y2="223" stroke="#555" stroke-width="0.5"/>
<line x1="532" y1="222" x2="532" y2="223" stroke="#555" stroke-width="0.5"/>
<line x1="537" y1="222" x2="537" y2="223" stroke="#555" stroke-width="0.5"/>
<line x1="542" y1="222" x2="542" y2="223" stroke="#555" stroke-width="0.5"/>
<line x1="547" y1="222" x2="547" y2="223" stroke="#555" stroke-width="0.5"/>
<line x1="552" y1="222" x2="552" y2="223" stroke="#555" stroke-width="0.5"/>
<line x1="557" y1="222" x2="557" y2="223" stroke="#555" stroke-width="0.5"/>
<line x1="562" y1="222" x2="562" y2="223" stroke="#555" stroke-width="0.5"/>
<line x1="567" y1="222" x2="567" y2="223" stroke="#555" stroke-width="0.5"/>
<line x1="572" y1="222" x2="572" y2="223" stroke="#555" stroke-width="0.5"/>
<line x1="577" y1="222" x2="577" y2="223" stroke="#555" stroke-width="0.5"/>
<line x1="582" y1="222" x2="582" y2="223" stroke="#555" stroke-width="0.5"/>
<line x1="587" y1="222" x2="587" y2="223" stroke="#555" stroke-width="0.5"/>
<rect x="534" y="222.3" width="3.5" height="2" fill="#000" stroke="none" stroke-width="0"/>
<g fill="none" stroke="#1a1a1a" stroke-width="0.7" stroke-linejoin="round">
<path d="M535.2 201.5L535.2 201.9L535.1 202.3L535.0 202.7L534.7 203.0L534.4 203.3L534.0 203.6L533.6 203.8L533.2 203.9L532.8 204.1L532.3 204.2L531.8 204.2L531.3 204.1L530.9 203.9L530.4 203.7L530.0 203.5L529.6 203.2L529.2 202.9L529.0 202.4L528.9 202.0L529.1 201.5L529.5 201.1L529.8 200.8L530.0 200.5L530.2 200.2L530.3 199.8L530.5 199.4L530.8 199.0L531.3 198.8L531.8 198.7L532.3 198.8L532.8 198.9L533.2 199.0L533.7 199.1L534.2 199.2L534.6 199.5L535.0 199.8L535.2 200.2L535.3 200.7L535.2 201.1Z" opacity="0.93"/>
<path d="M536.4 201.5L536.3 202.0L536.3 202.6L536.1 203.1L535.7 203.6L535.3 204.0L534.7 204.3L534.2 204.6L533.6 204.8L533.0 205.0L532.4 205.1L531.7 205.1L531.1 205.0L530.5 204.8L529.9 204.5L529.3 204.2L528.7 203.8L528.2 203.4L527.8 202.8L527.8 202.1L528.1 201.5L528.5 201.0L529.0 200.5L529.3 200.2L529.5 199.7L529.7 199.2L529.9 198.6L530.4 198.1L531.0 197.8L531.7 197.7L532.4 197.8L533.0 198.0L533.7 198.1L534.3 198.2L535.0 198.4L535.6 198.7L536.1 199.2L536.4 199.7L536.5 200.4L536.4 200.9Z" opacity="0.90"/>
<path d="M537.6 201.5L537.5 202.2L537.4 202.9L537.2 203.6L536.7 204.2L536.1 204.7L535.5 205.1L534.8 205.4L534.1 205.7L533.3 206.0L532.5 206.1L531.6 206.1L530.8 205.9L530.0 205.6L529.3 205.3L528.5 204.9L527.8 204.4L527.1 203.9L526.7 203.1L526.7 202.3L527.0 201.5L527.6 200.8L528.2 200.3L528.6 199.8L528.9 199.2L529.0 198.5L529.4 197.8L529.9 197.2L530.7 196.8L531.6 196.7L532.5 196.8L533.3 197.0L534.1 197.2L534.9 197.3L535.8 197.6L536.6 198.0L537.2 198.5L537.5 199.3L537.6 200.1L537.6 200.8Z" opacity="0.88"/>
<path d="M538.8 201.5L538.7 202.3L538.5 203.2L538.2 204.0L537.7 204.7L537.0 205.3L536.2 205.8L535.4 206.2L534.5 206.6L533.6 206.9L532.6 207.1L531.6 207.1L530.6 206.9L529.6 206.5L528.7 206.1L527.8 205.6L526.9 205.1L526.1 204.4L525.6 203.5L525.5 202.5L526.0 201.5L526.7 200.7L527.4 200.0L527.9 199.4L528.2 198.7L528.4 197.9L528.8 197.0L529.5 196.2L530.4 195.8L531.5 195.7L532.6 195.8L533.6 196.1L534.6 196.3L535.6 196.5L536.6 196.7L537.6 197.2L538.3 197.9L538.7 198.8L538.8 199.7L538.8 200.6Z" opacity="0.85"/>
<path d="M539.9 201.5L539.8 202.5L539.7 203.5L539.3 204.4L538.7 205.3L537.9 206.0L537.0 206.6L536.0 207.1L534.9 207.5L533.9 207.9L532.7 208.1L531.5 208.1L530.3 207.8L529.2 207.4L528.2 206.9L527.1 206.3L526.0 205.7L525.1 204.9L524.5 203.8L524.4 202.6L524.9 201.5L525.7 200.5L526.6 199.8L527.2 199.1L527.5 198.3L527.8 197.3L528.2 196.2L529.0 195.3L530.2 194.8L531.4 194.7L532.7 194.9L533.9 195.1L535.0 195.4L536.2 195.6L537.4 195.9L538.5 196.5L539.4 197.3L539.9 198.3L540.0 199.4L540.0 200.5Z" opacity="0.83"/>
<path d="M541.1 201.5L541.0 202.6L540.8 203.8L540.4 204.9L539.7 205.8L538.8 206.7L537.7 207.3L536.6 207.9L535.4 208.4L534.1 208.8L532.8 209.1L531.4 209.0L530.1 208.8L528.8 208.3L527.6 207.7L526.4 207.1L525.1 206.3L524.0 205.4L523.4 204.1L523.3 202.8L523.8 201.5L524.8 200.4L525.8 199.5L526.5 198.7L526.9 197.8L527.2 196.6L527.7 195.4L528.6 194.4L529.9 193.8L531.4 193.7L532.8 193.9L534.1 194.2L535.4 194.5L536.8 194.7L538.2 195.1L539.5 195.7L540.5 196.7L541.1 197.9L541.2 199.1L541.2 200.4Z" opacity="0.80"/>
<path d="M542.3 201.5L542.2 202.8L542.0 204.0L541.5 205.3L540.7 206.4L539.7 207.3L538.4 208.1L537.2 208.7L535.8 209.3L534.4 209.8L532.9 210.0L531.3 210.0L529.8 209.7L528.4 209.1L527.0 208.5L525.6 207.8L524.2 206.9L523.0 205.9L522.2 204.5L522.2 203.0L522.8 201.5L523.9 200.3L524.9 199.3L525.7 198.4L526.2 197.3L526.5 196.0L527.1 194.6L528.2 193.5L529.6 192.8L531.3 192.6L532.9 192.9L534.4 193.2L535.9 193.5L537.4 193.8L539.0 194.2L540.5 194.9L541.6 196.0L542.2 197.4L542.4 198.8L542.4 200.2Z" opacity="0.78"/>
<path d="M543.5 201.5L543.4 202.9L543.1 204.3L542.6 205.7L541.7 207.0L540.5 208.0L539.2 208.8L537.7 209.5L536.3 210.2L534.7 210.7L533.0 211.0L531.3 211.0L529.6 210.6L528.0 210.0L526.4 209.3L524.9 208.5L523.3 207.6L522.0 206.4L521.1 204.8L521.0 203.1L521.7 201.5L522.9 200.1L524.1 199.0L525.0 198.0L525.5 196.8L525.9 195.4L526.6 193.9L527.7 192.6L529.3 191.8L531.2 191.6L533.0 191.9L534.7 192.3L536.3 192.6L538.1 192.9L539.8 193.4L541.5 194.2L542.7 195.4L543.4 196.9L543.6 198.5L543.6 200.1Z" opacity="0.75"/>
<path d="M530.8 192.0L530.8 192.3L530.9 192.5L530.9 192.8L530.7 193.1L530.5 193.3L530.1 193.5L529.7 193.7L529.3 193.8L528.9 193.9L528.5 193.9L528.0 193.8L527.6 193.7L527.3 193.5L527.0 193.3L526.7 193.2L526.3 193.0L526.0 192.8L525.8 192.6L525.7 192.3L525.8 192.0L525.9 191.7L526.1 191.5L526.2 191.2L526.3 191.0L526.5 190.7L526.7 190.4L527.1 190.2L527.6 190.2L528.0 190.2L528.5 190.3L528.8 190.4L529.3 190.4L529.7 190.4L530.2 190.4L530.6 190.6L530.8 190.9L530.9 191.2L530.8 191.5L530.8 191.8Z" opacity="0.62"/>
<path d="M532.5 192.0L532.6 192.4L532.7 192.9L532.6 193.3L532.4 193.8L532.0 194.2L531.4 194.5L530.8 194.7L530.1 194.9L529.4 195.0L528.7 195.0L528.0 194.9L527.4 194.7L526.9 194.4L526.4 194.2L525.8 193.9L525.3 193.7L524.8 193.3L524.4 192.9L524.3 192.5L524.4 192.0L524.6 191.6L524.9 191.2L525.1 190.8L525.3 190.3L525.5 189.9L525.9 189.4L526.6 189.2L527.3 189.1L528.0 189.2L528.7 189.3L529.4 189.3L530.0 189.4L530.7 189.4L531.5 189.5L532.1 189.7L532.5 190.2L532.6 190.7L532.6 191.2L532.5 191.6Z" opacity="0.57"/>
<path d="M534.2 192.0L534.3 192.6L534.5 193.2L534.4 193.8L534.1 194.5L533.5 195.0L532.7 195.4L531.9 195.7L531.0 196.0L530.0 196.2L529.0 196.2L528.0 196.1L527.2 195.8L526.4 195.4L525.7 195.0L525.0 194.6L524.3 194.3L523.6 193.8L523.0 193.3L522.9 192.6L523.0 192.0L523.4 191.4L523.7 190.9L524.0 190.3L524.2 189.7L524.6 189.1L525.2 188.5L526.0 188.1L527.0 188.0L528.1 188.1L529.0 188.2L529.9 188.3L530.8 188.3L531.8 188.3L532.8 188.5L533.7 188.9L534.2 189.5L534.4 190.2L534.3 190.8L534.2 191.5Z" opacity="0.52"/>
<path d="M525 203.5 Q521 209.5 521 221.6" opacity="0.7"/>
<path d="M526.5 203.5 Q522.5 209.5 522.2 221.6" opacity="0.7"/>
<path d="M528 203.5 Q524 209.5 523.4 221.6" opacity="0.7"/>
</g>
<rect x="520.3" y="214" width="3.5" height="7.8" fill="#555" stroke="none" stroke-width="0" opacity="0.5" filter="url(#bl)"/>
<rect x="520.5" y="180.5" width="21" height="19" fill="none" stroke="#333" stroke-width="1"/>
<rect x="537.5" y="199.5" width="38" height="22" fill="none" stroke="#333" stroke-width="1"/>
<text x="521.5" y="168.6" font-size="5.2" text-anchor="start" font-weight="normal" fill="#333">T-bet+</text>
<text x="524.8" y="174.8" font-size="5.2" text-anchor="start" font-weight="normal" fill="#333">11.6</text>
<text x="577" y="189.8" font-size="5.2" text-anchor="middle" font-weight="normal" fill="#333">GATA3+</text>
<text x="577" y="196" font-size="5.2" text-anchor="middle" font-weight="normal" fill="#333">11.8</text>
<rect x="612.5" y="150.5" width="72" height="72" fill="none" stroke="#c4c4c4" stroke-width="1"/>
<line x1="610.4" y1="157.7" x2="612.4" y2="157.7" stroke="#333" stroke-width="0.6"/>
<text x="609.6" y="159" font-size="3.6" text-anchor="end" font-weight="normal" fill="#555">10<tspan dy="-1.6" font-size="2.8">5</tspan></text>
<line x1="610.4" y1="175.2" x2="612.4" y2="175.2" stroke="#333" stroke-width="0.6"/>
<text x="609.6" y="176.5" font-size="3.6" text-anchor="end" font-weight="normal" fill="#555">10<tspan dy="-1.6" font-size="2.8">4</tspan></text>
<line x1="610.4" y1="194.5" x2="612.4" y2="194.5" stroke="#333" stroke-width="0.6"/>
<text x="609.6" y="195.8" font-size="3.6" text-anchor="end" font-weight="normal" fill="#555">10<tspan dy="-1.6" font-size="2.8">3</tspan></text>
<line x1="610.4" y1="205.8" x2="612.4" y2="205.8" stroke="#333" stroke-width="0.6"/>
<text x="609.6" y="207.1" font-size="3.6" text-anchor="end" font-weight="normal" fill="#555">0</text>
<line x1="610.4" y1="218.3" x2="612.4" y2="218.3" stroke="#333" stroke-width="0.6"/>
<text x="609.6" y="219.6" font-size="3.6" text-anchor="end" font-weight="normal" fill="#555">-10<tspan dy="-1.6" font-size="2.8">3</tspan></text>
<line x1="611.4" y1="154.4" x2="612.4" y2="154.4" stroke="#555" stroke-width="0.5"/>
<line x1="611.4" y1="159.4" x2="612.4" y2="159.4" stroke="#555" stroke-width="0.5"/>
<line x1="611.4" y1="164.4" x2="612.4" y2="164.4" stroke="#555" stroke-width="0.5"/>
<line x1="611.4" y1="169.4" x2="612.4" y2="169.4" stroke="#555" stroke-width="0.5"/>
<line x1="611.4" y1="174.4" x2="612.4" y2="174.4" stroke="#555" stroke-width="0.5"/>
<line x1="611.4" y1="179.4" x2="612.4" y2="179.4" stroke="#555" stroke-width="0.5"/>
<line x1="611.4" y1="184.4" x2="612.4" y2="184.4" stroke="#555" stroke-width="0.5"/>
<line x1="611.4" y1="189.4" x2="612.4" y2="189.4" stroke="#555" stroke-width="0.5"/>
<line x1="611.4" y1="194.4" x2="612.4" y2="194.4" stroke="#555" stroke-width="0.5"/>
<line x1="611.4" y1="199.4" x2="612.4" y2="199.4" stroke="#555" stroke-width="0.5"/>
<line x1="611.4" y1="204.4" x2="612.4" y2="204.4" stroke="#555" stroke-width="0.5"/>
<line x1="611.4" y1="209.4" x2="612.4" y2="209.4" stroke="#555" stroke-width="0.5"/>
<line x1="611.4" y1="214.4" x2="612.4" y2="214.4" stroke="#555" stroke-width="0.5"/>
<line x1="611.4" y1="219.4" x2="612.4" y2="219.4" stroke="#555" stroke-width="0.5"/>
<rect x="610" y="203.9" width="2.2" height="3.5" fill="#000" stroke="none" stroke-width="0"/>
<line x1="616.9" y1="222" x2="616.9" y2="224" stroke="#333" stroke-width="0.6"/>
<text x="616.9" y="229.5" font-size="3.6" text-anchor="middle" font-weight="normal" fill="#555">-10<tspan dy="-1.6" font-size="2.8">3</tspan></text>
<line x1="629.4" y1="222" x2="629.4" y2="224" stroke="#333" stroke-width="0.6"/>
<text x="629.4" y="229.5" font-size="3.6" text-anchor="middle" font-weight="normal" fill="#555">0</text>
<line x1="641.4" y1="222" x2="641.4" y2="224" stroke="#333" stroke-width="0.6"/>
<text x="641.4" y="229.5" font-size="3.6" text-anchor="middle" font-weight="normal" fill="#555">10<tspan dy="-1.6" font-size="2.8">3</tspan></text>
<line x1="660.9" y1="222" x2="660.9" y2="224" stroke="#333" stroke-width="0.6"/>
<text x="660.9" y="229.5" font-size="3.6" text-anchor="middle" font-weight="normal" fill="#555">10<tspan dy="-1.6" font-size="2.8">4</tspan></text>
<line x1="678.4" y1="222" x2="678.4" y2="224" stroke="#333" stroke-width="0.6"/>
<text x="678.4" y="229.5" font-size="3.6" text-anchor="middle" font-weight="normal" fill="#555">10<tspan dy="-1.6" font-size="2.8">5</tspan></text>
<line x1="614.4" y1="222" x2="614.4" y2="223" stroke="#555" stroke-width="0.5"/>
<line x1="619.4" y1="222" x2="619.4" y2="223" stroke="#555" stroke-width="0.5"/>
<line x1="624.4" y1="222" x2="624.4" y2="223" stroke="#555" stroke-width="0.5"/>
<line x1="629.4" y1="222" x2="629.4" y2="223" stroke="#555" stroke-width="0.5"/>
<line x1="634.4" y1="222" x2="634.4" y2="223" stroke="#555" stroke-width="0.5"/>
<line x1="639.4" y1="222" x2="639.4" y2="223" stroke="#555" stroke-width="0.5"/>
<line x1="644.4" y1="222" x2="644.4" y2="223" stroke="#555" stroke-width="0.5"/>
<line x1="649.4" y1="222" x2="649.4" y2="223" stroke="#555" stroke-width="0.5"/>
<line x1="654.4" y1="222" x2="654.4" y2="223" stroke="#555" stroke-width="0.5"/>
<line x1="659.4" y1="222" x2="659.4" y2="223" stroke="#555" stroke-width="0.5"/>
<line x1="664.4" y1="222" x2="664.4" y2="223" stroke="#555" stroke-width="0.5"/>
<line x1="669.4" y1="222" x2="669.4" y2="223" stroke="#555" stroke-width="0.5"/>
<line x1="674.4" y1="222" x2="674.4" y2="223" stroke="#555" stroke-width="0.5"/>
<line x1="679.4" y1="222" x2="679.4" y2="223" stroke="#555" stroke-width="0.5"/>
<rect x="626.4" y="222.3" width="3.5" height="2" fill="#000" stroke="none" stroke-width="0"/>
<g fill="none" stroke="#1a1a1a" stroke-width="0.7" stroke-linejoin="round">
<path d="M631.2 203.7L631.3 204.0L631.2 204.4L630.9 204.7L630.4 205.0L630.0 205.3L629.6 205.5L629.2 205.8L628.8 206.1L628.2 206.4L627.5 206.4L626.8 206.3L626.3 206.2L625.8 206.0L625.3 205.9L624.7 205.8L624.2 205.6L623.7 205.4L623.3 205.1L623.2 204.7L623.3 204.3L623.5 204.0L623.7 203.7L624.0 203.3L624.2 203.0L624.6 202.7L625.0 202.5L625.4 202.3L625.9 202.1L626.5 201.8L627.1 201.6L627.8 201.4L628.5 201.4L629.1 201.5L629.6 201.8L629.9 202.2L630.1 202.6L630.2 202.9L630.5 203.1L630.8 203.4Z" opacity="0.93"/>
<path d="M632.7 203.5L632.9 204.0L632.7 204.5L632.3 205.0L631.7 205.4L631.1 205.7L630.6 206.1L630.1 206.5L629.4 206.9L628.6 207.2L627.7 207.3L626.8 207.2L626.0 207.0L625.3 206.7L624.6 206.6L623.9 206.4L623.1 206.2L622.4 205.9L622.0 205.5L621.9 205.0L622.0 204.5L622.3 204.0L622.6 203.5L622.8 203.1L623.2 202.7L623.7 202.3L624.2 201.9L624.9 201.6L625.6 201.3L626.3 201.1L627.1 200.7L628.0 200.5L629.0 200.4L629.9 200.6L630.6 201.0L631.0 201.5L631.2 202.0L631.4 202.4L631.7 202.8L632.2 203.1Z" opacity="0.90"/>
<path d="M634.2 203.4L634.5 204.0L634.3 204.7L633.7 205.2L632.9 205.7L632.2 206.2L631.6 206.7L630.9 207.2L630.1 207.7L629.0 208.1L627.9 208.2L626.7 208.1L625.8 207.8L624.9 207.5L624.0 207.3L623.1 207.1L622.1 206.8L621.2 206.4L620.7 205.9L620.5 205.3L620.7 204.6L621.0 204.0L621.4 203.4L621.7 202.9L622.2 202.3L622.8 201.8L623.5 201.4L624.3 201.0L625.2 200.6L626.1 200.3L627.1 199.9L628.3 199.6L629.6 199.5L630.7 199.7L631.5 200.2L632.0 200.9L632.3 201.5L632.6 202.0L633.0 202.5L633.6 202.9Z" opacity="0.88"/>
<path d="M635.7 203.3L636.0 204.0L635.8 204.8L635.1 205.5L634.2 206.1L633.3 206.6L632.5 207.2L631.7 207.9L630.7 208.5L629.4 208.9L628.0 209.1L626.7 208.9L625.5 208.6L624.4 208.2L623.4 207.9L622.2 207.7L621.0 207.4L620.0 207.0L619.3 206.3L619.1 205.5L619.3 204.7L619.7 204.0L620.2 203.3L620.6 202.6L621.2 202.0L621.9 201.4L622.7 200.8L623.7 200.4L624.8 199.9L625.9 199.5L627.2 199.0L628.6 198.6L630.1 198.5L631.5 198.8L632.5 199.4L633.1 200.2L633.4 201.0L633.7 201.6L634.3 202.1L635.0 202.7Z" opacity="0.85"/>
<path d="M637.2 203.2L637.6 204.0L637.3 204.9L636.5 205.8L635.5 206.5L634.4 207.1L633.5 207.8L632.5 208.6L631.3 209.3L629.9 209.8L628.2 210.0L626.6 209.8L625.2 209.4L624.0 209.0L622.8 208.6L621.4 208.4L620.0 208.0L618.8 207.5L618.0 206.7L617.7 205.8L618.0 204.9L618.4 204.0L619.0 203.2L619.5 202.4L620.1 201.6L621.0 200.9L622.0 200.3L623.2 199.7L624.4 199.2L625.7 198.7L627.2 198.1L628.9 197.7L630.6 197.6L632.3 197.9L633.4 198.6L634.2 199.5L634.5 200.4L634.9 201.2L635.6 201.8L636.4 202.4Z" opacity="0.83"/>
<path d="M638.8 203.0L639.2 204.0L638.9 205.1L637.9 206.0L636.7 206.8L635.5 207.6L634.4 208.4L633.3 209.2L632.0 210.1L630.3 210.7L628.4 210.9L626.6 210.7L625.0 210.2L623.5 209.7L622.1 209.3L620.6 209.0L618.9 208.6L617.5 208.0L616.6 207.1L616.4 206.1L616.6 205.0L617.2 204.0L617.8 203.0L618.4 202.1L619.1 201.3L620.1 200.4L621.2 199.7L622.6 199.1L624.0 198.5L625.5 197.9L627.2 197.3L629.1 196.8L631.2 196.6L633.0 197.0L634.4 197.8L635.2 198.9L635.7 199.9L636.1 200.8L636.8 201.5L637.8 202.2Z" opacity="0.80"/>
<path d="M640.3 202.9L640.8 204.0L640.4 205.2L639.4 206.3L638.0 207.2L636.6 208.0L635.4 208.9L634.2 209.9L632.6 210.9L630.7 211.5L628.6 211.8L626.5 211.5L624.7 211.0L623.1 210.4L621.5 210.0L619.7 209.7L617.9 209.2L616.3 208.5L615.3 207.5L615.0 206.3L615.3 205.1L615.9 204.0L616.6 202.9L617.3 201.9L618.1 200.9L619.2 200.0L620.5 199.2L622.0 198.5L623.6 197.8L625.3 197.1L627.2 196.4L629.4 195.8L631.7 195.7L633.8 196.1L635.4 197.0L636.3 198.2L636.8 199.4L637.3 200.4L638.1 201.2L639.3 202.0Z" opacity="0.78"/>
<path d="M641.8 202.8L642.4 204.0L642.0 205.3L640.8 206.5L639.2 207.6L637.7 208.5L636.4 209.5L635.0 210.6L633.3 211.6L631.1 212.4L628.8 212.7L626.4 212.4L624.4 211.8L622.6 211.2L620.9 210.7L618.9 210.3L616.9 209.8L615.1 209.0L613.9 207.9L613.6 206.6L613.9 205.2L614.6 204.0L615.4 202.8L616.2 201.6L617.1 200.5L618.3 199.5L619.7 198.6L621.4 197.8L623.2 197.1L625.1 196.3L627.3 195.5L629.7 194.9L632.3 194.7L634.6 195.2L636.3 196.2L637.3 197.5L637.9 198.8L638.5 199.9L639.4 200.8L640.7 201.7Z" opacity="0.75"/>
<path d="M617.4 206 Q613.4 212 613.4 221.6" opacity="0.7"/>
<path d="M618.9 206 Q614.9 212 614.6 221.6" opacity="0.7"/>
<path d="M620.4 206 Q616.4 212 615.8 221.6" opacity="0.7"/>
</g>
<rect x="612.7" y="214" width="3.5" height="7.8" fill="#555" stroke="none" stroke-width="0" opacity="0.5" filter="url(#bl)"/>
<rect x="612.5" y="180.5" width="21" height="19" fill="none" stroke="#333" stroke-width="1"/>
<rect x="629.5" y="199.5" width="38" height="22" fill="none" stroke="#333" stroke-width="1"/>
<text x="613.9" y="168.6" font-size="5.2" text-anchor="start" font-weight="normal" fill="#333">T-bet+</text>
<text x="617.2" y="174.8" font-size="5.2" text-anchor="start" font-weight="normal" fill="#333">2.70</text>
<text x="669.4" y="189.8" font-size="5.2" text-anchor="middle" font-weight="normal" fill="#333">GATA3+</text>
<text x="669.4" y="196" font-size="5.2" text-anchor="middle" font-weight="normal" fill="#333">37.8</text>
<text x="-1" y="290" font-size="31" text-anchor="start" font-weight="bold" fill="#000">b</text>
<line x1="41.3" y1="275.2" x2="41.3" y2="419" stroke="#000" stroke-width="1.3"/>
<line x1="37.8" y1="418.5" x2="41.3" y2="418.5" stroke="#000" stroke-width="1.3"/>
<text x="37" y="421.1" font-size="7.3" text-anchor="end" font-weight="bold" fill="#000">0.0</text>
<line x1="37.8" y1="389.9" x2="41.3" y2="389.9" stroke="#000" stroke-width="1.3"/>
<text x="37" y="392.6" font-size="7.3" text-anchor="end" font-weight="bold" fill="#000">0.5</text>
<line x1="37.8" y1="361.4" x2="41.3" y2="361.4" stroke="#000" stroke-width="1.3"/>
<text x="37" y="364" font-size="7.3" text-anchor="end" font-weight="bold" fill="#000">1.0</text>
<line x1="37.8" y1="332.9" x2="41.3" y2="332.9" stroke="#000" stroke-width="1.3"/>
<text x="37" y="335.5" font-size="7.3" text-anchor="end" font-weight="bold" fill="#000">1.5</text>
<line x1="37.8" y1="304.3" x2="41.3" y2="304.3" stroke="#000" stroke-width="1.3"/>
<text x="37" y="306.9" font-size="7.3" text-anchor="end" font-weight="bold" fill="#000">2.0</text>
<line x1="37.8" y1="275.8" x2="41.3" y2="275.8" stroke="#000" stroke-width="1.3"/>
<text x="37" y="278.4" font-size="7.3" text-anchor="end" font-weight="bold" fill="#000">2.5</text>
<line x1="40.7" y1="418.6" x2="303.4" y2="418.6" stroke="#000" stroke-width="1.3"/>
<text transform="translate(13.6,347.3) rotate(-90)" font-size="9" font-weight="bold" text-anchor="middle">Tetramer+ (% of CD4+)</text>
<rect x="42" y="276.3" width="74.2" height="17.8" fill="#fff" stroke="#000" stroke-width="1.4"/>
<text x="79.1" y="288.8" font-size="12" text-anchor="middle" font-weight="bold" fill="#000">Lymph Node</text>
<line x1="53.9" y1="376.6" x2="53.9" y2="380.7" stroke="#000" stroke-width="1.2"/>
<line x1="53.9" y1="404.6" x2="53.9" y2="404.6" stroke="#000" stroke-width="1.2"/>
<line x1="50.1" y1="376.6" x2="57.6" y2="376.6" stroke="#000" stroke-width="1.2"/>
<line x1="50.1" y1="404.6" x2="57.6" y2="404.6" stroke="#000" stroke-width="1.2"/>
<rect x="48.1" y="380.7" width="11.6" height="23.9" fill="#a9a9a9" stroke="#000" stroke-width="1.2"/>
<line x1="48.1" y1="396.4" x2="59.7" y2="396.4" stroke="#000" stroke-width="1.2"/>
<circle cx="53.9" cy="376.6" r="2.2" fill="#fff" stroke="#000" stroke-width="0.9"/>
<circle cx="53.9" cy="390.7" r="2.2" fill="#fff" stroke="#000" stroke-width="0.9"/>
<circle cx="48.4" cy="404.6" r="2.2" fill="#fff" stroke="#000" stroke-width="0.9"/>
<circle cx="59.4" cy="404.6" r="2.2" fill="#fff" stroke="#000" stroke-width="0.9"/>
<line x1="72.1" y1="385.2" x2="72.1" y2="390.5" stroke="#000" stroke-width="1.2"/>
<line x1="72.1" y1="409.3" x2="72.1" y2="412.6" stroke="#000" stroke-width="1.2"/>
<line x1="68.3" y1="385.2" x2="75.8" y2="385.2" stroke="#000" stroke-width="1.2"/>
<line x1="68.3" y1="412.6" x2="75.8" y2="412.6" stroke="#000" stroke-width="1.2"/>
<rect x="66.3" y="390.5" width="11.6" height="18.8" fill="#a0a0a0" stroke="#000" stroke-width="1.2"/>
<line x1="66.3" y1="403.2" x2="77.9" y2="403.2" stroke="#000" stroke-width="1.2"/>
<circle cx="72.1" cy="385.2" r="2.0" fill="#000" stroke="none" stroke-width="1"/>
<circle cx="67.1" cy="403.2" r="2.0" fill="#000" stroke="none" stroke-width="1"/>
<circle cx="77.1" cy="403.2" r="2.0" fill="#000" stroke="none" stroke-width="1"/>
<circle cx="72.1" cy="412.6" r="2.0" fill="#000" stroke="none" stroke-width="1"/>
<line x1="53.9" y1="418.6" x2="53.9" y2="421.5" stroke="#000" stroke-width="1.2"/>
<line x1="72.1" y1="418.6" x2="72.1" y2="421.5" stroke="#000" stroke-width="1.2"/>
<line x1="53.4" y1="368.8" x2="73.6" y2="368.8" stroke="#000" stroke-width="1.3"/>
<text x="63.5" y="366.6" font-size="8" text-anchor="middle" font-weight="bold" fill="#000">NS</text>
<line x1="90.3" y1="384.2" x2="90.3" y2="389.3" stroke="#000" stroke-width="1.2"/>
<line x1="90.3" y1="407.3" x2="90.3" y2="407.3" stroke="#000" stroke-width="1.2"/>
<line x1="86.5" y1="384.2" x2="94" y2="384.2" stroke="#000" stroke-width="1.2"/>
<line x1="86.5" y1="407.3" x2="94" y2="407.3" stroke="#000" stroke-width="1.2"/>
<rect x="84.5" y="389.3" width="11.6" height="18" fill="#80ff00" stroke="#000" stroke-width="1.2"/>
<line x1="84.5" y1="398" x2="96.1" y2="398" stroke="#000" stroke-width="1.2"/>
<circle cx="90.3" cy="384.2" r="2.2" fill="#fff" stroke="#000" stroke-width="0.9"/>
<circle cx="84.8" cy="391" r="2.2" fill="#fff" stroke="#000" stroke-width="0.9"/>
<circle cx="95.8" cy="391" r="2.2" fill="#fff" stroke="#000" stroke-width="0.9"/>
<circle cx="84.8" cy="407.3" r="2.2" fill="#fff" stroke="#000" stroke-width="0.9"/>
<circle cx="95.8" cy="407.3" r="2.2" fill="#fff" stroke="#000" stroke-width="0.9"/>
<line x1="108.5" y1="339.8" x2="108.5" y2="349.4" stroke="#000" stroke-width="1.2"/>
<line x1="108.5" y1="372.9" x2="108.5" y2="379" stroke="#000" stroke-width="1.2"/>
<line x1="104.8" y1="339.8" x2="112.2" y2="339.8" stroke="#000" stroke-width="1.2"/>
<line x1="104.8" y1="379" x2="112.2" y2="379" stroke="#000" stroke-width="1.2"/>
<rect x="102.7" y="349.4" width="11.6" height="23.5" fill="#00ff00" stroke="#000" stroke-width="1.2"/>
<line x1="102.7" y1="356.6" x2="114.3" y2="356.6" stroke="#000" stroke-width="1.2"/>
<circle cx="108.5" cy="339.8" r="2.0" fill="#000" stroke="none" stroke-width="1"/>
<circle cx="103.5" cy="356.6" r="2.0" fill="#000" stroke="none" stroke-width="1"/>
<circle cx="113.5" cy="356.6" r="2.0" fill="#000" stroke="none" stroke-width="1"/>
<circle cx="108.5" cy="368" r="2.0" fill="#000" stroke="none" stroke-width="1"/>
<circle cx="108.5" cy="379" r="2.0" fill="#000" stroke="none" stroke-width="1"/>
<line x1="90.3" y1="418.6" x2="90.3" y2="421.5" stroke="#000" stroke-width="1.2"/>
<line x1="108.5" y1="418.6" x2="108.5" y2="421.5" stroke="#000" stroke-width="1.2"/>
<line x1="89.8" y1="330.9" x2="110" y2="330.9" stroke="#000" stroke-width="1.3"/>
<text x="99.9" y="332.7" font-size="10.5" text-anchor="middle" font-weight="bold" fill="#000">**</text>
<line x1="126.7" y1="383.5" x2="126.7" y2="383.5" stroke="#000" stroke-width="1.2"/>
<line x1="126.7" y1="407.7" x2="126.7" y2="407.7" stroke="#000" stroke-width="1.2"/>
<line x1="122.9" y1="383.5" x2="130.4" y2="383.5" stroke="#000" stroke-width="1.2"/>
<line x1="122.9" y1="407.7" x2="130.4" y2="407.7" stroke="#000" stroke-width="1.2"/>
<rect x="120.9" y="383.5" width="11.6" height="24.2" fill="#ff0000" stroke="#000" stroke-width="1.2"/>
<line x1="120.9" y1="401.5" x2="132.5" y2="401.5" stroke="#000" stroke-width="1.2"/>
<circle cx="121.2" cy="383.5" r="2.2" fill="#fff" stroke="#000" stroke-width="0.9"/>
<circle cx="132.2" cy="383.5" r="2.2" fill="#fff" stroke="#000" stroke-width="0.9"/>
<circle cx="126.7" cy="401.5" r="2.2" fill="#fff" stroke="#000" stroke-width="0.9"/>
<circle cx="121.2" cy="407.7" r="2.2" fill="#fff" stroke="#000" stroke-width="0.9"/>
<circle cx="132.2" cy="407.7" r="2.2" fill="#fff" stroke="#000" stroke-width="0.9"/>
<line x1="144.9" y1="319.3" x2="144.9" y2="329.5" stroke="#000" stroke-width="1.2"/>
<line x1="144.9" y1="388.2" x2="144.9" y2="391.3" stroke="#000" stroke-width="1.2"/>
<line x1="141.1" y1="319.3" x2="148.6" y2="319.3" stroke="#000" stroke-width="1.2"/>
<line x1="141.1" y1="391.3" x2="148.6" y2="391.3" stroke="#000" stroke-width="1.2"/>
<rect x="139.1" y="329.5" width="11.6" height="58.7" fill="#ff0000" stroke="#000" stroke-width="1.2"/>
<line x1="139.1" y1="338.7" x2="150.7" y2="338.7" stroke="#000" stroke-width="1.2"/>
<circle cx="144.9" cy="319.3" r="2.0" fill="#000" stroke="none" stroke-width="1"/>
<circle cx="139.9" cy="338.7" r="2.0" fill="#000" stroke="none" stroke-width="1"/>
<circle cx="149.9" cy="338.7" r="2.0" fill="#000" stroke="none" stroke-width="1"/>
<circle cx="144.9" cy="388" r="2.0" fill="#000" stroke="none" stroke-width="1"/>
<circle cx="144.9" cy="391" r="2.0" fill="#000" stroke="none" stroke-width="1"/>
<line x1="126.7" y1="418.6" x2="126.7" y2="421.5" stroke="#000" stroke-width="1.2"/>
<line x1="144.9" y1="418.6" x2="144.9" y2="421.5" stroke="#000" stroke-width="1.2"/>
<line x1="126.2" y1="309.9" x2="146.4" y2="309.9" stroke="#000" stroke-width="1.3"/>
<text x="136.3" y="307.7" font-size="8" text-anchor="middle" font-weight="bold" fill="#000">NS</text>
<line x1="163.1" y1="368.4" x2="163.1" y2="375.5" stroke="#000" stroke-width="1.2"/>
<line x1="163.1" y1="406.6" x2="163.1" y2="406.6" stroke="#000" stroke-width="1.2"/>
<line x1="159.3" y1="368.4" x2="166.8" y2="368.4" stroke="#000" stroke-width="1.2"/>
<line x1="159.3" y1="406.6" x2="166.8" y2="406.6" stroke="#000" stroke-width="1.2"/>
<rect x="157.3" y="375.5" width="11.6" height="31.1" fill="#0000ff" stroke="#000" stroke-width="1.2"/>
<line x1="157.3" y1="390.9" x2="168.9" y2="390.9" stroke="#000" stroke-width="1.2"/>
<circle cx="163.1" cy="368.4" r="2.2" fill="#fff" stroke="#000" stroke-width="0.9"/>
<circle cx="163.1" cy="381" r="2.2" fill="#fff" stroke="#000" stroke-width="0.9"/>
<circle cx="163.1" cy="390.9" r="2.2" fill="#fff" stroke="#000" stroke-width="0.9"/>
<circle cx="157.6" cy="406.6" r="2.2" fill="#fff" stroke="#000" stroke-width="0.9"/>
<circle cx="168.6" cy="406.6" r="2.2" fill="#fff" stroke="#000" stroke-width="0.9"/>
<line x1="181.3" y1="324.2" x2="181.3" y2="332.3" stroke="#000" stroke-width="1.2"/>
<line x1="181.3" y1="350.2" x2="181.3" y2="354.2" stroke="#000" stroke-width="1.2"/>
<line x1="177.5" y1="324.2" x2="185" y2="324.2" stroke="#000" stroke-width="1.2"/>
<line x1="177.5" y1="354.2" x2="185" y2="354.2" stroke="#000" stroke-width="1.2"/>
<rect x="175.5" y="332.3" width="11.6" height="17.9" fill="#0000ff" stroke="#000" stroke-width="1.2"/>
<line x1="175.5" y1="341.5" x2="187.1" y2="341.5" stroke="#000" stroke-width="1.2"/>
<circle cx="181.3" cy="324.2" r="2.0" fill="#000" stroke="none" stroke-width="1"/>
<circle cx="181.3" cy="336" r="2.0" fill="#000" stroke="none" stroke-width="1"/>
<circle cx="176.3" cy="341.5" r="2.0" fill="#000" stroke="none" stroke-width="1"/>
<circle cx="186.3" cy="341.5" r="2.0" fill="#000" stroke="none" stroke-width="1"/>
<circle cx="181.3" cy="348" r="2.0" fill="#000" stroke="none" stroke-width="1"/>
<circle cx="181.3" cy="354.2" r="2.0" fill="#000" stroke="none" stroke-width="1"/>
<line x1="163.1" y1="418.6" x2="163.1" y2="421.5" stroke="#000" stroke-width="1.2"/>
<line x1="181.3" y1="418.6" x2="181.3" y2="421.5" stroke="#000" stroke-width="1.2"/>
<line x1="162.6" y1="314.1" x2="182.8" y2="314.1" stroke="#000" stroke-width="1.3"/>
<text x="172.7" y="315.9" font-size="10.5" text-anchor="middle" font-weight="bold" fill="#000">**</text>
<line x1="199.5" y1="381.5" x2="199.5" y2="388.5" stroke="#000" stroke-width="1.2"/>
<line x1="199.5" y1="403.4" x2="199.5" y2="403.4" stroke="#000" stroke-width="1.2"/>
<line x1="195.8" y1="381.5" x2="203.2" y2="381.5" stroke="#000" stroke-width="1.2"/>
<line x1="195.8" y1="403.4" x2="203.2" y2="403.4" stroke="#000" stroke-width="1.2"/>
<rect x="193.7" y="388.5" width="11.6" height="14.9" fill="#ff00ff" stroke="#000" stroke-width="1.2"/>
<line x1="193.7" y1="396.3" x2="205.3" y2="396.3" stroke="#000" stroke-width="1.2"/>
<circle cx="199.5" cy="381.5" r="2.2" fill="#fff" stroke="#000" stroke-width="0.9"/>
<circle cx="194" cy="392" r="2.2" fill="#fff" stroke="#000" stroke-width="0.9"/>
<circle cx="205" cy="392" r="2.2" fill="#fff" stroke="#000" stroke-width="0.9"/>
<circle cx="194.5" cy="403.4" r="2.2" fill="#fff" stroke="#000" stroke-width="0.9"/>
<circle cx="204.5" cy="401" r="2.2" fill="#fff" stroke="#000" stroke-width="0.9"/>
<line x1="217.7" y1="333.5" x2="217.7" y2="335.5" stroke="#000" stroke-width="1.2"/>
<line x1="217.7" y1="369.9" x2="217.7" y2="381.9" stroke="#000" stroke-width="1.2"/>
<line x1="213.9" y1="333.5" x2="221.4" y2="333.5" stroke="#000" stroke-width="1.2"/>
<line x1="213.9" y1="381.9" x2="221.4" y2="381.9" stroke="#000" stroke-width="1.2"/>
<rect x="211.9" y="335.5" width="11.6" height="34.4" fill="#ff00ff" stroke="#000" stroke-width="1.2"/>
<line x1="211.9" y1="349.1" x2="223.5" y2="349.1" stroke="#000" stroke-width="1.2"/>
<circle cx="213.7" cy="334" r="2.0" fill="#000" stroke="none" stroke-width="1"/>
<circle cx="221.7" cy="335.5" r="2.0" fill="#000" stroke="none" stroke-width="1"/>
<circle cx="217.7" cy="349.1" r="2.0" fill="#000" stroke="none" stroke-width="1"/>
<circle cx="217.7" cy="358.8" r="2.0" fill="#000" stroke="none" stroke-width="1"/>
<circle cx="217.7" cy="381.9" r="2.0" fill="#000" stroke="none" stroke-width="1"/>
<line x1="199.5" y1="418.6" x2="199.5" y2="421.5" stroke="#000" stroke-width="1.2"/>
<line x1="217.7" y1="418.6" x2="217.7" y2="421.5" stroke="#000" stroke-width="1.2"/>
<line x1="199" y1="323.5" x2="219.2" y2="323.5" stroke="#000" stroke-width="1.3"/>
<text x="209.1" y="325.3" font-size="10.5" text-anchor="middle" font-weight="bold" fill="#000">**</text>
<line x1="235.9" y1="386.5" x2="235.9" y2="390.7" stroke="#000" stroke-width="1.2"/>
<line x1="235.9" y1="411.5" x2="235.9" y2="411.5" stroke="#000" stroke-width="1.2"/>
<line x1="232.2" y1="386.5" x2="239.7" y2="386.5" stroke="#000" stroke-width="1.2"/>
<line x1="232.2" y1="411.5" x2="239.7" y2="411.5" stroke="#000" stroke-width="1.2"/>
<rect x="230.1" y="390.7" width="11.6" height="20.8" fill="#800080" stroke="#000" stroke-width="1.2"/>
<line x1="230.1" y1="400" x2="241.7" y2="400" stroke="#000" stroke-width="1.2"/>
<circle cx="235.9" cy="386.5" r="2.2" fill="#fff" stroke="#000" stroke-width="0.9"/>
<circle cx="230.4" cy="393" r="2.2" fill="#fff" stroke="#000" stroke-width="0.9"/>
<circle cx="241.4" cy="393" r="2.2" fill="#fff" stroke="#000" stroke-width="0.9"/>
<circle cx="230.4" cy="411.5" r="2.2" fill="#fff" stroke="#000" stroke-width="0.9"/>
<circle cx="240.9" cy="410" r="2.2" fill="#fff" stroke="#000" stroke-width="0.9"/>
<line x1="254.1" y1="337.7" x2="254.1" y2="346" stroke="#000" stroke-width="1.2"/>
<line x1="254.1" y1="376.4" x2="254.1" y2="378.8" stroke="#000" stroke-width="1.2"/>
<line x1="250.3" y1="337.7" x2="257.9" y2="337.7" stroke="#000" stroke-width="1.2"/>
<line x1="250.3" y1="378.8" x2="257.9" y2="378.8" stroke="#000" stroke-width="1.2"/>
<rect x="248.3" y="346" width="11.6" height="30.4" fill="#800080" stroke="#000" stroke-width="1.2"/>
<line x1="248.3" y1="364.4" x2="259.9" y2="364.4" stroke="#000" stroke-width="1.2"/>
<circle cx="254.1" cy="337.7" r="2.0" fill="#000" stroke="none" stroke-width="1"/>
<circle cx="254.1" cy="353.5" r="2.0" fill="#000" stroke="none" stroke-width="1"/>
<circle cx="249.1" cy="364.4" r="2.0" fill="#000" stroke="none" stroke-width="1"/>
<circle cx="259.1" cy="364.4" r="2.0" fill="#000" stroke="none" stroke-width="1"/>
<circle cx="254.1" cy="376" r="2.0" fill="#000" stroke="none" stroke-width="1"/>
<circle cx="254.1" cy="378.8" r="2.0" fill="#000" stroke="none" stroke-width="1"/>
<line x1="235.9" y1="418.6" x2="235.9" y2="421.5" stroke="#000" stroke-width="1.2"/>
<line x1="254.1" y1="418.6" x2="254.1" y2="421.5" stroke="#000" stroke-width="1.2"/>
<line x1="235.4" y1="327" x2="255.6" y2="327" stroke="#000" stroke-width="1.3"/>
<text x="245.5" y="328.8" font-size="10.5" text-anchor="middle" font-weight="bold" fill="#000">*</text>
<line x1="272.3" y1="385.8" x2="272.3" y2="392" stroke="#000" stroke-width="1.2"/>
<line x1="272.3" y1="411.5" x2="272.3" y2="418.7" stroke="#000" stroke-width="1.2"/>
<line x1="268.5" y1="385.8" x2="276" y2="385.8" stroke="#000" stroke-width="1.2"/>
<line x1="268.5" y1="418.7" x2="276" y2="418.7" stroke="#000" stroke-width="1.2"/>
<rect x="266.5" y="392" width="11.6" height="19.5" fill="#ff8000" stroke="#000" stroke-width="1.2"/>
<line x1="266.5" y1="399.6" x2="278.1" y2="399.6" stroke="#000" stroke-width="1.2"/>
<circle cx="272.3" cy="385.8" r="2.2" fill="#fff" stroke="#000" stroke-width="0.9"/>
<circle cx="277.3" cy="396" r="2.2" fill="#fff" stroke="#000" stroke-width="0.9"/>
<circle cx="267.3" cy="399.6" r="2.2" fill="#fff" stroke="#000" stroke-width="0.9"/>
<circle cx="272.3" cy="405" r="2.2" fill="#fff" stroke="#000" stroke-width="0.9"/>
<circle cx="272.3" cy="418.7" r="2.2" fill="#fff" stroke="#000" stroke-width="0.9"/>
<line x1="290.5" y1="298.3" x2="290.5" y2="310" stroke="#000" stroke-width="1.2"/>
<line x1="290.5" y1="348.2" x2="290.5" y2="366.6" stroke="#000" stroke-width="1.2"/>
<line x1="286.7" y1="298.3" x2="294.2" y2="298.3" stroke="#000" stroke-width="1.2"/>
<line x1="286.7" y1="366.6" x2="294.2" y2="366.6" stroke="#000" stroke-width="1.2"/>
<rect x="284.7" y="310" width="11.6" height="38.2" fill="#ff8000" stroke="#000" stroke-width="1.2"/>
<line x1="284.7" y1="324.6" x2="296.3" y2="324.6" stroke="#000" stroke-width="1.2"/>
<circle cx="290.5" cy="298.3" r="2.0" fill="#000" stroke="none" stroke-width="1"/>
<circle cx="290.5" cy="320" r="2.0" fill="#000" stroke="none" stroke-width="1"/>
<circle cx="290.5" cy="324.6" r="2.0" fill="#000" stroke="none" stroke-width="1"/>
<circle cx="290.5" cy="331" r="2.0" fill="#000" stroke="none" stroke-width="1"/>
<circle cx="290.5" cy="366.6" r="2.0" fill="#000" stroke="none" stroke-width="1"/>
<line x1="272.3" y1="418.6" x2="272.3" y2="421.5" stroke="#000" stroke-width="1.2"/>
<line x1="290.5" y1="418.6" x2="290.5" y2="421.5" stroke="#000" stroke-width="1.2"/>
<line x1="271.8" y1="288.5" x2="292" y2="288.5" stroke="#000" stroke-width="1.3"/>
<text x="281.9" y="290.3" font-size="10.5" text-anchor="middle" font-weight="bold" fill="#000">**</text>
<text x="59.5" y="436.8" font-size="7.6" text-anchor="middle" font-weight="bold" fill="#000">SAL</text>
<text x="99.9" y="436.8" font-size="7.6" text-anchor="middle" font-weight="bold" fill="#000">pre-F</text>
<text x="135.5" y="436.8" font-size="7.6" text-anchor="middle" font-weight="bold" fill="#000">DDA052</text>
<text x="174" y="436.8" font-size="7.6" text-anchor="middle" font-weight="bold" fill="#000">CAF01</text>
<text x="209.7" y="436.8" font-size="7.6" text-anchor="middle" font-weight="bold" fill="#000">CAF08</text>
<text x="246.6" y="436.8" font-size="7.6" text-anchor="middle" font-weight="bold" fill="#000">CAF08</text>
<text x="283.6" y="436.8" font-size="7.6" text-anchor="middle" font-weight="bold" fill="#000">ADVX</text>
<text x="210.9" y="445.3" font-size="7.6" text-anchor="middle" font-weight="bold" fill="#000">low</text>
<text x="247.4" y="445.3" font-size="7.6" text-anchor="middle" font-weight="bold" fill="#000">high</text>
<line x1="353.6" y1="275.5" x2="353.6" y2="418.8" stroke="#000" stroke-width="1.3"/>
<line x1="350.1" y1="418.3" x2="353.6" y2="418.3" stroke="#000" stroke-width="1.3"/>
<text x="349.3" y="420.9" font-size="7.3" text-anchor="end" font-weight="bold" fill="#000">0.0</text>
<line x1="350.1" y1="370.9" x2="353.6" y2="370.9" stroke="#000" stroke-width="1.3"/>
<text x="349.3" y="373.5" font-size="7.3" text-anchor="end" font-weight="bold" fill="#000">0.2</text>
<line x1="350.1" y1="323.4" x2="353.6" y2="323.4" stroke="#000" stroke-width="1.3"/>
<text x="349.3" y="326" font-size="7.3" text-anchor="end" font-weight="bold" fill="#000">0.4</text>
<line x1="350.1" y1="275.9" x2="353.6" y2="275.9" stroke="#000" stroke-width="1.3"/>
<text x="349.3" y="278.6" font-size="7.3" text-anchor="end" font-weight="bold" fill="#000">0.6</text>
<line x1="353" y1="418.4" x2="614.8" y2="418.4" stroke="#000" stroke-width="1.3"/>
<text transform="translate(325.8,347) rotate(-90)" font-size="9" font-weight="bold" text-anchor="middle">Tetramer+ (% of CD4+)</text>
<rect x="353.6" y="276" width="42.5" height="17.9" fill="#fff" stroke="#000" stroke-width="1.4"/>
<text x="374.6" y="288.6" font-size="11.6" text-anchor="middle" font-weight="bold" fill="#000">Spleen</text>
<line x1="365.6" y1="401.9" x2="365.6" y2="401.9" stroke="#000" stroke-width="1.2"/>
<line x1="365.6" y1="414.3" x2="365.6" y2="418.2" stroke="#000" stroke-width="1.2"/>
<line x1="362.1" y1="401.9" x2="369.1" y2="401.9" stroke="#000" stroke-width="1.2"/>
<line x1="362.1" y1="418.2" x2="369.1" y2="418.2" stroke="#000" stroke-width="1.2"/>
<rect x="359.8" y="401.9" width="11.6" height="12.4" fill="#a0a0a0" stroke="#000" stroke-width="1.2"/>
<line x1="359.8" y1="404" x2="371.4" y2="404" stroke="#000" stroke-width="1.2"/>
<circle cx="361.6" cy="401.9" r="2.1" fill="#fff" stroke="#000" stroke-width="0.9"/>
<circle cx="369.6" cy="401.9" r="2.1" fill="#fff" stroke="#000" stroke-width="0.9"/>
<circle cx="370.6" cy="404.5" r="2.1" fill="#fff" stroke="#000" stroke-width="0.9"/>
<circle cx="365.6" cy="418.2" r="2.1" fill="#fff" stroke="#000" stroke-width="0.9"/>
<line x1="384" y1="393.3" x2="384" y2="393.3" stroke="#000" stroke-width="1.2"/>
<line x1="384" y1="413" x2="384" y2="418.2" stroke="#000" stroke-width="1.2"/>
<line x1="380.5" y1="393.3" x2="387.5" y2="393.3" stroke="#000" stroke-width="1.2"/>
<line x1="380.5" y1="418.2" x2="387.5" y2="418.2" stroke="#000" stroke-width="1.2"/>
<rect x="378.2" y="393.3" width="11.6" height="19.7" fill="#a0a0a0" stroke="#000" stroke-width="1.2"/>
<line x1="378.2" y1="396" x2="389.8" y2="396" stroke="#000" stroke-width="1.2"/>
<circle cx="388" cy="393.3" r="1.9" fill="#000" stroke="none" stroke-width="1"/>
<circle cx="387" cy="395.5" r="1.9" fill="#000" stroke="none" stroke-width="1"/>
<circle cx="384" cy="418.2" r="1.9" fill="#000" stroke="none" stroke-width="1"/>
<line x1="365.6" y1="418.4" x2="365.6" y2="421.3" stroke="#000" stroke-width="1.2"/>
<line x1="384" y1="418.4" x2="384" y2="421.3" stroke="#000" stroke-width="1.2"/>
<line x1="364.6" y1="384.6" x2="385.5" y2="384.6" stroke="#000" stroke-width="1.3"/>
<text x="375.3" y="382.4" font-size="8" text-anchor="middle" font-weight="bold" fill="#000">NS</text>
<line x1="402.1" y1="407.7" x2="402.1" y2="407.7" stroke="#000" stroke-width="1.2"/>
<line x1="402.1" y1="415.6" x2="402.1" y2="418.2" stroke="#000" stroke-width="1.2"/>
<line x1="398.6" y1="407.7" x2="405.6" y2="407.7" stroke="#000" stroke-width="1.2"/>
<line x1="398.6" y1="418.2" x2="405.6" y2="418.2" stroke="#000" stroke-width="1.2"/>
<rect x="396.3" y="407.7" width="11.6" height="7.9" fill="#00ff00" stroke="#000" stroke-width="1.2"/>
<line x1="396.3" y1="410" x2="407.9" y2="410" stroke="#000" stroke-width="1.2"/>
<circle cx="398.1" cy="407.7" r="2.1" fill="#fff" stroke="#000" stroke-width="0.9"/>
<circle cx="406.1" cy="407.7" r="2.1" fill="#fff" stroke="#000" stroke-width="0.9"/>
<circle cx="402.1" cy="410" r="2.1" fill="#fff" stroke="#000" stroke-width="0.9"/>
<circle cx="402.1" cy="418.2" r="2.1" fill="#fff" stroke="#000" stroke-width="0.9"/>
<line x1="420.5" y1="363" x2="420.5" y2="365.7" stroke="#000" stroke-width="1.2"/>
<line x1="420.5" y1="407.2" x2="420.5" y2="418.2" stroke="#000" stroke-width="1.2"/>
<line x1="417" y1="363" x2="424" y2="363" stroke="#000" stroke-width="1.2"/>
<line x1="417" y1="418.2" x2="424" y2="418.2" stroke="#000" stroke-width="1.2"/>
<rect x="414.7" y="365.7" width="11.6" height="41.5" fill="#00ff00" stroke="#000" stroke-width="1.2"/>
<line x1="414.7" y1="370.4" x2="426.3" y2="370.4" stroke="#000" stroke-width="1.2"/>
<circle cx="420.5" cy="363" r="1.9" fill="#000" stroke="none" stroke-width="1"/>
<circle cx="420.5" cy="366" r="1.9" fill="#000" stroke="none" stroke-width="1"/>
<circle cx="420.5" cy="372" r="1.9" fill="#000" stroke="none" stroke-width="1"/>
<circle cx="420.5" cy="418.2" r="1.9" fill="#000" stroke="none" stroke-width="1"/>
<line x1="402.1" y1="418.4" x2="402.1" y2="421.3" stroke="#000" stroke-width="1.2"/>
<line x1="420.5" y1="418.4" x2="420.5" y2="421.3" stroke="#000" stroke-width="1.2"/>
<line x1="401.1" y1="354.9" x2="422" y2="354.9" stroke="#000" stroke-width="1.3"/>
<text x="411.8" y="352.7" font-size="8" text-anchor="middle" font-weight="bold" fill="#000">NS</text>
<line x1="438.5" y1="401.2" x2="438.5" y2="401.2" stroke="#000" stroke-width="1.2"/>
<line x1="438.5" y1="410.4" x2="438.5" y2="410.4" stroke="#000" stroke-width="1.2"/>
<line x1="435" y1="401.2" x2="442" y2="401.2" stroke="#000" stroke-width="1.2"/>
<line x1="435" y1="410.4" x2="442" y2="410.4" stroke="#000" stroke-width="1.2"/>
<rect x="432.7" y="401.2" width="11.6" height="9.2" fill="#ff0000" stroke="#000" stroke-width="1.2"/>
<line x1="432.7" y1="405.5" x2="444.3" y2="405.5" stroke="#000" stroke-width="1.2"/>
<circle cx="434.5" cy="401.2" r="2.1" fill="#fff" stroke="#000" stroke-width="0.9"/>
<circle cx="442.5" cy="401.2" r="2.1" fill="#fff" stroke="#000" stroke-width="0.9"/>
<circle cx="434.5" cy="405.5" r="2.1" fill="#fff" stroke="#000" stroke-width="0.9"/>
<circle cx="442.5" cy="405.5" r="2.1" fill="#fff" stroke="#000" stroke-width="0.9"/>
<circle cx="435.5" cy="410.4" r="2.1" fill="#fff" stroke="#000" stroke-width="0.9"/>
<circle cx="441.5" cy="410.4" r="2.1" fill="#fff" stroke="#000" stroke-width="0.9"/>
<line x1="456.9" y1="361" x2="456.9" y2="367" stroke="#000" stroke-width="1.2"/>
<line x1="456.9" y1="384.6" x2="456.9" y2="394.6" stroke="#000" stroke-width="1.2"/>
<line x1="453.4" y1="361" x2="460.4" y2="361" stroke="#000" stroke-width="1.2"/>
<line x1="453.4" y1="394.6" x2="460.4" y2="394.6" stroke="#000" stroke-width="1.2"/>
<rect x="451.1" y="367" width="11.6" height="17.6" fill="#ff0000" stroke="#000" stroke-width="1.2"/>
<line x1="451.1" y1="373.6" x2="462.7" y2="373.6" stroke="#000" stroke-width="1.2"/>
<circle cx="456.9" cy="361" r="1.9" fill="#000" stroke="none" stroke-width="1"/>
<circle cx="456.9" cy="368" r="1.9" fill="#000" stroke="none" stroke-width="1"/>
<circle cx="456.9" cy="373" r="1.9" fill="#000" stroke="none" stroke-width="1"/>
<circle cx="456.9" cy="378" r="1.9" fill="#000" stroke="none" stroke-width="1"/>
<circle cx="456.9" cy="394.6" r="1.9" fill="#000" stroke="none" stroke-width="1"/>
<line x1="438.5" y1="418.4" x2="438.5" y2="421.3" stroke="#000" stroke-width="1.2"/>
<line x1="456.9" y1="418.4" x2="456.9" y2="421.3" stroke="#000" stroke-width="1.2"/>
<line x1="437.5" y1="354.4" x2="458.4" y2="354.4" stroke="#000" stroke-width="1.3"/>
<text x="448.2" y="352.2" font-size="8" text-anchor="middle" font-weight="bold" fill="#000">NS</text>
<line x1="475" y1="395" x2="475" y2="396.7" stroke="#000" stroke-width="1.2"/>
<line x1="475" y1="410.4" x2="475" y2="410.4" stroke="#000" stroke-width="1.2"/>
<line x1="471.5" y1="395" x2="478.5" y2="395" stroke="#000" stroke-width="1.2"/>
<line x1="471.5" y1="410.4" x2="478.5" y2="410.4" stroke="#000" stroke-width="1.2"/>
<rect x="469.2" y="396.7" width="11.6" height="13.7" fill="#0000ff" stroke="#000" stroke-width="1.2"/>
<line x1="469.2" y1="403" x2="480.8" y2="403" stroke="#000" stroke-width="1.2"/>
<circle cx="472" cy="394" r="2.1" fill="#fff" stroke="#000" stroke-width="0.9"/>
<circle cx="479" cy="398" r="2.1" fill="#fff" stroke="#000" stroke-width="0.9"/>
<circle cx="471" cy="410.4" r="2.1" fill="#fff" stroke="#000" stroke-width="0.9"/>
<circle cx="479" cy="410.4" r="2.1" fill="#fff" stroke="#000" stroke-width="0.9"/>
<line x1="493.4" y1="337.3" x2="493.4" y2="342" stroke="#000" stroke-width="1.2"/>
<line x1="493.4" y1="407.2" x2="493.4" y2="407.2" stroke="#000" stroke-width="1.2"/>
<line x1="489.9" y1="337.3" x2="496.9" y2="337.3" stroke="#000" stroke-width="1.2"/>
<line x1="489.9" y1="407.2" x2="496.9" y2="407.2" stroke="#000" stroke-width="1.2"/>
<rect x="487.6" y="342" width="11.6" height="65.2" fill="#0000ff" stroke="#000" stroke-width="1.2"/>
<line x1="487.6" y1="405" x2="499.2" y2="405" stroke="#000" stroke-width="1.2"/>
<circle cx="493.4" cy="337.3" r="1.9" fill="#000" stroke="none" stroke-width="1"/>
<circle cx="493.4" cy="343" r="1.9" fill="#000" stroke="none" stroke-width="1"/>
<circle cx="490.4" cy="406" r="1.9" fill="#000" stroke="none" stroke-width="1"/>
<circle cx="496.4" cy="405" r="1.9" fill="#000" stroke="none" stroke-width="1"/>
<line x1="475" y1="418.4" x2="475" y2="421.3" stroke="#000" stroke-width="1.2"/>
<line x1="493.4" y1="418.4" x2="493.4" y2="421.3" stroke="#000" stroke-width="1.2"/>
<line x1="474" y1="328.9" x2="494.9" y2="328.9" stroke="#000" stroke-width="1.3"/>
<text x="484.7" y="326.7" font-size="8" text-anchor="middle" font-weight="bold" fill="#000">NS</text>
<line x1="511.5" y1="402.5" x2="511.5" y2="402.5" stroke="#000" stroke-width="1.2"/>
<line x1="511.5" y1="414.3" x2="511.5" y2="418.2" stroke="#000" stroke-width="1.2"/>
<line x1="508" y1="402.5" x2="515" y2="402.5" stroke="#000" stroke-width="1.2"/>
<line x1="508" y1="418.2" x2="515" y2="418.2" stroke="#000" stroke-width="1.2"/>
<rect x="505.7" y="402.5" width="11.6" height="11.8" fill="#ff00ff" stroke="#000" stroke-width="1.2"/>
<line x1="505.7" y1="404" x2="517.3" y2="404" stroke="#000" stroke-width="1.2"/>
<circle cx="507.5" cy="402.5" r="2.1" fill="#fff" stroke="#000" stroke-width="0.9"/>
<circle cx="515.5" cy="401.5" r="2.1" fill="#fff" stroke="#000" stroke-width="0.9"/>
<circle cx="515.5" cy="405.5" r="2.1" fill="#fff" stroke="#000" stroke-width="0.9"/>
<circle cx="511.5" cy="418.2" r="2.1" fill="#fff" stroke="#000" stroke-width="0.9"/>
<line x1="529.9" y1="325.5" x2="529.9" y2="328.9" stroke="#000" stroke-width="1.2"/>
<line x1="529.9" y1="400.4" x2="529.9" y2="418.2" stroke="#000" stroke-width="1.2"/>
<line x1="526.4" y1="325.5" x2="533.4" y2="325.5" stroke="#000" stroke-width="1.2"/>
<line x1="526.4" y1="418.2" x2="533.4" y2="418.2" stroke="#000" stroke-width="1.2"/>
<rect x="524.1" y="328.9" width="11.6" height="71.5" fill="#ff00ff" stroke="#000" stroke-width="1.2"/>
<line x1="524.1" y1="341.5" x2="535.7" y2="341.5" stroke="#000" stroke-width="1.2"/>
<circle cx="529.9" cy="325.5" r="1.9" fill="#000" stroke="none" stroke-width="1"/>
<circle cx="529.9" cy="335.5" r="1.9" fill="#000" stroke="none" stroke-width="1"/>
<circle cx="529.9" cy="347.3" r="1.9" fill="#000" stroke="none" stroke-width="1"/>
<circle cx="529.9" cy="418.2" r="1.9" fill="#000" stroke="none" stroke-width="1"/>
<line x1="511.5" y1="418.4" x2="511.5" y2="421.3" stroke="#000" stroke-width="1.2"/>
<line x1="529.9" y1="418.4" x2="529.9" y2="421.3" stroke="#000" stroke-width="1.2"/>
<line x1="510.5" y1="319.7" x2="531.4" y2="319.7" stroke="#000" stroke-width="1.3"/>
<text x="521.2" y="317.5" font-size="8" text-anchor="middle" font-weight="bold" fill="#000">NS</text>
<line x1="548" y1="408" x2="548" y2="409" stroke="#000" stroke-width="1.2"/>
<line x1="548" y1="412" x2="548" y2="412" stroke="#000" stroke-width="1.2"/>
<line x1="544.5" y1="408" x2="551.5" y2="408" stroke="#000" stroke-width="1.2"/>
<line x1="544.5" y1="412" x2="551.5" y2="412" stroke="#000" stroke-width="1.2"/>
<rect x="542.2" y="409" width="11.6" height="3" fill="#800080" stroke="#000" stroke-width="1.2"/>
<line x1="542.2" y1="410.5" x2="553.8" y2="410.5" stroke="#000" stroke-width="1.2"/>
<circle cx="544" cy="408" r="2.1" fill="#fff" stroke="#000" stroke-width="0.9"/>
<circle cx="548" cy="408.5" r="2.1" fill="#fff" stroke="#000" stroke-width="0.9"/>
<circle cx="544" cy="413" r="2.1" fill="#fff" stroke="#000" stroke-width="0.9"/>
<circle cx="548" cy="412" r="2.1" fill="#fff" stroke="#000" stroke-width="0.9"/>
<circle cx="552" cy="411" r="2.1" fill="#fff" stroke="#000" stroke-width="0.9"/>
<line x1="566.4" y1="327.3" x2="566.4" y2="333.4" stroke="#000" stroke-width="1.2"/>
<line x1="566.4" y1="393.8" x2="566.4" y2="395" stroke="#000" stroke-width="1.2"/>
<line x1="562.9" y1="327.3" x2="569.9" y2="327.3" stroke="#000" stroke-width="1.2"/>
<line x1="562.9" y1="395" x2="569.9" y2="395" stroke="#000" stroke-width="1.2"/>
<rect x="560.6" y="333.4" width="11.6" height="60.4" fill="#800080" stroke="#000" stroke-width="1.2"/>
<line x1="560.6" y1="349.1" x2="572.1" y2="349.1" stroke="#000" stroke-width="1.2"/>
<circle cx="566.4" cy="327.3" r="1.9" fill="#000" stroke="none" stroke-width="1"/>
<circle cx="566.4" cy="338" r="1.9" fill="#000" stroke="none" stroke-width="1"/>
<circle cx="566.4" cy="349" r="1.9" fill="#000" stroke="none" stroke-width="1"/>
<circle cx="562.4" cy="395" r="1.9" fill="#000" stroke="none" stroke-width="1"/>
<circle cx="570.4" cy="394" r="1.9" fill="#000" stroke="none" stroke-width="1"/>
<line x1="548" y1="418.4" x2="548" y2="421.3" stroke="#000" stroke-width="1.2"/>
<line x1="566.4" y1="418.4" x2="566.4" y2="421.3" stroke="#000" stroke-width="1.2"/>
<line x1="547" y1="318.9" x2="567.9" y2="318.9" stroke="#000" stroke-width="1.3"/>
<text x="557.7" y="316.7" font-size="8" text-anchor="middle" font-weight="bold" fill="#000">NS</text>
<line x1="584.4" y1="408" x2="584.4" y2="409.8" stroke="#000" stroke-width="1.2"/>
<line x1="584.4" y1="417" x2="584.4" y2="418.2" stroke="#000" stroke-width="1.2"/>
<line x1="580.9" y1="408" x2="587.9" y2="408" stroke="#000" stroke-width="1.2"/>
<line x1="580.9" y1="418.2" x2="587.9" y2="418.2" stroke="#000" stroke-width="1.2"/>
<rect x="578.6" y="409.8" width="11.6" height="7.2" fill="#ff8000" stroke="#000" stroke-width="1.2"/>
<line x1="578.6" y1="413" x2="590.2" y2="413" stroke="#000" stroke-width="1.2"/>
<circle cx="582.4" cy="408" r="2.1" fill="#fff" stroke="#000" stroke-width="0.9"/>
<circle cx="586.4" cy="408.5" r="2.1" fill="#fff" stroke="#000" stroke-width="0.9"/>
<circle cx="580.4" cy="418.2" r="2.1" fill="#fff" stroke="#000" stroke-width="0.9"/>
<circle cx="584.4" cy="418.2" r="2.1" fill="#fff" stroke="#000" stroke-width="0.9"/>
<circle cx="588.4" cy="418.2" r="2.1" fill="#fff" stroke="#000" stroke-width="0.9"/>
<line x1="602.8" y1="387.2" x2="602.8" y2="388.8" stroke="#000" stroke-width="1.2"/>
<line x1="602.8" y1="405.1" x2="602.8" y2="405.1" stroke="#000" stroke-width="1.2"/>
<line x1="599.3" y1="387.2" x2="606.3" y2="387.2" stroke="#000" stroke-width="1.2"/>
<line x1="599.3" y1="405.1" x2="606.3" y2="405.1" stroke="#000" stroke-width="1.2"/>
<rect x="597" y="388.8" width="11.6" height="16.3" fill="#ff8000" stroke="#000" stroke-width="1.2"/>
<line x1="597" y1="394.6" x2="608.6" y2="394.6" stroke="#000" stroke-width="1.2"/>
<circle cx="598.8" cy="387" r="1.9" fill="#000" stroke="none" stroke-width="1"/>
<circle cx="602.8" cy="392" r="1.9" fill="#000" stroke="none" stroke-width="1"/>
<circle cx="602.8" cy="394.6" r="1.9" fill="#000" stroke="none" stroke-width="1"/>
<circle cx="602.8" cy="400" r="1.9" fill="#000" stroke="none" stroke-width="1"/>
<circle cx="598.8" cy="405" r="1.9" fill="#000" stroke="none" stroke-width="1"/>
<line x1="584.4" y1="418.4" x2="584.4" y2="421.3" stroke="#000" stroke-width="1.2"/>
<line x1="602.8" y1="418.4" x2="602.8" y2="421.3" stroke="#000" stroke-width="1.2"/>
<line x1="583.4" y1="378.8" x2="604.3" y2="378.8" stroke="#000" stroke-width="1.3"/>
<text x="594.1" y="376.6" font-size="8" text-anchor="middle" font-weight="bold" fill="#000">NS</text>
<text x="374.8" y="436.3" font-size="7.6" text-anchor="middle" font-weight="bold" fill="#000">SAL</text>
<text x="415.5" y="436.3" font-size="7.6" text-anchor="middle" font-weight="bold" fill="#000">pre-F</text>
<text x="450.7" y="436.3" font-size="7.6" text-anchor="middle" font-weight="bold" fill="#000">DDA052</text>
<text x="488.7" y="436.3" font-size="7.6" text-anchor="middle" font-weight="bold" fill="#000">CAF01</text>
<text x="525" y="436.3" font-size="7.6" text-anchor="middle" font-weight="bold" fill="#000">CAF08</text>
<text x="563" y="436.3" font-size="7.6" text-anchor="middle" font-weight="bold" fill="#000">CAF08</text>
<text x="599" y="436.3" font-size="7.6" text-anchor="middle" font-weight="bold" fill="#000">ADVX</text>
<text x="525.6" y="445.2" font-size="7.6" text-anchor="middle" font-weight="bold" fill="#000">low</text>
<text x="563" y="445.2" font-size="7.6" text-anchor="middle" font-weight="bold" fill="#000">high</text>
<rect x="40.6" y="449.6" width="261.6" height="16.1" fill="#fff" stroke="#888" stroke-width="0.9"/>
<rect x="351" y="449.6" width="262.1" height="16.1" fill="#fff" stroke="#888" stroke-width="0.9"/>
<circle cx="50.1" cy="457.8" r="5.0" fill="#fff" stroke="#000" stroke-width="1.2"/>
<text x="58.4" y="461" font-size="9" text-anchor="start" font-weight="bold" fill="#000">H2-IAb - CLIP peptide</text>
<circle cx="177.5" cy="457.8" r="5.4" fill="#000" stroke="none" stroke-width="1"/>
<text x="187.2" y="461" font-size="9" text-anchor="start" font-weight="bold" fill="#000">H2-IAb - RSV pre-F peptide</text>
<circle cx="361" cy="457.5" r="5.0" fill="#fff" stroke="#000" stroke-width="1.2"/>
<text x="368.6" y="461" font-size="9" text-anchor="start" font-weight="bold" fill="#000">H2-IAb - CLIP peptide</text>
<circle cx="489.2" cy="457.5" r="5.4" fill="#000" stroke="none" stroke-width="1"/>
<text x="498.2" y="461" font-size="9" text-anchor="start" font-weight="bold" fill="#000">H2-IAb - RSV pre-F peptide</text>
<text x="0" y="492.8" font-size="31" text-anchor="start" font-weight="bold" fill="#000">c</text>
<line x1="39.9" y1="486.6" x2="39.9" y2="630.6" stroke="#000" stroke-width="1.3"/>
<line x1="36.4" y1="630" x2="39.9" y2="630" stroke="#000" stroke-width="1.3"/>
<text x="36.4" y="632.7" font-size="7.6" text-anchor="end" font-weight="bold" fill="#000">0</text>
<line x1="36.4" y1="582.4" x2="39.9" y2="582.4" stroke="#000" stroke-width="1.3"/>
<text x="36.4" y="585.1" font-size="7.6" text-anchor="end" font-weight="bold" fill="#000">5</text>
<line x1="36.4" y1="534.8" x2="39.9" y2="534.8" stroke="#000" stroke-width="1.3"/>
<text x="36.4" y="537.5" font-size="7.6" text-anchor="end" font-weight="bold" fill="#000">10</text>
<line x1="36.4" y1="487.2" x2="39.9" y2="487.2" stroke="#000" stroke-width="1.3"/>
<text x="36.4" y="489.9" font-size="7.6" text-anchor="end" font-weight="bold" fill="#000">15</text>
<line x1="39.3" y1="630" x2="229.5" y2="630" stroke="#000" stroke-width="1.3"/>
<text transform="translate(13.5,558) rotate(-90)" font-size="8.6" font-weight="bold" text-anchor="middle">T-bet+ (% of tetramer+)</text>
<rect x="40" y="487.2" width="24.8" height="18.2" fill="#fff" stroke="#000" stroke-width="1.4"/>
<text x="52.4" y="500.1" font-size="12" text-anchor="middle" font-weight="bold" fill="#000">Th1</text>
<line x1="57.3" y1="604.4" x2="57.3" y2="606.8" stroke="#000" stroke-width="1.2"/>
<line x1="57.3" y1="626.5" x2="57.3" y2="630" stroke="#000" stroke-width="1.2"/>
<line x1="52.5" y1="604.4" x2="62" y2="604.4" stroke="#000" stroke-width="1.2"/>
<line x1="52.5" y1="630" x2="62" y2="630" stroke="#000" stroke-width="1.2"/>
<rect x="49.1" y="606.8" width="16.4" height="19.7" fill="#999999" stroke="#000" stroke-width="1.2"/>
<line x1="49.1" y1="613.8" x2="65.5" y2="613.8" stroke="#000" stroke-width="1.2"/>
<circle cx="57.3" cy="604.4" r="1.9" fill="#000" stroke="none" stroke-width="1"/>
<circle cx="57.3" cy="613.8" r="1.9" fill="#000" stroke="none" stroke-width="1"/>
<circle cx="57.3" cy="618" r="1.9" fill="#000" stroke="none" stroke-width="1"/>
<circle cx="57.3" cy="630" r="1.9" fill="#000" stroke="none" stroke-width="1"/>
<line x1="57.3" y1="630" x2="57.3" y2="633.5" stroke="#000" stroke-width="1.2"/>
<line x1="83.2" y1="606.1" x2="83.2" y2="607.9" stroke="#000" stroke-width="1.2"/>
<line x1="83.2" y1="616.6" x2="83.2" y2="616.6" stroke="#000" stroke-width="1.2"/>
<line x1="78.4" y1="606.1" x2="87.9" y2="606.1" stroke="#000" stroke-width="1.2"/>
<line x1="78.4" y1="616.6" x2="87.9" y2="616.6" stroke="#000" stroke-width="1.2"/>
<rect x="75" y="607.9" width="16.4" height="8.7" fill="#00ff00" stroke="#000" stroke-width="1.2"/>
<line x1="75" y1="613.1" x2="91.4" y2="613.1" stroke="#000" stroke-width="1.2"/>
<circle cx="80.2" cy="607" r="1.9" fill="#000" stroke="none" stroke-width="1"/>
<circle cx="87.2" cy="607.5" r="1.9" fill="#000" stroke="none" stroke-width="1"/>
<circle cx="79.2" cy="616" r="1.9" fill="#000" stroke="none" stroke-width="1"/>
<circle cx="86.2" cy="616.6" r="1.9" fill="#000" stroke="none" stroke-width="1"/>
<line x1="83.2" y1="630" x2="83.2" y2="633.5" stroke="#000" stroke-width="1.2"/>
<line x1="109" y1="602.6" x2="109" y2="604.4" stroke="#000" stroke-width="1.2"/>
<line x1="109" y1="617.4" x2="109" y2="623" stroke="#000" stroke-width="1.2"/>
<line x1="104.3" y1="602.6" x2="113.8" y2="602.6" stroke="#000" stroke-width="1.2"/>
<line x1="104.3" y1="623" x2="113.8" y2="623" stroke="#000" stroke-width="1.2"/>
<rect x="100.8" y="604.4" width="16.4" height="13" fill="#ff0000" stroke="#000" stroke-width="1.2"/>
<line x1="100.8" y1="609.6" x2="117.2" y2="609.6" stroke="#000" stroke-width="1.2"/>
<circle cx="106" cy="602.6" r="1.9" fill="#000" stroke="none" stroke-width="1"/>
<circle cx="112" cy="603" r="1.9" fill="#000" stroke="none" stroke-width="1"/>
<circle cx="109" cy="609.6" r="1.9" fill="#000" stroke="none" stroke-width="1"/>
<circle cx="113" cy="610.5" r="1.9" fill="#000" stroke="none" stroke-width="1"/>
<circle cx="109" cy="623" r="1.9" fill="#000" stroke="none" stroke-width="1"/>
<line x1="109" y1="630" x2="109" y2="633.5" stroke="#000" stroke-width="1.2"/>
<line x1="134.9" y1="573.9" x2="134.9" y2="578.1" stroke="#000" stroke-width="1.2"/>
<line x1="134.9" y1="607.2" x2="134.9" y2="608.6" stroke="#000" stroke-width="1.2"/>
<line x1="130.1" y1="573.9" x2="139.6" y2="573.9" stroke="#000" stroke-width="1.2"/>
<line x1="130.1" y1="608.6" x2="139.6" y2="608.6" stroke="#000" stroke-width="1.2"/>
<rect x="126.7" y="578.1" width="16.4" height="29.1" fill="#0000ff" stroke="#000" stroke-width="1.2"/>
<line x1="126.7" y1="601.9" x2="143.1" y2="601.9" stroke="#000" stroke-width="1.2"/>
<circle cx="134.9" cy="573.9" r="1.9" fill="#000" stroke="none" stroke-width="1"/>
<circle cx="134.9" cy="580" r="1.9" fill="#000" stroke="none" stroke-width="1"/>
<circle cx="134.9" cy="601.9" r="1.9" fill="#000" stroke="none" stroke-width="1"/>
<circle cx="130.9" cy="608" r="1.9" fill="#000" stroke="none" stroke-width="1"/>
<circle cx="138.9" cy="608" r="1.9" fill="#000" stroke="none" stroke-width="1"/>
<line x1="134.9" y1="630" x2="134.9" y2="633.5" stroke="#000" stroke-width="1.2"/>
<line x1="160.7" y1="543.8" x2="160.7" y2="548.3" stroke="#000" stroke-width="1.2"/>
<line x1="160.7" y1="570.4" x2="160.7" y2="572.9" stroke="#000" stroke-width="1.2"/>
<line x1="156" y1="543.8" x2="165.5" y2="543.8" stroke="#000" stroke-width="1.2"/>
<line x1="156" y1="572.9" x2="165.5" y2="572.9" stroke="#000" stroke-width="1.2"/>
<rect x="152.5" y="548.3" width="16.4" height="22.1" fill="#ff00ff" stroke="#000" stroke-width="1.2"/>
<line x1="152.5" y1="562.3" x2="168.9" y2="562.3" stroke="#000" stroke-width="1.2"/>
<circle cx="160.7" cy="543.8" r="1.9" fill="#000" stroke="none" stroke-width="1"/>
<circle cx="160.7" cy="553" r="1.9" fill="#000" stroke="none" stroke-width="1"/>
<circle cx="160.7" cy="559" r="1.9" fill="#000" stroke="none" stroke-width="1"/>
<circle cx="160.7" cy="572.9" r="1.9" fill="#000" stroke="none" stroke-width="1"/>
<line x1="160.7" y1="630" x2="160.7" y2="633.5" stroke="#000" stroke-width="1.2"/>
<line x1="186.6" y1="516.8" x2="186.6" y2="525.5" stroke="#000" stroke-width="1.2"/>
<line x1="186.6" y1="570.4" x2="186.6" y2="581.6" stroke="#000" stroke-width="1.2"/>
<line x1="181.9" y1="516.8" x2="191.4" y2="516.8" stroke="#000" stroke-width="1.2"/>
<line x1="181.9" y1="581.6" x2="191.4" y2="581.6" stroke="#000" stroke-width="1.2"/>
<rect x="178.4" y="525.5" width="16.4" height="44.9" fill="#800080" stroke="#000" stroke-width="1.2"/>
<line x1="178.4" y1="543.1" x2="194.8" y2="543.1" stroke="#000" stroke-width="1.2"/>
<circle cx="186.6" cy="516.8" r="1.9" fill="#000" stroke="none" stroke-width="1"/>
<circle cx="186.6" cy="530" r="1.9" fill="#000" stroke="none" stroke-width="1"/>
<circle cx="186.6" cy="543.1" r="1.9" fill="#000" stroke="none" stroke-width="1"/>
<circle cx="186.6" cy="562" r="1.9" fill="#000" stroke="none" stroke-width="1"/>
<circle cx="186.6" cy="581.6" r="1.9" fill="#000" stroke="none" stroke-width="1"/>
<line x1="186.6" y1="630" x2="186.6" y2="633.5" stroke="#000" stroke-width="1.2"/>
<line x1="212.5" y1="571.1" x2="212.5" y2="577.4" stroke="#000" stroke-width="1.2"/>
<line x1="212.5" y1="616.6" x2="212.5" y2="617.3" stroke="#000" stroke-width="1.2"/>
<line x1="207.7" y1="571.1" x2="217.2" y2="571.1" stroke="#000" stroke-width="1.2"/>
<line x1="207.7" y1="617.3" x2="217.2" y2="617.3" stroke="#000" stroke-width="1.2"/>
<rect x="204.3" y="577.4" width="16.4" height="39.2" fill="#ff8000" stroke="#000" stroke-width="1.2"/>
<line x1="204.3" y1="609.6" x2="220.7" y2="609.6" stroke="#000" stroke-width="1.2"/>
<circle cx="212.5" cy="571.1" r="1.9" fill="#000" stroke="none" stroke-width="1"/>
<circle cx="212.5" cy="583" r="1.9" fill="#000" stroke="none" stroke-width="1"/>
<circle cx="212.5" cy="609.6" r="1.9" fill="#000" stroke="none" stroke-width="1"/>
<circle cx="208.5" cy="616.6" r="1.9" fill="#000" stroke="none" stroke-width="1"/>
<circle cx="216.5" cy="616.6" r="1.9" fill="#000" stroke="none" stroke-width="1"/>
<line x1="212.5" y1="630" x2="212.5" y2="633.5" stroke="#000" stroke-width="1.2"/>
<text x="83.4" y="513.5" font-size="7.9" text-anchor="middle" font-weight="bold" fill="#000">NS</text>
<text x="112.6" y="513.5" font-size="7.9" text-anchor="middle" font-weight="bold" fill="#000">NS</text>
<text x="134.9" y="513.5" font-size="7.9" text-anchor="middle" font-weight="bold" fill="#000">NS</text>
<text x="158.8" y="515.9" font-size="11.2" text-anchor="middle" font-weight="bold" fill="#000">***</text>
<text x="187.4" y="515.9" font-size="11.2" text-anchor="middle" font-weight="bold" fill="#000">**</text>
<text x="209" y="513.5" font-size="7.9" text-anchor="middle" font-weight="bold" fill="#000">NS</text>
<text transform="translate(58.8,639.1) rotate(-45)" font-size="8" font-weight="bold" text-anchor="end">SAL</text>
<text transform="translate(84.7,639.1) rotate(-45)" font-size="8" font-weight="bold" text-anchor="end">pre-F</text>
<text transform="translate(110.5,639.1) rotate(-45)" font-size="8" font-weight="bold" text-anchor="end">DDA052</text>
<text transform="translate(136.4,639.1) rotate(-45)" font-size="8" font-weight="bold" text-anchor="end">CAF01</text>
<text transform="translate(162.2,639.1) rotate(-45)" font-size="8" font-weight="bold" text-anchor="end">CAF08 low</text>
<text transform="translate(188.1,639.1) rotate(-45)" font-size="8" font-weight="bold" text-anchor="end">CAF08 high</text>
<text transform="translate(214,639.1) rotate(-45)" font-size="8" font-weight="bold" text-anchor="end">ADVX</text>
<line x1="264" y1="486.4" x2="264" y2="631" stroke="#000" stroke-width="1.3"/>
<line x1="260.5" y1="630.5" x2="264" y2="630.5" stroke="#000" stroke-width="1.3"/>
<text x="260.5" y="633.2" font-size="7.6" text-anchor="end" font-weight="bold" fill="#000">0</text>
<line x1="260.5" y1="594.6" x2="264" y2="594.6" stroke="#000" stroke-width="1.3"/>
<text x="260.5" y="597.3" font-size="7.6" text-anchor="end" font-weight="bold" fill="#000">20</text>
<line x1="260.5" y1="558.7" x2="264" y2="558.7" stroke="#000" stroke-width="1.3"/>
<text x="260.5" y="561.4" font-size="7.6" text-anchor="end" font-weight="bold" fill="#000">40</text>
<line x1="260.5" y1="522.8" x2="264" y2="522.8" stroke="#000" stroke-width="1.3"/>
<text x="260.5" y="525.5" font-size="7.6" text-anchor="end" font-weight="bold" fill="#000">60</text>
<line x1="260.5" y1="486.9" x2="264" y2="486.9" stroke="#000" stroke-width="1.3"/>
<text x="260.5" y="489.6" font-size="7.6" text-anchor="end" font-weight="bold" fill="#000">80</text>
<line x1="263.4" y1="630.5" x2="453.6" y2="630.5" stroke="#000" stroke-width="1.3"/>
<text transform="translate(239.4,558.5) rotate(-90)" font-size="8.3" font-weight="bold" text-anchor="middle">GATA3+ (% of tetramer+)</text>
<rect x="264" y="488.2" width="25.3" height="17.5" fill="#fff" stroke="#000" stroke-width="1.4"/>
<text x="276.8" y="500.9" font-size="12" text-anchor="middle" font-weight="bold" fill="#000">Th2</text>
<line x1="280" y1="617.4" x2="280" y2="617.4" stroke="#000" stroke-width="1.2"/>
<line x1="280" y1="627.2" x2="280" y2="630.5" stroke="#000" stroke-width="1.2"/>
<line x1="275.2" y1="617.4" x2="284.8" y2="617.4" stroke="#000" stroke-width="1.2"/>
<line x1="275.2" y1="630.5" x2="284.8" y2="630.5" stroke="#000" stroke-width="1.2"/>
<rect x="271.8" y="617.4" width="16.4" height="9.8" fill="#999999" stroke="#000" stroke-width="1.2"/>
<line x1="271.8" y1="618.5" x2="288.2" y2="618.5" stroke="#000" stroke-width="1.2"/>
<circle cx="276" cy="617.4" r="1.9" fill="#000" stroke="none" stroke-width="1"/>
<circle cx="280" cy="618.5" r="1.9" fill="#000" stroke="none" stroke-width="1"/>
<circle cx="284" cy="617.4" r="1.9" fill="#000" stroke="none" stroke-width="1"/>
<circle cx="280" cy="630.5" r="1.9" fill="#000" stroke="none" stroke-width="1"/>
<line x1="280" y1="630.5" x2="280" y2="634" stroke="#000" stroke-width="1.2"/>
<line x1="306.2" y1="564.8" x2="306.2" y2="571.1" stroke="#000" stroke-width="1.2"/>
<line x1="306.2" y1="609.6" x2="306.2" y2="611.4" stroke="#000" stroke-width="1.2"/>
<line x1="301.4" y1="564.8" x2="310.9" y2="564.8" stroke="#000" stroke-width="1.2"/>
<line x1="301.4" y1="611.4" x2="310.9" y2="611.4" stroke="#000" stroke-width="1.2"/>
<rect x="298" y="571.1" width="16.4" height="38.5" fill="#00ff00" stroke="#000" stroke-width="1.2"/>
<line x1="298" y1="603.3" x2="314.4" y2="603.3" stroke="#000" stroke-width="1.2"/>
<circle cx="306.2" cy="564.8" r="1.9" fill="#000" stroke="none" stroke-width="1"/>
<circle cx="306.2" cy="575" r="1.9" fill="#000" stroke="none" stroke-width="1"/>
<circle cx="306.2" cy="603.3" r="1.9" fill="#000" stroke="none" stroke-width="1"/>
<circle cx="302.2" cy="611" r="1.9" fill="#000" stroke="none" stroke-width="1"/>
<circle cx="310.2" cy="611" r="1.9" fill="#000" stroke="none" stroke-width="1"/>
<line x1="306.2" y1="630.5" x2="306.2" y2="634" stroke="#000" stroke-width="1.2"/>
<line x1="332.4" y1="548.3" x2="332.4" y2="557.1" stroke="#000" stroke-width="1.2"/>
<line x1="332.4" y1="609.6" x2="332.4" y2="614.9" stroke="#000" stroke-width="1.2"/>
<line x1="327.6" y1="548.3" x2="337.1" y2="548.3" stroke="#000" stroke-width="1.2"/>
<line x1="327.6" y1="614.9" x2="337.1" y2="614.9" stroke="#000" stroke-width="1.2"/>
<rect x="324.2" y="557.1" width="16.4" height="52.5" fill="#ff0000" stroke="#000" stroke-width="1.2"/>
<line x1="324.2" y1="603.3" x2="340.6" y2="603.3" stroke="#000" stroke-width="1.2"/>
<circle cx="332.4" cy="548.3" r="1.9" fill="#000" stroke="none" stroke-width="1"/>
<circle cx="332.4" cy="564" r="1.9" fill="#000" stroke="none" stroke-width="1"/>
<circle cx="336.4" cy="603.3" r="1.9" fill="#000" stroke="none" stroke-width="1"/>
<circle cx="332.4" cy="614.9" r="1.9" fill="#000" stroke="none" stroke-width="1"/>
<line x1="332.4" y1="630.5" x2="332.4" y2="634" stroke="#000" stroke-width="1.2"/>
<line x1="358.6" y1="575.7" x2="358.6" y2="586.9" stroke="#000" stroke-width="1.2"/>
<line x1="358.6" y1="606.8" x2="358.6" y2="610.3" stroke="#000" stroke-width="1.2"/>
<line x1="353.9" y1="575.7" x2="363.4" y2="575.7" stroke="#000" stroke-width="1.2"/>
<line x1="353.9" y1="610.3" x2="363.4" y2="610.3" stroke="#000" stroke-width="1.2"/>
<rect x="350.4" y="586.9" width="16.4" height="19.9" fill="#0000ff" stroke="#000" stroke-width="1.2"/>
<line x1="350.4" y1="604.4" x2="366.8" y2="604.4" stroke="#000" stroke-width="1.2"/>
<circle cx="358.6" cy="575.7" r="1.9" fill="#000" stroke="none" stroke-width="1"/>
<circle cx="358.6" cy="596" r="1.9" fill="#000" stroke="none" stroke-width="1"/>
<circle cx="354.6" cy="604.4" r="1.9" fill="#000" stroke="none" stroke-width="1"/>
<circle cx="362.6" cy="604.4" r="1.9" fill="#000" stroke="none" stroke-width="1"/>
<circle cx="358.6" cy="610.3" r="1.9" fill="#000" stroke="none" stroke-width="1"/>
<line x1="358.6" y1="630.5" x2="358.6" y2="634" stroke="#000" stroke-width="1.2"/>
<line x1="384.8" y1="564.1" x2="384.8" y2="572.2" stroke="#000" stroke-width="1.2"/>
<line x1="384.8" y1="605.1" x2="384.8" y2="609.6" stroke="#000" stroke-width="1.2"/>
<line x1="380.1" y1="564.1" x2="389.6" y2="564.1" stroke="#000" stroke-width="1.2"/>
<line x1="380.1" y1="609.6" x2="389.6" y2="609.6" stroke="#000" stroke-width="1.2"/>
<rect x="376.6" y="572.2" width="16.4" height="32.9" fill="#ff00ff" stroke="#000" stroke-width="1.2"/>
<line x1="376.6" y1="594.6" x2="393" y2="594.6" stroke="#000" stroke-width="1.2"/>
<circle cx="384.8" cy="564.1" r="1.9" fill="#000" stroke="none" stroke-width="1"/>
<circle cx="380.8" cy="594.6" r="1.9" fill="#000" stroke="none" stroke-width="1"/>
<circle cx="388.8" cy="594.6" r="1.9" fill="#000" stroke="none" stroke-width="1"/>
<circle cx="384.8" cy="609.6" r="1.9" fill="#000" stroke="none" stroke-width="1"/>
<line x1="384.8" y1="630.5" x2="384.8" y2="634" stroke="#000" stroke-width="1.2"/>
<line x1="411" y1="595.6" x2="411" y2="598.4" stroke="#000" stroke-width="1.2"/>
<line x1="411" y1="610.7" x2="411" y2="612.4" stroke="#000" stroke-width="1.2"/>
<line x1="406.2" y1="595.6" x2="415.8" y2="595.6" stroke="#000" stroke-width="1.2"/>
<line x1="406.2" y1="612.4" x2="415.8" y2="612.4" stroke="#000" stroke-width="1.2"/>
<rect x="402.8" y="598.4" width="16.4" height="12.3" fill="#800080" stroke="#000" stroke-width="1.2"/>
<line x1="402.8" y1="602.6" x2="419.2" y2="602.6" stroke="#000" stroke-width="1.2"/>
<circle cx="415" cy="596" r="1.9" fill="#000" stroke="none" stroke-width="1"/>
<circle cx="408" cy="602.6" r="1.9" fill="#000" stroke="none" stroke-width="1"/>
<circle cx="415" cy="602.6" r="1.9" fill="#000" stroke="none" stroke-width="1"/>
<circle cx="407" cy="611" r="1.9" fill="#000" stroke="none" stroke-width="1"/>
<circle cx="415" cy="612" r="1.9" fill="#000" stroke="none" stroke-width="1"/>
<line x1="411" y1="630.5" x2="411" y2="634" stroke="#000" stroke-width="1.2"/>
<line x1="437.2" y1="523.1" x2="437.2" y2="545.5" stroke="#000" stroke-width="1.2"/>
<line x1="437.2" y1="589.7" x2="437.2" y2="589.7" stroke="#000" stroke-width="1.2"/>
<line x1="432.4" y1="523.1" x2="441.9" y2="523.1" stroke="#000" stroke-width="1.2"/>
<line x1="432.4" y1="589.7" x2="441.9" y2="589.7" stroke="#000" stroke-width="1.2"/>
<rect x="429" y="545.5" width="16.4" height="44.2" fill="#ff8000" stroke="#000" stroke-width="1.2"/>
<line x1="429" y1="567.6" x2="445.4" y2="567.6" stroke="#000" stroke-width="1.2"/>
<circle cx="437.2" cy="523.1" r="1.9" fill="#000" stroke="none" stroke-width="1"/>
<circle cx="433.2" cy="567.6" r="1.9" fill="#000" stroke="none" stroke-width="1"/>
<circle cx="441.2" cy="567.6" r="1.9" fill="#000" stroke="none" stroke-width="1"/>
<circle cx="433.2" cy="589.7" r="1.9" fill="#000" stroke="none" stroke-width="1"/>
<circle cx="441.2" cy="589.7" r="1.9" fill="#000" stroke="none" stroke-width="1"/>
<line x1="437.2" y1="630.5" x2="437.2" y2="634" stroke="#000" stroke-width="1.2"/>
<text x="307.2" y="522.2" font-size="11" text-anchor="middle" font-weight="bold" fill="#000">*</text>
<text x="333.2" y="520.9" font-size="7.9" text-anchor="middle" font-weight="bold" fill="#000">NS</text>
<text x="359.3" y="522.2" font-size="11" text-anchor="middle" font-weight="bold" fill="#000">*</text>
<text x="385.5" y="522.2" font-size="11" text-anchor="middle" font-weight="bold" fill="#000">*</text>
<text x="411.2" y="522.2" font-size="11" text-anchor="middle" font-weight="bold" fill="#000">*</text>
<text x="437.2" y="522.2" font-size="11" text-anchor="middle" font-weight="bold" fill="#000">**</text>
<text transform="translate(281.5,639.6) rotate(-45)" font-size="8" font-weight="bold" text-anchor="end">SAL</text>
<text transform="translate(307.7,639.6) rotate(-45)" font-size="8" font-weight="bold" text-anchor="end">pre-F</text>
<text transform="translate(333.9,639.6) rotate(-45)" font-size="8" font-weight="bold" text-anchor="end">DDA052</text>
<text transform="translate(360.1,639.6) rotate(-45)" font-size="8" font-weight="bold" text-anchor="end">CAF01</text>
<text transform="translate(386.3,639.6) rotate(-45)" font-size="8" font-weight="bold" text-anchor="end">CAF08 low</text>
<text transform="translate(412.5,639.6) rotate(-45)" font-size="8" font-weight="bold" text-anchor="end">CAF08 high</text>
<text transform="translate(438.7,639.6) rotate(-45)" font-size="8" font-weight="bold" text-anchor="end">ADVX</text>
<line x1="495.3" y1="486.8" x2="495.3" y2="630" stroke="#000" stroke-width="1.3"/>
<line x1="491.8" y1="629.6" x2="495.3" y2="629.6" stroke="#000" stroke-width="1.3"/>
<text x="491.8" y="632.3" font-size="7.6" text-anchor="end" font-weight="bold" fill="#000">0.0</text>
<line x1="491.8" y1="601.1" x2="495.3" y2="601.1" stroke="#000" stroke-width="1.3"/>
<text x="491.8" y="603.9" font-size="7.6" text-anchor="end" font-weight="bold" fill="#000">0.2</text>
<line x1="491.8" y1="572.7" x2="495.3" y2="572.7" stroke="#000" stroke-width="1.3"/>
<text x="491.8" y="575.4" font-size="7.6" text-anchor="end" font-weight="bold" fill="#000">0.4</text>
<line x1="491.8" y1="544.2" x2="495.3" y2="544.2" stroke="#000" stroke-width="1.3"/>
<text x="491.8" y="547" font-size="7.6" text-anchor="end" font-weight="bold" fill="#000">0.6</text>
<line x1="491.8" y1="515.8" x2="495.3" y2="515.8" stroke="#000" stroke-width="1.3"/>
<text x="491.8" y="518.5" font-size="7.6" text-anchor="end" font-weight="bold" fill="#000">0.8</text>
<line x1="491.8" y1="487.4" x2="495.3" y2="487.4" stroke="#000" stroke-width="1.3"/>
<text x="491.8" y="490.1" font-size="7.6" text-anchor="end" font-weight="bold" fill="#000">1.0</text>
<line x1="494.7" y1="629.6" x2="685" y2="629.6" stroke="#000" stroke-width="1.3"/>
<text transform="translate(467.1,555.5) rotate(-90)" font-size="8.4" font-weight="bold" text-anchor="middle">T-bet+/GATA3+ (% of tetramer+)</text>
<rect x="495.3" y="486.8" width="52.3" height="17.3" fill="#fff" stroke="#000" stroke-width="1.4"/>
<text x="521.3" y="499.7" font-size="11.6" text-anchor="middle" font-weight="bold" fill="#000">Th1/Th2</text>
<line x1="512.6" y1="578.4" x2="512.6" y2="583.1" stroke="#000" stroke-width="1.2"/>
<line x1="512.6" y1="621.7" x2="512.6" y2="629.5" stroke="#000" stroke-width="1.2"/>
<line x1="507.9" y1="578.4" x2="517.4" y2="578.4" stroke="#000" stroke-width="1.2"/>
<line x1="507.9" y1="629.5" x2="517.4" y2="629.5" stroke="#000" stroke-width="1.2"/>
<rect x="504.4" y="583.1" width="16.4" height="38.6" fill="#999999" stroke="#000" stroke-width="1.2"/>
<line x1="504.4" y1="594.9" x2="520.8" y2="594.9" stroke="#000" stroke-width="1.2"/>
<circle cx="512.6" cy="578.4" r="1.9" fill="#000" stroke="none" stroke-width="1"/>
<circle cx="512.6" cy="591" r="1.9" fill="#000" stroke="none" stroke-width="1"/>
<circle cx="512.6" cy="600" r="1.9" fill="#000" stroke="none" stroke-width="1"/>
<circle cx="512.6" cy="629.5" r="1.9" fill="#000" stroke="none" stroke-width="1"/>
<line x1="512.6" y1="629.6" x2="512.6" y2="633" stroke="#000" stroke-width="1.2"/>
<line x1="538.5" y1="606.6" x2="538.5" y2="610" stroke="#000" stroke-width="1.2"/>
<line x1="538.5" y1="620.4" x2="538.5" y2="623.8" stroke="#000" stroke-width="1.2"/>
<line x1="533.7" y1="606.6" x2="543.2" y2="606.6" stroke="#000" stroke-width="1.2"/>
<line x1="533.7" y1="623.8" x2="543.2" y2="623.8" stroke="#000" stroke-width="1.2"/>
<rect x="530.2" y="610" width="16.4" height="10.4" fill="#00ff00" stroke="#000" stroke-width="1.2"/>
<line x1="530.2" y1="612" x2="546.7" y2="612" stroke="#000" stroke-width="1.2"/>
<circle cx="534.5" cy="608" r="1.9" fill="#000" stroke="none" stroke-width="1"/>
<circle cx="542.5" cy="610.5" r="1.9" fill="#000" stroke="none" stroke-width="1"/>
<circle cx="538.5" cy="616" r="1.9" fill="#000" stroke="none" stroke-width="1"/>
<circle cx="534.5" cy="620.4" r="1.9" fill="#000" stroke="none" stroke-width="1"/>
<circle cx="538.5" cy="623.8" r="1.9" fill="#000" stroke="none" stroke-width="1"/>
<line x1="538.5" y1="629.6" x2="538.5" y2="633" stroke="#000" stroke-width="1.2"/>
<line x1="564.3" y1="585.1" x2="564.3" y2="594.2" stroke="#000" stroke-width="1.2"/>
<line x1="564.3" y1="624.4" x2="564.3" y2="627.8" stroke="#000" stroke-width="1.2"/>
<line x1="559.6" y1="585.1" x2="569.1" y2="585.1" stroke="#000" stroke-width="1.2"/>
<line x1="559.6" y1="627.8" x2="569.1" y2="627.8" stroke="#000" stroke-width="1.2"/>
<rect x="556.1" y="594.2" width="16.4" height="30.2" fill="#ff0000" stroke="#000" stroke-width="1.2"/>
<line x1="556.1" y1="609.3" x2="572.5" y2="609.3" stroke="#000" stroke-width="1.2"/>
<circle cx="564.3" cy="585.1" r="1.9" fill="#000" stroke="none" stroke-width="1"/>
<circle cx="564.3" cy="600.5" r="1.9" fill="#000" stroke="none" stroke-width="1"/>
<circle cx="564.3" cy="618" r="1.9" fill="#000" stroke="none" stroke-width="1"/>
<circle cx="564.3" cy="627.8" r="1.9" fill="#000" stroke="none" stroke-width="1"/>
<line x1="564.3" y1="629.6" x2="564.3" y2="633" stroke="#000" stroke-width="1.2"/>
<line x1="590.2" y1="572.4" x2="590.2" y2="583.5" stroke="#000" stroke-width="1.2"/>
<line x1="590.2" y1="615.4" x2="590.2" y2="619.4" stroke="#000" stroke-width="1.2"/>
<line x1="585.4" y1="572.4" x2="594.9" y2="572.4" stroke="#000" stroke-width="1.2"/>
<line x1="585.4" y1="619.4" x2="594.9" y2="619.4" stroke="#000" stroke-width="1.2"/>
<rect x="582" y="583.5" width="16.4" height="31.9" fill="#0000ff" stroke="#000" stroke-width="1.2"/>
<line x1="582" y1="600.3" x2="598.4" y2="600.3" stroke="#000" stroke-width="1.2"/>
<circle cx="590.2" cy="572.4" r="1.9" fill="#000" stroke="none" stroke-width="1"/>
<circle cx="590.2" cy="592" r="1.9" fill="#000" stroke="none" stroke-width="1"/>
<circle cx="590.2" cy="600.3" r="1.9" fill="#000" stroke="none" stroke-width="1"/>
<circle cx="590.2" cy="610" r="1.9" fill="#000" stroke="none" stroke-width="1"/>
<circle cx="590.2" cy="619.4" r="1.9" fill="#000" stroke="none" stroke-width="1"/>
<line x1="590.2" y1="629.6" x2="590.2" y2="633" stroke="#000" stroke-width="1.2"/>
<line x1="616" y1="548.2" x2="616" y2="551.6" stroke="#000" stroke-width="1.2"/>
<line x1="616" y1="589.2" x2="616" y2="595.2" stroke="#000" stroke-width="1.2"/>
<line x1="611.2" y1="548.2" x2="620.8" y2="548.2" stroke="#000" stroke-width="1.2"/>
<line x1="611.2" y1="595.2" x2="620.8" y2="595.2" stroke="#000" stroke-width="1.2"/>
<rect x="607.8" y="551.6" width="16.4" height="37.6" fill="#ff00ff" stroke="#000" stroke-width="1.2"/>
<line x1="607.8" y1="564" x2="624.2" y2="564" stroke="#000" stroke-width="1.2"/>
<circle cx="616" cy="548.2" r="1.9" fill="#000" stroke="none" stroke-width="1"/>
<circle cx="616" cy="554" r="1.9" fill="#000" stroke="none" stroke-width="1"/>
<circle cx="616" cy="572" r="1.9" fill="#000" stroke="none" stroke-width="1"/>
<circle cx="616" cy="595.2" r="1.9" fill="#000" stroke="none" stroke-width="1"/>
<line x1="616" y1="629.6" x2="616" y2="633" stroke="#000" stroke-width="1.2"/>
<line x1="641.9" y1="515.3" x2="641.9" y2="519.7" stroke="#000" stroke-width="1.2"/>
<line x1="641.9" y1="566.7" x2="641.9" y2="575.7" stroke="#000" stroke-width="1.2"/>
<line x1="637.1" y1="515.3" x2="646.6" y2="515.3" stroke="#000" stroke-width="1.2"/>
<line x1="637.1" y1="575.7" x2="646.6" y2="575.7" stroke="#000" stroke-width="1.2"/>
<rect x="633.6" y="519.7" width="16.4" height="47" fill="#800080" stroke="#000" stroke-width="1.2"/>
<line x1="633.6" y1="546.2" x2="650.1" y2="546.2" stroke="#000" stroke-width="1.2"/>
<circle cx="641.9" cy="515.3" r="1.9" fill="#000" stroke="none" stroke-width="1"/>
<circle cx="641.9" cy="520" r="1.9" fill="#000" stroke="none" stroke-width="1"/>
<circle cx="641.9" cy="546.2" r="1.9" fill="#000" stroke="none" stroke-width="1"/>
<circle cx="641.9" cy="560" r="1.9" fill="#000" stroke="none" stroke-width="1"/>
<circle cx="641.9" cy="575.7" r="1.9" fill="#000" stroke="none" stroke-width="1"/>
<line x1="641.9" y1="629.6" x2="641.9" y2="633" stroke="#000" stroke-width="1.2"/>
<line x1="667.7" y1="591.5" x2="667.7" y2="601.6" stroke="#000" stroke-width="1.2"/>
<line x1="667.7" y1="624.4" x2="667.7" y2="625" stroke="#000" stroke-width="1.2"/>
<line x1="663" y1="591.5" x2="672.5" y2="591.5" stroke="#000" stroke-width="1.2"/>
<line x1="663" y1="625" x2="672.5" y2="625" stroke="#000" stroke-width="1.2"/>
<rect x="659.5" y="601.6" width="16.4" height="22.8" fill="#ff8000" stroke="#000" stroke-width="1.2"/>
<line x1="659.5" y1="621.7" x2="675.9" y2="621.7" stroke="#000" stroke-width="1.2"/>
<circle cx="667.7" cy="591.5" r="1.9" fill="#000" stroke="none" stroke-width="1"/>
<circle cx="667.7" cy="609" r="1.9" fill="#000" stroke="none" stroke-width="1"/>
<circle cx="663.7" cy="623.5" r="1.9" fill="#000" stroke="none" stroke-width="1"/>
<circle cx="671.7" cy="623.5" r="1.9" fill="#000" stroke="none" stroke-width="1"/>
<line x1="667.7" y1="629.6" x2="667.7" y2="633" stroke="#000" stroke-width="1.2"/>
<text x="540" y="510.9" font-size="7.9" text-anchor="middle" font-weight="bold" fill="#000">NS</text>
<text x="564.2" y="509.7" font-size="7.9" text-anchor="middle" font-weight="bold" fill="#000">NS</text>
<text x="589.9" y="509.7" font-size="7.9" text-anchor="middle" font-weight="bold" fill="#000">NS</text>
<text x="615.6" y="509.7" font-size="7.9" text-anchor="middle" font-weight="bold" fill="#000">NS</text>
<text x="642.2" y="512.2" font-size="11" text-anchor="middle" font-weight="bold" fill="#000">**</text>
<text x="667.7" y="509.7" font-size="7.9" text-anchor="middle" font-weight="bold" fill="#000">NS</text>
<text transform="translate(514.1,638.7) rotate(-45)" font-size="8" font-weight="bold" text-anchor="end">SAL</text>
<text transform="translate(540,638.7) rotate(-45)" font-size="8" font-weight="bold" text-anchor="end">pre-F</text>
<text transform="translate(565.8,638.7) rotate(-45)" font-size="8" font-weight="bold" text-anchor="end">DDA052</text>
<text transform="translate(591.7,638.7) rotate(-45)" font-size="8" font-weight="bold" text-anchor="end">CAF01</text>
<text transform="translate(617.5,638.7) rotate(-45)" font-size="8" font-weight="bold" text-anchor="end">CAF08 low</text>
<text transform="translate(643.4,638.7) rotate(-45)" font-size="8" font-weight="bold" text-anchor="end">CAF08 high</text>
<text transform="translate(669.2,638.7) rotate(-45)" font-size="8" font-weight="bold" text-anchor="end">ADVX</text>
<text x="0" y="685.6" font-size="31" text-anchor="start" font-weight="bold" fill="#000">d</text>
<line x1="38.3" y1="663.2" x2="38.3" y2="792.2" stroke="#000" stroke-width="1.3"/>
<line x1="35.3" y1="791.7" x2="38.3" y2="791.7" stroke="#000" stroke-width="1.3"/>
<text x="35" y="794.4" font-size="7.6" text-anchor="end" font-weight="bold" fill="#000">0</text>
<line x1="35.3" y1="759.7" x2="38.3" y2="759.7" stroke="#000" stroke-width="1.3"/>
<text x="35" y="762.5" font-size="7.6" text-anchor="end" font-weight="bold" fill="#000">1</text>
<line x1="35.3" y1="727.8" x2="38.3" y2="727.8" stroke="#000" stroke-width="1.3"/>
<text x="35" y="730.5" font-size="7.6" text-anchor="end" font-weight="bold" fill="#000">2</text>
<line x1="35.3" y1="695.8" x2="38.3" y2="695.8" stroke="#000" stroke-width="1.3"/>
<text x="35" y="698.5" font-size="7.6" text-anchor="end" font-weight="bold" fill="#000">3</text>
<line x1="35.3" y1="663.8" x2="38.3" y2="663.8" stroke="#000" stroke-width="1.3"/>
<text x="35" y="666.6" font-size="7.6" text-anchor="end" font-weight="bold" fill="#000">4</text>
<line x1="37.7" y1="791.6" x2="238" y2="791.6" stroke="#000" stroke-width="1.3"/>
<text transform="translate(16.4,727.8) rotate(-90)" font-size="8.3" font-weight="bold" text-anchor="middle">Cytokine<tspan dy="-3" font-size="5.5">+</tspan></text>
<text transform="translate(24.9,726.7) rotate(-90)" font-size="8.2" font-weight="bold" text-anchor="middle">(% of CD4+CD44+)</text>
<rect x="38.5" y="663.8" width="27.1" height="17.5" fill="#fff" stroke="#000" stroke-width="1.4"/>
<text x="52" y="676.6" font-size="12" text-anchor="middle" font-weight="bold" fill="#000">CD4</text>
<line x1="56.4" y1="778.3" x2="56.4" y2="781.1" stroke="#000" stroke-width="1.2"/>
<line x1="56.4" y1="791.7" x2="56.4" y2="791.7" stroke="#000" stroke-width="1.2"/>
<line x1="51.6" y1="778.3" x2="61.1" y2="778.3" stroke="#000" stroke-width="1.2"/>
<line x1="51.6" y1="791.7" x2="61.1" y2="791.7" stroke="#000" stroke-width="1.2"/>
<rect x="47.7" y="781.1" width="17.4" height="10.6" fill="#999999" stroke="#000" stroke-width="1.2"/>
<line x1="47.7" y1="791.3" x2="65.1" y2="791.3" stroke="#000" stroke-width="1.2"/>
<circle cx="53.4" cy="778.3" r="1.9" fill="#000" stroke="none" stroke-width="1"/>
<circle cx="59.4" cy="779.5" r="1.9" fill="#000" stroke="none" stroke-width="1"/>
<circle cx="52.4" cy="788" r="1.9" fill="#000" stroke="none" stroke-width="1"/>
<circle cx="50.4" cy="791.7" r="1.9" fill="#000" stroke="none" stroke-width="1"/>
<circle cx="56.4" cy="791.7" r="1.9" fill="#000" stroke="none" stroke-width="1"/>
<circle cx="62.4" cy="791.7" r="1.9" fill="#000" stroke="none" stroke-width="1"/>
<line x1="56.4" y1="791.6" x2="56.4" y2="795" stroke="#000" stroke-width="1.2"/>
<line x1="83.7" y1="754.9" x2="83.7" y2="764.3" stroke="#000" stroke-width="1.2"/>
<line x1="83.7" y1="779.4" x2="83.7" y2="791.7" stroke="#000" stroke-width="1.2"/>
<line x1="78.9" y1="754.9" x2="88.4" y2="754.9" stroke="#000" stroke-width="1.2"/>
<line x1="78.9" y1="791.7" x2="88.4" y2="791.7" stroke="#000" stroke-width="1.2"/>
<rect x="75" y="764.3" width="17.4" height="15.1" fill="#00ff00" stroke="#000" stroke-width="1.2"/>
<line x1="75" y1="770.6" x2="92.4" y2="770.6" stroke="#000" stroke-width="1.2"/>
<circle cx="83.7" cy="754.9" r="1.9" fill="#000" stroke="none" stroke-width="1"/>
<circle cx="79.7" cy="766" r="1.9" fill="#000" stroke="none" stroke-width="1"/>
<circle cx="87.7" cy="767" r="1.9" fill="#000" stroke="none" stroke-width="1"/>
<circle cx="83.7" cy="772" r="1.9" fill="#000" stroke="none" stroke-width="1"/>
<circle cx="87.7" cy="776" r="1.9" fill="#000" stroke="none" stroke-width="1"/>
<circle cx="83.7" cy="791.7" r="1.9" fill="#000" stroke="none" stroke-width="1"/>
<line x1="83.7" y1="791.6" x2="83.7" y2="795" stroke="#000" stroke-width="1.2"/>
<line x1="110.9" y1="749.6" x2="110.9" y2="760.8" stroke="#000" stroke-width="1.2"/>
<line x1="110.9" y1="791.7" x2="110.9" y2="791.7" stroke="#000" stroke-width="1.2"/>
<line x1="106.2" y1="749.6" x2="115.7" y2="749.6" stroke="#000" stroke-width="1.2"/>
<line x1="106.2" y1="791.7" x2="115.7" y2="791.7" stroke="#000" stroke-width="1.2"/>
<rect x="102.2" y="760.8" width="17.4" height="30.9" fill="#ff0000" stroke="#000" stroke-width="1.2"/>
<line x1="102.2" y1="768.9" x2="119.6" y2="768.9" stroke="#000" stroke-width="1.2"/>
<circle cx="110.9" cy="749.6" r="1.9" fill="#000" stroke="none" stroke-width="1"/>
<circle cx="106.9" cy="763" r="1.9" fill="#000" stroke="none" stroke-width="1"/>
<circle cx="114.9" cy="763" r="1.9" fill="#000" stroke="none" stroke-width="1"/>
<circle cx="110.9" cy="771" r="1.9" fill="#000" stroke="none" stroke-width="1"/>
<circle cx="106.9" cy="791.7" r="1.9" fill="#000" stroke="none" stroke-width="1"/>
<circle cx="114.9" cy="791.7" r="1.9" fill="#000" stroke="none" stroke-width="1"/>
<line x1="110.9" y1="791.6" x2="110.9" y2="795" stroke="#000" stroke-width="1.2"/>
<line x1="138.2" y1="713.9" x2="138.2" y2="748.9" stroke="#000" stroke-width="1.2"/>
<line x1="138.2" y1="791.7" x2="138.2" y2="791.7" stroke="#000" stroke-width="1.2"/>
<line x1="133.5" y1="713.9" x2="143" y2="713.9" stroke="#000" stroke-width="1.2"/>
<line x1="133.5" y1="791.7" x2="143" y2="791.7" stroke="#000" stroke-width="1.2"/>
<rect x="129.5" y="748.9" width="17.4" height="42.8" fill="#0000ff" stroke="#000" stroke-width="1.2"/>
<line x1="129.5" y1="768.9" x2="146.9" y2="768.9" stroke="#000" stroke-width="1.2"/>
<circle cx="138.2" cy="713.9" r="1.9" fill="#000" stroke="none" stroke-width="1"/>
<circle cx="138.2" cy="753" r="1.9" fill="#000" stroke="none" stroke-width="1"/>
<circle cx="138.2" cy="768.9" r="1.9" fill="#000" stroke="none" stroke-width="1"/>
<circle cx="132.2" cy="791.7" r="1.9" fill="#000" stroke="none" stroke-width="1"/>
<circle cx="138.2" cy="791.7" r="1.9" fill="#000" stroke="none" stroke-width="1"/>
<circle cx="144.2" cy="791.7" r="1.9" fill="#000" stroke="none" stroke-width="1"/>
<line x1="138.2" y1="791.6" x2="138.2" y2="795" stroke="#000" stroke-width="1.2"/>
<line x1="165.5" y1="708.6" x2="165.5" y2="712.1" stroke="#000" stroke-width="1.2"/>
<line x1="165.5" y1="781.8" x2="165.5" y2="791.7" stroke="#000" stroke-width="1.2"/>
<line x1="160.7" y1="708.6" x2="170.2" y2="708.6" stroke="#000" stroke-width="1.2"/>
<line x1="160.7" y1="791.7" x2="170.2" y2="791.7" stroke="#000" stroke-width="1.2"/>
<rect x="156.8" y="712.1" width="17.4" height="69.7" fill="#ff00ff" stroke="#000" stroke-width="1.2"/>
<line x1="156.8" y1="764.7" x2="174.2" y2="764.7" stroke="#000" stroke-width="1.2"/>
<circle cx="165.5" cy="708.6" r="1.9" fill="#000" stroke="none" stroke-width="1"/>
<circle cx="165.5" cy="712.5" r="1.9" fill="#000" stroke="none" stroke-width="1"/>
<circle cx="165.5" cy="757" r="1.9" fill="#000" stroke="none" stroke-width="1"/>
<circle cx="165.5" cy="775" r="1.9" fill="#000" stroke="none" stroke-width="1"/>
<circle cx="165.5" cy="780" r="1.9" fill="#000" stroke="none" stroke-width="1"/>
<circle cx="165.5" cy="791.7" r="1.9" fill="#000" stroke="none" stroke-width="1"/>
<line x1="165.5" y1="791.6" x2="165.5" y2="795" stroke="#000" stroke-width="1.2"/>
<line x1="192.8" y1="696" x2="192.8" y2="721.6" stroke="#000" stroke-width="1.2"/>
<line x1="192.8" y1="763.6" x2="192.8" y2="768.2" stroke="#000" stroke-width="1.2"/>
<line x1="188" y1="696" x2="197.5" y2="696" stroke="#000" stroke-width="1.2"/>
<line x1="188" y1="768.2" x2="197.5" y2="768.2" stroke="#000" stroke-width="1.2"/>
<rect x="184.1" y="721.6" width="17.4" height="42" fill="#800080" stroke="#000" stroke-width="1.2"/>
<line x1="184.1" y1="741.5" x2="201.4" y2="741.5" stroke="#000" stroke-width="1.2"/>
<circle cx="192.8" cy="696" r="1.9" fill="#000" stroke="none" stroke-width="1"/>
<circle cx="192.8" cy="721" r="1.9" fill="#000" stroke="none" stroke-width="1"/>
<circle cx="192.8" cy="739" r="1.9" fill="#000" stroke="none" stroke-width="1"/>
<circle cx="189.8" cy="744" r="1.9" fill="#000" stroke="none" stroke-width="1"/>
<circle cx="195.8" cy="743" r="1.9" fill="#000" stroke="none" stroke-width="1"/>
<circle cx="192.8" cy="768.2" r="1.9" fill="#000" stroke="none" stroke-width="1"/>
<line x1="192.8" y1="791.6" x2="192.8" y2="795" stroke="#000" stroke-width="1.2"/>
<line x1="220" y1="726.1" x2="220" y2="757.3" stroke="#000" stroke-width="1.2"/>
<line x1="220" y1="791.7" x2="220" y2="791.7" stroke="#000" stroke-width="1.2"/>
<line x1="215.3" y1="726.1" x2="224.8" y2="726.1" stroke="#000" stroke-width="1.2"/>
<line x1="215.3" y1="791.7" x2="224.8" y2="791.7" stroke="#000" stroke-width="1.2"/>
<rect x="211.3" y="757.3" width="17.4" height="34.4" fill="#ff8000" stroke="#000" stroke-width="1.2"/>
<line x1="211.3" y1="766.1" x2="228.7" y2="766.1" stroke="#000" stroke-width="1.2"/>
<circle cx="220" cy="726.1" r="1.9" fill="#000" stroke="none" stroke-width="1"/>
<circle cx="217" cy="757" r="1.9" fill="#000" stroke="none" stroke-width="1"/>
<circle cx="223" cy="757" r="1.9" fill="#000" stroke="none" stroke-width="1"/>
<circle cx="220" cy="767" r="1.9" fill="#000" stroke="none" stroke-width="1"/>
<circle cx="220" cy="777" r="1.9" fill="#000" stroke="none" stroke-width="1"/>
<circle cx="215" cy="791.7" r="1.9" fill="#000" stroke="none" stroke-width="1"/>
<circle cx="225" cy="791.7" r="1.9" fill="#000" stroke="none" stroke-width="1"/>
<line x1="220" y1="791.6" x2="220" y2="795" stroke="#000" stroke-width="1.2"/>
<text x="84" y="743.3" font-size="8.8" text-anchor="middle" font-weight="bold" fill="#000">NS</text>
<text x="111.2" y="741.5" font-size="8.8" text-anchor="middle" font-weight="bold" fill="#000">NS</text>
<text x="138.3" y="707.3" font-size="8.8" text-anchor="middle" font-weight="bold" fill="#000">NS</text>
<text x="165.4" y="707.7" font-size="16.3" text-anchor="middle" font-weight="bold" fill="#000">*</text>
<text x="192.8" y="695.8" font-size="16.3" text-anchor="middle" font-weight="bold" fill="#000">**</text>
<text x="219.5" y="716" font-size="8.8" text-anchor="middle" font-weight="bold" fill="#000">NS</text>
<text transform="translate(57.9,800) rotate(-45)" font-size="7.1" font-weight="bold" text-anchor="end">SAL</text>
<text transform="translate(85.2,800) rotate(-45)" font-size="7.1" font-weight="bold" text-anchor="end">pre-F</text>
<text transform="translate(112.4,800) rotate(-45)" font-size="7.1" font-weight="bold" text-anchor="end">DDA052</text>
<text transform="translate(139.7,800) rotate(-45)" font-size="7.1" font-weight="bold" text-anchor="end">CAF01</text>
<text transform="translate(167,800) rotate(-45)" font-size="7.1" font-weight="bold" text-anchor="end">CAF08 low</text>
<text transform="translate(194.2,800) rotate(-45)" font-size="7.1" font-weight="bold" text-anchor="end">CAF08 high</text>
<text transform="translate(221.5,800) rotate(-45)" font-size="7.1" font-weight="bold" text-anchor="end">ADVX</text>
<line x1="262.8" y1="664" x2="262.8" y2="723.3" stroke="#000" stroke-width="1.3"/>
<line x1="262.8" y1="731.4" x2="262.8" y2="792.2" stroke="#000" stroke-width="1.3"/>
<line x1="259.5" y1="723.3" x2="264.5" y2="723.3" stroke="#000" stroke-width="1.2"/>
<line x1="259.5" y1="731.4" x2="264.5" y2="731.4" stroke="#000" stroke-width="1.2"/>
<line x1="259.8" y1="791.7" x2="262.8" y2="791.7" stroke="#000" stroke-width="1.3"/>
<text x="259" y="794.2" font-size="7" text-anchor="end" font-weight="bold" fill="#000">0.0</text>
<line x1="259.8" y1="767.6" x2="262.8" y2="767.6" stroke="#000" stroke-width="1.3"/>
<text x="259" y="770.1" font-size="7" text-anchor="end" font-weight="bold" fill="#000">0.1</text>
<line x1="259.8" y1="743.4" x2="262.8" y2="743.4" stroke="#000" stroke-width="1.3"/>
<text x="259" y="745.9" font-size="7" text-anchor="end" font-weight="bold" fill="#000">0.2</text>
<line x1="259.8" y1="710" x2="262.8" y2="710" stroke="#000" stroke-width="1.3"/>
<text x="259" y="712.5" font-size="7" text-anchor="end" font-weight="bold" fill="#000">1</text>
<line x1="259.8" y1="691.1" x2="262.8" y2="691.1" stroke="#000" stroke-width="1.3"/>
<text x="259" y="693.6" font-size="7" text-anchor="end" font-weight="bold" fill="#000">2</text>
<line x1="259.8" y1="672.4" x2="262.8" y2="672.4" stroke="#000" stroke-width="1.3"/>
<text x="259" y="674.9" font-size="7" text-anchor="end" font-weight="bold" fill="#000">3</text>
<line x1="262.2" y1="791.8" x2="461.8" y2="791.8" stroke="#000" stroke-width="1.3"/>
<text transform="translate(234.9,727.4) rotate(-90)" font-size="8.3" font-weight="bold" text-anchor="middle">Cytokine<tspan dy="-3" font-size="5.5">+</tspan></text>
<text transform="translate(245.6,728.1) rotate(-90)" font-size="8.5" font-weight="bold" text-anchor="middle">(% of&#160; CD8<tspan dy="-3" font-size="5.5">+</tspan><tspan dy="3">CD44</tspan><tspan dy="-3" font-size="5.5">+</tspan><tspan dy="3">)</tspan></text>
<rect x="262.8" y="664.3" width="26.8" height="17.3" fill="#fff" stroke="#000" stroke-width="1.4"/>
<text x="276.2" y="677.1" font-size="12" text-anchor="middle" font-weight="bold" fill="#000">CD8</text>
<line x1="281" y1="764.7" x2="281" y2="766.4" stroke="#000" stroke-width="1.2"/>
<line x1="281" y1="789.2" x2="281" y2="791.7" stroke="#000" stroke-width="1.2"/>
<line x1="276.2" y1="764.7" x2="285.8" y2="764.7" stroke="#000" stroke-width="1.2"/>
<line x1="276.2" y1="791.7" x2="285.8" y2="791.7" stroke="#000" stroke-width="1.2"/>
<rect x="272.3" y="766.4" width="17.4" height="22.8" fill="#999999" stroke="#000" stroke-width="1.2"/>
<line x1="272.3" y1="776.6" x2="289.7" y2="776.6" stroke="#000" stroke-width="1.2"/>
<circle cx="277" cy="765" r="1.8" fill="#000" stroke="none" stroke-width="1"/>
<circle cx="284" cy="765" r="1.8" fill="#000" stroke="none" stroke-width="1"/>
<circle cx="286" cy="770" r="1.8" fill="#000" stroke="none" stroke-width="1"/>
<circle cx="276" cy="783" r="1.8" fill="#000" stroke="none" stroke-width="1"/>
<circle cx="286" cy="779" r="1.8" fill="#000" stroke="none" stroke-width="1"/>
<circle cx="278" cy="791.7" r="1.8" fill="#000" stroke="none" stroke-width="1"/>
<circle cx="284" cy="791.7" r="1.8" fill="#000" stroke="none" stroke-width="1"/>
<line x1="281" y1="791.8" x2="281" y2="795" stroke="#000" stroke-width="1.2"/>
<line x1="308.1" y1="753.1" x2="308.1" y2="765.4" stroke="#000" stroke-width="1.2"/>
<line x1="308.1" y1="789.9" x2="308.1" y2="791.7" stroke="#000" stroke-width="1.2"/>
<line x1="303.3" y1="753.1" x2="312.8" y2="753.1" stroke="#000" stroke-width="1.2"/>
<line x1="303.3" y1="791.7" x2="312.8" y2="791.7" stroke="#000" stroke-width="1.2"/>
<rect x="299.4" y="765.4" width="17.4" height="24.5" fill="#00ff00" stroke="#000" stroke-width="1.2"/>
<line x1="299.4" y1="785.3" x2="316.8" y2="785.3" stroke="#000" stroke-width="1.2"/>
<circle cx="308.1" cy="753.1" r="1.8" fill="#000" stroke="none" stroke-width="1"/>
<circle cx="302.1" cy="765" r="1.8" fill="#000" stroke="none" stroke-width="1"/>
<circle cx="304.1" cy="788" r="1.8" fill="#000" stroke="none" stroke-width="1"/>
<circle cx="312.1" cy="785" r="1.8" fill="#000" stroke="none" stroke-width="1"/>
<circle cx="302.1" cy="791.7" r="1.8" fill="#000" stroke="none" stroke-width="1"/>
<circle cx="308.1" cy="791.7" r="1.8" fill="#000" stroke="none" stroke-width="1"/>
<circle cx="314.1" cy="791.7" r="1.8" fill="#000" stroke="none" stroke-width="1"/>
<line x1="308.1" y1="791.8" x2="308.1" y2="795" stroke="#000" stroke-width="1.2"/>
<line x1="335.1" y1="771.7" x2="335.1" y2="776.9" stroke="#000" stroke-width="1.2"/>
<line x1="335.1" y1="789.9" x2="335.1" y2="791.7" stroke="#000" stroke-width="1.2"/>
<line x1="330.4" y1="771.7" x2="339.9" y2="771.7" stroke="#000" stroke-width="1.2"/>
<line x1="330.4" y1="791.7" x2="339.9" y2="791.7" stroke="#000" stroke-width="1.2"/>
<rect x="326.4" y="776.9" width="17.4" height="13" fill="#ff0000" stroke="#000" stroke-width="1.2"/>
<line x1="326.4" y1="782.9" x2="343.8" y2="782.9" stroke="#000" stroke-width="1.2"/>
<circle cx="330.1" cy="773" r="1.8" fill="#000" stroke="none" stroke-width="1"/>
<circle cx="335.1" cy="778" r="1.8" fill="#000" stroke="none" stroke-width="1"/>
<circle cx="340.1" cy="778" r="1.8" fill="#000" stroke="none" stroke-width="1"/>
<circle cx="331.1" cy="785" r="1.8" fill="#000" stroke="none" stroke-width="1"/>
<circle cx="329.1" cy="791.7" r="1.8" fill="#000" stroke="none" stroke-width="1"/>
<circle cx="335.1" cy="791.7" r="1.8" fill="#000" stroke="none" stroke-width="1"/>
<circle cx="340.1" cy="791.7" r="1.8" fill="#000" stroke="none" stroke-width="1"/>
<line x1="335.1" y1="791.8" x2="335.1" y2="795" stroke="#000" stroke-width="1.2"/>
<line x1="362.1" y1="765.4" x2="362.1" y2="777.6" stroke="#000" stroke-width="1.2"/>
<line x1="362.1" y1="789.9" x2="362.1" y2="791.7" stroke="#000" stroke-width="1.2"/>
<line x1="357.4" y1="765.4" x2="366.9" y2="765.4" stroke="#000" stroke-width="1.2"/>
<line x1="357.4" y1="791.7" x2="366.9" y2="791.7" stroke="#000" stroke-width="1.2"/>
<rect x="353.4" y="777.6" width="17.4" height="12.3" fill="#0000ff" stroke="#000" stroke-width="1.2"/>
<line x1="353.4" y1="787.4" x2="370.8" y2="787.4" stroke="#000" stroke-width="1.2"/>
<circle cx="362.1" cy="765.4" r="1.8" fill="#000" stroke="none" stroke-width="1"/>
<circle cx="358.1" cy="778" r="1.8" fill="#000" stroke="none" stroke-width="1"/>
<circle cx="366.1" cy="778" r="1.8" fill="#000" stroke="none" stroke-width="1"/>
<circle cx="362.1" cy="783" r="1.8" fill="#000" stroke="none" stroke-width="1"/>
<circle cx="356.1" cy="791.7" r="1.8" fill="#000" stroke="none" stroke-width="1"/>
<circle cx="362.1" cy="791.7" r="1.8" fill="#000" stroke="none" stroke-width="1"/>
<circle cx="368.1" cy="791.7" r="1.8" fill="#000" stroke="none" stroke-width="1"/>
<line x1="362.1" y1="791.8" x2="362.1" y2="795" stroke="#000" stroke-width="1.2"/>
<line x1="389.2" y1="711.8" x2="389.2" y2="722.6" stroke="#000" stroke-width="1.2"/>
<line x1="389.2" y1="786.4" x2="389.2" y2="791.7" stroke="#000" stroke-width="1.2"/>
<line x1="384.4" y1="711.8" x2="393.9" y2="711.8" stroke="#000" stroke-width="1.2"/>
<line x1="384.4" y1="791.7" x2="393.9" y2="791.7" stroke="#000" stroke-width="1.2"/>
<rect x="380.5" y="722.6" width="17.4" height="63.8" fill="#ff00ff" stroke="#000" stroke-width="1.2"/>
<line x1="380.5" y1="780.1" x2="397.9" y2="780.1" stroke="#000" stroke-width="1.2"/>
<circle cx="389.2" cy="711.8" r="1.8" fill="#000" stroke="none" stroke-width="1"/>
<circle cx="385.2" cy="721" r="1.8" fill="#000" stroke="none" stroke-width="1"/>
<circle cx="393.2" cy="721" r="1.8" fill="#000" stroke="none" stroke-width="1"/>
<circle cx="389.2" cy="777" r="1.8" fill="#000" stroke="none" stroke-width="1"/>
<circle cx="385.2" cy="790" r="1.8" fill="#000" stroke="none" stroke-width="1"/>
<circle cx="393.2" cy="790" r="1.8" fill="#000" stroke="none" stroke-width="1"/>
<line x1="389.2" y1="791.8" x2="389.2" y2="795" stroke="#000" stroke-width="1.2"/>
<line x1="416.2" y1="678.5" x2="416.2" y2="702.7" stroke="#000" stroke-width="1.2"/>
<line x1="416.2" y1="777.6" x2="416.2" y2="781.8" stroke="#000" stroke-width="1.2"/>
<line x1="411.5" y1="678.5" x2="421" y2="678.5" stroke="#000" stroke-width="1.2"/>
<line x1="411.5" y1="781.8" x2="421" y2="781.8" stroke="#000" stroke-width="1.2"/>
<rect x="407.6" y="702.7" width="17.4" height="74.9" fill="#800080" stroke="#000" stroke-width="1.2"/>
<line x1="407.6" y1="736.3" x2="424.9" y2="736.3" stroke="#000" stroke-width="1.2"/>
<circle cx="416.2" cy="678.5" r="1.8" fill="#000" stroke="none" stroke-width="1"/>
<circle cx="416.2" cy="699.2" r="1.8" fill="#000" stroke="none" stroke-width="1"/>
<circle cx="416.2" cy="704.2" r="1.8" fill="#000" stroke="none" stroke-width="1"/>
<circle cx="416.2" cy="714.1" r="1.8" fill="#000" stroke="none" stroke-width="1"/>
<circle cx="416.2" cy="755.5" r="1.8" fill="#000" stroke="none" stroke-width="1"/>
<circle cx="411.2" cy="778" r="1.8" fill="#000" stroke="none" stroke-width="1"/>
<circle cx="421.2" cy="777" r="1.8" fill="#000" stroke="none" stroke-width="1"/>
<circle cx="416.2" cy="781.8" r="1.8" fill="#000" stroke="none" stroke-width="1"/>
<line x1="416.2" y1="791.8" x2="416.2" y2="795" stroke="#000" stroke-width="1.2"/>
<line x1="443.3" y1="753.1" x2="443.3" y2="767.6" stroke="#000" stroke-width="1.2"/>
<line x1="443.3" y1="786.6" x2="443.3" y2="791.7" stroke="#000" stroke-width="1.2"/>
<line x1="438.6" y1="753.1" x2="448.1" y2="753.1" stroke="#000" stroke-width="1.2"/>
<line x1="438.6" y1="791.7" x2="448.1" y2="791.7" stroke="#000" stroke-width="1.2"/>
<rect x="434.6" y="767.6" width="17.4" height="19" fill="#ff8000" stroke="#000" stroke-width="1.2"/>
<line x1="434.6" y1="779.2" x2="452" y2="779.2" stroke="#000" stroke-width="1.2"/>
<circle cx="443.3" cy="753.1" r="1.8" fill="#000" stroke="none" stroke-width="1"/>
<circle cx="443.3" cy="760.5" r="1.8" fill="#000" stroke="none" stroke-width="1"/>
<circle cx="443.3" cy="773.5" r="1.8" fill="#000" stroke="none" stroke-width="1"/>
<circle cx="437.3" cy="779.2" r="1.8" fill="#000" stroke="none" stroke-width="1"/>
<circle cx="443.3" cy="779.2" r="1.8" fill="#000" stroke="none" stroke-width="1"/>
<circle cx="443.3" cy="783" r="1.8" fill="#000" stroke="none" stroke-width="1"/>
<circle cx="439.3" cy="791.7" r="1.8" fill="#000" stroke="none" stroke-width="1"/>
<circle cx="447.3" cy="791.7" r="1.8" fill="#000" stroke="none" stroke-width="1"/>
<line x1="443.3" y1="791.8" x2="443.3" y2="795" stroke="#000" stroke-width="1.2"/>
<rect x="370" y="723.5" width="60" height="7.7" fill="#fff" stroke="none" stroke-width="0"/>
<text x="308.3" y="747.3" font-size="8.8" text-anchor="middle" font-weight="bold" fill="#000">NS</text>
<text x="335" y="764.7" font-size="8.8" text-anchor="middle" font-weight="bold" fill="#000">NS</text>
<text x="362" y="757.3" font-size="8.8" text-anchor="middle" font-weight="bold" fill="#000">NS</text>
<text x="389.4" y="702.7" font-size="8.8" text-anchor="middle" font-weight="bold" fill="#000">NS</text>
<text x="416.7" y="677.9" font-size="14.8" text-anchor="middle" font-weight="bold" fill="#000">**</text>
<text x="443.8" y="745.6" font-size="8.8" text-anchor="middle" font-weight="bold" fill="#000">NS</text>
<text transform="translate(282.5,800.2) rotate(-45)" font-size="7.1" font-weight="bold" text-anchor="end">SAL</text>
<text transform="translate(309.6,800.2) rotate(-45)" font-size="7.1" font-weight="bold" text-anchor="end">pre-F</text>
<text transform="translate(336.6,800.2) rotate(-45)" font-size="7.1" font-weight="bold" text-anchor="end">DDA052</text>
<text transform="translate(363.6,800.2) rotate(-45)" font-size="7.1" font-weight="bold" text-anchor="end">CAF01</text>
<text transform="translate(390.7,800.2) rotate(-45)" font-size="7.1" font-weight="bold" text-anchor="end">CAF08 low</text>
<text transform="translate(417.8,800.2) rotate(-45)" font-size="7.1" font-weight="bold" text-anchor="end">CAF08 high</text>
<text transform="translate(444.8,800.2) rotate(-45)" font-size="7.1" font-weight="bold" text-anchor="end">ADVX</text>
<rect x="494.4" y="727.2" width="12.3" height="11.7" fill="#f2f2ff" stroke="none" stroke-width="0"/>
<rect x="506.4" y="727.2" width="12.4" height="11.7" fill="#b2b2ff" stroke="none" stroke-width="0"/>
<rect x="518.5" y="727.2" width="12.7" height="11.7" fill="#5959ff" stroke="none" stroke-width="0"/>
<rect x="530.9" y="727.2" width="12" height="11.7" fill="#fafaff" stroke="none" stroke-width="0"/>
<rect x="555" y="727.2" width="13" height="11.7" fill="#b8b8ff" stroke="none" stroke-width="0"/>
<rect x="567.7" y="727.2" width="12.4" height="11.7" fill="#9494ff" stroke="none" stroke-width="0"/>
<rect x="579.8" y="727.2" width="12.3" height="11.7" fill="#a8a8ff" stroke="none" stroke-width="0"/>
<rect x="591.8" y="727.2" width="12.8" height="11.7" fill="#a8a8ff" stroke="none" stroke-width="0"/>
<rect x="604.3" y="727.2" width="12.3" height="11.7" fill="#f7f7ff" stroke="none" stroke-width="0"/>
<rect x="616.3" y="727.2" width="12.6" height="11.7" fill="#fafaff" stroke="none" stroke-width="0"/>
<rect x="506.4" y="738.6" width="12.4" height="11.3" fill="#fafaff" stroke="none" stroke-width="0"/>
<rect x="518.5" y="738.6" width="12.7" height="11.3" fill="#f7f7ff" stroke="none" stroke-width="0"/>
<rect x="567.7" y="738.6" width="12.4" height="11.3" fill="#fafaff" stroke="none" stroke-width="0"/>
<rect x="506.4" y="749.6" width="12.4" height="11.2" fill="#d9d9ff" stroke="none" stroke-width="0"/>
<rect x="518.5" y="749.6" width="12.7" height="11.2" fill="#ababff" stroke="none" stroke-width="0"/>
<rect x="555" y="749.6" width="13" height="11.2" fill="#fcfcff" stroke="none" stroke-width="0"/>
<rect x="567.7" y="749.6" width="12.4" height="11.2" fill="#fcfcff" stroke="none" stroke-width="0"/>
<rect x="579.8" y="749.6" width="12.3" height="11.2" fill="#e0e0ff" stroke="none" stroke-width="0"/>
<rect x="591.8" y="749.6" width="12.8" height="11.2" fill="#e6e6ff" stroke="none" stroke-width="0"/>
<rect x="604.3" y="749.6" width="12.3" height="11.2" fill="#ededff" stroke="none" stroke-width="0"/>
<rect x="616.3" y="749.6" width="12.6" height="11.2" fill="#fafaff" stroke="none" stroke-width="0"/>
<rect x="494.4" y="760.5" width="12.3" height="11.3" fill="#e6e6ff" stroke="none" stroke-width="0"/>
<rect x="506.4" y="760.5" width="12.4" height="11.3" fill="#fcfcff" stroke="none" stroke-width="0"/>
<rect x="518.5" y="760.5" width="12.7" height="11.3" fill="#f7f7ff" stroke="none" stroke-width="0"/>
<rect x="530.9" y="760.5" width="12" height="11.3" fill="#fafaff" stroke="none" stroke-width="0"/>
<rect x="555" y="760.5" width="13" height="11.3" fill="#0000ff" stroke="none" stroke-width="0"/>
<rect x="567.7" y="760.5" width="12.4" height="11.3" fill="#f5f5ff" stroke="none" stroke-width="0"/>
<rect x="579.8" y="760.5" width="12.3" height="11.3" fill="#cfcfff" stroke="none" stroke-width="0"/>
<rect x="591.8" y="760.5" width="12.8" height="11.3" fill="#bfbfff" stroke="none" stroke-width="0"/>
<rect x="604.3" y="760.5" width="12.3" height="11.3" fill="#f0f0ff" stroke="none" stroke-width="0"/>
<rect x="494.4" y="771.5" width="12.3" height="11.2" fill="#fafaff" stroke="none" stroke-width="0"/>
<rect x="506.4" y="771.5" width="12.4" height="11.2" fill="#fafaff" stroke="none" stroke-width="0"/>
<rect x="518.5" y="771.5" width="12.7" height="11.2" fill="#f7f7ff" stroke="none" stroke-width="0"/>
<rect x="555" y="771.5" width="13" height="11.2" fill="#dedeff" stroke="none" stroke-width="0"/>
<rect x="579.8" y="771.5" width="12.3" height="11.2" fill="#f5f5ff" stroke="none" stroke-width="0"/>
<rect x="591.8" y="771.5" width="12.8" height="11.2" fill="#fafaff" stroke="none" stroke-width="0"/>
<rect x="494.4" y="782.4" width="12.3" height="10.8" fill="#f2f2ff" stroke="none" stroke-width="0"/>
<rect x="506.4" y="782.4" width="12.4" height="10.8" fill="#f7f7ff" stroke="none" stroke-width="0"/>
<rect x="518.5" y="782.4" width="12.7" height="10.8" fill="#fafaff" stroke="none" stroke-width="0"/>
<rect x="555" y="782.4" width="13" height="10.8" fill="#7373ff" stroke="none" stroke-width="0"/>
<rect x="567.7" y="782.4" width="12.4" height="10.8" fill="#fafaff" stroke="none" stroke-width="0"/>
<rect x="579.8" y="782.4" width="12.3" height="10.8" fill="#e6e6ff" stroke="none" stroke-width="0"/>
<rect x="591.8" y="782.4" width="12.8" height="10.8" fill="#fafaff" stroke="none" stroke-width="0"/>
<rect x="604.3" y="782.4" width="12.3" height="10.8" fill="#f0f0ff" stroke="none" stroke-width="0"/>
<rect x="494.2" y="727.2" width="135" height="65.8" fill="none" stroke="#000" stroke-width="1.6"/>
<line x1="555" y1="687.7" x2="555" y2="789.6" stroke="#000" stroke-width="1.5"/>
<text x="528.3" y="693.6" font-size="10.5" text-anchor="middle" font-weight="bold" fill="#000">AD</text>
<text x="594" y="693.6" font-size="10.5" text-anchor="middle" font-weight="bold" fill="#000">NB</text>
<text transform="translate(498,722.8) rotate(90)" font-size="6.7" font-weight="bold" text-anchor="end">ADVX</text>
<text transform="translate(510.1,722.8) rotate(90)" font-size="6.7" font-weight="bold" text-anchor="end">CAF08 high</text>
<text transform="translate(522.3,722.8) rotate(90)" font-size="6.7" font-weight="bold" text-anchor="end">CAF01</text>
<text transform="translate(534.4,722.8) rotate(90)" font-size="6.7" font-weight="bold" text-anchor="end">Pre-F</text>
<text transform="translate(546.4,722.8) rotate(90)" font-size="6.7" font-weight="bold" text-anchor="end">SAL</text>
<text transform="translate(559,722.8) rotate(90)" font-size="6.7" font-weight="bold" text-anchor="end">ADVX</text>
<text transform="translate(571.4,722.8) rotate(90)" font-size="6.7" font-weight="bold" text-anchor="end">CAF08 high</text>
<text transform="translate(583.4,722.8) rotate(90)" font-size="6.7" font-weight="bold" text-anchor="end">CAF01</text>
<text transform="translate(595.6,722.8) rotate(90)" font-size="6.7" font-weight="bold" text-anchor="end">DDA052</text>
<text transform="translate(607.9,722.8) rotate(90)" font-size="6.7" font-weight="bold" text-anchor="end">Pre-F</text>
<text transform="translate(620.1,722.8) rotate(90)" font-size="6.7" font-weight="bold" text-anchor="end">SAL</text>
<text x="632.6" y="735.6" font-size="6.8" text-anchor="start" font-weight="bold" fill="#000">IFN</text>
<text x="632.6" y="746" font-size="6.8" text-anchor="start" font-weight="bold" fill="#000">TNF</text>
<text x="632.6" y="757.3" font-size="6.8" text-anchor="start" font-weight="bold" fill="#000">IL17</text>
<text x="632.6" y="768.1" font-size="6.8" text-anchor="start" font-weight="bold" fill="#000">IL5</text>
<text x="632.6" y="779.2" font-size="6.8" text-anchor="start" font-weight="bold" fill="#000">IL13</text>
<text x="632.6" y="790.5" font-size="6.8" text-anchor="start" font-weight="bold" fill="#000">IL10</text>
<rect x="494.6" y="801.9" width="135.2" height="11.4" fill="url(#cbar)" stroke="#000" stroke-width="0.9"/>
<line x1="544.5" y1="801.9" x2="544.5" y2="803.5" stroke="#000" stroke-width="0.8"/>
<line x1="544.5" y1="811.7" x2="544.5" y2="813.3" stroke="#000" stroke-width="0.8"/>
<line x1="593.6" y1="801.9" x2="593.6" y2="803.5" stroke="#000" stroke-width="0.8"/>
<line x1="593.6" y1="811.7" x2="593.6" y2="813.3" stroke="#000" stroke-width="0.8"/>
<text transform="translate(542,817.3) rotate(90)" font-size="7" font-weight="normal">2000</text>
<text transform="translate(591.2,817.3) rotate(90)" font-size="7" font-weight="normal">4000</text>
</svg>
</body></html>
